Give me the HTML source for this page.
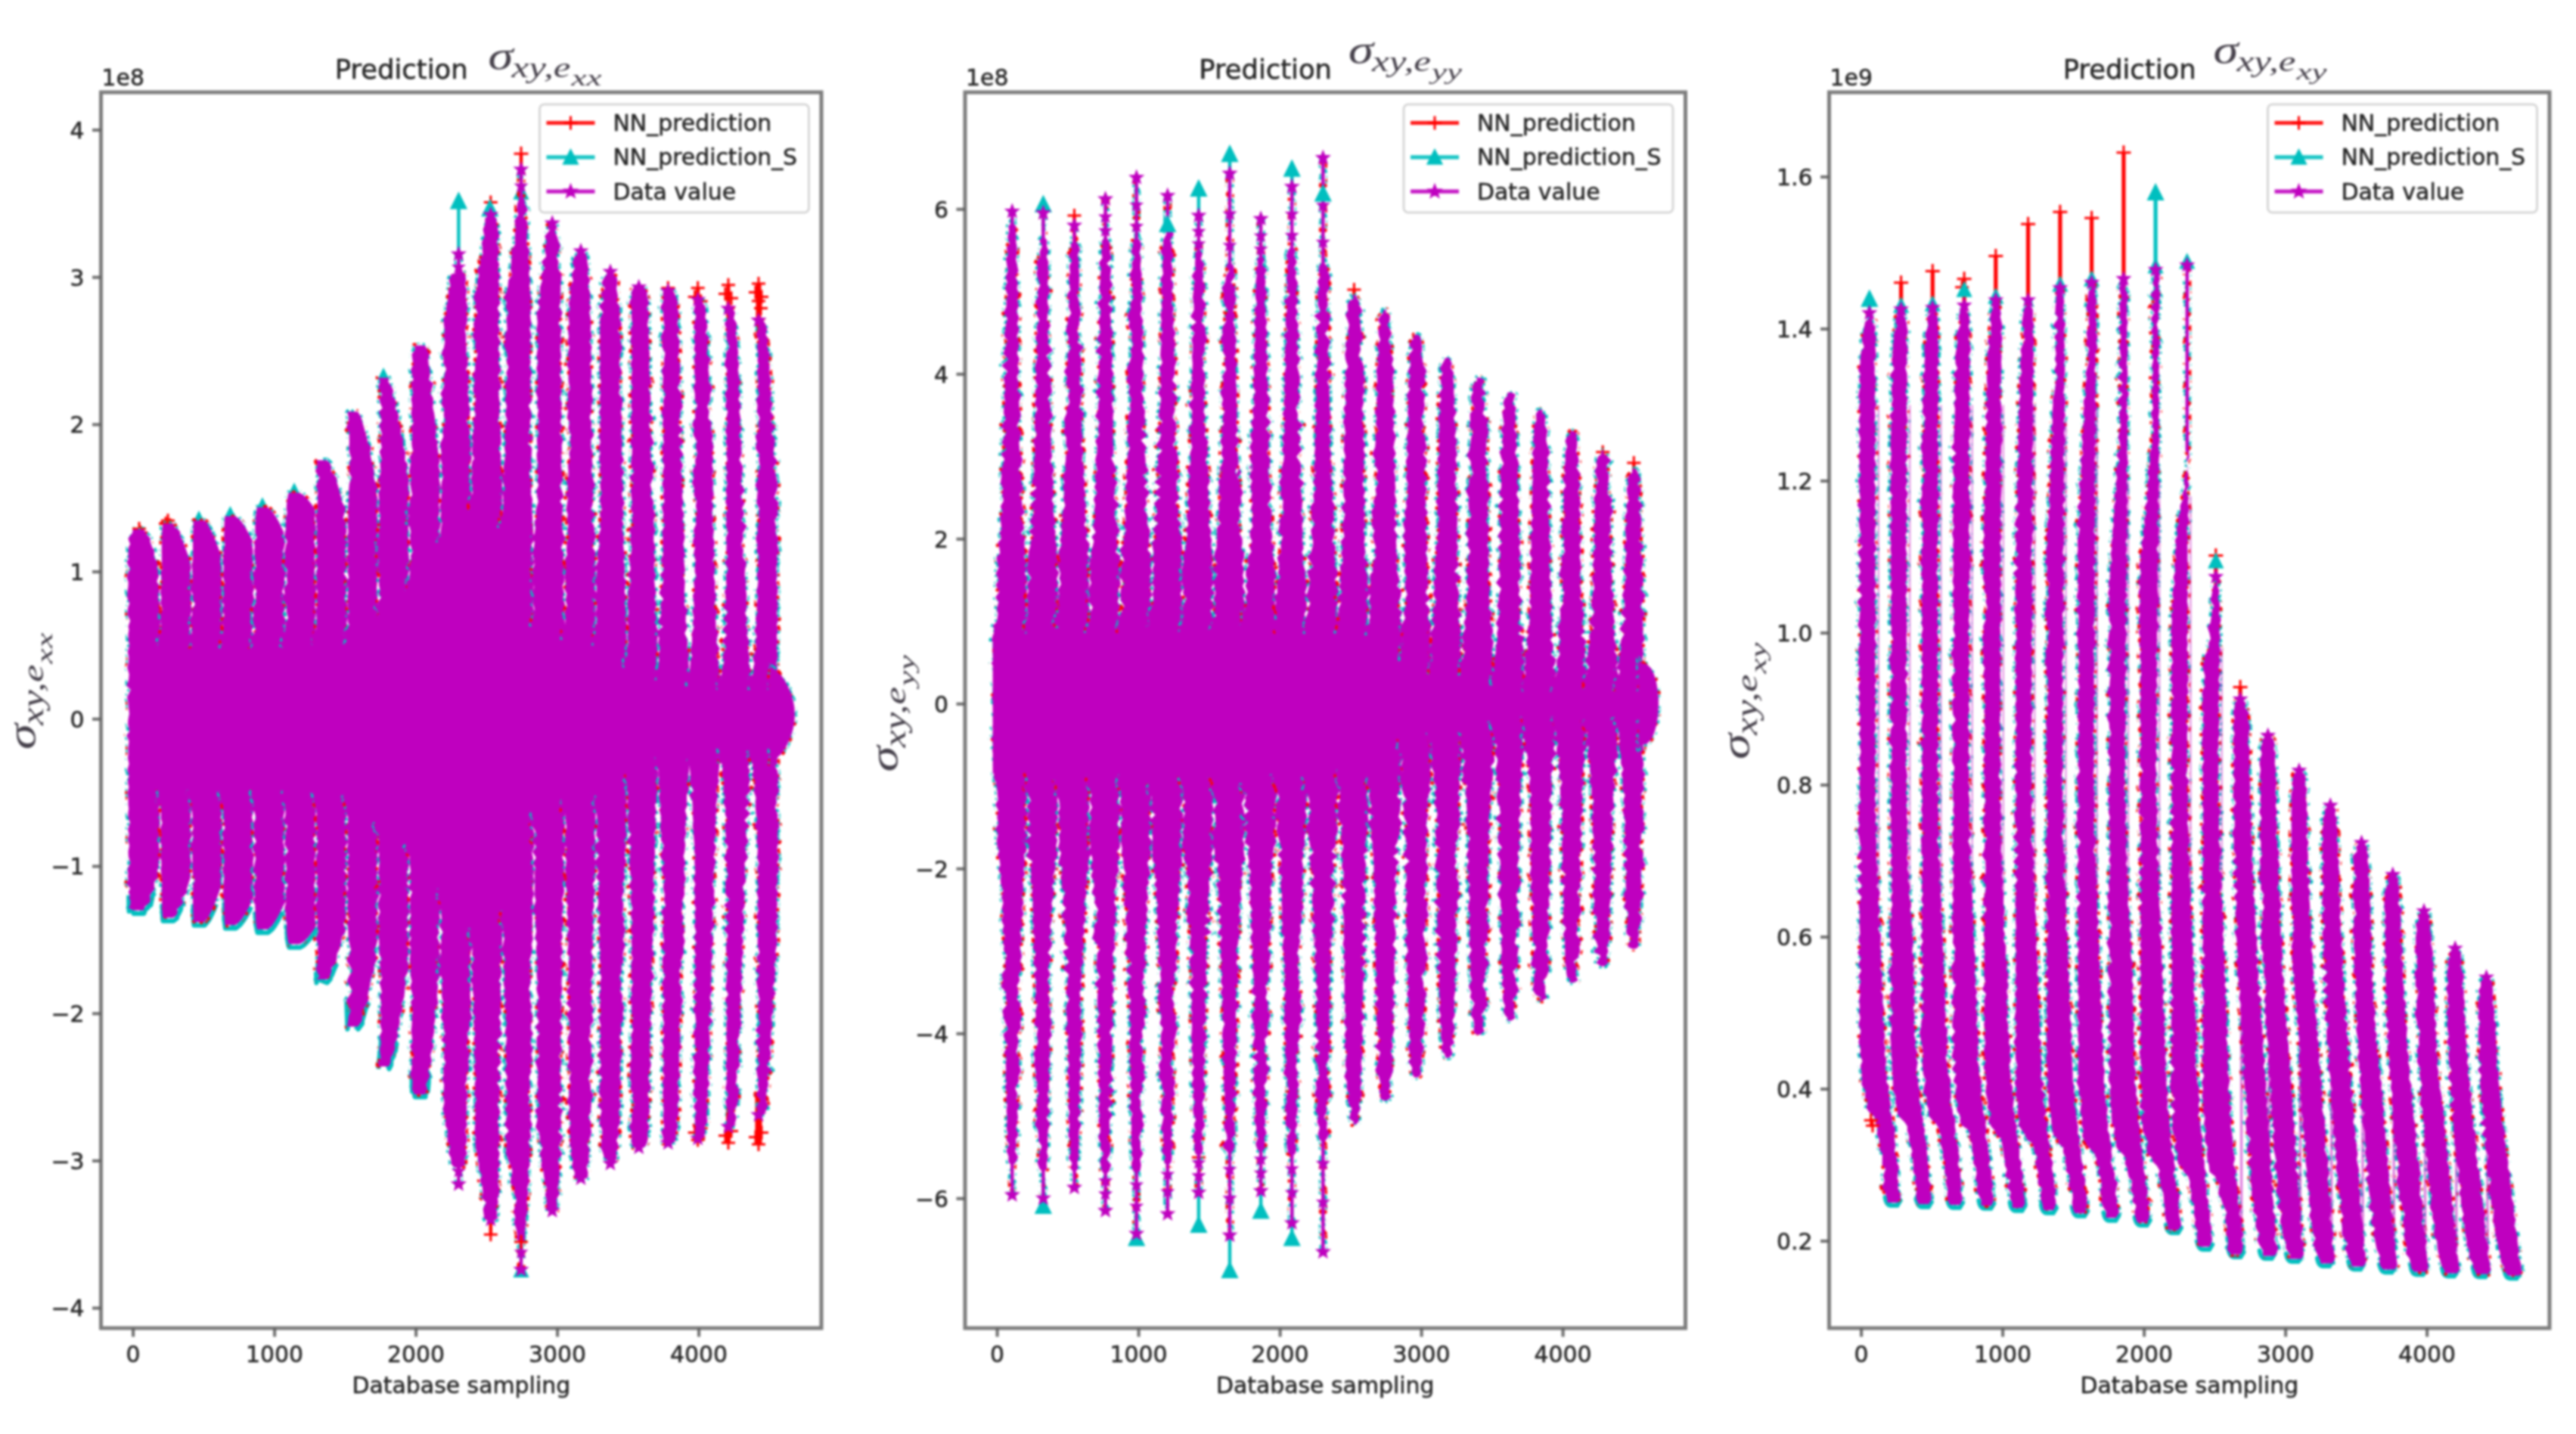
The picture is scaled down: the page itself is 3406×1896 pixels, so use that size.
<!DOCTYPE html><html><head><meta charset="utf-8"><title>Prediction plots</title><style>html,body{margin:0;padding:0;background:#fff}svg{display:block;filter:blur(1.6px)}</style></head><body><svg width="3406" height="1896" viewBox="0 0 3406 1896">
<rect width="3406" height="1896" fill="#fff"/>
<clipPath id="cp0"><rect x="133.5" y="122.0" width="952.5" height="1634.0"/></clipPath>
<g clip-path="url(#cp0)">
<pattern id="spk" patternUnits="userSpaceOnUse" width="67" height="59"><path d="M41.7 40.9l2.9 5.2h-5.7zM63.1 40.6l3 5.4h-6zM-3.9 40.6l3 5.4h-6zM1.9 24.4l3 5.5h-6.1zM68.9 24.4l3 5.5h-6.1zM43.5 51l2.1 3.8h-4.2zM31.4 11.9l2.6 4.7h-5.2zM38.5 -1.5l2.2 4h-4.5zM38.5 57.5l2.2 4h-4.5zM18.7 51.2l2.8 5.1h-5.7zM10.7 44.9l2.2 3.9h-4.3zM41.4 5.5l2 3.6h-4zM58.4 10.1l2.2 4h-4.5zM65.8 49.2l2.3 4.2h-4.6zM-1.2 49.2l2.3 4.2h-4.6zM64.4 29.1l2.7 4.9h-5.5zM-2.6 29.1l2.7 4.9h-5.5zM13.7 52.8l2.8 5h-5.5zM13.7 -6.2l2.8 5h-5.5zM64.8 50.4l2.3 4.2h-4.7zM-2.2 50.4l2.3 4.2h-4.7zM24.2 7.6l2.2 3.9h-4.3zM4.4 15.1l2.7 4.8h-5.3zM0.2 37.6l2.4 4.3h-4.7zM67.2 37.6l2.4 4.3h-4.7zM20.8 45.8l2.5 4.6h-5.1zM21.2 25.6l2.8 5h-5.6zM3.8 55.5l2 3.6h-4.1zM3.8 -3.5l2 3.6h-4.1zM70.8 55.5l2 3.6h-4.1zM70.8 -3.5l2 3.6h-4.1zM50.2 47.8l2 3.6h-4zM52.8 19l2.6 4.7h-5.3zM0.6 0.6l2.2 4h-4.4zM0.6 59.6l2.2 4h-4.4zM67.6 0.6l2.2 4h-4.4zM67.6 59.6l2.2 4h-4.4zM64 8.8l2.8 5.1h-5.7zM-3 8.8l2.8 5.1h-5.7zM62.3 53.2l2.4 4.3h-4.8zM62.3 -5.8l2.4 4.3h-4.8zM23.8 28.1l2.9 5.1h-5.7zM7.2 41.3l2.9 5.2h-5.8zM57.6 -0.9l3 5.5h-6.1zM57.6 58.1l3 5.5h-6.1zM6.1 17.4l2.7 4.8h-5.3zM61.5 17l3 5.4h-6zM36.5 16.1l2.3 4.2h-4.7zM11.9 2.4l2.2 3.9h-4.3zM46.2 56.6l2.2 3.9h-4.4zM46.2 -2.4l2.2 3.9h-4.4zM3.3 55.6l2.6 4.7h-5.2zM3.3 -3.4l2.6 4.7h-5.2zM70.3 55.6l2.6 4.7h-5.2zM70.3 -3.4l2.6 4.7h-5.2zM27.2 11.3l2.7 4.8h-5.3zM55.4 24.4l2.5 4.4h-4.9zM3.7 52l2 3.7h-4.1zM70.7 52l2 3.7h-4.1zM33.1 47.3l2.1 3.9h-4.3zM49 53.3l2.7 4.8h-5.4zM49 -5.7l2.7 4.8h-5.4zM52.8 3.8l2.5 4.5h-5zM10 47.5l2.3 4.2h-4.6zM30.4 56l2.9 5.3h-5.9zM30.4 -3l2.9 5.3h-5.9zM65.4 24.2l2.5 4.6h-5.1zM-1.6 24.2l2.5 4.6h-5.1zM48.9 25.9l2.3 4.2h-4.6zM27.1 6.2l2.4 4.3h-4.8zM66.2 53.9l2.7 4.8h-5.4zM66.2 -5.1l2.7 4.8h-5.4zM-0.8 53.9l2.7 4.8h-5.4zM-0.8 -5.1l2.7 4.8h-5.4zM33.5 17.9l2.1 3.8h-4.2zM18.2 43.2l3 5.3h-5.9zM24.2 43.5l2.9 5.1h-5.7zM46.5 36.3l2.8 5.1h-5.7zM24.3 39.3l2.3 4.2h-4.6zM32.5 42.7l2.8 5h-5.5zM19.7 53.1l2.7 4.9h-5.4zM19.7 -5.9l2.7 4.9h-5.4zM38.9 -1.9l2.6 4.7h-5.2zM38.9 57.1l2.6 4.7h-5.2zM16.8 37.1l2.5 4.5h-5zM54.7 35.3l2.9 5.2h-5.8zM23.3 35.2l2.8 5.1h-5.6zM55.5 17.7l2.9 5.3h-5.9zM58.3 37.5l3.1 5.5h-6.1zM64.1 28l2.6 4.6h-5.2zM-2.9 28l2.6 4.6h-5.2zM11.1 46.3l3 5.5h-6.1zM32 38l2.8 5h-5.6zM48.9 7.3l2.9 5.1h-5.7zM38.9 36.8l2.5 4.4h-4.9zM41.8 43l2.7 4.9h-5.4zM48.3 -0.5l2.2 3.9h-4.4zM48.3 58.5l2.2 3.9h-4.4zM29.6 36.1l2.2 4h-4.5zM46 35.2l2 3.7h-4.1zM31.6 11.3l2.1 3.7h-4.1zM8.9 16.5l2.2 4h-4.4zM13 -0.4l2.5 4.5h-5zM13 58.6l2.5 4.5h-5zM25.5 33.4l2.6 4.8h-5.3zM15.9 51.3l2 3.6h-4zM27.2 14l2.5 4.4h-4.9zM7.7 46.6l2.4 4.3h-4.8zM2.4 34.1l2.1 3.8h-4.2zM69.4 34.1l2.1 3.8h-4.2zM36.5 17.4l2.6 4.8h-5.3zM64.2 45.8l2.5 4.4h-4.9zM-2.8 45.8l2.5 4.4h-4.9zM54.5 35.5l2.4 4.3h-4.8zM9.5 32.5l2.6 4.7h-5.2zM64.1 54.4l2.7 4.8h-5.3zM64.1 -4.6l2.7 4.8h-5.3zM-2.9 54.4l2.7 4.8h-5.3zM-2.9 -4.6l2.7 4.8h-5.3zM23.5 50.7l2 3.6h-4zM7.2 30.7l2.7 4.8h-5.4zM9.4 34.2l3 5.4h-6zM25.2 23.2l2.2 4h-4.5zM19.5 55l2.4 4.4h-4.8zM19.5 -4l2.4 4.4h-4.8zM64.4 51.3l2.7 4.8h-5.3zM-2.6 51.3l2.7 4.8h-5.3zM17.4 55.3l2.5 4.6h-5.1zM17.4 -3.7l2.5 4.6h-5.1zM27.8 15.7l3.1 5.5h-6.2zM32.9 14.4l2.5 4.5h-5zM8.2 34.2l2.5 4.5h-5zM19.6 43.2l2.9 5.2h-5.8zM0.9 29.1l2.3 4.1h-4.6zM67.9 29.1l2.3 4.1h-4.6zM62.7 43.9l2.3 4.1h-4.5zM17.9 6l3.1 5.6h-6.2zM19.6 33.4l2.5 4.5h-5zM43.2 32.8l2.8 5.1h-5.6zM7.9 42.5l2.3 4.2h-4.7zM35.7 17.5l2.3 4.2h-4.7zM35.5 25l2.4 4.3h-4.8zM49.9 32.8l2 3.7h-4.1zM16.9 23.9l3 5.4h-6zM59.5 30.2l2 3.6h-4zM52.2 22.6l2.6 4.7h-5.3zM47.4 34.8l2.5 4.6h-5.1zM61.1 20.3l2.4 4.4h-4.9zM57.1 9.3l2.3 4.2h-4.7zM55.6 1l2.9 5.3h-5.8zM55.6 60l2.9 5.3h-5.8zM46.5 23.2l2.3 4.2h-4.6zM52.3 51.6l2.2 3.9h-4.3zM32.1 29.8l2.5 4.6h-5.1zM22.2 6.4l2.6 4.8h-5.3zM54.4 1.8l2.3 4.1h-4.5zM54.9 44l2.7 4.9h-5.5zM1.7 39.6l3.1 5.5h-6.2zM68.7 39.6l3.1 5.5h-6.2zM66.9 39.3l2.1 3.7h-4.1zM-0.1 39.3l2.1 3.7h-4.1zM56.4 10.2l2.7 4.9h-5.4zM63.8 39.9l2.1 3.9h-4.3zM-3.2 39.9l2.1 3.9h-4.3zM19.6 52l2.2 3.9h-4.3zM40.9 22.2l2.2 3.9h-4.4zM41.7 0.5l2.1 3.8h-4.2zM41.7 59.5l2.1 3.8h-4.2zM25.4 2.2l2.1 3.7h-4.1zM38.5 40.8l3 5.3h-5.9zM9 23.1l2.3 4.2h-4.7zM40.2 25.9l3 5.5h-6.1z" fill="#00bfbf"/><path d="M22.2 3.3h5.8M25.1 0.4v5.8M22.2 62.3h5.8M25.1 59.4v5.8M7.4 37.2h5.4M10.1 34.5v5.4M58.2 32.7h5.6M61 29.9v5.6M15.2 32.5h4.9M17.6 30.1v4.9M48 30.5h4.7M50.3 28.2v4.7M12.8 21.9h5.9M15.7 19v5.9M9.2 42.1h5.7M12 39.2v5.7M3.4 39.4h4.6M5.7 37.1v4.6M5.9 35h4.9M8.4 32.6v4.9M56.2 28.3h5M58.8 25.8v5M50.4 1.7h5.9M53.4 -1.2v5.9M50.4 60.7h5.9M53.4 57.8v5.9M0.4 8.9h6.3M3.6 5.7v6.3M67.4 8.9h6.3M70.6 5.7v6.3M43.3 13.2h4.6M45.6 10.8v4.6M62.2 39.2h6M65.2 36.2v6M-4.8 39.2h6M-1.8 36.2v6M6.8 36.9h5.1M9.4 34.3v5.1M12.9 19.7h5.6M15.7 16.8v5.6M21 22.8h4.7M23.4 20.4v4.7M52.7 38.2h6M55.7 35.2v6M26.3 50.2h5.4M29 47.5v5.4M36.8 33.8h5.9M39.7 30.9v5.9M24.3 5.7h4.5M26.5 3.5v4.5M10.5 2.3h6.2M13.6 -0.8v6.2M10.5 61.3h6.2M13.6 58.2v6.2M30 44.9h4.4M32.2 42.7v4.4M28.7 52.5h5.6M31.5 49.7v5.6M26.4 27.5h4.6M28.7 25.2v4.6M7.8 9.4h5.1M10.4 6.8v5.1M23.5 51.9h4.7M25.8 49.6v4.7" stroke="#ff0000" stroke-width="2.4" fill="none"/></pattern>
<line x1="606.4" y1="366.7" x2="606.4" y2="265.5" stroke="#00bfbf" stroke-width="4.4"/><path d="M606.4 255.5L616.4 275.5H596.4Z" fill="#00bfbf" stroke="#00bfbf" stroke-width="2" stroke-linejoin="miter"/><line x1="648.8" y1="308.3" x2="648.8" y2="269.4" stroke="#ff0000" stroke-width="4.4"/><path d="M648.8 258.4V276.4M639.8 267.4H657.8" stroke="#ff0000" stroke-width="3" fill="none"/><path d="M647.8 265.2L657.8 285.2H637.8Z" fill="#00bfbf" stroke="#00bfbf" stroke-width="2" stroke-linejoin="miter"/><line x1="689" y1="249.9" x2="689" y2="203.2" stroke="#ff0000" stroke-width="4.4"/><path d="M689 193.7V212.7M679.5 203.2H698.5" stroke="#ff0000" stroke-width="3" fill="none"/><path d="M689 244.8L698 262.8H680Z" fill="#00bfbf" stroke="#00bfbf" stroke-width="2" stroke-linejoin="miter"/><path d="M689 318.8L698 336.8H680Z" fill="#00bfbf" stroke="#00bfbf" stroke-width="2" stroke-linejoin="miter"/><path d="M606.4 367.4L615.4 385.4H597.4Z" fill="#00bfbf" stroke="#00bfbf" stroke-width="2" stroke-linejoin="miter"/><line x1="648.8" y1="1593.3" x2="648.8" y2="1632.2" stroke="#ff0000" stroke-width="4.4"/><path d="M648.8 1623.2V1641.2M639.8 1632.2H657.8" stroke="#ff0000" stroke-width="3" fill="none"/><path d="M689 1584.3V1602.3M680 1593.3H698" stroke="#ff0000" stroke-width="3" fill="none"/><path d="M689 1670L698 1688H680Z" fill="#00bfbf" stroke="#00bfbf" stroke-width="2" stroke-linejoin="miter"/><path d="M730.2 1564.8V1582.8M721.2 1573.8H739.2" stroke="#ff0000" stroke-width="3" fill="none"/><line x1="883.3" y1="405.6" x2="883.3" y2="380.7" stroke="#ff0000" stroke-width="5"/><path d="M883.3 371.7V389.7M874.3 380.7H892.3" stroke="#ff0000" stroke-width="3" fill="none"/><line x1="922.7" y1="417.3" x2="922.7" y2="380.7" stroke="#ff0000" stroke-width="5"/><path d="M922.7 371.7V389.7M913.7 380.7H931.7" stroke="#ff0000" stroke-width="3" fill="none"/><path d="M918.7 383.4V401.4M909.7 392.4H927.7" stroke="#ff0000" stroke-width="3" fill="none"/><path d="M926.7 389.2V407.2M917.7 398.2H935.7" stroke="#ff0000" stroke-width="3" fill="none"/><line x1="922.7" y1="1474.5" x2="922.7" y2="1507.3" stroke="#ff0000" stroke-width="6"/><path d="M922.7 1498.3V1516.3M913.7 1507.3H931.7" stroke="#ff0000" stroke-width="3" fill="none"/><path d="M918.7 1488.5V1506.5M909.7 1497.5H927.7" stroke="#ff0000" stroke-width="3" fill="none"/><path d="M926.7 1482.7V1500.7M917.7 1491.7H935.7" stroke="#ff0000" stroke-width="3" fill="none"/><line x1="963" y1="429" x2="963" y2="376.8" stroke="#ff0000" stroke-width="5"/><path d="M963 367.8V385.8M954 376.8H972" stroke="#ff0000" stroke-width="3" fill="none"/><path d="M959 379.5V397.5M950 388.5H968" stroke="#ff0000" stroke-width="3" fill="none"/><path d="M967 385.3V403.3M958 394.3H976" stroke="#ff0000" stroke-width="3" fill="none"/><line x1="963" y1="1459" x2="963" y2="1511.1" stroke="#ff0000" stroke-width="6"/><path d="M963 1502.1V1520.1M954 1511.1H972" stroke="#ff0000" stroke-width="3" fill="none"/><path d="M959 1492.4V1510.4M950 1501.4H968" stroke="#ff0000" stroke-width="3" fill="none"/><path d="M967 1486.6V1504.6M958 1495.6H976" stroke="#ff0000" stroke-width="3" fill="none"/><line x1="1003" y1="444.6" x2="1003" y2="374.9" stroke="#ff0000" stroke-width="7"/><path d="M1003 365.9V383.9M994 374.9H1012" stroke="#ff0000" stroke-width="3" fill="none"/><path d="M999 377.6V395.6M990 386.6H1008" stroke="#ff0000" stroke-width="3" fill="none"/><path d="M1007 383.4V401.4M998 392.4H1016" stroke="#ff0000" stroke-width="3" fill="none"/><path d="M1003 388.9V406.9M994 397.9H1012" stroke="#ff0000" stroke-width="3" fill="none"/><path d="M1006 398.6V416.6M997 407.6H1015" stroke="#ff0000" stroke-width="3" fill="none"/><line x1="1003" y1="1443.4" x2="1003" y2="1513.1" stroke="#ff0000" stroke-width="9"/><path d="M1003 1504.1V1522.1M994 1513.1H1012" stroke="#ff0000" stroke-width="3" fill="none"/><path d="M999 1494.4V1512.4M990 1503.4H1008" stroke="#ff0000" stroke-width="3" fill="none"/><path d="M1007 1488.5V1506.5M998 1497.5H1016" stroke="#ff0000" stroke-width="3" fill="none"/><path d="M184 690.1V708.1M175 699.1H193" stroke="#ff0000" stroke-width="3" fill="none"/><path d="M186 694.9V712.9M177 703.9H195" stroke="#ff0000" stroke-width="3" fill="none"/><path d="M222 679.3V697.3M213 688.3H231" stroke="#ff0000" stroke-width="3" fill="none"/><path d="M225 685.2V703.2M216 694.2H234" stroke="#ff0000" stroke-width="3" fill="none"/><path d="M219 683.2V701.2M210 692.2H228" stroke="#ff0000" stroke-width="3" fill="none"/><polyline points="170.2,1183.8 170.6,1204.9 171.1,1191.9 172.2,1188.4 172.8,1199.9 172.9,1195.2 176.5,1208 190.5,1208 192,1203 195.8,1199.9 198.8,1188.3 199.1,1191.9 199.3,1197 201.9,1183.8 204.8,1180.5" fill="none" stroke="#00bfbf" stroke-width="6" stroke-linejoin="round"/><polyline points="214.4,1195 214.6,1202.6 214.9,1210.2 215.5,1217.8 229.5,1217.8 234.1,1214 234.5,1206.5 235.3,1210.2 239,1202.6 240.7,1192.2 242.1,1195 242.8,1198.5" fill="none" stroke="#00bfbf" stroke-width="6" stroke-linejoin="round"/><polyline points="255.5,1195.4 255.6,1202.4 255.7,1209.5 256,1216.5 256.5,1223.6 270.5,1223.6 274.5,1218.9 276.4,1216.5 280,1209.5 283.2,1202.4 286,1195.4" fill="none" stroke="#00bfbf" stroke-width="6" stroke-linejoin="round"/><polyline points="296.6,1199 296.7,1203.8 296.8,1208.5 296.9,1213.3 297.1,1218 297.4,1222.7 297.9,1227.5 311.9,1227.5 317.7,1222.7 321.3,1218 324.4,1213.3 327.2,1208.5 329.8,1203.8 332.2,1199" fill="none" stroke="#00bfbf" stroke-width="6" stroke-linejoin="round"/><polyline points="337.8,1205.5 337.9,1210.1 338.1,1214.8 338.4,1219.4 338.8,1224.1 339.4,1228.7 340.5,1233.3 354.5,1233.3 359.9,1228.7 363.3,1224.1 366.2,1219.4 368.8,1214.8 371.3,1210.1 373.5,1205.5" fill="none" stroke="#00bfbf" stroke-width="6" stroke-linejoin="round"/><polyline points="379.2,1231.9 379.4,1234.9 379.6,1225.7 379.6,1237.9 379.9,1240.9 380.3,1243.9 380.8,1246.8 381.3,1249.8 382.5,1252.8 396.5,1252.8 401.7,1249.8 404.9,1246.8 407.6,1243.9 410.1,1240.9 412.4,1237.9 414.6,1234.9 416.6,1231.9 419,1226.3" fill="none" stroke="#00bfbf" stroke-width="6" stroke-linejoin="round"/><polyline points="417.9,1285.2 418.5,1299.5 419.6,1289.8 420.1,1280.1 420.2,1274.7 422.9,1295.8 432.5,1299.5 436.8,1294.8 438.7,1284.1 438.7,1289.8 442.6,1280.1 445.5,1274.2" fill="none" stroke="#00bfbf" stroke-width="6" stroke-linejoin="round"/><polyline points="458.2,1325.9 459.5,1360.8 460.6,1353.4 461.3,1347.3 462.1,1333.7 464,1340.2 473.5,1360.8 479,1353.7 479.2,1340.2 479.7,1347.3 483.6,1333.7 487.7,1325.9" fill="none" stroke="#00bfbf" stroke-width="6" stroke-linejoin="round"/><polyline points="500.5,1413.4 500.8,1407.2 502.3,1390.8 502.9,1395.9 503.6,1378.4 504.1,1402.5 504.4,1383.1 514.5,1413.4 517.2,1408.2 517.3,1401.9 520.7,1395.9 522.3,1384.1 522.9,1389.7 524.6,1378.4" fill="none" stroke="#00bfbf" stroke-width="6" stroke-linejoin="round"/><polyline points="542.1,1424 544.3,1418.4 545,1443.5 545.6,1438.5 545.8,1431.2 548.5,1450.4 562.5,1450.4 563.6,1437.5 565.7,1443.1 566.7,1431.2 566.7,1419.5 569.2,1426" fill="none" stroke="#00bfbf" stroke-width="6" stroke-linejoin="round"/><path d="M263 677.2L269.5 690.2H256.5Z" fill="#00bfbf" stroke="#00bfbf" stroke-width="2" stroke-linejoin="miter"/><path d="M304.4 671.3L310.9 684.3H297.9Z" fill="#00bfbf" stroke="#00bfbf" stroke-width="2" stroke-linejoin="miter"/><path d="M347 659.6L353.5 672.6H340.5Z" fill="#00bfbf" stroke="#00bfbf" stroke-width="2" stroke-linejoin="miter"/><path d="M389 640.2L395.5 653.2H382.5Z" fill="#00bfbf" stroke="#00bfbf" stroke-width="2" stroke-linejoin="miter"/><path d="M507 488.3L513.5 501.3H500.5Z" fill="#00bfbf" stroke="#00bfbf" stroke-width="2" stroke-linejoin="miter"/>
<g fill="#bf00bf" stroke="url(#spk)" stroke-width="6.8" stroke-linejoin="round" paint-order="stroke"><polygon points="176,700 174.8,705 172.3,708 169.4,712.1 170.7,716 172.1,719.3 169.8,724.1 169.7,728.4 169.5,732.1 169.8,735.1 169.5,740.1 167.6,743.1 169.5,748.1 172.7,752.6 169.5,756.1 167.5,763.7 169.7,769.4 169.5,775.6 168.3,782.3 168.2,790.7 171.2,797.4 168.9,804.5 168.5,813 172.1,820.7 169.5,828.1 170.5,833 169.5,837.9 169.5,845.7 171.1,853.1 168.7,861.9 170.2,869 169.9,875.3 168.2,882.7 170.7,891.4 170,899.1 167.4,906.8 172.7,912.1 168,921.7 169.5,929.4 169.8,934.8 170.9,944 169.5,950.8 169.1,957.3 171.1,966.9 167.3,972.4 170.5,979.9 169.3,989.1 169.7,996 168.9,1002.6 170.6,1010 168.4,1017.5 170.4,1025.2 168.9,1034.5 170.4,1040.4 168.6,1047.7 169.5,1055.9 169.5,1063.7 170.3,1069.4 169.5,1073.5 169.2,1080 171.9,1087.8 169,1096.6 170.5,1103 168.8,1110 171,1117.9 169.5,1126 169.9,1132.7 172.4,1141.1 169.5,1147 168.5,1151.2 169.5,1155.1 169,1158.3 169.5,1163.1 167,1168.2 169.5,1171.2 172.2,1174.7 169.7,1179.3 171.7,1183.9 170.6,1187.4 172.4,1190.7 172.3,1195.4 170.1,1200.4 176,1203.5 190,1203.5 191.5,1198.5 195.3,1195.4 198.8,1192.5 198.6,1187.4 198.3,1183.8 201.4,1179.3 204.3,1176 204,1171.2 203.9,1166.7 206.3,1163.1 209.1,1159.6 208.5,1155.1 207.9,1150.4 210.6,1147 209.6,1140.9 212.2,1132.5 211.4,1126 210.1,1117.8 211.4,1110.5 211.6,1102.4 211,1095.7 211.8,1087.6 211.3,1081.9 211.6,1073.5 209.3,1069 212.2,1063.7 215.9,1060 215.2,1055.9 215,1047.3 215.5,1041.9 214.1,1034.5 215.9,1026.2 213.8,1018.9 216.7,1012.1 214.1,1003.5 216.4,996.8 214.4,988.8 216.6,981.8 213.6,973.8 216.5,966.7 214.7,959 215.2,950.8 217.4,943.5 214.2,935.5 216.1,928.5 213.8,921.1 215.8,914.2 212.7,905.5 215.2,898.4 212.8,891.5 214.6,883.8 213.5,875.9 215.7,867.5 213.9,860.7 217.2,854.2 215.2,845.7 214.8,840.6 212.2,837.9 215.3,833.4 211.6,828.1 213,819.8 214.6,813.5 211,806.5 211.9,798.5 209.2,790.4 210.7,784.1 211.4,775.6 207.3,768.8 210,762.1 210.6,756.1 207.5,752.1 208.5,748.1 208.2,744.9 206.3,740.1 203.8,737.2 204,732.1 204.1,727.3 201.4,724.1 199.7,719.5 198.6,716 198.8,711.8 195.3,708 192.4,704 190,700"/><polygon points="215,692.2 214.4,699.7 214.1,707.1 213.9,714.6 213.8,722.1 213.8,729.5 213.8,737 213.8,744.4 214.6,752.1 212.1,756.4 213.3,763.9 214.5,770.6 213,775.6 211.8,783.6 213.5,790.1 212,796.9 214.7,805.5 211.8,813.9 212.6,819.8 212.9,828.1 213.4,833.3 212.2,837.9 210.6,842.1 209.2,845.7 209,853.9 211.9,861.1 206.3,868.1 211.3,874.5 208.8,883.7 208,890.2 210.7,898.7 208.4,906 209,913 210.3,921.7 208.4,929.3 210.9,934.9 208.1,943.6 209.2,950.8 212.1,958 205.9,966.7 213,974.4 206.9,981.2 209.3,988.9 209.8,996.2 209.9,1002.7 206.2,1012 211.6,1018.5 209.3,1025.5 210.6,1034.3 207,1039.9 209.5,1048.5 209.2,1055.9 209,1059.8 212.2,1063.7 213,1069.3 212.9,1073.5 212.7,1081.7 214.4,1088.1 211.9,1095.1 213.5,1103.5 211.1,1111.8 214.3,1119.6 213,1126 211.5,1132.9 213,1137.7 213.4,1142.9 212.4,1148.9 213,1155.2 213.8,1160.3 213.8,1167.8 213.8,1175.4 213.8,1183 213.9,1190.5 214.1,1198.1 214.4,1205.7 215,1213.3 229,1213.3 233.6,1209.5 234.8,1205.7 234,1202 238.5,1198.1 242.3,1194 241.6,1190.5 240.2,1187.7 244.4,1183 247.7,1180 247,1175.4 249.4,1167.8 251.8,1160.3 252,1155.2 251.1,1149.5 253.8,1142.8 252.6,1137.7 251.7,1131.9 252.6,1126 253.3,1117.4 251.3,1111 254.1,1104.2 251,1096 253.8,1087.4 252.1,1080.8 252.7,1073.5 254.3,1069.6 253.4,1063.7 253.3,1059.8 256.4,1055.9 257.7,1048.3 256,1041.9 258.2,1033 255.3,1026.2 256.8,1017.5 253.4,1009.7 255.8,1002.7 254.3,995.4 257.4,988.6 256.6,981.4 258.8,973.4 257.6,965.1 259.9,958.2 256.4,950.8 257.5,943.1 259.3,935 256.9,928.6 258.4,920.8 255.1,913.5 257.5,905.1 254.2,899 256.6,890.3 253.7,884.2 255.2,876.9 252.7,867.3 255.1,861.2 253.4,852.2 256.4,845.7 254.6,841.6 253.4,837.9 250.5,832.1 252.7,828.1 253.4,821.1 252.2,812.4 254.5,806.6 251.9,797.2 254.8,791.2 252.5,783.5 252.6,775.6 254,768.7 252.6,763.9 251.6,756.3 252.9,750.9 251.8,744.4 249.4,737 247,729.5 244.4,722.1 241.6,714.6 239.2,710 238.5,707.1 238.1,702.7 234.8,699.7 230.9,697.1 229,692.2"/><polygon points="256,688.3 255.5,695.2 255.2,702.1 255.1,709 255,715.9 255,722.8 255,729.7 255,736.6 254.4,742.1 253.6,749.5 254.4,756.1 254.2,763.9 254.1,770.6 251.1,778.2 254.7,785.5 255.1,792.9 257.9,798.8 254,807.3 253.9,813.1 250.7,821 254,828.1 253.6,834 253.4,837.9 252.2,842.3 250.4,845.7 254.1,853.5 250,860.9 250.2,869.4 246.6,875.1 249.9,883.8 248.4,891.5 252.5,899.2 250.9,906.2 253.5,913.9 249.9,921.3 250.3,927.9 247.8,934.6 250.1,943.6 250.4,950.8 249.7,957.7 253,966.2 250.2,973.7 251.7,980.9 248.9,989.5 250.9,996.3 248.6,1004.5 251.2,1011.2 249.5,1017.8 251.8,1024.8 249.5,1033.1 250.6,1040.3 248.4,1048.5 250.4,1055.9 253.4,1061 253.4,1063.7 253.1,1069.8 254,1073.5 254.6,1081.3 252.5,1088 255.6,1093.8 253.7,1101.2 255.7,1108.4 251.9,1116.6 253.8,1124.5 254.2,1130.6 254.2,1137.7 254.4,1145.5 254.2,1151.2 254.8,1158 257.9,1163.1 255,1169.7 255,1176.8 255,1183.8 255,1190.9 255.1,1197.9 255.2,1205 255.5,1212 256,1219.1 270,1219.1 274,1214.4 275.9,1212 279.5,1205 282.7,1197.9 285.5,1190.9 288.1,1183.8 290.6,1176.8 292.9,1169.7 291.3,1162.5 294.4,1158.2 292.9,1152.5 293.7,1145.5 293.7,1137.7 294.8,1129.5 292,1124.5 295,1117.3 292.4,1109.1 295.1,1101.4 293.2,1095.9 295.3,1087.7 291.7,1081.4 293.9,1073.5 295.7,1067.7 294.5,1063.7 295.5,1059.7 297.5,1055.9 297.9,1047.4 295.4,1040 297.9,1033.8 296.6,1025.3 299.7,1018.2 297.6,1011 300.6,1004.5 297.2,995.2 298.6,989.3 295.7,981.1 297.4,972.8 294.5,966 296.6,958.6 297.5,950.8 293.7,942.5 296,936.9 293.7,929.2 296.1,919.7 294.8,913.1 297.2,904.8 295.2,897.2 297.5,891.1 296,883.5 298.6,875.6 297.1,867.8 299.7,861.5 298,852.3 297.5,845.7 299,842.1 294.5,837.9 294.5,832.3 293.9,828.1 296.5,820.4 293.9,813.5 296.3,807.9 293.7,799.7 295.6,793.5 292.8,785 294.3,779.1 292.5,770 293.7,763.9 293.7,756.1 294,749.6 291.5,742.6 292.9,736.6 290.6,729.7 288.1,722.8 285.5,715.9 282.7,709 279.5,702.1 275.9,695.2 273.8,690.8 270,688.3"/><polygon points="297.4,682.5 296.9,687.2 296.6,691.8 296.4,696.5 296.3,701.2 296.2,705.9 296.1,710.5 296.1,715.2 297.5,720.1 295.3,726.9 295.3,734.7 294.3,742.4 295.8,748.4 295.3,756.1 294.5,763 297.2,770.2 295.1,778.2 296.4,785.9 293.2,793.1 295.9,800.1 294.4,806.1 296.7,814.8 293.9,820.3 295.2,828.1 295.2,832.7 294.5,837.9 292,841.5 291.5,845.7 293.2,852.4 289.9,861.4 291.7,869 290.8,874.9 294,884.1 290,889.6 291.5,898.3 291.6,906.9 293.5,914 288.9,920.9 293.6,927.3 292.2,936.3 290.8,942.3 291.5,950.8 290.7,957.5 291,966.2 293.1,972.7 290.5,980.9 292.2,988.1 290.8,997 291.7,1003.4 291.1,1011.4 292.1,1019.4 290.3,1026.7 292.7,1034.3 291.2,1041.7 290.1,1049.5 291.5,1055.9 294,1059.9 294.5,1063.7 295,1069.3 295.2,1073.5 295.6,1080.5 296,1088.4 297.4,1094.8 293.3,1101.6 295.1,1109 293.6,1115.6 296.9,1123 295,1131.8 296.8,1137.2 295.3,1145.5 294.2,1152.8 296.5,1158.7 295.3,1166.9 295.3,1174.7 294.6,1181.5 296.1,1189.8 296.1,1194.5 296.2,1199.3 296.3,1204 296.4,1208.8 296.6,1213.5 296.9,1218.2 297.4,1223 311.4,1223 317.2,1218.2 320.8,1213.5 323.9,1208.8 326.7,1204 329.3,1199.3 331.7,1194.5 334.1,1189.8 336.4,1182.8 334.6,1174.7 334.9,1166.9 332.8,1159.1 335.4,1152.1 334.9,1145.5 334.7,1138.9 336.1,1131.2 333.1,1123.8 335.3,1117.6 333.4,1109.1 336.6,1103.4 334.3,1094.4 335.5,1088.9 333,1080.4 335,1073.5 336.9,1068.6 335.7,1063.7 336.9,1061 338.7,1055.9 338.9,1047.8 337.9,1040.9 340.9,1034.1 337.4,1026.2 338,1017.6 338.2,1010.3 341.6,1003.4 335.9,997 339.2,988.4 339.9,981.5 337.6,974.1 337.2,966.6 341,957.8 338.7,950.8 339.6,942.3 338.2,935.7 337.8,928.5 340,920.3 337.2,913.1 340.2,904.8 337.7,897.5 338.6,890.8 339.9,884 337.2,875.2 339.4,867.7 340.3,861.2 335.7,853.6 338.7,845.7 336.3,841.5 335.7,837.9 332.5,834.1 335,828.1 336.5,821.3 333,813.4 335.4,805.9 334.1,799.2 336.6,793.3 334.4,784.2 336.6,777.2 334,770.6 335.5,762.9 334.9,756.1 333.3,749.4 335.2,741.1 334.9,734.7 334.5,726.9 333.3,720.6 334.1,715.2 331.7,710.5 329.3,705.9 326.7,701.2 323.9,696.5 320.8,691.8 317.2,687.2 311.4,682.5"/><polygon points="340,670.8 338.9,675.5 338.3,680.2 337.9,684.8 337.6,689.5 337.4,694.2 337.3,698.9 337.3,703.5 339.6,710.6 335.8,717.3 336.8,723 336,728 336.5,734.7 337.7,742.9 338.7,749.5 333.9,758.9 335.3,764.9 335,772.8 339,781.2 338.1,790.2 338.2,797 333.5,805.4 335.2,812.3 333.8,820.1 336.3,828.1 338.4,832.8 335.7,837.9 335.2,842.9 332.7,845.7 334.2,853.6 329.9,859.5 331.5,867.8 330,874.8 333.7,883.2 332.6,891.5 335.5,897.4 332.3,906.7 333.7,912.9 330.5,919.9 332.8,929.4 331,936.3 334.4,942.6 332.7,950.8 331.8,958.6 333.6,964.8 331.3,973.5 333.4,980.4 330.9,988 334,995 331.6,1002.5 334.4,1011 331.2,1018.5 332.9,1026.9 330.9,1034.2 334.5,1040 331.9,1047.9 332.7,1055.9 334.8,1059.2 335.7,1063.7 334.2,1069.4 336.3,1073.5 338.4,1081.4 335.2,1087.9 335.7,1098 335.5,1105 338.8,1112.8 333.5,1119.9 336.8,1128.7 338,1135 336.4,1142.7 334.3,1151.5 339.7,1159.2 336.5,1166.9 334.7,1172.9 336.8,1178.6 337.1,1184.9 334.6,1190.9 337.3,1196.4 337.3,1201 337.4,1205.6 337.6,1210.3 337.9,1214.9 338.3,1219.6 338.9,1224.2 340,1228.8 354,1228.8 359.4,1224.2 362.8,1219.6 365.7,1214.9 368.3,1210.3 370.8,1205.6 373,1201 375.2,1196.4 378.8,1190.7 376.6,1184.3 376,1178.6 376.8,1173.2 376,1166.9 373.3,1159.7 377.2,1152.5 375.8,1144.4 378.2,1135.6 374.9,1128.9 376.3,1120.2 374.3,1113.4 377.2,1103.5 375.5,1097.8 377.9,1089.3 374.6,1080.8 376.2,1073.5 377.3,1067.6 376.8,1063.7 377.8,1059.7 379.8,1055.9 381.3,1048.2 378.8,1041.4 380.3,1032.8 378.9,1025.6 381.4,1017.4 378.6,1012 380.3,1004.2 378.1,996.6 381.6,988.9 379.4,981.8 379.4,974 378.4,965.9 383,957.1 379.8,950.8 377.2,942.8 382.2,934.7 378.9,929 378.7,920.4 380.5,912.2 380.1,906.7 377.6,898.2 383.6,891.9 376.1,882.5 383.1,876.7 376.3,867.5 383.1,860.3 376.9,852.4 379.8,845.7 380.5,843 376.8,837.9 377.4,833.3 376.2,828.1 378.8,821.3 373.4,811.6 377.6,804.3 376.5,797.9 376.9,788.3 373.1,782.5 376.7,772.6 376.1,765.4 378.7,757.3 376.3,749.6 378,743.2 376,734.7 374.3,729.2 376,723 377.4,716.7 375.2,709.5 375.2,703.5 373,698.9 370.8,694.2 368.3,689.5 365.7,684.8 362.8,680.2 359.4,675.5 354,670.8"/><polygon points="382,651.4 380.8,654.4 380.3,657.4 379.8,660.4 379.4,663.4 379.1,666.4 378.9,669.4 378.7,672.4 379.7,678.3 378,684.4 377.7,691.8 377.6,693.8 377.7,701 375.9,708.5 379.7,715.9 377.6,723 376,730.2 376.9,737.6 375.7,747 379.9,753.6 378.7,761.2 379.9,770.9 375.3,777.4 376.3,785 374.5,793.1 379.1,801 378.6,808.3 381,817.1 377.4,824.2 377.4,828.1 377.1,834 376.8,837.9 375.3,841.8 373.8,845.7 372.1,853.2 376.3,861.1 374.6,869.3 376.3,876.4 373.6,883.5 373.9,890.6 370.9,898.9 373.9,905.1 372.3,912.6 375.6,920.8 374.2,928.5 375.9,936 372.5,942.5 373.8,950.8 373.9,957.2 372.3,965.7 375,972.8 372.9,979.8 375.7,988.5 372.6,996.6 374.2,1002.5 372.4,1009.8 374.8,1018.7 373.3,1025.3 375.5,1032.4 372.1,1040.1 373.8,1047.6 373.8,1055.9 375.3,1059.8 376.8,1063.7 377.1,1067.6 377.4,1073.5 377.4,1077.4 375,1085.9 379.9,1091.9 377.7,1100.4 376.9,1109.6 376,1116.3 381,1125.2 376.2,1131.8 377.2,1138.6 379,1148.4 377.4,1155 375.6,1162.8 380.6,1169.7 377.6,1178.6 377.8,1186.5 378.4,1192.6 376.1,1200.6 377.6,1207.8 377.7,1209.8 377.7,1215.5 379.1,1221.2 378.7,1227.4 378.9,1230.4 379.1,1233.4 379.4,1236.4 379.8,1239.4 380.3,1242.3 380.8,1245.3 382,1248.3 396,1248.3 401.2,1245.3 404.4,1242.3 407.1,1239.4 409.6,1236.4 411.9,1233.4 414.1,1230.4 416.1,1227.4 418.5,1221.8 416.6,1215.4 417.1,1209.8 417.1,1207.8 417.8,1199.4 415.9,1193.7 419.2,1186.1 417.2,1178.6 415.2,1170.7 417.3,1163.8 416.9,1155.9 419.1,1147.1 415.4,1139.8 417.2,1131.2 418,1124 418,1116.2 414,1108.9 420.6,1100 415.9,1091.9 417.2,1084.8 417.3,1077.4 417.6,1073.5 417.9,1067.6 419.4,1063.7 420.9,1059.8 420.9,1055.9 418.5,1047.3 423.8,1040.3 417.7,1034.4 424.5,1025.3 418,1017.6 423.9,1010.5 419.2,1003.9 421.5,994.7 422.1,988.1 419.7,981.8 420.2,974 423.8,964.8 418.7,957.7 420.9,950.8 422.8,942.5 420.9,934.7 421.3,928.1 418.6,919.9 421.9,912.7 420.3,906.1 422.6,897.5 420.2,891.2 421.5,882.9 418.9,875 421.8,867.8 420.6,859.6 421.8,853.5 420.9,845.7 420.9,841.8 419.4,837.9 417.9,834 417.6,828.1 417.3,824.2 416.6,817.2 418.4,808.2 416.5,801.9 417.3,793.5 416.8,786.4 419.2,776.9 415,768.7 417,761.7 415.7,753.9 417.7,746.4 415.6,737.8 416.8,730.7 417.2,723 415.3,716.1 419.4,707.4 418.2,700.9 417.1,693.8 417.1,691.8 416,685.6 417.2,679 416.1,672.4 414.1,669.4 411.9,666.4 409.6,663.4 407.1,660.4 404.4,657.4 401.2,654.4 396,651.4"/><polygon points="418,608.5 419.3,613.1 419.1,618.2 416.9,622 419.6,627.9 422.5,631.6 419.7,637.6 417.8,642.6 419.7,647.2 420.2,651.7 419.7,656.9 420.1,660.6 419.7,666.6 419.7,672.4 419.7,676.3 417.3,683.5 418.7,691.8 418.7,695.7 419.3,702.9 418.3,711.8 419.8,719.1 417.6,728.4 420.4,735.6 416.9,743 419.8,750.6 417.7,759.9 419.4,767.9 417.3,774 419.9,782.3 418.4,791.8 420,797.8 417.5,806.9 418.4,813.2 418.6,822.3 418.6,824.2 418.1,832 417.9,834 415.7,839.8 414.9,841.8 414.7,849.3 417.3,857.3 415.6,865.2 418.3,873.1 415.7,881.8 418,888.1 415.5,895.8 418.1,904.5 415.3,913 417.8,918.8 415,927.4 417.2,934.9 414.8,943.6 414.9,950.8 416.4,958 414.2,966 415.6,974.2 413.8,980.9 415,988.8 412.7,996.6 414.9,1006 412.6,1012.3 415,1021.8 412.8,1028.1 414.6,1037.2 412.6,1044.8 414.7,1052.6 414.9,1059.8 415.7,1061.8 417.9,1067.6 418.1,1069.6 418.6,1077.4 418.6,1079.3 418,1086.8 420.5,1095.9 417.8,1103.2 420.2,1111.4 417.7,1119.6 420.1,1125.9 417.4,1135.1 419,1141.8 417.5,1150.7 420,1159.5 418.2,1166.8 420.5,1174.5 418.5,1183.2 420.3,1189 416.4,1197 418.7,1205.9 418.7,1209.8 420.2,1214.9 419.5,1222.4 419.7,1226.9 421,1231.3 419.7,1236.6 417.2,1241.6 419.7,1246.3 420.7,1250.9 419.7,1256.1 420.9,1261.7 419.7,1265.8 419.7,1270.2 419.6,1275.6 417.4,1280.7 419.1,1285.3 422.4,1291.3 418,1295 432,1295 436.3,1290.3 438.2,1285.3 438.2,1279.6 442.1,1275.6 445,1269.7 445.4,1265.8 445.9,1260.4 448.4,1256.1 450,1250.3 451.2,1246.3 451.5,1240.3 453.8,1236.6 457.3,1230.9 456.3,1226.9 454.2,1220.6 457.3,1215.4 457.9,1209.8 458.3,1205.9 456.6,1197.4 457.7,1189 458.9,1181.7 458,1173.5 456.5,1167.5 461.2,1159.3 454.8,1150.3 462,1142.3 456,1134.8 460.9,1127.1 456.4,1119.9 461.1,1112.1 455.7,1103.8 462,1094.3 455.3,1086.4 458.4,1079.3 458.6,1077.4 459.1,1069.6 459.8,1067.6 462.1,1061.8 462.1,1059.8 460.9,1051 462.2,1044.9 464.3,1036.5 460.3,1028 462.5,1019.7 461.6,1013.8 464.7,1005.9 461.1,998.3 462.6,990.4 459.9,981 464.1,973.9 461.4,965.8 463.4,957.4 462.1,950.8 461.1,942.4 463.4,934.9 460.3,928.2 463.4,920 460.9,911.3 463.8,903.6 461,895.9 464.1,887.8 460.1,880.8 463,872.1 462.2,864.3 464,857.2 461.8,849.6 462.1,841.8 462.1,839.8 459.8,834 459.1,832 458.6,824.2 458.4,822.3 461,814 459.2,807.6 459.6,799.5 455.4,791.3 457.9,783.9 459.4,776 460.1,766.7 454.5,758.2 459.7,751.5 459,742.8 457,734.9 456.2,726.5 462.1,719.2 455.6,710.9 458.2,704.6 458.3,695.7 457.9,691.8 453.7,684.4 456.3,676.3 457.7,671.6 453.8,666.6 451.9,662.6 451.2,656.9 449.5,652 448.4,647.2 446.9,642.2 445.4,637.6 445.2,632.1 442.1,627.9 437.7,623.2 438.2,618.2 436.4,612.2 432,608.5"/><polygon points="459,544.3 460.8,551.3 460.8,557.8 457.5,565.7 461.6,571.4 461.7,578.1 461.9,585 461.3,592.3 461.9,598.6 464.6,605.9 461.9,612.1 462.1,618.7 461.9,625.7 465,631.6 461.9,639.3 461.3,645.7 460.9,653.1 460.9,658.8 460.5,666.5 459.9,674.9 460.9,681.9 459.4,689.6 459.9,695.7 460.5,704.1 458.9,710.1 460.7,718 459.1,726.5 460.8,732.5 458,739.5 461.1,748.7 459.3,754.8 461.2,763.8 457.8,770.5 460.7,778.6 459.8,785.3 459.4,789.9 459.8,795 459.7,802.8 461.6,808.2 459.8,816.7 459.7,822.3 461.6,826.2 459.1,832 457.3,835.7 456.1,839.8 458.1,848 455.3,854.6 458.7,862.9 456.2,872.4 459.2,878.7 456.9,887.2 459.2,894.9 457.7,903.5 459.4,911.4 456.8,918.3 458.3,927.5 455.7,934.1 456.8,943.9 456.1,950.8 453.5,958.4 455.2,967.8 452.8,975.1 455,982.1 453,989.6 455.4,998.2 452.9,1006.1 455.6,1014.2 453.1,1021.8 456.1,1029.4 453.7,1037.5 456.5,1045.4 453.7,1054.3 456.1,1061.8 457.8,1066.7 459.1,1069.6 457.6,1075 459.7,1079.3 460.3,1085.7 458.5,1092.1 459.7,1098.8 459.8,1106.6 460.5,1111.3 459.8,1116.3 458.4,1123.3 461.4,1131.6 459.5,1138.5 461.2,1147.1 459.5,1153.4 461,1161.8 458.1,1168.8 460.2,1175 457.3,1182.5 460.2,1190.6 458.9,1198.8 459.9,1205.9 462.4,1214.1 458.8,1219.3 460.1,1227.7 460.5,1235.1 460.9,1242.8 462.2,1249.3 464.1,1256.2 461.9,1262.3 458.3,1270.2 461.9,1275.9 465.9,1283.9 461.9,1289.5 458.5,1297 461.9,1303 465.7,1310.3 461.9,1316.6 457.7,1322.4 461.6,1330.2 463.5,1336.7 460.8,1343.8 460.1,1349.9 459,1357.3 473,1357.3 478.5,1350.2 479.2,1343.8 478.7,1336.7 483.1,1330.2 487.2,1322.4 486.4,1316.6 487.5,1310.2 489.4,1303 489.8,1296.8 492.1,1289.5 494.5,1283.4 494.7,1275.9 498.1,1269.8 497.2,1262.3 494.6,1255.8 497.4,1250.2 499.4,1242.8 499.4,1235.1 500.3,1228.7 501,1220.1 497.2,1213.2 499.5,1205.9 498.5,1199.1 498.5,1190.9 501.7,1183.6 500.5,1175 501.6,1168 497.7,1160.5 499.3,1152.5 497.5,1146 500.5,1138.6 498.8,1130.3 502,1122.9 499.6,1116.3 498.4,1111.5 500.2,1106.6 502.1,1102.9 503.2,1098.8 501.4,1093.4 504.4,1084.6 503.2,1079.3 503,1075.2 503.2,1069.6 503.2,1061.8 504,1054.4 502.2,1046 504.4,1037.1 502.9,1031.2 504.2,1023 501.7,1014 504,1005.7 503.6,999.4 504.3,990.4 500.6,983.4 504.7,974.7 503.7,967.6 503.7,958.2 503.2,950.8 503.5,942.3 504.6,934.8 500,926.7 506.2,919 502.3,912 502.4,903.3 504.5,895.1 501.6,886.4 504.2,879 502.9,870.9 503,863.6 502.8,855.5 503,846.6 503.2,839.8 503.2,832 503.6,828.3 503.2,822.3 502.9,816 504.1,808.8 503.2,802.8 499.5,799.1 500.2,795 499.1,790.2 499.6,785.3 498,778.5 498.9,769.4 498.5,762.4 501.9,755.3 499.1,747.8 501.1,741 499.1,734.2 501.1,725.2 498.8,718.9 501.2,711 499.3,703.8 499.5,695.7 500.5,688.7 498.2,682.2 500.2,672.7 499.4,666.5 499.4,658.8 497.8,652.9 499.8,644.6 497.2,639.3 494.1,632.3 494.7,625.7 494.1,620.1 492.1,612.1 490.2,604.3 489.4,598.6 490.8,591.6 486.4,585 485,577.9 483.1,571.4 481.1,564.5 479.2,557.8 477,550.6 473,544.3"/><polygon points="500,499.5 502.6,504.3 500.2,511.3 502.3,516.7 505.1,521.5 501.2,527.7 503.1,533.9 505.6,539.7 500.7,544.6 503.2,551.1 504.7,556.9 501,561.6 503.2,568.2 505.1,573.9 502,579.5 503.2,585.4 504.8,591.6 501.6,596.9 503.2,602.6 504.6,608.1 502.4,613.1 503.2,619.8 503.3,623.9 501.7,629.5 500.4,633.7 501.5,639.3 502.9,645 500.1,652.5 501,658.8 501.4,666 499.9,674.5 503,681.4 501.2,689.9 502.7,696.7 499.9,703.1 501.2,711.3 498.3,717.6 500.5,725.9 498,733.5 501.1,741.3 499.1,749.6 500.9,756.1 503,760.9 500.9,765.8 500.9,773.6 502.4,780.1 500.9,785.3 503.9,789.7 500.2,795 499.8,797.8 497.2,802.8 500.6,810.8 497.6,818 499,827.3 496.3,834.7 497.8,842.4 495.6,848.8 497.2,857.6 494.9,865.8 496.7,873.9 493.9,881.2 496.6,889.6 494.6,895.8 497.9,904.6 496,911.3 498,919.7 496.9,926.9 498.9,934.3 496.9,942.5 497.2,950.8 498.5,958.1 496.1,967.3 497.7,975 495.3,982.2 497.9,990.3 495.8,997.9 498.8,1006 496.8,1012 499.4,1020.6 496.2,1028 498,1036.2 495,1045.3 497.6,1052.2 496.5,1059.2 500,1066.7 496.5,1075.8 497.1,1084.2 494.9,1091.1 497.2,1098.8 500.8,1103.8 500.2,1106.6 500.8,1112.3 500.9,1116.3 499.4,1122.5 500.9,1128 500.9,1135.8 502,1139.5 500.9,1145.5 499.9,1154.1 501.4,1161.3 503.3,1168 497.6,1175.5 503.3,1183 500.6,1190.4 499.6,1198.4 502.4,1205.4 499.9,1212.9 500.7,1221.5 502.1,1227 499.7,1235 501,1242.8 501.3,1250.4 501.2,1256.9 501.5,1262.3 504.8,1268 501.7,1272.1 502.4,1278.6 503.2,1287.5 505.1,1293.5 501.4,1299.4 503.2,1305 504.8,1311.8 501.8,1316.7 503.2,1322.5 504.3,1327.2 502.2,1335 503.2,1339.9 504.5,1344.6 502.1,1352.4 503.2,1357.4 505,1363.3 501.9,1369.7 503.1,1374.9 503.9,1379.6 501.8,1387.3 502.4,1392.4 503.6,1399 500.3,1403.7 500,1409.9 514,1409.9 516.7,1404.7 516.8,1398.4 520.2,1392.4 522.4,1386.2 521.8,1380.6 524.1,1374.9 526.4,1370 525.2,1362.4 527.4,1357.4 528.7,1351.6 528.2,1345.4 530.3,1339.9 532.6,1334.5 530.8,1328.3 533.1,1322.5 534.6,1317.5 535.1,1310.1 535.7,1305 536.7,1298.7 534.5,1293.7 538.2,1287.5 541.9,1279.9 539.6,1272.1 537.8,1267.8 540.6,1262.3 543.1,1255.2 537.6,1250.5 540.6,1242.8 543.5,1235 536.6,1229.1 543.9,1219.5 537.7,1213.6 542.5,1206.1 539.2,1197.4 542.2,1191 539,1183.7 542.5,1175.5 537.9,1166.9 544.6,1159.6 537.8,1153.9 540.7,1145.5 541.1,1141.7 541.4,1135.8 540,1132.9 544.4,1128 543.9,1122.7 544.4,1116.3 541.4,1110.7 544.4,1106.6 544.4,1098.8 543.8,1091.4 542.2,1083.7 546.4,1075.3 544.3,1066.7 545.9,1060.9 543.6,1051.3 544.7,1043.2 542.9,1035.7 545.2,1028.7 543.7,1021.1 545.9,1013.2 542.3,1004.3 545.4,996.5 543.8,990.4 545.3,982 544.2,973.8 544.8,965.9 543.6,959.7 544.4,950.8 544.4,943.3 542.9,935.1 546.3,928.5 544.2,918.5 547.2,911.6 545.3,903.3 547,896.9 544.9,887.3 544.8,881.4 541.1,873.3 544.8,864.4 546,856.9 545.1,849 540.8,841.5 547.3,834.3 543.9,825.8 543.5,818.6 545.6,810.7 544.4,802.8 544.4,795 547.3,789.8 544.4,785.3 541.1,778.8 544.4,773.6 545.6,770.6 541.4,765.8 539.6,760.2 540.7,756.1 542.3,749.8 541.3,740.3 540.5,733 539,725.3 543.7,718.1 539.8,711.6 540.4,703.8 539.8,697.2 542.8,688.4 539.9,681.2 540.7,673.9 539.1,666.1 540.6,658.8 541.9,652.3 539.7,646.1 540.6,639.3 541,633.9 539.4,629.5 537.3,623.7 538.2,619.8 539,613.4 535.5,609.1 535.7,602.6 536.3,597.9 533.3,591 533.1,585.4 533.3,580.8 529.9,573.9 530.3,568.2 529.5,563.3 526.3,556.4 527.4,551.1 525.8,544.6 522.4,540.3 524.1,533.9 522.8,529.1 518.6,523.1 520.2,516.7 518,511.7 513.4,504.4 514,499.5"/><polygon points="548,456.7 548.8,462.4 544.4,468.3 545.4,475.8 546.8,481.8 543.1,488.8 544.6,494.9 546.6,502.3 543.2,506.6 544.6,514.1 546.1,519.5 543.5,527.7 544.6,533.2 544.9,538.8 543.4,546.6 544.6,552.3 546.5,559 543.1,565.6 544.6,571.5 545,578.7 544.1,584.9 544.6,590.6 546.3,597.3 541.5,603.9 543,610.1 542.1,617.1 540.9,623.5 544,632.7 542.2,639.3 543.5,646.9 545,654.3 541.1,660.7 541.7,667.7 538.5,676.2 541.1,682.7 538.6,691.4 542.1,697.7 543,703.6 542.1,707.4 542.1,715.2 543.3,723.1 545.8,728.4 542.9,735.7 544,741.4 540.3,749.4 542,756.1 541.2,761.6 541.4,765.8 537.1,769 538.4,773.6 538.4,780.7 537.1,788 539.6,796.4 538.3,805.5 540.8,811.9 538.2,819.2 539.7,828.6 537.3,835.1 539,843.6 536.5,851 539.5,859.3 537.5,866.2 540.4,873.8 538.1,882.1 539.4,888.3 537,896.3 539.2,905.1 536.9,912.9 539.6,920.5 537.9,927.5 539.8,935.3 536.7,944 538.4,950.8 538.3,957.5 538.2,966.7 540.8,973 537.1,981.8 538,989.1 537,997.5 541.5,1003.6 537.1,1011.5 536.9,1020.1 538.5,1026.8 541.3,1035.5 535.6,1044.3 539.6,1050.9 539.4,1058.2 537.6,1065.4 538.2,1073.4 540.9,1081.8 535.1,1089.2 542.4,1096.6 534.6,1105.4 541.5,1112.2 535.4,1120.2 538.4,1128 541.5,1132.2 541.4,1135.8 541.7,1140.2 542,1145.5 543,1152.2 540.8,1160 543.9,1165.6 539.2,1173.9 544.9,1179.3 542.1,1186.4 542.1,1194.2 541.8,1199.6 542.1,1203.9 543.2,1211.7 541.4,1218.9 544,1225.7 541,1232.5 543.4,1240.5 540.3,1247.3 543.3,1253.9 542.2,1262.3 541.5,1270.3 543.9,1277.2 542.4,1284 543,1291.5 544.5,1297.8 542.2,1304.4 544.6,1312.4 546.5,1319.6 542.9,1325 544.6,1331.6 545.6,1338.5 544.4,1345 544.6,1350.8 544.3,1356.6 543.4,1363.8 544.6,1370 545.2,1377.6 542,1383.5 544.6,1389.3 547.6,1396.2 543.9,1401.5 544.6,1408.5 543.8,1414.9 541.6,1420.5 545.3,1427.7 545.1,1435 544.5,1440 548,1446.9 562,1446.9 565.2,1439.6 563.1,1434 566.2,1427.7 568.7,1422.5 566.2,1416 568.8,1408.5 571,1402.7 569.1,1395.2 571,1389.3 573.5,1383.3 571,1376.2 573,1370 574.4,1363.3 573.8,1356.1 574.9,1350.8 575.9,1344.8 574.4,1337.6 576.6,1331.6 579.6,1326.3 578,1318 578.3,1312.4 579.2,1304.5 577.6,1299.1 581.7,1291.5 583.1,1284.2 582.1,1275.8 585.1,1270.5 581.8,1262.3 580.8,1255.5 581.6,1247.3 578,1239.7 580.6,1232.7 579.2,1226.6 582.7,1218.8 581.3,1210.5 581.9,1203.9 585.5,1199.3 582.5,1194.2 585.7,1191.4 585.5,1186.4 587.8,1179.4 584.7,1173.5 586.2,1166.4 583.1,1158.8 584.7,1151.6 585.5,1145.5 582.1,1141.5 585.5,1135.8 585.5,1128 586.7,1119.9 585.7,1113.1 587.6,1105.3 586.1,1098 587.5,1089.7 584.9,1080.7 586,1075.2 583.5,1067.2 585.4,1057.7 584.4,1051.4 586.3,1042.7 584.6,1036 587,1027.8 585,1020.3 586.5,1012.1 584.2,1004.2 585.8,995.9 584.3,989.5 586.7,980.7 584.8,973.8 587.1,965.8 583.7,959.1 585.5,950.8 586.2,943.5 585.1,935.4 587.8,927.4 584,919.9 585,912.4 584,905.5 588.2,895.7 584.7,888 584.8,881.8 584.9,873 589.1,866.9 582.6,858.8 585.8,850.5 587,843.1 585.5,836.4 583.3,828.4 588.4,819.2 581.4,812.2 588.6,804 583,796.8 587.4,788 584.1,780.2 585.5,773.6 585.5,765.8 584.5,760.7 585.5,756.1 582.4,748.4 588.5,743.5 582.7,736.3 588.1,729 584.1,721.9 585.5,715.2 585,711.7 582.5,707.4 580.3,702.4 581.9,697.7 583.5,690 580,683.4 581.7,675.1 580.2,667.8 582.5,661.8 581.1,655 583.2,645.6 581.8,639.3 580.5,631.4 582.9,625.2 579.8,616.3 581.7,610.1 581.2,604.3 579.1,596.4 578.3,590.6 578.9,583.4 575.7,578.9 576.6,571.5 576.9,564.5 575.2,558 574.9,552.3 574.1,546.2 572.2,538.5 573,533.2 572.8,526.5 568.8,519.8 571,514.1 573.1,506.9 567.2,502.4 568.8,494.9 568.4,488 566.9,482.6 566.2,475.8 567.9,468.7 564.8,462.5 562,456.7"/><polygon points="604.2,335.9 604.2,357 602.1,361 596.4,362.8 593.6,370.5 595.7,378.1 592.7,383.9 592.9,392.1 591.4,399.8 589.9,406 590.1,415.6 586,421.3 586.7,429 588.1,437 586.6,443.8 588.2,452.4 586.7,460.2 583.5,467.5 586.7,473.7 586.1,480.6 590,487.6 587.6,495.8 586.4,503 587.3,508.1 586.3,512.7 582.3,520.7 585,526.3 583.3,533.8 587,540.8 586.7,550.1 588.8,555.5 586.5,564.7 584.8,571.1 586.1,577 584.6,580.9 581.8,586.4 582.7,593.1 583.7,600.3 581.1,604.5 583.3,610.1 584.7,616.3 583.6,624.2 585.9,630.3 583.7,638.1 583.2,645.1 584.8,649.9 583.2,654.9 583.2,662.6 581.4,669.9 583.1,676.3 582.1,684.6 584.5,690.4 583.1,697.7 582.3,703.6 582.5,707.4 582.2,711 579.5,715.2 578,722.8 580.3,731.9 578.4,738.3 580.4,747.2 578.6,755 581.6,761.6 578.6,771 580.3,777.1 577.2,786.5 581.1,793.4 579.3,802.7 581.5,809.6 577,818.5 579.9,825.5 578.8,832.2 582,841 577.8,849.4 578.6,856.9 580,864 581.9,871.5 576.2,881 581.4,887.4 580.5,896.3 578,904.5 579.4,911.7 581.8,918.2 576.4,926 583,934.6 575.9,943.3 579.5,950.8 579.3,959.2 579.4,966.5 579.9,975.2 579.3,982 578.6,989.8 580.6,998.5 579.3,1006.2 578.4,1014.3 582.6,1020.8 577.5,1028.5 579,1037 579.1,1045.6 581.8,1053.3 578.6,1059.7 580.2,1067.5 578.1,1077.2 580.4,1084.4 577.7,1091.8 580.2,1100.3 579.1,1107.2 580.7,1114.9 579.1,1123.6 579.8,1131.7 577.8,1138.9 580.9,1147.5 577.8,1155.9 580.6,1163 578.5,1171.1 580.3,1178 579.5,1186.4 580.5,1190.6 582.5,1194.2 583,1197.9 583.1,1203.9 583.4,1210.4 584.2,1218 580.7,1223.9 585.6,1232.2 583.2,1239 583.2,1246.7 579.8,1252.8 583.2,1256.5 582.5,1263 579.8,1270.5 582.3,1277.3 579.4,1284.5 583.3,1291.5 585.5,1296.3 583.7,1301.3 584.7,1308.9 583.6,1314 584.6,1320.7 586.5,1326 584.8,1330.5 585,1336.9 582.6,1345.3 586.1,1352.2 586.2,1359.4 588.6,1366.3 583.2,1375.2 589.2,1380.7 586.3,1388.9 587.2,1394.7 586.4,1398.6 589.2,1404.7 585.9,1412.2 586.6,1420.3 584.7,1428.2 587.1,1433.5 586.7,1441.4 585.5,1448.3 587.5,1457.4 585.6,1465.8 586.7,1472.6 589.3,1479.2 588.6,1487.4 591.7,1494 591.4,1501.8 591.4,1508.5 595.1,1515.6 593,1525.1 596.2,1531 596.4,1538.8 599.7,1542.7 604.2,1544.6 604.2,1565.7 608.6,1565.7 608.6,1544.6 613.1,1541.7 615,1538.8 614.5,1531.5 617.7,1524.9 614.7,1516.7 617.7,1508.4 616.9,1501.8 615,1495.1 617.9,1487 616.2,1480.4 616.9,1472.6 617.3,1463.9 616.4,1456.2 619.3,1449.2 616.9,1441.4 615.1,1434 617.7,1426.4 616.5,1420.3 620.6,1413.4 619.7,1406 619.7,1398.6 621.5,1394 619.9,1388.9 616.9,1382.7 619.2,1374.6 617.9,1366.8 621.2,1360 620.7,1352 624.5,1345.8 622.5,1338.6 621.4,1330.5 624.7,1325.9 621.9,1320.7 621.7,1313.8 622.6,1308.5 622.8,1301.3 619.2,1295.9 622.9,1291.5 621.5,1283.6 620.1,1277.8 623.1,1269.5 621.7,1264.1 623,1256.5 625.3,1252.5 623.6,1246.7 625.9,1242.8 626.6,1239 629.2,1231.4 626.8,1224.4 628.6,1216.8 625.3,1211.6 626.6,1203.9 626.6,1198.3 626.6,1194.2 626.6,1186.4 625.3,1177.5 628,1170.9 626.4,1162.7 628.5,1154.5 626.5,1146.9 627.8,1140.4 625.4,1132.4 627.6,1123.7 625.4,1116.4 627.3,1108 626.3,1099 628.3,1091.3 625.3,1084.5 627.6,1077.5 624.4,1068.9 627.5,1061.4 626.3,1052.1 628.8,1044.8 625.1,1037.7 626.4,1029.5 625.2,1022.3 629.2,1012.8 626.2,1005 626.1,997.5 625.7,990 630,981.7 624.1,974 626.6,967.2 628.5,958.8 626.6,950.8 626,943.9 628.5,934.5 625.7,927.5 626.5,919.2 627.7,910.8 624.8,903.1 629.1,894.9 624.6,887.3 628.9,880.3 625.4,873.4 627.8,864.1 627,857.3 626.5,847.9 626.4,841.6 628.7,832.3 624.5,824.3 627.4,818.3 626.2,809.4 628,801.2 625.5,794.1 627.3,786.6 624.9,777.9 627.1,769.9 625,762.8 627.5,754.1 625.3,745.8 627.6,738.5 626.2,729.8 627.2,722.9 626.6,715.2 626.6,707.4 625.1,703.4 626.6,697.7 627.9,690.2 626,683.2 626.4,676.9 626,669.4 626.6,662.6 627.2,657.8 623.6,654.9 623.8,650.6 623,645.1 623.5,638.6 620.9,630.1 625.4,623.7 619.5,617.7 622.9,610.1 624,605.1 622.8,600.3 622.9,593.8 626,586.8 621.9,580.9 621.4,577 621.4,571.1 620.2,564.9 616.9,555.7 621.2,548.5 621.8,541 619.8,534.5 620.8,527.8 618.5,521 619.9,512.7 618.8,507.9 619.7,503 620,495.3 616.1,488.5 619,481.8 618.2,473.4 616.5,467.9 616.9,460.2 616.1,451.7 616.3,443.5 614.9,436.9 616.9,429 618.2,421.9 616.6,413.2 618.8,406.7 616.9,399.8 615.9,392.1 617.4,383.9 615,377.1 616.2,369.1 615,362.8 611,358.7 608.6,357 608.6,335.9"/><polygon points="646.6,284 641.3,288.8 641.3,296.5 638.5,303.3 640.6,312.9 637,320 637.8,327.8 638.3,335.7 634.9,343.1 634.8,350.6 630.6,357.4 633.4,364.3 630.9,371.6 631.3,379.7 628.2,386.2 625.7,393.8 628.8,400.4 627.9,406.1 631.4,413.9 628,421.2 625.9,428.2 627,435.9 624.4,444.6 628.6,451.9 627.8,459 631.4,468.5 628.9,476.4 628,483.5 628.1,489 624.5,497.1 627.6,503 626.1,511.8 625.5,517.4 629,526 627.9,535.1 626.6,541.9 629,548.3 625.1,556 626.3,562.9 625.8,571.1 623.4,578.2 625.8,585.6 624,594.1 624.4,600.3 626.9,606.2 624.4,610.1 623.2,616.7 624.9,624.6 622.5,632.2 624.3,639.3 624.3,645.1 625,651.2 623.6,654.9 621.7,657.6 620.6,662.6 620.6,668.5 621.3,672.7 620.6,678.2 620.6,686 619.1,694.6 621.9,701 620.5,710.1 622,716.6 618.9,726.1 621.8,733.3 620.6,741.1 622.9,748.3 618.6,756.2 620.7,763.5 620.7,770.8 623.3,778.8 617.9,788.4 621.9,796.1 621.4,803.7 620.7,810.8 619,819 624.5,827 617.9,832.9 622.4,841.7 620.3,850.7 619.5,857.8 621.9,865.6 619.1,873.3 622.3,881.7 619.6,889.2 621.9,895.6 619.5,904.5 621.2,910.9 620.7,919.4 618.9,926.8 623.3,935 618.5,944 620.6,950.8 622.8,957.4 620.3,966.6 622,974.4 618.9,981.6 620.4,990.1 619.2,998 621.5,1005.7 618.8,1013.8 621.6,1021.6 618.6,1028.6 621.3,1036.7 619.9,1045.1 622.2,1051.7 619.5,1060.6 621.8,1068.8 620,1076.3 621.4,1084.4 619.9,1091.9 621.7,1097.6 619.3,1106.2 622.9,1114.1 618.7,1122.6 622.7,1129.5 618.1,1136.8 623.3,1145.3 618.5,1152.9 621.3,1160.3 621.5,1168.2 621.9,1176.2 617.7,1183.9 619.6,1192.3 617.7,1200.1 620.9,1207.4 620.6,1215.6 620.6,1223.4 622.3,1229 620.6,1233.1 620.6,1239 623.1,1243.3 623.6,1246.7 625.1,1252.5 624.3,1256.5 624.3,1262.3 627,1268.6 621.9,1277.5 625.1,1285.4 624.4,1291.5 621.2,1295.6 624.4,1301.3 624.7,1308.9 625.7,1315 626.9,1323.2 625.8,1330.5 624.7,1338.9 628.1,1344 626.3,1351.8 626.6,1359.7 628.2,1367 626.2,1374.8 628.7,1384 625.9,1391.8 627.6,1398.6 628.7,1404.5 626.2,1410.6 628,1418.1 629.7,1424.3 627.4,1433.7 628.4,1440.4 626.5,1446 629.8,1453.4 627.1,1462.5 628.6,1468.9 628,1476.3 628.3,1483.7 627.8,1490.2 627.2,1497.6 628.8,1504.6 628.2,1511 628.8,1517.9 631,1525.7 631.9,1532.8 632.9,1539.5 633.2,1546.9 637.2,1554.2 634.2,1560.5 637.8,1569 638.4,1576.8 636.6,1583.7 642.7,1589.9 638.6,1598.2 639.7,1606.3 641.3,1612.4 646.6,1612.4 651,1612.4 656.3,1612.4 657.4,1604.5 655.9,1596.8 658.8,1590.5 657.9,1584.5 660.7,1577 659.8,1569 658.3,1560.8 660,1554.8 658.2,1546.2 661.6,1539.4 659,1533.6 660.9,1524.9 658.3,1519.4 659.8,1511 662.1,1505.1 659.2,1496 660,1491.2 658.2,1482.7 659.8,1476.3 661.7,1469.9 657.8,1460.7 660.1,1453.7 660.7,1447.4 661.5,1438.9 657.2,1431.6 663,1426.1 660.4,1418.1 657.3,1412.4 662.9,1404.8 660.5,1398.6 657.4,1389.6 664.1,1383.1 656.8,1376.3 664.7,1366.8 660.8,1359.7 662.7,1352.3 659.6,1345.2 662.8,1338.2 661.6,1330.5 663.1,1322.1 662.4,1316.9 661.5,1309.5 662.3,1301.3 659.7,1297.6 662.6,1291.5 663.7,1284.8 660.1,1276.2 664.4,1268.7 664,1262.3 664,1256.5 663.8,1252.3 664.1,1246.7 664.1,1239 664.1,1233.1 666.3,1228.2 664.8,1223.4 666.2,1219.8 667.8,1215.6 668.2,1206.9 666.6,1200.4 669.6,1193 667.5,1184 668.9,1176.6 667,1169.7 668.5,1161.8 666.7,1154.3 669.8,1146.3 665.8,1137 669.1,1128.9 666.1,1122.1 669.9,1113.8 665.7,1107.4 670.1,1099.4 667.4,1092 668.5,1083.5 665.9,1075.8 667.8,1067.6 665.5,1060 667.6,1052 667.9,1044.1 671.4,1037 666.6,1028.6 666.4,1019.8 667.2,1013.3 670.4,1004.5 664.1,996.5 670.5,988.7 666.2,981.1 668.3,974.4 668.2,966.5 666.1,958.1 667.8,950.8 664.4,943.2 670,935.5 667.2,926.7 667.7,920.5 668,912.1 666.9,903 667.6,896.1 669.5,887.8 665.7,879.5 669.7,873.7 666.1,864.3 667.6,857.5 667.7,849.8 669.5,842.4 666.1,834.2 668.8,826.8 667.5,819.3 669,811.6 666.3,803.9 668.8,794.5 666.9,786.8 669,778.4 666.6,771.1 668,764.6 666.3,756.7 668.3,748 666.5,741.3 670,733.9 667.6,726 670.1,717.4 667.8,709.1 669.7,701 667,694.7 667.8,686 667.9,681.5 664.8,678.2 664.1,673 664.1,668.5 664.1,662.6 664.1,654.9 666.5,650.8 664,645.1 664,639.3 664.9,632 666.7,624.8 662.9,617.5 662.6,610.1 662.1,604.6 662.3,600.3 659,592.9 662.8,586.8 662.6,578.6 661.6,571.1 662.8,563.7 658.3,557.2 660.4,548.6 660.8,541.9 661.1,533.4 659.8,525.3 659.2,517.8 663.4,511 660.5,503 658.7,496.5 663,489.5 660.4,483.5 659.2,476.2 661.5,468.5 658.4,461.3 661.8,452.5 658.3,444.1 661.1,436.6 658.6,429.5 659.8,421.2 661.1,415.3 657.7,407.2 661.7,400.5 659,392.2 659.8,386.2 660.5,379.1 659.2,371.8 661.6,364.1 658.1,357.2 660.2,349.8 657.4,342.5 659.4,335.5 659.8,327.8 656.7,319.8 660.5,312.1 658.5,304.4 656.9,295.8 656.3,288.8 651,284"/><polygon points="686.8,224 686.8,259.6 685.6,265 684,269.4 683,277.2 685.4,283.9 680.2,291.5 681.8,301.5 681,308.3 680.6,316.4 681.1,323.1 675.9,331.5 676.4,338.5 676,347.2 674.9,354.9 676.9,363.5 672.2,370.2 671.5,378.6 669.5,386.2 666.1,393.3 669.7,399.1 668.7,407.2 672.3,413.4 669.2,421.2 670.1,428.2 670.5,435.7 667,442.9 668.1,450.5 665.7,456.3 669.2,464 671,471.5 669.6,478.1 672.3,485.8 669.3,492.7 671.1,500 667.1,507.7 669,515.3 669.2,522.5 667.2,529.1 670.1,536.5 668.7,541.9 668,548.3 670.5,555.5 667.5,564.8 668.5,570.2 666.4,578.7 668.7,584.9 666.8,592.2 668.4,600.3 667,608.1 667,610.1 665.4,618.5 666.9,625.5 664.2,633 665.6,639.3 667.7,646 664.9,653.8 665.5,662.2 665.4,668.5 664.9,676.3 664.8,678.2 663.6,681.4 661.8,686 662.4,693.2 659.2,699.2 661.8,705.5 664.4,712.5 660.7,720.8 661.1,727.7 661.9,736.2 664.2,744.9 658.4,752.5 664.2,759 661.7,765.6 660.7,773.3 663.6,780.9 661.2,788.8 661.6,797.8 661.8,804.8 660.4,808.8 661.8,814.5 661.8,822.3 661.7,831 661.5,837.3 662.6,845.5 661.2,853.2 662.4,860.8 662.5,866.8 659.2,874.5 664.2,882.3 660.9,890.2 662.1,899 659.9,906.1 663.2,912.8 661.9,920.9 664.1,928.6 661.4,935.7 663.2,943 661.8,950.8 660.9,957.2 663.4,965.9 661.3,974 662.5,980.8 660.4,988.8 662.8,996.6 661.3,1004.4 662.7,1010.3 660.2,1018.2 663.5,1027.5 660,1034.5 662.8,1041.8 661.5,1048.4 661.5,1055.5 661.6,1065.3 661.7,1070.6 661.8,1079.3 661.8,1087.1 662.1,1092.3 661.8,1096.8 664.5,1105.1 662.4,1111.5 663.4,1120.4 661.1,1127.4 664.7,1135.3 663,1141.9 660.8,1149.5 661.3,1158.2 661.6,1165.9 663.2,1173.6 663.4,1181.7 659.7,1189.4 661.8,1196.1 664.6,1203.4 662.7,1209.6 661.8,1215.6 662.2,1218.9 664.8,1223.4 664.9,1225.3 665.4,1233.1 666.7,1240.8 665.2,1248 663.4,1255.3 665.6,1262.3 668.2,1269 665.1,1277.4 667,1283.8 667,1291.5 667,1293.5 665.5,1300.7 667.6,1308.5 665.6,1316.2 668.9,1323.4 666.5,1330.1 669.7,1338 668,1345.7 669.9,1352.5 668.7,1359.7 667.3,1365.8 670,1372.1 669.2,1379.1 667.6,1387.6 669.6,1394.9 668.3,1402 670.1,1407.5 666.9,1415 671.1,1424.5 667.4,1431.6 669.2,1438.2 671.1,1444.6 667.3,1451.5 671,1459.6 667.2,1466.3 670.6,1473.1 669.2,1481.1 666.6,1487 672.6,1495.3 667,1501.9 669.8,1509.7 669.5,1516.2 668.6,1524.9 671.2,1531.3 674.4,1539.8 677.4,1547.8 676,1555.2 674.5,1564 680.2,1570.1 680.1,1578.9 683,1586.5 681,1594.2 679.1,1601.9 681.2,1609.4 679.6,1616.7 682.5,1624.4 684,1633.2 683.3,1638.1 686.8,1642.9 686.8,1678.6 691.2,1678.6 691.2,1642.9 694.3,1639 694,1633.2 694.2,1625.7 695.5,1618.5 695.1,1610.6 697.3,1603 697,1594.2 696.6,1585.6 698.8,1577.7 697.1,1570.5 700.1,1562.6 699,1555.2 698.1,1547.1 700.8,1540.3 699.9,1532.3 701.6,1525.1 701,1516.2 698.7,1509.7 702.5,1503.1 700.6,1494.9 704,1487.1 701.5,1481.1 701.1,1473.5 702.4,1465.6 698.9,1458.6 700.7,1452.5 698,1445.7 701.5,1438.2 700.8,1431.2 699.8,1423.7 702.5,1417.1 701.1,1408.1 703.8,1402.4 702.5,1393.3 705,1386.9 701.5,1379.1 702.6,1371.6 705.1,1366.7 701.6,1359.7 702.5,1352.8 704.5,1344 702,1336.8 703.1,1329.5 700.7,1322 701.8,1315.6 699.3,1307.4 701.2,1301.4 702,1293.5 702,1291.5 700,1283.4 702.2,1276.4 700.3,1269.6 702.8,1262.3 704.1,1254.7 702.9,1248.5 705,1241.2 703.5,1233.1 703.7,1225.3 703.8,1223.4 704.2,1215.6 703.8,1208.9 705.7,1201.8 705.1,1196.1 703.9,1189.5 706.3,1182 704,1173.8 706.8,1165.5 705,1158.3 706.7,1150.7 704.4,1142.2 705.1,1135.6 703.3,1126.9 706.7,1119.8 705.5,1111.8 707,1103.4 705.3,1096.8 703.5,1093.1 705.9,1087.1 708.1,1083.3 708.9,1079.3 709.3,1071.8 710.3,1063.2 705.7,1056.9 709.8,1049.4 710.3,1041.9 709.3,1033.9 705.6,1026.5 711.4,1018.2 708.5,1010.5 707.4,1004.9 709.5,996.7 710.6,989.7 706,980.8 712.8,972.3 705.6,965.4 711.6,958.9 708.9,950.8 708,943.3 709.7,934.7 708.4,929.2 709,920.5 709.3,912.8 708.2,904.7 708.4,897.9 710.1,890.6 706.3,883.1 710,876.3 709,867.7 709.9,859.3 707.3,851.8 709.1,843.9 707.5,837.8 709.9,830.9 708.9,822.3 706.4,818.3 705.9,814.5 707.7,810 705.3,804.8 704.4,797.7 707.2,789 704.7,782.4 705.9,774.5 704.6,767.2 706.6,759.7 703,751.6 706.9,743.3 702.8,735.1 707,728.2 702.3,721.1 707.4,712.1 705.1,705.5 705.1,699.8 704.4,691.8 704.2,686 703.8,678.2 703.7,676.3 703.5,668.5 704.1,660 702.1,653.5 702.3,645.5 702.8,639.3 700.9,632.5 699.8,624.1 703.7,618.2 702,610.1 702,608.1 702.9,601.8 703.4,592.4 698.2,586.4 705.6,579.3 699,572.5 701.4,563.9 700.8,557.3 703.3,550.3 701.6,541.9 698.9,536.4 704,528.6 701.5,522.5 701,515.4 701.7,509 701.3,501.1 703.7,492.5 700.2,485.8 701.9,478.1 700,471.9 701.5,464 702.3,456.5 700.6,450.5 702.8,443.4 700.3,434.4 702.8,428.3 701.5,421.2 701,415 702.7,406 700.7,399.1 702.4,393.4 701,386.2 700.1,378.5 701.5,370.7 699.3,362.3 701,354.2 699,347.2 698.9,339.1 700.5,332.1 696.7,324.1 696.6,316.7 697,308.3 697.4,300.7 697.6,293.4 691.9,285.9 698,277.8 694,269.4 693.6,263.9 691.2,259.6 691.2,224"/><polygon points="728,295.1 724.2,298.6 726.7,304.4 720.1,312.2 723,319.4 720.8,325.1 720.2,331.7 722.3,339 715.9,346.3 720.3,354.5 715,364 716.8,371.3 714,379.5 713.7,386.2 714.7,393.1 710.2,399 714,406.8 709,413.2 710.3,421.2 710.7,427.4 709,436.6 712,442.7 709.1,450.4 712.1,457.6 710.3,464 709.2,472 711.4,478.8 709.1,487.3 711.3,496.3 710.2,503.6 711,509.8 708.1,517.9 711,526.6 709.5,533.8 711.9,542.4 710.4,550 712.7,556.5 710,564.9 712.3,573.4 709.7,580.8 710.3,588.7 710.9,595.2 709.5,600.8 709.9,608.1 711.4,615 709.6,622 711.6,629.1 710.2,636.2 712.2,641.4 708.8,649 710.3,656.1 711.7,663.6 709.7,669.2 708.1,676.3 709.8,683.5 706.5,690.1 707.8,698.3 706.7,705.5 704.4,710.5 706.7,717.2 705.8,724.7 703.9,730.6 706,739.9 706.7,746.4 703.4,754.5 705.8,760.5 703.8,768.5 706.4,775.7 704.4,782.2 706.1,789.1 704.3,796.5 706.6,804.8 706.8,810.7 705.9,814.5 705.2,816.5 702.9,822.3 702.9,826.2 702.9,834 701.6,842.9 703.8,848.4 701.7,857 703.8,864.1 702.2,871.8 704.4,880.7 702.6,889.5 705,896.3 702,903.7 704.4,912.5 701.5,920.2 702.9,926.7 700.9,934.3 704,942.4 702.9,950.8 703.3,959.3 705,967.4 700.7,974.6 702.4,982.4 700.9,990 706,997.6 703.3,1006.4 702.4,1012.4 699.8,1020.4 705.6,1029 704.3,1035.8 702.2,1044 700.5,1052 706.3,1060.3 702.9,1067.6 702.9,1075.4 702.9,1079.3 705.2,1085.1 705.9,1087.1 702.3,1091 706.6,1096.8 709.7,1104.4 703.1,1111.4 709.5,1119.9 703.9,1125.9 708.7,1133.7 704.8,1141.8 707.8,1147.2 706.7,1155.2 706.8,1163.3 707,1169.2 706.7,1178.1 706.7,1184.4 708.4,1190.5 706.7,1196.1 704.8,1204.4 708.5,1211.8 707.5,1218.3 708.1,1225.3 709.1,1231.6 707.2,1239.9 710.2,1246.9 708.8,1252.6 708.8,1259.7 711,1267.3 708.5,1272.5 710.9,1279.1 709.5,1286.8 709.9,1293.5 711.3,1299.1 709.1,1306.9 710.3,1312.9 712.4,1319.6 709,1329.1 711.3,1335.6 708.8,1341.9 712.6,1351.2 707.4,1357.7 713.2,1366.6 709.4,1372.1 709.6,1381.7 710.9,1387.4 713,1396.4 707.3,1403.6 709.7,1410 711.5,1418.8 711.1,1424.8 710.3,1433.3 711.8,1440.1 709.2,1446.6 710.5,1454.8 713.5,1461.9 706.9,1467.8 710.3,1475.7 710.2,1482.3 707.9,1489.9 712.6,1497.6 713.5,1502.6 713.7,1510.5 717.4,1517.2 713.1,1525.2 716.2,1533.3 715.3,1542.3 718.3,1548.5 719.3,1555.7 720.2,1564.5 723.4,1572.3 720.6,1579.3 722.6,1586.3 722.5,1592.9 724.2,1600.7 728,1600.7 732.4,1600.7 736.2,1600.7 736.8,1593.8 735.7,1585.8 740.1,1578.3 737.2,1571.4 738.8,1564.5 739.9,1556 740.2,1549.9 739.9,1542.1 737.9,1533.8 743.6,1525.7 738.4,1517.2 741.2,1510.5 744.6,1502.9 738.3,1496.2 742.3,1489.8 741.9,1482 741.2,1475.7 744.7,1467.9 737.4,1462 744.8,1453.6 738.5,1447 744.2,1441.1 741.2,1433.3 742.2,1426.6 740,1417.1 741.3,1410.5 743.1,1402.8 739,1396.6 743.8,1387.7 741.6,1381.5 741.1,1373 741.6,1365 744.7,1358.6 739.9,1350.2 743.5,1344.1 742.1,1334.8 742.9,1328.1 741,1321.3 742.7,1312.9 743.7,1307.2 742.4,1301.1 742.8,1293.5 744.5,1285.5 741.6,1280.9 744.9,1273.6 741.3,1265.1 744.7,1258.9 743.1,1252.6 741.4,1245.9 744.1,1239 742.6,1232.9 743.8,1225.3 745.4,1218.9 743.1,1210.4 744.6,1202.3 744.6,1196.1 742.7,1189.1 744.9,1184.4 746.3,1177.9 744.9,1168.8 748.3,1163.2 746.3,1155.2 746.3,1147 746.1,1140.8 743.3,1133 747.1,1126.6 747.5,1119.9 748.9,1112 744.1,1105.1 746.4,1096.8 747.1,1091.2 746.4,1087.1 746.4,1085.1 746.8,1079.3 747.1,1075.4 745.5,1072.4 750.1,1067.6 750.3,1060.7 750.8,1051.7 752.6,1044.8 747.2,1036.2 749.3,1029.4 749.3,1022 752.7,1013.3 749.4,1004.6 749.6,998.5 747.2,990.3 750.6,981.8 749.4,973.2 752.5,966.9 749.7,959.7 750.1,950.8 750.7,943.9 748.5,935 750.4,927.4 748.4,920.8 751.5,912.7 748.6,904.6 751.7,895.3 749.5,888.5 751.3,881.7 749.6,872.3 751.4,865.2 749.8,858.4 752.1,849.4 750.2,840.7 750.1,834 750.9,830.4 747.1,826.2 746.8,822.3 746.4,816.5 746.4,814.5 745.8,809.7 746.4,804.8 746.9,798.4 744.4,789.5 745.9,782.4 743.5,775.4 746.3,768.9 746.1,761.1 749.6,753.3 746.3,746.4 745.2,738.7 745.1,730.8 741.8,724.6 744.9,717.2 747.9,711.2 744.6,705.5 743.4,698.3 743.1,690.3 743,683.9 743.8,676.3 744.4,668.5 740.4,662.9 745.5,656.5 743.1,649 740.1,643.1 744.2,634.8 743.7,629.7 742.9,622.1 742,614.6 742.8,608.1 742.2,601.2 743.1,595.5 742.7,588.7 744.8,581.2 740,571.9 744,564.3 740.9,558.5 743,550.4 741.9,541.6 743.2,533.6 740.1,526.6 743.2,517.4 741.3,511.9 743.1,502.5 740.1,495.4 742.7,487.4 740,479.4 742.2,471.3 741.2,464 740.9,457.4 742.9,448.9 741.1,443.8 742.8,435.9 738.6,427.7 741.2,421.2 743.9,413 739.4,406.1 741.3,399.3 741.7,393.1 741.2,386.2 741.4,377.4 742,371.7 742.7,363.8 737.8,354.3 738.6,346.1 735.8,339.8 738.8,331.7 741.1,326.1 738.3,318 736.7,312.8 733.7,306.3 736.2,298.6 732.4,295.1"/><polygon points="765.8,332 764.6,336.2 759.4,339.4 756.8,347.4 759.7,355.2 755.4,362.7 757.9,371.1 753.1,379.4 754,386.2 754.5,392.5 751.5,401.1 753.6,408.2 750.6,415 751.5,421.2 752.6,428.4 750.6,435.7 752.1,444.7 750.2,452.6 753,458.7 750.7,467.5 752.1,475.5 749,482 752.7,490.3 751.5,497.1 751.7,505.4 753.7,513.5 750.3,519.4 751.3,529.1 748.7,536.9 751.1,543.1 749.8,552 752.9,558.6 751.3,566.6 755,576.1 753.2,583.3 755.1,591.6 752.4,598.2 753.5,607 750.8,615 751.5,622.7 751.5,629.5 748.7,636.6 750.5,642.1 751,649 747.4,653.7 750.8,658.8 749.6,666.9 748.3,674.1 750.6,679.8 749.5,688.7 751.4,694.1 750,702.3 752.3,710.7 749.3,717.2 749.2,722.6 748.8,726.9 749.8,734 746.8,738.8 747.9,746.4 748.3,751 747.8,756.1 746.1,763.8 748.7,771 746.6,779.5 749.4,785.5 747.5,793.3 749.8,801.1 746.4,810 747.7,816.5 747.2,824.2 747.1,826.2 746.3,829.8 744.1,834 744.1,841.8 743.5,849.6 746.4,857.3 742.6,865.6 744.1,872.1 742.1,880.5 746.2,889.2 744.7,896 744.7,905.2 741.1,911.7 745.5,920.3 744.7,927.4 744.9,934.9 741.1,942.8 744.1,950.8 747.1,958.5 740.3,966.5 744.8,973.4 745,982 742.6,989.7 744.2,998 745.8,1004.2 741.2,1012.5 747.5,1020.8 740.3,1029.8 747.7,1036.8 740.7,1043.3 747.5,1051.3 744.1,1059.8 744.1,1067.6 742.9,1071.7 747.1,1075.4 747.2,1077.4 747.7,1085.1 749,1093.6 747.5,1101.4 747.4,1107.7 746.4,1115.5 749.9,1123.1 747,1130.3 748.8,1138.6 747.8,1145.5 746.9,1149.8 747.9,1155.2 749.3,1161.1 747.2,1168.3 748.8,1174.7 751,1180.4 749.3,1184.4 748.4,1192 751.3,1198.5 749.2,1206.2 750.9,1213.8 748.2,1221.7 752.3,1228.5 749.3,1236.5 750.8,1242.8 751.4,1246.9 751,1252.6 750.1,1259.5 753.4,1266.2 751.5,1272.1 752,1280.3 751.3,1287.9 750.3,1296.2 753.4,1302.8 748.4,1311.2 754.4,1318.6 748.2,1326.6 754.6,1333.5 748.5,1341.2 752.8,1350.4 752.7,1357.6 753.6,1364.8 750.1,1373.1 752.8,1381.1 752.4,1389.2 751.5,1396 752,1404.4 749.4,1410 754.8,1418 752.7,1426.1 754.5,1433.3 752.3,1441 752.3,1448.7 749.1,1456.4 753.7,1463.4 751.5,1470.5 750.7,1476.4 754.8,1484.7 752,1492.3 753.4,1498 754,1504.9 753.1,1513.6 755.7,1519.4 754.4,1527.3 757.4,1534.3 755.9,1542.6 759.8,1549.7 759.4,1557.9 765.8,1557.9 770.2,1557.9 776.2,1557.9 777.7,1550.8 775.5,1542.8 778.8,1536.3 778.6,1528.4 779.6,1519.4 776.3,1512.2 780,1504.9 782.2,1497.5 781.2,1491.2 781.7,1483.8 777.9,1477.3 781,1470.5 781.7,1463.1 782,1455.8 785,1448 781.2,1441.8 780.6,1432.8 778,1425.6 780.9,1419.2 781.4,1411 785.3,1402.6 782,1396 782.1,1387.4 782.4,1381.1 778.6,1373.8 781.1,1364.9 780.5,1357 785,1349.5 782.9,1340.7 785.1,1334.5 781.5,1326.3 783.3,1319.2 780.4,1311.3 783.2,1302.1 781.5,1296.1 785.3,1286.9 782.6,1278.7 783.2,1272.1 784.2,1265.1 781.7,1258.8 783.5,1252.6 784.4,1247.6 783.7,1242.8 783,1235.9 785.5,1227.5 783.6,1220.5 785.2,1213.7 782.8,1207.5 785.7,1198.6 784.6,1190.6 785.4,1184.4 787.1,1178.5 785.7,1174.7 783.9,1168.4 787.1,1162.9 786.8,1155.2 787.4,1149.2 787.4,1145.5 787,1137.3 785.2,1131 789.8,1123.8 787.5,1114.7 786.8,1107.9 785.9,1099.8 791.2,1093 787.5,1085.1 787.6,1077.4 787.7,1075.4 788.2,1067.6 787.4,1063.9 791.2,1059.8 794.1,1052.2 788.8,1043.1 791.8,1036 791.6,1029.3 790.7,1020 791.8,1014 790.1,1004.2 791.4,998.4 791.7,989.8 789.7,982.1 794.3,974.4 787.9,966.3 793.4,959.2 791.2,950.8 788.8,942.5 791.1,936.4 790.6,926.4 793.6,919.5 790.7,911.3 792.8,904 789.5,895.7 792.4,888.6 789.9,880.6 792.8,873.1 790.5,864.8 792.8,856.8 790.3,849 791.2,841.8 790.9,837.6 788.2,834 787.7,826.2 787.6,824.2 787.5,816.5 787.5,809.3 788,802.3 786,793.3 789.6,785.8 785.7,778.3 788.2,770.1 788,764.6 787.4,756.1 789.8,750.7 786.8,746.4 786.7,739.5 788.8,732.8 785.7,726.9 782.5,722.4 785.4,717.2 788.2,709.3 786,702.7 785.5,695.2 781.8,689 787.3,680.4 781.4,673.5 783.7,666.7 783.7,658.8 785,653.9 783.5,649 787.2,642 784.7,634.9 783.2,629.5 782,622.5 783.6,615.1 782.7,605.2 784,599.4 781.6,591.5 781.4,582 785.4,575.6 781.7,566.1 782.5,558.7 779.6,551.8 782.4,543.6 781.9,537.1 784.5,528.8 782.5,521.6 783.8,513.1 781,505.1 782,497.1 782,488.9 780.1,481.1 783,475.4 781.1,465.9 782.7,458.8 779.5,451.3 783,444.8 780.8,436.5 781.5,427.9 781,421.2 779.3,413.8 781.5,406.1 779.4,401.3 780.9,392.3 780,386.2 777.4,378.3 780.5,369.9 776.9,363.6 778.4,355.6 776.7,347 776.2,339.4 774.3,335.3 770.2,332"/><polygon points="804.8,359.3 801.8,363.7 799,366.7 795.2,374.2 799.9,381.2 793.9,388.9 798.6,397.6 791.5,404.5 797.4,412.5 793.2,421.2 793.3,428.5 792.8,436.7 793.3,442.8 793.1,452 792.6,460.4 793.4,467.4 792.9,474.4 793.4,481.8 792.4,489 793.2,497.1 794.5,506 792.2,513.7 793.9,520.5 792.3,529.1 794.4,537.8 791.9,545.4 794.4,552.9 792.7,560.9 794.5,568.6 791.6,575.9 793.7,584.5 791,592.6 793.5,598.9 791.7,608.3 794.2,615.5 792.5,622.3 795.8,631 793.2,639.3 793.7,646.2 795.8,651.8 792.7,658.8 793.6,665.5 795.7,673.8 792.6,680.1 795,687.6 792.5,692.7 794.3,699.3 791.3,707.4 790.8,713.7 793,720.7 790.7,726.9 789.4,733.2 790.6,741.6 787.7,749 789,756.1 788.7,762.3 786.4,768.6 789,775.6 788.6,782.1 786.2,791.1 788.8,797.1 788.9,804.8 786.9,812.2 789.6,818.8 788.8,824.2 786.5,829.5 788.2,834 787.1,838.9 785.2,841.8 784.3,848.2 785.2,853.4 786.4,857.2 785.2,863.2 785.2,871 784.4,878.4 787.3,886.2 784.5,894.8 786.3,902.4 784.5,911.5 786.6,919.9 784.1,926.2 785.6,934.4 783.7,943.4 785.2,950.8 785.9,958.9 785.2,966.3 787.2,974.7 784.2,983.3 785.6,991.9 782.9,997.9 785.7,1007.3 784.9,1014.7 788.3,1022.2 785.2,1030.6 785.2,1038.4 781.9,1043.9 785.2,1048.1 788.7,1054.1 785.2,1059.8 785.3,1063.7 788.2,1067.6 787.7,1072.4 788.8,1077.4 789.8,1083.4 790.6,1090.5 788.9,1096.8 788.2,1105 792.5,1110.7 785.3,1118.8 789,1126 791.9,1131.6 785.2,1140.2 789,1145.5 791.3,1153 787.8,1159.7 792.9,1166.4 790.7,1174.7 791.7,1180.9 790.5,1186.7 791.3,1194.2 789.3,1202.2 794.2,1207.4 789.8,1214.7 793.6,1221.2 791.4,1230 792.8,1237 792.7,1242.8 791.7,1249.4 793.5,1256.3 793.2,1262.3 792.7,1269 794.8,1278.5 792.4,1284.4 795.2,1292.2 792.6,1300.2 794.4,1308.1 791.7,1317 794,1324.2 792.6,1330.8 794.7,1338.8 791.6,1346.9 794.3,1356 792.3,1362.8 794.5,1369.8 791.9,1377.2 795.2,1387.1 790.4,1393.3 793.2,1401.5 794.7,1409.1 790.2,1416.9 796,1425.1 792.8,1432.8 792.3,1439.7 792,1446 796.2,1455.1 789.9,1460.7 795.5,1468.5 793.2,1476.9 792.3,1485.7 796.1,1493.2 796.3,1500.9 795.3,1508 793.8,1516.2 797,1523.8 799,1531.1 803.1,1534.1 804.8,1538.4 809.2,1538.4 813.8,1534.5 815.6,1531.1 814.8,1523.6 818.2,1515.3 815,1507.8 819.6,1499 816.9,1491.5 820.3,1483.9 819.4,1476.9 818.3,1468.5 821.5,1462.2 819.1,1453.9 820.4,1446.9 819.1,1438.3 821.8,1432 819.5,1424.5 820.6,1415.6 819.8,1409.9 821,1401.5 823.4,1392.6 820.5,1386.4 821.2,1379.1 819.4,1370.6 822.1,1362.1 820.8,1355.2 824.4,1348 823.6,1340.1 825.5,1332.2 822.5,1323.1 823.5,1317.3 820.2,1309.7 822,1300 819.1,1292.1 822.2,1284.8 821.4,1277.8 824.2,1271.2 823.7,1262.3 824.7,1256.3 827,1250.3 823.9,1242.8 825.1,1235.9 827.3,1229.1 824.3,1221.2 826,1215.3 822.8,1209.3 824.3,1201.7 824.3,1194.2 822.1,1187.3 824.4,1180.6 824.9,1174.7 822.9,1168.6 826.6,1160.6 825.2,1153.5 825.9,1145.5 828.5,1138.9 825.9,1132.9 826.5,1126 828,1117.6 826.4,1111.5 828.7,1105 828.4,1096.8 827.2,1089.5 829.5,1083 828.5,1077.4 828.1,1072.5 828.6,1067.6 828.6,1059.8 829.9,1053 828.6,1048.1 827.5,1043.2 829.3,1038.4 831.5,1033.7 832.3,1030.6 831.9,1022.8 834.8,1015.8 830.8,1005.7 832.1,998.1 831,989.7 835.1,983.1 832.4,974.1 832.3,966.9 829.9,958.2 832.3,950.8 834.5,943.3 828.9,933.9 834.3,925.7 833.2,919.5 830.6,910.2 832.5,904 834.1,894.7 828.9,885.8 836.1,877.9 832.3,871 828.3,866.7 829.3,863.2 831.9,858.2 828.6,853.4 828.6,847.2 828.6,841.8 828.6,834 831.5,828.3 828.5,824.2 828.9,818.2 828.2,810.6 828.4,804.8 825.7,798.2 829.4,789.6 825.9,784 826.5,775.6 828.3,768 824.9,763.2 825.9,756.1 826.1,748.3 824.5,741.4 826.7,735.4 824.9,726.9 823.9,719.6 825.5,715.1 824.3,707.4 822.4,699.3 824.4,692.8 822.6,687.7 824.9,680 823.3,671.5 826,665.3 823.9,658.8 822,653 824.6,646.1 823.7,639.3 821.9,631.7 825.5,624.3 820.6,615.9 825.2,608.8 821.8,600.3 822.4,590.7 823,583 821.5,576.3 821.8,568.1 822.4,559.2 822.2,552.1 821,544 822.7,537.8 823.7,528 818.3,520 820.1,512.9 818.7,505.7 821,497.1 822.1,490.3 818.9,482.3 819.7,473.5 820.6,467.9 823.3,459.6 820.6,452.5 820.8,443.3 817.1,436.9 822.2,429.3 819.4,421.2 819.4,413.8 819.7,405.5 815.6,398.9 816.9,390.7 815,381.5 816.6,373.5 815.6,366.7 811.5,363.9 809.2,359.3"/><polygon points="842.5,379.7 837.7,379.7 834.9,386.2 835,393.5 831.9,400.2 835.4,408.1 834.8,415.2 834.9,421.2 836.5,428.6 833,437 834.9,444.4 833,451.3 836.5,459.6 834.2,466.5 836.1,473.6 833.3,481.6 835.9,488.5 834.9,497.1 834.1,504.3 836.6,513.8 833.4,520 835.4,528.2 833.9,537.6 836.2,543.7 833.1,552.7 835.3,561.6 834.4,567.8 837.2,576.6 832.4,583.8 835.8,591.8 835.6,600.6 834.4,607.9 833.9,615.4 838.3,624.2 831.8,631.4 837.7,639.1 833.8,647.1 834.4,656.1 836,664.6 833.7,672.5 836.8,679.5 834.9,688 838.2,694.4 831.3,700 834.4,707.4 832.5,714.2 835.4,723.4 834.5,731 831.1,738.8 833.1,746.4 833.6,753.1 829.5,760.4 834.4,767.2 832.1,775.6 830.1,783.9 830.9,790.7 829.2,796.9 830.2,804.8 831.1,809.7 830.2,814.5 829.4,821.8 831.4,828.8 830.1,836.4 830.1,843.7 830.8,849.6 830.1,853.4 828.7,859.3 829.3,863.2 829.4,866.6 826.3,871 826.3,871 825,874.9 826.3,880.7 826.3,888.5 827.3,895.2 824.6,904.7 827.2,911.1 824.6,920.1 828.3,927.3 825,935.2 827.1,944 826.3,950.8 824.2,958.7 827.8,967.3 826.1,973.9 826.4,981.5 823.2,990.1 825.7,997.6 823.1,1004.1 826.3,1013.1 826.3,1020.9 827.9,1026.2 826.3,1030.6 826.3,1030.6 828.7,1035.3 829.3,1038.4 828.3,1044.3 830.1,1048.1 830.3,1053.3 830.1,1057.9 829,1064.5 831.7,1071.8 829.4,1080.7 830.2,1087.1 830.6,1093 830.2,1096.8 834.5,1103 828.3,1112.6 834.9,1119.4 832.1,1126 832.8,1132.9 831.6,1141.5 832.8,1147.7 833.1,1155.2 835.7,1161.9 831.3,1171.1 835.9,1179.1 833,1185.6 834.4,1194.2 836.6,1201.5 832.9,1207.2 834.9,1213.6 836.3,1220.6 833.4,1228.8 836.3,1238.1 834.4,1244.2 835.8,1253.7 834.1,1259.9 836.5,1267.1 834,1276.1 835.2,1283.1 833.7,1291.5 836.9,1299.7 833.9,1308.2 835.8,1314 832.6,1321.6 835.3,1329.9 834.8,1337.5 837.2,1346.8 835,1353.9 837.1,1362.3 834,1368.5 835.5,1376.6 832.8,1386.2 834.3,1392.4 834.9,1400.6 831.9,1408.6 834.1,1415.4 832.2,1424.3 834.5,1431.7 833.4,1439.3 836.7,1446.2 836.1,1452.7 838.7,1460.5 836.1,1469.6 834.9,1475.9 835,1483.3 831.4,1489.2 834.8,1496.5 834.7,1503.6 834.9,1510.7 837.7,1517 842.5,1517 846.9,1517 851.7,1517 855.7,1510.7 856.6,1503.6 856.5,1497.8 858.9,1489.3 855.7,1483.1 857.7,1475.9 859.1,1469.1 858.4,1461.9 858.9,1453.8 856,1446.3 861.4,1439 858.6,1430.2 857.2,1423.6 858.6,1416.1 861,1408.3 859.1,1400.6 860.4,1393 859.2,1384.2 859.5,1377.6 860.5,1369.6 858.4,1360.7 862,1354.4 859.2,1347.2 861.4,1338.5 861.6,1330.4 860.2,1322.3 862.2,1315 862.1,1307.2 859.2,1300.2 865.5,1292.1 861.4,1282.6 861.6,1275 862.2,1267.2 865.5,1261 861.8,1253.5 863.2,1244.8 862.8,1236.1 866,1228.3 863.5,1220.9 864.3,1213.6 866.1,1208.3 863.6,1200 864.5,1194.2 866.7,1186.6 863,1179.8 865.9,1170.2 863.5,1164 864.9,1155.2 866,1149.1 864.4,1140 866.1,1132.9 866,1126 865.6,1118.5 866.9,1112.4 864.8,1103.3 867,1096.8 867.5,1091.1 867.4,1087.1 865.8,1079.7 868,1073.6 866,1064.1 869.5,1057.9 869.6,1053.4 869.6,1048.1 869,1043.9 869.6,1038.4 869.7,1030.6 869.7,1030.6 870.7,1025.3 870.5,1020.9 868.8,1017.7 873.5,1013.1 877.3,1005.5 873.1,998.7 872.1,989.6 872.5,983.1 876.8,973.4 871.2,965.2 872.1,958.7 873.5,950.8 874.2,942.7 872.2,935.6 871.7,926.9 876.1,920.1 873.6,912 872.5,904.2 871.4,897.3 873.5,888.5 874.4,884.1 870.5,880.7 868.9,874.8 869.7,871 869.7,871 869.6,863.2 870,858.3 869.6,853.4 869.2,847.8 869.5,843.7 870.8,835.3 867.9,828.6 868.5,821.2 867.4,814.5 865.3,809.4 867,804.8 867.8,797.7 865.3,791.2 867.7,783.3 866,775.6 865.1,767.3 867.5,761 865.1,754.2 864.9,746.4 866.6,739.7 864.4,730.7 867,724 864.2,715.1 864.5,707.4 866.8,701.5 864.4,694.3 864.3,688 866.8,680.2 863.4,671.4 864.2,663.5 860.3,655 861.8,647.5 859.8,640.7 863.8,631.4 863.4,624.9 865.8,616.9 860.7,607.3 860.8,601.4 859.6,592.3 865.1,585.7 861.5,577.5 859.9,569.6 858.2,560 864.4,553.6 858.6,545.8 859.2,536.1 860.5,528.2 860,521.7 857.6,512.8 861.6,505.6 859.1,497.1 858.7,489.9 858.6,481.3 858.9,474.6 858.9,466.1 857.9,459.4 858.7,451.7 857.6,442.8 859,436.8 855.9,429.9 857.7,421.2 858.4,413.4 855,407 858.5,401.3 855.7,392.1 855.7,386.2 851.7,379.7 846.9,379.7"/><polygon points="881.1,384.6 876.8,384.6 876.7,392 877,399.3 873,406.2 877,412.9 876.7,421.2 878.3,429.4 878,435.5 873.4,445.2 875.8,452.5 875,458 879.4,467 877.8,475.2 878,482.3 874.5,490.2 876.7,497.1 876.4,505 876.2,514.2 879.9,521.6 876.8,529.2 877.3,536.7 874.1,544.6 876.8,553.2 875.7,561.7 879.2,569.2 876.6,576.4 877.7,585 874.5,591.5 876.9,601 875.3,607.7 878.4,615.7 876,624.2 877.7,632.8 875.2,639.7 877.7,648.8 876.1,656.6 878.6,662.4 874.8,670.5 877.1,679.7 876.4,687.5 878.9,694.8 875,702.9 876.3,710.5 876,719.3 876.7,726.9 876.5,734.1 873.4,740.5 876.1,746.4 877.9,753.8 872.5,759.9 877.3,767.3 875,775.6 871.3,784.2 877.1,792.1 873.1,798.1 874,807 873.6,814.5 869.2,822.8 876.5,828.4 867.9,835.3 871.5,843.7 870.2,850.2 872.9,856.6 870.7,865.3 871.3,871 871.1,872.9 870.6,878.8 870.5,880.7 869.3,885.8 867.5,888.5 867.5,896.3 870.5,903 865.9,911.2 866.9,920.2 865.8,927.1 868.3,934.8 867.3,942.1 867.5,950.8 869,958.4 867.5,967.4 868.9,973.8 867,982.7 868.1,988.7 866,998.5 867.5,1005.3 867.5,1013.1 870,1016.9 870.5,1020.9 870.6,1022.8 871.1,1028.7 871.3,1030.6 870,1036.4 873.1,1044.9 871.1,1051.9 871.5,1057.9 873.6,1065.1 872.1,1072.6 874,1079.9 873.6,1087.1 872.4,1093.7 874.5,1103.4 873.8,1110.5 877.7,1117.7 875,1126 872.9,1133.1 878.7,1141.2 873.4,1148.2 876.1,1155.2 879.2,1162.8 877.4,1168.9 876.7,1174.7 878.9,1182.7 877.6,1190.3 880.1,1197.4 873.6,1205.3 877.2,1212.7 877.4,1222.2 875.4,1228.3 876.9,1237.2 877.9,1245 873.8,1252.6 879.6,1260.2 875.6,1266.7 876,1276.8 876.4,1284 879.4,1290 874.7,1300.1 876.7,1306.2 875.9,1314.8 879.1,1323 874.7,1329.9 877.4,1337.3 876.1,1344.6 878.1,1352.9 875.2,1361.3 878.2,1369 875.6,1377.4 877.5,1385.2 875.4,1392.8 876.7,1399.8 878.4,1406.6 875.1,1413.8 878.4,1423.1 875.6,1429.8 877.3,1437.8 875.9,1443.9 877,1453.4 876.7,1460.9 877.6,1466.3 876.7,1475 876.9,1482.8 878.4,1490.3 874.2,1495.7 876.7,1503.9 876.8,1511.1 881.1,1511.1 885.5,1511.1 889.8,1511.1 893.4,1506.6 893.8,1503.9 893.8,1496.2 896.8,1489.4 894.3,1481.2 896.8,1475 897.8,1468.4 895.5,1460.5 899,1452.7 896.5,1444.3 897.8,1437.4 895.7,1431 899.4,1422.7 897.7,1414.5 898.4,1408.5 898.3,1399.8 897.6,1392 900.8,1385.1 899.4,1377.3 899.8,1368.2 897.1,1360.7 899.4,1352.9 898.3,1346.1 902,1338.3 900.9,1330.8 903.3,1322.9 900.4,1315.1 901.7,1305.7 898,1299.1 899.9,1291.8 898.4,1283.1 901.6,1276.6 900.4,1268.8 904.4,1259.9 903.5,1252.2 905.8,1244.3 903.3,1236.5 905.5,1230 902,1222.3 903.9,1212.3 900.8,1206.8 903.1,1197.7 902.2,1191.1 905.2,1182.7 904.6,1174.7 904.5,1169.2 907.1,1161.8 904.9,1155.2 904.5,1147.5 906.7,1141 903.6,1132.3 905.3,1126 906.3,1117.1 904.7,1109.8 907.5,1102 906.2,1094.7 906.9,1087.1 908.1,1079.2 905.9,1071.5 908.7,1065 908.1,1057.9 908,1051.7 910.9,1043.9 909.9,1036.7 910.3,1030.6 910.5,1028.7 910.7,1022.8 910.9,1020.9 911.6,1013.1 915,1009.2 914.6,1005.3 914.7,997.7 914.4,988.9 911.6,982.3 916.4,975 915.4,966.2 914.7,959.4 914.6,950.8 915.8,944.2 915.7,934.7 911.2,927.6 917.7,919.6 913.4,911.3 913.7,904.5 914.6,896.3 912.3,891.8 911.6,888.5 910.9,880.7 910.7,878.8 910.5,872.9 910.3,871 911.7,864.1 908.5,857.4 909.3,849.9 908.1,843.7 905.3,837.3 909.2,828.8 906.6,821.9 906.9,814.5 909.7,806.4 904.8,799.7 905.6,791.3 904.9,783.4 905.3,775.6 905.9,768.5 903.2,761.4 905.9,754.4 904.9,746.4 904.1,739 906,733.8 904.6,726.9 903.4,719.9 905.8,710 903.6,702 904.5,694.8 902.5,688.3 904.6,679 901.4,671.9 903.7,664.6 902,656.4 902.9,648 901.2,638.7 902.8,632 900.2,624.1 903.1,615.1 899,607.3 903.8,601.2 898.2,591.5 904,584.3 896.9,576 903.7,568.2 897.4,561.5 898.9,552.3 899.8,544.6 903,537.2 900.9,529.2 901.8,520.7 895.7,512.4 900.2,504.2 898.3,497.1 899.7,489.1 899.5,482.5 895.8,473.5 898.6,465.7 897.9,459.1 899.2,451 895,443.1 899.3,436.8 895.6,428.4 896.8,421.2 897.7,413.4 895.2,405.8 896.4,400.1 893.8,392 891.3,387.1 889.8,384.6 885.5,384.6"/><polygon points="920.5,396.3 918.6,396.3 919.9,401.4 918.6,405.6 917,411.9 920.3,417.5 918.6,425.1 916.9,433.1 919.8,439 917.1,446 918.9,454.7 917.4,462.3 920,467.5 917.4,474.6 918.9,483.8 917.7,489.2 918.6,497.1 919.5,505.1 916.6,511.8 918.7,520.2 918.8,529.7 921.9,536.3 918.5,544.4 919.3,551.9 915.1,561 917.7,568 916.5,575.1 921.4,583.5 919.6,590.3 922,599.5 919.1,608.1 919.4,615 915.5,622.3 917.4,631.1 914.8,638 918,646.4 917.3,654 920.9,662.6 919.9,669.1 921.6,677.7 919.5,686.5 920.2,693.2 916.9,700.7 918.1,708.4 915.7,716.5 918.8,723.9 917,732.5 919.7,739.9 918.6,748.3 918.6,756.1 920.6,762.3 917,769.4 917.9,775.6 918.2,781.7 915.9,787.6 917.1,795 917.7,802.1 915.3,807.9 917.4,816.9 915.5,823.4 917.5,829.3 914.4,837.4 915.1,843.7 914.9,850.2 913.3,856.9 913.5,863.2 915.1,867.4 912.7,872.9 912.5,878.8 912.2,882.7 911.6,888.5 910.1,892.4 910.1,892.4 908.6,896.3 908.6,900.2 909.3,908.4 910.5,914.2 906.1,921.5 908.6,928.8 908.7,935.2 910.8,943.7 908.6,950.8 906.4,957.6 912.2,965.1 907.8,973.5 907.1,980.2 908.9,986.2 910.7,994.9 908.6,1001.4 908.6,1005.3 910.1,1009.2 910.1,1009.2 911.6,1013.1 912.2,1018.9 912.5,1022.8 912.7,1028.7 911.3,1034.5 913.5,1038.4 917.2,1045 911,1051.5 915.1,1057.9 915.7,1064.6 915.6,1071.8 916,1079.3 916.5,1086.3 915.7,1093 916.8,1100.2 917.1,1106.6 917.8,1113.2 918.1,1120.7 917.9,1126 919.4,1131.9 918.1,1138.6 918.6,1145.5 919.1,1154 916.5,1162.4 919.3,1169.1 917,1176.1 919,1185.7 917.1,1193.4 919.9,1200.7 918.1,1207.9 919.5,1217.2 917.9,1224.6 920.6,1232.3 917.1,1239.3 920.6,1246.8 917.4,1255.3 919.8,1262.6 917.3,1270.4 920.1,1278.7 916.6,1285.9 920.8,1294.4 916.2,1302 921.1,1310.9 915.9,1318.1 921.4,1326.4 915.5,1334.3 919,1340.9 920.2,1350.4 919.9,1358 916.2,1366 918.6,1372.9 918.4,1381.3 922.3,1389.3 915.4,1397.4 918.6,1404.5 917.5,1411.1 916.1,1418.2 920.1,1425 917.4,1433.1 918.1,1439.5 915.7,1446.8 921.5,1454.4 916.6,1463.3 920.7,1470.3 918.6,1476.5 918.8,1484 919.5,1489.6 918.6,1496 918.8,1500.8 918.6,1505.3 920.5,1505.3 924.9,1505.3 928.7,1505.3 931.4,1500.8 932.7,1496 931.5,1490.6 935.4,1483.2 934.7,1476.5 934.7,1469.4 936.1,1462.9 933.7,1454.6 936.4,1448.6 935.5,1439.5 938.5,1433.1 936.1,1426.9 937,1418.1 935.9,1411.1 937.7,1404.5 939.4,1396.5 935.2,1389 939.4,1381.7 938.7,1374.1 938.3,1365.9 936.8,1357.9 942.6,1349.9 937.1,1342.7 940.9,1333.2 940.4,1325.2 938.6,1318.4 942,1309.1 939.8,1302.7 940.9,1293.5 940.5,1285.8 941.2,1279.6 940.4,1271 942.7,1263.5 940.5,1255.5 943,1246.5 943.1,1239.7 939.9,1232.7 945.5,1222.8 942.4,1216.5 942.7,1208.1 941.4,1200.9 946.6,1193.3 944.1,1184.6 944.6,1177.2 942.1,1168.9 944.5,1160.4 943.3,1153.9 945,1145.5 946.7,1138.1 943.5,1132.8 945.4,1126 947.2,1120.3 944.1,1113.7 945.7,1106.6 947.5,1100.7 945.6,1092.7 947,1085.3 946.3,1078.2 948.3,1071 946.6,1065 948,1057.9 949.3,1052.1 946.8,1045.9 948.9,1038.4 950.9,1032.6 949.7,1028.7 950.3,1022.8 950.6,1018.9 951.2,1013.1 951.5,1009.2 952.8,1009.2 954.3,1005.3 955.8,1001.4 955.4,995.2 957.6,986.1 956.7,979 959.3,973.4 956,964.1 955.2,958.9 955.8,950.8 955.7,943.7 958.9,936.1 952.8,930.2 955.4,921.7 957,915.3 955.6,906.9 955.8,900.2 954.3,896.3 952.8,892.4 951.5,892.4 951.2,888.5 950.6,882.7 950.3,878.8 949.7,872.9 947.1,867.4 948.9,863.2 951.7,857.6 947.4,850.4 948,843.7 949.9,837.4 946.7,829.7 946.5,822.9 946.1,816.9 948.5,808.8 943.7,802.2 945.7,795 947.4,787.9 945.4,782.7 945.4,775.6 945.6,769.4 943.5,762.3 945,756.1 945.9,748.5 942.5,740.9 945.3,733.3 943.5,725 945.2,717.3 942.6,709.8 944.2,700.9 941.9,694.1 943.7,685.6 941.1,678.2 943.5,669 941.1,662.6 944,654.2 942.1,645.6 943.6,638.8 941.3,630 943.5,622.5 941.6,615.5 943.3,606.4 941.4,600 943.7,590.4 941.4,582.4 943,576 940,567.2 940.9,558.8 936.5,552.9 937.8,543.8 935.2,537.4 939.3,528.8 939,521.7 942.2,513.2 937.2,504.1 937.7,497.1 936.7,489.8 936.9,482.7 939.9,474.8 934.6,468.5 935.5,460.4 935.6,453 938,446.4 933,440.6 935.4,432.3 934.7,425.1 932.3,419.5 933.7,413 932.7,405.6 929.2,400.6 928.7,396.3 924.9,396.3"/><polygon points="960.8,408 960.6,408 960.6,413.4 963.1,419.5 957.9,427.8 960.6,434.8 960.5,443 960.9,449.4 964.5,459.1 959.8,467 959.9,472.9 957.4,482.6 961.3,488.4 960.6,497.1 961,505.8 962.1,513.4 958,520.8 960.5,529.1 958.8,537.8 962.2,544.1 960.4,552.5 961.7,559.6 958.9,569.9 960.9,576 959.5,584.9 961.8,591.8 959.9,600.2 961.8,607.6 959.3,617.5 961.7,624.8 959.7,631.6 961.8,640.2 959.1,648.2 961,655.2 959,663.6 962.4,672.9 959.2,679.8 960.6,688.9 959.3,695.1 962.8,703.6 959.7,710.9 960.6,720.7 960.3,727.4 962.3,736.8 957.9,743.6 962.9,752.3 959.7,760.8 960.1,767.9 960.6,775.6 957.9,782.3 959.4,788.6 959.8,795 956.1,803.6 962.6,809.2 955.7,818.1 961.5,824.5 955,832 960.9,840.1 954,847.8 960.3,854.7 956.7,863.2 955.1,868.7 957.5,875.1 954.9,882.7 954.5,886.3 954,892.4 952.8,892.4 953.8,897.3 949.8,900.2 949.9,907.3 951.5,915.3 948.3,921.5 949.7,928.3 948,936 950.4,943.8 949.8,950.8 949.1,957.1 951.4,964.6 949,972.1 951.4,980 949.2,986.6 951,993.8 949.8,1001.4 950.4,1006.2 952.8,1009.2 954,1009.2 955.4,1014.7 954.9,1018.9 954.5,1025.4 957,1031.4 956.7,1038.4 956.2,1046.7 958.6,1053.9 956.1,1061 959.3,1068.4 958.5,1076.3 961.6,1083.8 957.7,1091.1 958.8,1098.2 959.8,1106.6 957.1,1112.6 962.6,1119.1 960.6,1126 956.8,1134.6 961.1,1141.1 960.3,1149.2 962.7,1157 958.9,1166 959,1172.5 958.7,1181.2 964.6,1189.7 957.1,1196.8 964,1204.8 957.7,1212.2 963.7,1220.8 956.9,1228.6 962.3,1235.9 960.9,1244.4 959.8,1251.1 960.2,1258.6 962.5,1268.6 958,1275.8 962.2,1283.9 960.8,1291 960.5,1298.2 959,1306.9 962.9,1314.7 958.8,1322 961.7,1331 959.6,1338.1 961.7,1345.9 960.2,1353.4 960.9,1361.3 960,1369.6 961.1,1378.5 960.1,1385.8 961.2,1394.5 960.6,1401.2 959.2,1410 961.3,1416 960.4,1425.2 960.6,1431.7 959,1438.9 962.9,1447.4 959.1,1456.4 960.6,1463.1 962.7,1469.5 961.3,1477.4 960.6,1484.4 960.6,1489.7 960.8,1489.7 965.2,1489.7 969,1489.7 972,1484.4 973.9,1476.9 970,1469.1 974,1463.1 976.3,1455.5 976.6,1448.1 977.7,1440.7 972.9,1433.1 974.5,1424.1 973.7,1416.5 978.7,1408.4 977,1401.2 977.8,1392.4 978.1,1386.5 974.4,1377.1 977.7,1368.8 977.9,1362.7 980.9,1353.7 979,1346.7 979.7,1339.4 977.7,1331.5 979.9,1322.5 978.8,1314.1 982.4,1306.9 979.7,1299.9 981.8,1292 979.6,1282.8 981.7,1275.5 980.8,1268.5 983,1259.4 981,1251.4 983,1244 980.6,1235.8 984.5,1229.1 982.7,1221.4 984.5,1211.9 981.4,1205.6 984.8,1197.7 984.3,1189.7 985,1182.1 981.7,1172.9 986.3,1165.6 985,1157 985.1,1149.4 984.5,1141.1 989,1134 986.1,1126 985.3,1120.6 989.8,1112.2 986.9,1106.6 985.8,1098.8 990.6,1091.2 984.4,1084.4 992.3,1075.5 985.3,1068.7 992.2,1061.8 986,1053.2 992.8,1045.4 990,1038.4 992,1031.4 989.7,1024.9 991.8,1018.9 988.8,1013.2 992.7,1009.2 993.9,1009.2 995.4,1005.7 996.9,1001.4 994.7,995 999.6,986.3 997.1,978.7 997.3,971.4 994.5,965.5 998.3,957.9 996.9,950.8 996.8,943.5 998.9,935.4 996.4,929.1 998.1,922.1 996.1,915.8 998,908.4 996.9,900.2 994.2,897 993.9,892.4 992.7,892.4 993.5,887 991.8,882.7 990.1,877.1 991.4,869.7 990,863.2 988.8,855.6 991.2,849.2 987.6,839.9 989,833 986,826.5 988.3,818.4 985.2,810.7 987.5,803.3 986.9,795 987.3,787.9 986.7,783.2 986.1,775.6 986.4,768.4 984.7,760.2 985.2,752.9 987.2,744 982.1,736.6 983,726.9 980.3,719.9 982.8,711.2 982.3,704.4 987.6,695.8 980.4,688.1 984.3,679 981.2,671.8 984.8,664.8 979,656.4 985.1,648.5 979.6,639.8 981,631.3 981.6,624.3 982.4,617 977.5,607.8 980.8,600.8 980.1,591.6 981.1,584.9 977.1,575.5 981,567.6 978.1,562 979.3,553.1 977.5,544 980.1,536.7 976.4,527.8 979.1,522 976.2,513.1 978.9,505.7 977,497.1 975.8,489.8 977.3,480.9 975.4,474 976.1,466.2 975.2,457.6 975.4,451.3 972.8,442.1 974,434.8 974,427.2 970.1,421 972,413.4 969,408 965.2,408"/><polygon points="1001.7,423.6 1001.7,423.6 1001.7,429 1002.8,435.1 999.7,442.3 1003.5,450.7 1000.7,457.2 1001.7,464 1002.5,469.5 1001.5,476.4 1003.2,484 1000.5,490.5 1001.7,497.1 1002.6,504.4 1001.8,514.3 1003.6,521.4 999.6,528.9 1001.5,536.1 1000.6,544.5 1004.4,552.3 1002.4,560.7 1003.6,568.7 998.6,576.8 1000.6,584 998.7,592.5 1003.7,600.6 1003.3,609.1 1005,617.7 1002.1,624 1002.3,633.2 998.4,641.5 1001.7,649 1000.9,657.9 1000.3,665.4 1003.8,672.2 1002.9,681.6 1004.2,688.3 1001.3,697 1001.7,704.3 999,712 1001.3,720.2 1000.4,728.7 1003.5,735.4 1001.9,743.6 1003.2,752.7 1000.4,760 1002.5,767.9 1001.7,775.6 999.9,782.2 1002.2,789.4 1000.9,795 1000.2,801.8 1001.7,809.1 998.8,817.8 1000.4,825.5 997.1,833.6 1000.6,841.4 998.3,847.3 1000,856.2 997.8,863.2 995.1,870.4 997.5,876.9 996,882.7 996.3,888.3 995.1,892.4 993.9,892.4 993.1,895.6 990.9,900.2 988.9,906.8 994.1,915.4 990.2,920.9 989.7,929.2 989.7,936 994.7,944.6 990.9,950.8 988.3,957.2 994.6,965.4 989.9,973.6 989.8,978.7 992,987.7 990,994.4 990.9,1001.4 993.4,1006.5 993.9,1009.2 995.1,1009.2 995,1014.9 996,1018.9 994.2,1025.2 998.3,1032.8 997.8,1038.4 996.4,1046.2 999.4,1054.2 998.8,1062.1 998.8,1067.9 999.6,1076.3 1001.2,1083.3 997.3,1092.6 1001.5,1099 1000.9,1106.6 1000.3,1113.1 1002,1119.1 1001.7,1126 1001.1,1134.6 1003.5,1141.4 1001,1148.6 1003.1,1156.5 1001.2,1164.3 1002.9,1173.3 1000.2,1179.5 1002.6,1187.7 1001,1196.8 1002.8,1203.3 999.7,1212.4 1003.6,1218.9 1000,1226 1003,1235.4 1001.7,1241.8 1001.7,1250.4 1004.2,1259.4 999.7,1266.5 1004.6,1274.6 998.6,1283 1004,1289.1 999.7,1297.4 1001.8,1307 1002.4,1314.5 1004.4,1321.8 1001.6,1330 1003,1337.5 1002.8,1346.8 1005.1,1353.2 998.5,1362.2 1004.8,1369.6 998.4,1377 1003.3,1386.1 1003.1,1392.1 1001.7,1401.2 1004.1,1407 999.8,1413.4 1000.9,1420.7 1002.8,1427.9 1001.7,1434 1003.3,1440.5 999.2,1447.3 1005.1,1454.5 999.9,1462.9 1001.7,1468.8 1001.7,1474.2 1001.7,1474.2 1005.2,1474.2 1009,1474.2 1012.5,1468.8 1015.8,1461.8 1013.2,1455.7 1013.3,1446.9 1014.2,1440.5 1016,1434 1015,1427.2 1015.2,1420.6 1020.9,1415.3 1014,1408.6 1018,1401.2 1019.6,1392.2 1017.5,1384.7 1020.9,1378.3 1019.2,1369.9 1020,1361.7 1021.4,1354.5 1019.8,1344.9 1022.2,1337.9 1022.9,1330.9 1020.9,1322.7 1025.7,1313.2 1021.6,1304.9 1024.8,1297.5 1024.6,1290.3 1025.4,1282.8 1023.5,1274.9 1027.7,1266.1 1025.2,1258.2 1027,1250.4 1028.2,1242.7 1025.3,1235.4 1029,1226 1025.8,1219.1 1028.8,1212.5 1026.8,1204.6 1027.9,1194.9 1026.8,1188.3 1029.3,1181.2 1025.9,1173.3 1028.7,1164.9 1027.2,1157.5 1030.2,1149.9 1027.7,1140.8 1030.3,1134 1028,1126 1027.7,1119.4 1030,1112.5 1028,1106.6 1028.6,1098.2 1030.6,1091.2 1028,1083.3 1028.5,1077.3 1024.8,1067.7 1026.8,1061.9 1026.4,1054.1 1030.5,1045.4 1028,1038.4 1029.3,1031.5 1029.1,1025.8 1028,1018.9 1024.7,1013.3 1028,1009.2 1028,1009.2 1028,1001.4 1031.1,993.1 1029.3,986.7 1030.4,979.5 1026.5,973.2 1027.6,965.4 1024.6,958.9 1028,950.8 1029,943.5 1028.7,937 1031.2,928.2 1028.4,922.2 1029.9,913.6 1027,907 1028,900.2 1028,892.4 1028,892.4 1028.2,888.5 1028,882.7 1026.4,876.3 1028.4,869.4 1028,863.2 1026.8,855.5 1028.5,848.5 1026.9,841.4 1028.8,832.2 1027.1,825.9 1029.4,818.6 1026.8,810.5 1028.8,802.7 1028,795 1026.9,789.4 1028.5,782 1028,775.6 1026.3,767.7 1027.7,760.9 1026.3,751.5 1028.1,743.2 1027.1,735 1030.2,728.4 1027.8,719.8 1029.7,711.9 1025.5,705.6 1026.2,696.9 1024.3,688 1028.5,680.7 1028.4,673 1029.6,664.4 1023.7,657.4 1027,649 1028.9,640.8 1027.2,634.7 1025.6,626.3 1022.2,618.6 1028.3,609.9 1023.5,603.5 1022.7,596.7 1024.3,588.3 1024.8,580.1 1019.5,572.5 1025.5,565.8 1019.2,557 1023.1,550.2 1018.9,543.8 1021.6,534.1 1018.6,528.6 1020.4,519.8 1017.4,512.7 1020.2,503.7 1018,497.1 1017.5,490.6 1017.8,484.7 1016,477.7 1018.4,469.5 1016,464 1014.3,456.3 1016.1,449.5 1012.6,442.4 1014.3,435.3 1012.5,429 1009,423.6 1005.2,423.6"/><polygon points="1018,880.7 1024,884.6 1034.5,894.7 1040.6,904.7 1045.2,914.8 1048.4,924.8 1050.4,934.9 1051,945 1050.4,955 1048.4,965.1 1045.2,975.1 1040.6,985.2 1034.5,995.3 1024,1005.3 1018,1009.2"/></g>
<polygon points="175.5,857.3 205.2,857.3 219.2,857.3 246.4,857.3 260.4,857.3 287.5,857.3 301.5,857.3 328.7,857.3 342.7,857.3 369.8,857.3 383.8,857.3 410.9,853.4 424.9,853.4 452.1,851.5 466.1,851.5 493.2,814.5 507.2,814.5 534.4,785.3 548.4,785.3 575.5,726.9 589.5,726.9 616.6,674.3 630.6,674.3 657.8,697.7 671.8,697.7 698.9,834 712.9,834 740.1,845.7 754.1,845.7 781.2,853.4 795.2,853.4 822.3,882.7 836.3,882.7 863.5,900.2 877.5,900.2 904.6,908 918.6,908 945.8,911.9 959.8,911.9 986.9,911.9 1000.9,911.9 1020,911.9 1020,989.7 1000.9,989.7 986.9,989.7 959.8,989.7 945.8,989.7 918.6,993.6 904.6,993.6 877.5,1001.4 863.5,1001.4 836.3,1018.9 822.3,1018.9 795.2,1048.2 781.2,1048.2 754.1,1055.9 740.1,1055.9 712.9,1067.6 698.9,1067.6 671.8,1203.9 657.8,1203.9 630.6,1227.3 616.6,1227.3 589.5,1174.7 575.5,1174.7 548.4,1116.3 534.4,1116.3 507.2,1087.1 493.2,1087.1 466.1,1050.1 452.1,1050.1 424.9,1048.2 410.9,1048.2 383.8,1044.3 369.8,1044.3 342.7,1044.3 328.7,1044.3 301.5,1044.3 287.5,1044.3 260.4,1044.3 246.4,1044.3 219.2,1044.3 205.2,1044.3 175.5,1044.3" fill="#bf00bf"/>
<polygon points="606.4,326.9 608.6,332.9 615,333.2 610,337.1 611.7,343.2 606.4,339.7 601.1,343.2 602.8,337.1 597.8,333.2 604.2,332.9" fill="#bf00bf" stroke="#bf00bf" stroke-width="1.5"/><polygon points="606.4,1556.7 608.6,1562.6 615,1562.9 610,1566.8 611.7,1572.9 606.4,1569.4 601.1,1572.9 602.8,1566.8 597.8,1562.9 604.2,1562.6" fill="#bf00bf" stroke="#bf00bf" stroke-width="1.5"/><polygon points="648.8,275 651,280.9 657.4,281.2 652.4,285.1 654.1,291.2 648.8,287.7 643.5,291.2 645.2,285.1 640.2,281.2 646.6,280.9" fill="#bf00bf" stroke="#bf00bf" stroke-width="1.5"/><polygon points="648.8,1603.4 651,1609.3 657.4,1609.6 652.4,1613.6 654.1,1619.7 648.8,1616.2 643.5,1619.7 645.2,1613.6 640.2,1609.6 646.6,1609.3" fill="#bf00bf" stroke="#bf00bf" stroke-width="1.5"/><polygon points="689,215 691.2,220.9 697.6,221.2 692.6,225.2 694.3,231.3 689,227.8 683.7,231.3 685.4,225.2 680.4,221.2 686.8,220.9" fill="#bf00bf" stroke="#bf00bf" stroke-width="1.5"/><polygon points="689,1669.6 691.2,1675.5 697.6,1675.8 692.6,1679.8 694.3,1685.9 689,1682.4 683.7,1685.9 685.4,1679.8 680.4,1675.8 686.8,1675.5" fill="#bf00bf" stroke="#bf00bf" stroke-width="1.5"/><polygon points="730.2,286.1 732.4,292 738.8,292.3 733.8,296.2 735.5,302.3 730.2,298.8 724.9,302.3 726.6,296.2 721.6,292.3 728,292" fill="#bf00bf" stroke="#bf00bf" stroke-width="1.5"/><polygon points="730.2,1591.7 732.4,1597.7 738.8,1597.9 733.8,1601.9 735.5,1608 730.2,1604.5 724.9,1608 726.6,1601.9 721.6,1597.9 728,1597.7" fill="#bf00bf" stroke="#bf00bf" stroke-width="1.5"/><polygon points="768,323 770.2,329 776.6,329.3 771.6,333.2 773.3,339.3 768,335.8 762.7,339.3 764.4,333.2 759.4,329.3 765.8,329" fill="#bf00bf" stroke="#bf00bf" stroke-width="1.5"/><polygon points="768,1548.9 770.2,1554.8 776.6,1555.1 771.6,1559 773.3,1565.2 768,1561.7 762.7,1565.2 764.4,1559 759.4,1555.1 765.8,1554.8" fill="#bf00bf" stroke="#bf00bf" stroke-width="1.5"/><polygon points="807,350.3 809.2,356.2 815.6,356.5 810.6,360.5 812.3,366.6 807,363.1 801.7,366.6 803.4,360.5 798.4,356.5 804.8,356.2" fill="#bf00bf" stroke="#bf00bf" stroke-width="1.5"/><polygon points="807,1529.4 809.2,1535.3 815.6,1535.6 810.6,1539.6 812.3,1545.7 807,1542.2 801.7,1545.7 803.4,1539.6 798.4,1535.6 804.8,1535.3" fill="#bf00bf" stroke="#bf00bf" stroke-width="1.5"/><polygon points="844.7,370.7 846.9,376.7 853.3,377 848.3,380.9 850,387 844.7,383.5 839.4,387 841.1,380.9 836.1,377 842.5,376.7" fill="#bf00bf" stroke="#bf00bf" stroke-width="1.5"/><polygon points="844.7,1508 846.9,1513.9 853.3,1514.2 848.3,1518.2 850,1524.3 844.7,1520.8 839.4,1524.3 841.1,1518.2 836.1,1514.2 842.5,1513.9" fill="#bf00bf" stroke="#bf00bf" stroke-width="1.5"/><polygon points="883.3,375.6 885.5,381.6 891.9,381.8 886.9,385.8 888.6,391.9 883.3,388.4 878,391.9 879.7,385.8 874.7,381.8 881.1,381.6" fill="#bf00bf" stroke="#bf00bf" stroke-width="1.5"/><polygon points="883.3,1502.1 885.5,1508.1 891.9,1508.4 886.9,1512.3 888.6,1518.4 883.3,1514.9 878,1518.4 879.7,1512.3 874.7,1508.4 881.1,1508.1" fill="#bf00bf" stroke="#bf00bf" stroke-width="1.5"/><polygon points="922.7,387.3 924.9,393.2 931.3,393.5 926.3,397.5 928,403.6 922.7,400.1 917.4,403.6 919.1,397.5 914.1,393.5 920.5,393.2" fill="#bf00bf" stroke="#bf00bf" stroke-width="1.5"/><polygon points="922.7,1496.3 924.9,1502.2 931.3,1502.5 926.3,1506.5 928,1512.6 922.7,1509.1 917.4,1512.6 919.1,1506.5 914.1,1502.5 920.5,1502.2" fill="#bf00bf" stroke="#bf00bf" stroke-width="1.5"/><polygon points="963,399 965.2,404.9 971.6,405.2 966.6,409.1 968.3,415.3 963,411.8 957.7,415.3 959.4,409.1 954.4,405.2 960.8,404.9" fill="#bf00bf" stroke="#bf00bf" stroke-width="1.5"/><polygon points="963,1480.7 965.2,1486.7 971.6,1486.9 966.6,1490.9 968.3,1497 963,1493.5 957.7,1497 959.4,1490.9 954.4,1486.9 960.8,1486.7" fill="#bf00bf" stroke="#bf00bf" stroke-width="1.5"/><polygon points="1003,414.6 1005.2,420.5 1011.6,420.8 1006.6,424.7 1008.3,430.8 1003,427.3 997.7,430.8 999.4,424.7 994.4,420.8 1000.8,420.5" fill="#bf00bf" stroke="#bf00bf" stroke-width="1.5"/><polygon points="1003,1465.2 1005.2,1471.1 1011.6,1471.4 1006.6,1475.3 1008.3,1481.4 1003,1477.9 997.7,1481.4 999.4,1475.3 994.4,1471.4 1000.8,1471.1" fill="#bf00bf" stroke="#bf00bf" stroke-width="1.5"/><polygon points="689,238 691,243.3 696.6,243.5 692.2,247 693.7,252.5 689,249.3 684.3,252.5 685.8,247 681.4,243.5 687,243.3" fill="#bf00bf" stroke="#bf00bf" stroke-width="1.5"/><polygon points="689,1647.6 691,1652.9 696.6,1653.1 692.2,1656.7 693.7,1662.1 689,1659 684.3,1662.1 685.8,1656.7 681.4,1653.1 687,1652.9" fill="#bf00bf" stroke="#bf00bf" stroke-width="1.5"/><polygon points="606.4,345.1 608.4,350.4 614,350.6 609.6,354.1 611.1,359.5 606.4,356.4 601.7,359.5 603.2,354.1 598.8,350.6 604.4,350.4" fill="#bf00bf" stroke="#bf00bf" stroke-width="1.5"/><polygon points="606.4,1540.5 608.4,1545.8 614,1546.1 609.6,1549.6 611.1,1555 606.4,1551.9 601.7,1555 603.2,1549.6 598.8,1546.1 604.4,1545.8" fill="#bf00bf" stroke="#bf00bf" stroke-width="1.5"/><path d="M689 1633V1651M680 1642H698" stroke="#ff0000" stroke-width="3" fill="none"/>
</g>
<rect x="133.5" y="122.0" width="952.5" height="1634.0" fill="none" stroke="#5c5c5c" stroke-width="5.0" opacity="0.8"/>
<g stroke="#5c5c5c" stroke-width="4.2" opacity="0.85"><line x1="176.1" y1="1756.0" x2="176.1" y2="1767.5"/><line x1="363.1" y1="1756.0" x2="363.1" y2="1767.5"/><line x1="550.1" y1="1756.0" x2="550.1" y2="1767.5"/><line x1="737.1" y1="1756.0" x2="737.1" y2="1767.5"/><line x1="924.1" y1="1756.0" x2="924.1" y2="1767.5"/><line x1="122.0" y1="1729.6" x2="133.5" y2="1729.6"/><line x1="122.0" y1="1534.9" x2="133.5" y2="1534.9"/><line x1="122.0" y1="1340.2" x2="133.5" y2="1340.2"/><line x1="122.0" y1="1145.5" x2="133.5" y2="1145.5"/><line x1="122.0" y1="950.8" x2="133.5" y2="950.8"/><line x1="122.0" y1="756.1" x2="133.5" y2="756.1"/><line x1="122.0" y1="561.4" x2="133.5" y2="561.4"/><line x1="122.0" y1="366.7" x2="133.5" y2="366.7"/><line x1="122.0" y1="172" x2="133.5" y2="172"/></g>
<g font-family='"DejaVu Sans","Liberation Sans",sans-serif' font-size="29.9" fill="#262626" stroke="#262626" stroke-width="0.55"><text x="176.1" y="1800.5" text-anchor="middle">0</text><text x="363.1" y="1800.5" text-anchor="middle">1000</text><text x="550.1" y="1800.5" text-anchor="middle">2000</text><text x="737.1" y="1800.5" text-anchor="middle">3000</text><text x="924.1" y="1800.5" text-anchor="middle">4000</text><text x="111.5" y="1740.4" text-anchor="end">−4</text><text x="111.5" y="1545.7" text-anchor="end">−3</text><text x="111.5" y="1351" text-anchor="end">−2</text><text x="111.5" y="1156.3" text-anchor="end">−1</text><text x="111.5" y="961.6" text-anchor="end">0</text><text x="111.5" y="766.9" text-anchor="end">1</text><text x="111.5" y="572.2" text-anchor="end">2</text><text x="111.5" y="377.5" text-anchor="end">3</text><text x="111.5" y="182.8" text-anchor="end">4</text><text x="134.5" y="112.5">1e8</text><text x="609.8" y="1842.0" text-anchor="middle">Database sampling</text></g>
<text x="442.8" y="104" font-family='"DejaVu Sans","Liberation Sans",sans-serif' font-size="35.4" fill="#262626" stroke="#262626" stroke-width="0.55">Prediction</text>
<g transform="translate(645.5,90.5)" font-family='"Liberation Serif","DejaVu Serif",serif' font-style="italic" fill="#45404a"><text x="0" y="0" font-size="52" textLength="33" lengthAdjust="spacingAndGlyphs">σ</text><text x="31" y="11" font-size="38" textLength="78" lengthAdjust="spacingAndGlyphs">xy,e</text><text x="110" y="22.5" font-size="29" textLength="40" lengthAdjust="spacingAndGlyphs">xx</text></g>
<g transform="translate(46,991) rotate(-90) scale(1.03)" font-family='"Liberation Serif","DejaVu Serif",serif' font-style="italic" fill="#45404a"><text x="0" y="0" font-size="52" textLength="33" lengthAdjust="spacingAndGlyphs">σ</text><text x="31" y="11" font-size="38" textLength="78" lengthAdjust="spacingAndGlyphs">xy,e</text><text x="110" y="22.5" font-size="29" textLength="40" lengthAdjust="spacingAndGlyphs">xx</text></g>
<rect x="713.5" y="138" width="356" height="143" rx="6" ry="6" fill="#fff" fill-opacity="0.8" stroke="#cccccc" stroke-opacity="0.8" stroke-width="3"/>
<line x1="722.5" y1="162.5" x2="786.5" y2="162.5" stroke="#ff0000" stroke-width="5.2" opacity="0.9"/>
<path d="M754.5 153.5V171.5M745.5 162.5H763.5" stroke="#ff0000" stroke-width="3" fill="none"/>
<text x="810.5" y="173" font-family='"DejaVu Sans","Liberation Sans",sans-serif' font-size="29.9" fill="#262626" stroke="#262626" stroke-width="0.55">NN_prediction</text>
<line x1="722.5" y1="207.8" x2="786.5" y2="207.8" stroke="#00bfbf" stroke-width="5.2" opacity="0.9"/>
<path d="M754.5 198.3L764 216.8H745Z" fill="#00bfbf" stroke="#00bfbf" stroke-width="2"/>
<text x="810.5" y="218.3" font-family='"DejaVu Sans","Liberation Sans",sans-serif' font-size="29.9" fill="#262626" stroke="#262626" stroke-width="0.55">NN_prediction_S</text>
<line x1="722.5" y1="253.2" x2="786.5" y2="253.2" stroke="#bf00bf" stroke-width="5.2" opacity="0.9"/>
<polygon points="754.5,243.7 756.8,250 763.5,250.3 758.3,254.4 760.1,260.9 754.5,257.2 748.9,260.9 750.7,254.4 745.5,250.3 752.2,250" fill="#bf00bf" stroke="#bf00bf" stroke-width="1.5"/>
<text x="810.5" y="263.7" font-family='"DejaVu Sans","Liberation Sans",sans-serif' font-size="29.9" fill="#262626" stroke="#262626" stroke-width="0.55">Data value</text>
<clipPath id="cp1"><rect x="1276.0" y="122.0" width="952.5" height="1634.0"/></clipPath>
<g clip-path="url(#cp1)">
<line x1="1379.4" y1="306.2" x2="1379.4" y2="269.7" stroke="#00bfbf" stroke-width="4.4"/><path d="M1379.4 259.7L1389.4 279.7H1369.4Z" fill="#00bfbf" stroke="#00bfbf" stroke-width="2" stroke-linejoin="miter"/><line x1="1584.9" y1="309.5" x2="1584.9" y2="249" stroke="#00bfbf" stroke-width="4.4"/><path d="M1584.9 239L1594.9 259H1574.9Z" fill="#00bfbf" stroke="#00bfbf" stroke-width="2" stroke-linejoin="miter"/><line x1="1626" y1="253.9" x2="1626" y2="203.2" stroke="#00bfbf" stroke-width="4.4"/><path d="M1626 193.2L1636 213.2H1616Z" fill="#00bfbf" stroke="#00bfbf" stroke-width="2" stroke-linejoin="miter"/><line x1="1708.2" y1="271.4" x2="1708.2" y2="222.8" stroke="#00bfbf" stroke-width="4.4"/><path d="M1708.2 212.8L1718.2 232.8H1698.2Z" fill="#00bfbf" stroke="#00bfbf" stroke-width="2" stroke-linejoin="miter"/><line x1="1420.5" y1="322.6" x2="1420.5" y2="285" stroke="#ff0000" stroke-width="4.4"/><path d="M1420.5 276V294M1411.5 285H1429.5" stroke="#ff0000" stroke-width="3" fill="none"/><line x1="1790.4" y1="422.9" x2="1790.4" y2="383.1" stroke="#ff0000" stroke-width="4.4"/><path d="M1790.4 374.1V392.1M1781.4 383.1H1799.4" stroke="#ff0000" stroke-width="3" fill="none"/><line x1="2119.2" y1="628.9" x2="2119.2" y2="597.8" stroke="#ff0000" stroke-width="4.4"/><path d="M2119.2 588.8V606.8M2110.2 597.8H2128.2" stroke="#ff0000" stroke-width="3" fill="none"/><line x1="2160.3" y1="652.8" x2="2160.3" y2="612" stroke="#ff0000" stroke-width="4.4"/><path d="M2160.3 603V621M2151.3 612H2169.3" stroke="#ff0000" stroke-width="3" fill="none"/><line x1="1379.4" y1="1559.7" x2="1379.4" y2="1594.1" stroke="#00bfbf" stroke-width="4.4"/><path d="M1379.4 1584.1L1389.4 1604.1H1369.4Z" fill="#00bfbf" stroke="#00bfbf" stroke-width="2" stroke-linejoin="miter"/><line x1="1584.9" y1="1552.1" x2="1584.9" y2="1619.1" stroke="#00bfbf" stroke-width="4.4"/><path d="M1584.9 1609.1L1594.9 1629.1H1574.9Z" fill="#00bfbf" stroke="#00bfbf" stroke-width="2" stroke-linejoin="miter"/><line x1="1626" y1="1608.8" x2="1626" y2="1679.1" stroke="#00bfbf" stroke-width="4.4"/><path d="M1626 1669.1L1636 1689.1H1616Z" fill="#00bfbf" stroke="#00bfbf" stroke-width="2" stroke-linejoin="miter"/><line x1="1667.1" y1="1549.9" x2="1667.1" y2="1600.6" stroke="#00bfbf" stroke-width="4.4"/><path d="M1667.1 1590.6L1677.1 1610.6H1657.1Z" fill="#00bfbf" stroke="#00bfbf" stroke-width="2" stroke-linejoin="miter"/><line x1="1708.2" y1="1592.4" x2="1708.2" y2="1636.6" stroke="#00bfbf" stroke-width="4.4"/><path d="M1708.2 1626.6L1718.2 1646.6H1698.2Z" fill="#00bfbf" stroke="#00bfbf" stroke-width="2" stroke-linejoin="miter"/><line x1="1502.7" y1="1606.6" x2="1502.7" y2="1636.6" stroke="#00bfbf" stroke-width="4.4"/><path d="M1502.7 1626.6L1512.7 1646.6H1492.7Z" fill="#00bfbf" stroke="#00bfbf" stroke-width="2" stroke-linejoin="miter"/><path d="M1502.7 360.4V378.4M1493.7 369.4H1511.7" stroke="#ff0000" stroke-width="3" fill="none"/><path d="M1584.9 365.9V383.9M1575.9 374.9H1593.9" stroke="#ff0000" stroke-width="3" fill="none"/><path d="M1626 404V422M1617 413H1635" stroke="#ff0000" stroke-width="3" fill="none"/><path d="M1708.2 376.8V394.8M1699.2 385.8H1717.2" stroke="#ff0000" stroke-width="3" fill="none"/><path d="M1749.3 464V482M1740.3 473H1758.3" stroke="#ff0000" stroke-width="3" fill="none"/><path d="M1543.8 464V482M1534.8 473H1552.8" stroke="#ff0000" stroke-width="3" fill="none"/><path d="M1626 1401.4V1419.4M1617 1410.4H1635" stroke="#ff0000" stroke-width="3" fill="none"/><path d="M1502.7 1401.4V1419.4M1493.7 1410.4H1511.7" stroke="#ff0000" stroke-width="3" fill="none"/><path d="M1461.6 1401.4V1419.4M1452.6 1410.4H1470.6" stroke="#ff0000" stroke-width="3" fill="none"/><path d="M1708.2 1434.1V1452.1M1699.2 1443.1H1717.2" stroke="#ff0000" stroke-width="3" fill="none"/><path d="M1584.9 1521.3V1539.3M1575.9 1530.3H1593.9" stroke="#ff0000" stroke-width="3" fill="none"/>
<g fill="#bf00bf" stroke="url(#spk)" stroke-width="6.8" stroke-linejoin="round" paint-order="stroke"><polygon points="1336.1,279.5 1336.1,295.9 1333.3,299.1 1334.2,305.6 1332.2,313.4 1334.7,321.9 1330.9,327.9 1332.9,336.9 1329.8,342.1 1331.3,350.4 1332.7,358 1329.4,367 1331.8,373.1 1328.7,380.8 1332.4,390 1330.5,397.1 1330.6,405.2 1327,413.3 1332,421.4 1330.1,427.7 1328.8,436.5 1327.5,444 1332.2,450.6 1329,459.4 1326.4,467.7 1333.1,475.2 1324.4,483.2 1331.9,490.9 1326.8,500 1328.4,507.2 1328.9,516.4 1327.2,523.3 1328.9,531.1 1327.2,538.6 1327.1,547 1329.7,554.3 1323,564.1 1330.9,571.2 1327,579.3 1324.5,585.3 1330.6,594.6 1323.1,600.1 1328.1,607.1 1325.7,614.7 1323.4,623.2 1324.2,630.1 1322.8,638.7 1326.1,646.1 1324.9,653.7 1326.9,662.2 1322.8,669.6 1325.6,676.3 1321.8,684.2 1323.4,692.1 1324.2,699.8 1321.5,704.3 1324,711.8 1319.3,717.8 1321.3,724.8 1322.2,731.4 1317.3,737.1 1318.4,743.3 1320.5,750.3 1316.7,758.4 1320.4,766.8 1316.5,773.4 1321.1,782.4 1316,790 1320.4,795.7 1317.8,804.4 1319.5,811.8 1318.3,819.6 1317.1,822.9 1312.7,827 1314.3,831.6 1313.6,838.6 1310.8,846.2 1316,853.3 1315.3,861.4 1316.8,870.9 1310.5,876.4 1316.4,885.8 1315.5,892.7 1312.7,900.6 1313.9,907 1316.3,915.5 1311,922.2 1314.3,930.8 1312.9,939.6 1314.6,945.6 1314.7,954.9 1311.8,961.6 1317.1,968.1 1310.1,976.3 1318.2,983.4 1311.6,991.9 1314.8,998.6 1314.9,1006.8 1314,1015.8 1313.8,1021.6 1314.3,1030 1316.5,1033.7 1317.1,1038.7 1318.3,1042 1318.6,1049.6 1319.6,1057.6 1316,1063.8 1319.9,1071.5 1318.2,1081 1320.2,1088.9 1316,1095.7 1319.6,1103.1 1317.7,1111.5 1318.4,1118.3 1321,1125.4 1318.8,1130 1321.3,1136.8 1322.5,1143.8 1320.2,1149.2 1323.5,1156.7 1322.7,1163.8 1323.4,1169.5 1326.4,1177.8 1324.2,1186 1326.5,1193.9 1324.5,1201 1326.6,1209.3 1324,1216.5 1327.3,1224.3 1325.2,1231.1 1328.6,1238.1 1325.7,1246.9 1327.7,1250.8 1327,1256.2 1331.1,1263.6 1328.9,1272.3 1329.6,1280.7 1324.2,1288.4 1326.2,1297.1 1323.2,1304 1330,1311.9 1329.6,1319.5 1331.9,1327.5 1325.5,1336 1326.7,1344.9 1328.9,1351.2 1332.8,1360.7 1326.4,1367.4 1329,1376.1 1332.5,1382.7 1327.5,1391.3 1330.6,1398.3 1329.6,1406.5 1330,1413.8 1329.2,1423.8 1330.6,1431.7 1328.7,1437.9 1331.7,1444.9 1329.9,1452.9 1331.6,1461.1 1330.7,1468.4 1331.5,1476.2 1331.3,1485.1 1330.9,1493.2 1332.5,1498.7 1330.7,1506.2 1334.1,1513.2 1330.5,1521.5 1333.6,1529 1333.3,1536.3 1336.1,1539.6 1336.1,1579.9 1340.5,1579.9 1340.5,1539.6 1343.3,1536.3 1346.2,1529.7 1342,1522.1 1344,1515.2 1343.1,1505.9 1346.8,1500.8 1343.4,1491.5 1344.8,1485.1 1346.1,1477.1 1344.9,1469.2 1348.4,1461.3 1343.9,1453.9 1345.4,1446.4 1342.3,1439.3 1347,1429.7 1346.8,1423.3 1350.1,1415.9 1347.4,1407.2 1348.1,1399.6 1343.7,1390.5 1345.3,1384.7 1347.1,1376.1 1344.6,1368 1350.3,1359 1349.2,1351.8 1351.5,1343.1 1348.1,1336 1349.8,1327.3 1344.7,1321.1 1346.9,1311.4 1344.7,1303.6 1348.3,1296.6 1347,1289.1 1351.6,1280.9 1349.1,1271.1 1351.4,1263.5 1349.1,1256.2 1348.7,1251 1350.4,1246.9 1351.1,1239.7 1348.6,1231.5 1352.3,1224.1 1350.3,1215.6 1353.7,1208.4 1351.4,1200.4 1353.6,1193.4 1350.7,1186.1 1353.5,1177.5 1352.7,1169.5 1351.9,1162.2 1355.4,1156 1353.3,1148.9 1355.4,1144.5 1354.8,1136.8 1353.9,1130.2 1357.3,1125.6 1357.6,1118.3 1357.8,1110.1 1359.3,1103.3 1354.2,1095.8 1357.5,1088.7 1357.3,1079.2 1360.9,1073.5 1354.1,1065.9 1357.4,1057.6 1358.3,1050.4 1357.7,1042 1358.7,1038.7 1358.8,1035.3 1361.5,1030 1362.9,1022.1 1361.3,1014.5 1360,1008.1 1365.5,1000.2 1356.5,992.5 1365.3,983.8 1359.4,976.3 1362.7,968.5 1361.5,962 1360.8,954.4 1361.7,946.5 1361.9,937.8 1361.5,930.8 1360.3,923.5 1360.9,914.6 1362.7,906.8 1361.7,899.4 1359.5,891.6 1364,884.3 1361.2,876.9 1361.3,868.9 1358.9,861.8 1363,853.9 1360.5,846.3 1363.6,838.6 1361.5,831.6 1358.7,828.4 1358.7,822.9 1357.7,819.6 1359,810.8 1356.7,803.3 1359.2,796.1 1356.5,788.8 1358.2,781 1356.1,773.6 1360.2,766.7 1354.9,758.4 1359.2,751.1 1357.6,743.3 1353.7,736.1 1356.1,731.7 1354.8,724.8 1354.5,717.3 1355.7,711.3 1349.8,705.1 1354.3,698.7 1352.7,692.1 1349.2,683.9 1355.2,677.6 1351.9,669.2 1350.8,661 1348.1,653.7 1353.7,646.4 1350.2,636.8 1351.8,629.3 1346.4,621.4 1350.4,614.7 1352.2,607.5 1349.7,601.3 1348.2,594.3 1347.4,585.4 1349.1,579.3 1350.5,571.5 1344.6,562.9 1348.5,554.7 1349.9,547.9 1347.8,538.7 1347.4,531 1350.8,522.3 1345.2,516.1 1347.7,508.4 1344.5,498.2 1347.8,491.4 1345.6,483 1348,474.8 1344.7,467.4 1347.1,459.4 1347.6,452.2 1344.5,444.5 1347.8,435.6 1344.9,428.2 1347.6,419.9 1344,411.8 1347.1,404.6 1345.2,396.2 1347.5,388.1 1344.6,381.6 1346.1,374.3 1342.8,366.1 1346.6,358.2 1344.8,350.4 1343.2,342.7 1344.5,336.7 1344.7,327.4 1343.5,320.7 1343.6,312.6 1343.2,306 1343.3,299.1 1340.5,295.9 1340.5,279.5"/><polygon points="1377.2,281.7 1377.2,314.4 1374.4,317.7 1378,325.9 1374.7,332.5 1374.9,340 1370.3,347 1372,355.3 1370.2,361 1372.4,368.9 1375.3,377.3 1371.8,384 1372.4,392.7 1368.5,398.9 1372.5,408.2 1370.2,416 1374.1,422.9 1370.5,432.2 1371.6,440 1368.8,446.7 1372.2,454.9 1369.5,461.2 1372.2,469.2 1370.1,477.9 1367.9,487 1370.5,494.9 1368.1,501.1 1372.1,510.4 1368.4,517 1369.9,526.8 1367.8,534.5 1371.7,541 1367.6,549.3 1368.4,557.7 1367.7,566.7 1371.1,575 1365.7,582.8 1368.1,591 1368.1,597.8 1368.2,603.1 1366.7,608.3 1366.8,614.7 1367.6,623.1 1366.4,628.9 1363.8,638.4 1370.4,644.9 1361.6,653.7 1369.5,659.4 1361.9,667.8 1367.7,675.9 1364.5,683.4 1361.3,689.7 1366.7,696.5 1360,702.8 1366.5,708.8 1362.4,716.1 1362.1,722.4 1359.9,728.7 1359.5,734.6 1359.2,741.7 1358.1,750.2 1358.5,756.6 1363.3,764.2 1358,772.3 1359.8,781.5 1356.8,788.9 1359.6,795.7 1357.7,803.4 1359.4,810.9 1358.2,814.2 1358.2,819.2 1355.4,822.9 1354.9,831.1 1358,838.3 1354.6,845.9 1356.6,854 1354,861.1 1356.7,868.6 1353.7,877.2 1356.9,885.4 1355,891.7 1357.2,899.1 1354.8,908.3 1357.6,914.7 1354,922.3 1355.4,930.8 1357.6,937.6 1355.9,947 1357.8,953.9 1351.7,960.7 1357.3,969.8 1354.4,976.9 1357.3,984 1352.1,991.9 1358.5,999.8 1356.6,1007.5 1359,1016.5 1355.8,1024.1 1359.7,1030 1355.4,1038.7 1354.8,1042.3 1358.2,1047.4 1359.4,1050.7 1363,1058.9 1357.2,1066 1361.3,1072.5 1357.4,1080.3 1362.6,1089.7 1355.6,1096.6 1363.6,1104.3 1355.8,1111.1 1360.5,1118.2 1359.5,1127 1356.3,1132.1 1365,1139 1362.4,1145.5 1362.9,1151.5 1363.3,1158.7 1362.2,1166.3 1365.5,1171.1 1364.5,1178.2 1364.6,1184.9 1365.7,1194.2 1365.2,1202.1 1366.4,1209 1364.5,1217 1366.9,1223.7 1365,1232 1368,1238.6 1366.8,1246.9 1365.6,1253.3 1369.4,1260 1368.1,1264.9 1365.7,1274 1371.1,1281.8 1366.1,1287.8 1370.3,1297.7 1368.8,1303.9 1369.9,1312.1 1367.5,1320.5 1371.8,1328.4 1369,1336.7 1369.6,1343.7 1366.8,1353.9 1372.4,1359.7 1370.7,1368.1 1372.4,1377.7 1370.1,1384.8 1366,1393.8 1368.3,1399.2 1366.8,1407.8 1369.9,1416.9 1368.6,1424.9 1371.6,1431.4 1370.3,1440.4 1373.3,1446.1 1370,1456 1372.2,1462.4 1368.5,1470.4 1371.3,1477.2 1367.9,1487 1372.4,1493.8 1373.1,1500.6 1373.1,1508.7 1377.4,1515.8 1373.9,1524.1 1373.9,1531.1 1371.3,1536.7 1374.4,1545 1377.2,1548.3 1377.2,1584.3 1381.6,1584.3 1381.6,1548.3 1384.4,1545 1383.8,1538.5 1386,1529.4 1384.1,1522.9 1386,1514.9 1385.2,1509.1 1385.4,1500.9 1385.9,1493.8 1388.5,1485.4 1383.6,1477.9 1388.9,1469.5 1384.9,1462.8 1387.8,1455.8 1385.3,1446.9 1387.4,1439 1386.6,1431.1 1388.6,1422.9 1386.1,1414.9 1389.1,1407.4 1387.2,1399.5 1388.6,1392.8 1388.2,1384.8 1386.6,1376.3 1390.8,1368.9 1388.8,1361.7 1391.3,1351.9 1388,1343.7 1389.9,1337.8 1386.8,1328.8 1388.5,1320.7 1385.5,1313.8 1388.6,1306 1385.2,1295.9 1388.9,1288.3 1385.6,1280.8 1388.2,1272.1 1390.2,1264.9 1385.6,1259.8 1389.3,1253.7 1391.5,1246.9 1387.1,1239 1390.9,1232.5 1388.3,1225 1391.2,1215.7 1388.5,1209.5 1391.9,1201.2 1390.3,1194.1 1392.7,1187 1393.8,1178.2 1390.8,1171.4 1395,1165 1392.1,1159.6 1394.9,1150.9 1395.9,1145.5 1394.3,1139.4 1398.1,1132.5 1398.7,1127 1396.4,1118.2 1398.2,1111 1395.5,1103.9 1398.7,1095.7 1396.5,1088.2 1399.1,1081.1 1397,1074.7 1399.9,1064.9 1398,1058.8 1398.8,1050.7 1399.8,1047.4 1403.2,1043.3 1402.6,1038.7 1401.3,1030.5 1404.1,1023.1 1400.7,1016.5 1403.6,1008.5 1400.6,1000.1 1402.7,992.7 1400.5,984.9 1405.1,976.4 1402.3,969.8 1405.6,961.8 1401.1,953.6 1402.4,945.7 1399.2,939 1402.6,930.8 1407,922.9 1401.6,916 1402.1,906.7 1399.5,901 1406.4,891.9 1403.1,885 1401,876.5 1401,870 1406.6,862.5 1400.1,853.6 1401.9,845 1404.9,837.4 1401.5,830 1402.6,822.9 1403,818.7 1399.8,814.2 1398.8,810.9 1401.6,803.3 1397.1,795.4 1399.8,787.4 1398.4,779.7 1399.2,772.7 1397.1,765.7 1400.4,757 1395.9,750.2 1402.3,743.2 1398.7,734.6 1397.6,729.4 1397.5,721.8 1395.9,716.1 1395.3,708.9 1395.6,702.3 1392.9,695.9 1396.4,691.1 1393.8,683.4 1392.4,674.8 1393.8,667.4 1390.6,661.2 1393.8,654 1391.6,644.1 1393.7,638.3 1391,629.6 1393.6,622.1 1391.5,614.7 1388.5,609.7 1391.2,603.6 1390.2,597.8 1390.2,589 1389.7,582.9 1389.2,574.7 1391.1,564.7 1386.5,559 1392.5,550.2 1389.1,542 1388.8,533.8 1385.6,526.9 1391.2,518.2 1389.7,509.4 1389.6,500.7 1384.5,493.2 1390.4,484.8 1388.2,477.9 1383.3,470.3 1392,463.4 1385.9,454.4 1386.6,447.7 1385.2,438.5 1389.3,430 1384.5,423.5 1385.4,414.7 1387.4,407.5 1385.2,400.9 1385.1,393.1 1388.8,383.9 1385.2,376 1385.9,368.9 1386.8,360.6 1385.9,353.4 1386.3,346.4 1383.6,339.3 1386.8,332.5 1384,325.8 1384.4,317.7 1381.6,314.4 1381.6,281.7"/><polygon points="1418.3,298.1 1418.3,319.9 1415.5,323.1 1416.5,330.7 1412.5,337.4 1417.2,345.2 1413.7,351.6 1414.9,360.9 1412.9,366.2 1413.5,374.4 1415.2,383 1410.8,389.6 1413.8,397.9 1412.8,405.7 1416.3,414.2 1411.3,422.2 1411.5,428.4 1408.9,437.5 1412.8,445.4 1412.2,452.2 1415.7,460.6 1411.3,468 1411.5,475.5 1411.2,483.4 1406.8,491.3 1410.9,498.6 1409.1,507.1 1414.5,515.8 1412,523.9 1414.2,531.7 1410.2,540.4 1410.3,546.3 1406.8,554.2 1408,563.1 1406,571.2 1409.7,578.4 1409.3,587.5 1412.2,595.4 1409.2,603.3 1409,609.9 1407.9,614.7 1408.8,621.5 1404.6,629.7 1407.3,638.2 1404.9,644.3 1407.4,651.7 1405.7,659.3 1408.4,668.3 1405.6,674.6 1403.7,682.1 1405.7,686.7 1402.3,695.4 1404.1,700.7 1403.5,707.3 1401.3,714.2 1403.8,720.3 1400.6,725.9 1399.2,732.4 1401.7,742 1398.4,747.7 1402,757.4 1400.7,764.2 1402.9,772.2 1398.7,780.1 1400.6,786.2 1398.7,793.7 1400.5,802.2 1399.3,805.4 1399.3,810.3 1396.5,814.2 1393.5,822.9 1400.5,830.5 1396.2,836.6 1394.9,844.1 1395.9,853.8 1399.5,861.9 1392.7,869.7 1399,875.8 1395.8,884.1 1395.1,892.9 1397.7,898.6 1395.4,906.5 1397,915 1396.8,923.6 1396.5,930.8 1393.6,939.4 1399.6,945.9 1393.3,953.9 1400.7,960.8 1393.7,970.9 1397.6,978.6 1396.7,984.5 1396.4,993.7 1393.7,1000.3 1398.8,1009 1396.2,1017.1 1398.1,1025.1 1394.5,1032.1 1397.7,1039.9 1396.5,1047.4 1397,1050.7 1399.3,1056.1 1400.5,1059.4 1401.3,1068 1398.7,1074.4 1400.9,1081.5 1398.9,1089.9 1402.6,1096.7 1400,1104.9 1400.8,1113 1398.7,1121.4 1402.9,1127.4 1400.6,1135.7 1399,1142.1 1404.9,1147.3 1403.5,1154.2 1402.8,1159.9 1403.6,1167.4 1403.9,1174.8 1408.5,1180.4 1405.6,1187 1404.8,1195.4 1409.3,1200.8 1402.5,1210.4 1407.7,1217.3 1408.3,1223.2 1409.9,1231 1406.2,1239.3 1407.9,1246.9 1412.6,1253.4 1405,1257.7 1409.2,1264.9 1413.3,1272.2 1405,1280.6 1413.2,1288.6 1411.1,1297.5 1411.3,1304.6 1408.9,1312.5 1413.7,1320.6 1410,1328.9 1409.2,1336 1410.6,1345 1411.5,1353.8 1408,1360.2 1412.8,1369.4 1411.6,1375.7 1411.2,1384.8 1413.4,1391.5 1411,1400.1 1413.9,1407.8 1410.6,1415.9 1413.7,1424.5 1411.5,1430.6 1413.8,1438.9 1411.8,1446.4 1414.1,1455.1 1411.9,1463 1414.2,1470 1412.1,1479 1414.1,1485.5 1413.5,1493.8 1412.2,1501.3 1415.6,1508.9 1414.1,1516 1415.7,1524.1 1412.8,1531.2 1417.4,1537.8 1415.5,1545 1418.3,1548.3 1418.3,1570.1 1422.7,1570.1 1422.7,1548.3 1425.5,1545 1424.5,1537.2 1426.6,1529.6 1426,1522.1 1426.8,1515 1426.6,1508.9 1426.5,1501.2 1427,1493.8 1429.9,1487 1424.9,1479.3 1429.6,1470.2 1425,1461.7 1429.6,1455.4 1426.4,1445.9 1429,1440.1 1427.6,1431.1 1429.3,1424.3 1427.3,1416.5 1430.5,1408.1 1427.6,1401.1 1430.3,1391.8 1429.3,1384.8 1428.6,1377.7 1432.1,1368.3 1429.5,1360.5 1432,1353.4 1428,1345.4 1430.4,1336.3 1427.3,1328.9 1429.3,1321.4 1427.5,1312.6 1431.1,1304.2 1428.8,1297.8 1431,1289.9 1429.2,1279.8 1432.8,1272.3 1431.3,1264.9 1430.7,1259.9 1433.4,1252.5 1432.6,1246.9 1431.4,1239.4 1435.1,1230.8 1431.9,1224.7 1436.1,1216 1433.6,1208.9 1436.6,1200.9 1433.3,1195.4 1434.9,1187 1437.3,1180.2 1435,1174 1438.1,1167.2 1436.7,1162 1437,1154.2 1440.3,1148.9 1438.8,1141.9 1439.8,1135.7 1442.6,1129 1440,1119.6 1442.5,1111.8 1439.9,1104.6 1442.8,1097.5 1438.9,1088.8 1441.5,1083 1438.4,1075.8 1440.9,1067.9 1439.9,1059.4 1440.9,1056.1 1440.7,1051.9 1443.7,1047.4 1444.6,1039.5 1441.5,1032.9 1445.3,1025.2 1443.1,1016 1446.5,1008.1 1442.4,999.7 1445,993.3 1441.1,984.1 1443.5,976.3 1441.9,969.7 1445.4,961 1443.8,953.3 1446.7,947.2 1440.6,939.6 1443.7,930.8 1445.6,923.9 1445.1,914.1 1445.5,906.3 1439.9,899.5 1444.3,891.7 1445.7,883.9 1445.6,876.6 1439.8,868.4 1446.9,860 1444.3,853.7 1442.3,844.8 1444.6,836.9 1446.1,830.3 1440.3,821.5 1443.7,814.2 1443.4,809.8 1440.9,805.4 1439.9,802.2 1440,793.5 1439.5,787 1439.5,778.1 1440.4,771.4 1439.4,764.8 1440.9,755.7 1437.2,748.3 1443.2,740 1437.5,732.5 1439.8,725.9 1440.8,719 1435.9,712.6 1437,707.3 1438.4,702 1433.4,693.7 1436.6,687.5 1434.9,681.8 1434.9,674.6 1436.3,667.4 1433.3,659 1435.4,651.4 1433.1,644.6 1435,637 1432.2,630.1 1434,622 1432.6,614.7 1430.7,609.2 1431.3,603.3 1433.2,595.1 1429.1,588.1 1431.9,578.9 1430.3,570.2 1430.3,562.5 1430,556 1434,547.1 1427.2,538.5 1429.4,531.5 1429.2,524.2 1433.9,514.7 1427.7,508.4 1427.8,498.8 1430.4,490.3 1429.3,483.4 1430.6,476 1426.7,467.7 1433.1,458.8 1425,453.1 1426.8,444.8 1424.2,436.1 1427,429.5 1427.7,420.3 1429.5,413.7 1427.9,406.2 1426.3,396.6 1424,389 1427,381.4 1427,374.4 1427.3,366 1427,359.7 1426.4,352.9 1426.7,344.3 1424.8,337 1428,330.3 1425.5,323.1 1422.7,319.9 1422.7,298.1"/><polygon points="1459.4,263.2 1459.4,315.5 1456.6,318.8 1457.8,327.1 1455.6,332.5 1457.5,340.8 1452.8,347.5 1455.7,354.9 1454.8,363.9 1454.6,370 1453.9,377.4 1453.6,384.7 1457.2,393.5 1450.4,400.9 1455.3,410.1 1454.7,417.5 1452.1,423.9 1454,432.2 1454.8,439.8 1449.9,448.4 1456,455.3 1448.2,464.2 1456.4,471.6 1452.3,479 1453.3,488.1 1452.2,496.1 1449.6,503.1 1455.4,510.4 1447.8,518 1453.9,527.7 1452.1,534.1 1451.8,543 1447.7,550.3 1453.7,557.8 1451.5,566.7 1453.2,575.1 1448.1,582.7 1450.6,589.8 1450.3,598.9 1448.1,607.8 1449,614.7 1450.8,622.1 1446.8,629.9 1449.3,637.9 1446.8,644.1 1450.4,651.5 1445.9,659.9 1447.9,666.7 1446.8,675.1 1448.1,681.4 1446.7,689.9 1444.5,695.5 1448.6,703.8 1443.4,709.9 1446.4,715.2 1444.6,722.6 1442.1,729.9 1443,736 1441.7,741.1 1439.4,749.4 1442.4,755.4 1440.5,764.7 1442.8,770.9 1438.4,780.2 1440.8,786.7 1439.1,795.2 1444.9,802.4 1441.7,810 1441.6,817.4 1440.4,820.7 1440.1,825.8 1437.6,829.4 1436.2,836.3 1436.6,845 1438.6,852.1 1438.4,860.5 1433.4,869.5 1442.4,875.8 1434.6,883.3 1438.5,892.1 1438.6,899.4 1436.2,907.1 1436.3,914.9 1441,922.6 1437.6,930.8 1435.1,937.5 1440.8,946.5 1436,954.6 1437.8,961.6 1436.7,969.3 1440.1,978.3 1436.1,985.5 1438,993.8 1436.7,1001.4 1439.9,1009.7 1436.1,1017.3 1438.6,1023.8 1437.6,1032.2 1436.7,1036.3 1440.4,1040.9 1441.6,1044.2 1443.3,1051.4 1440.4,1058.6 1444,1067.5 1440.1,1075 1443.2,1081.2 1439.5,1090.4 1441.8,1098.6 1439.5,1105 1441.3,1113.2 1441.7,1120.5 1439.4,1125.8 1443.9,1132.7 1444.6,1139 1441.3,1145.7 1445,1151.6 1442.3,1158.3 1445.8,1164.6 1446.7,1171.7 1443.4,1179.7 1448.4,1187.6 1446.7,1193.1 1451.9,1202.7 1449.3,1208.9 1451.1,1217.1 1446.1,1223.6 1446.8,1231.4 1444.1,1240.2 1449,1246.9 1454.2,1254.4 1450.5,1261.2 1450.3,1268.2 1449.3,1276.1 1450.3,1283.3 1454.4,1292.1 1446.8,1301 1452,1307.1 1451.2,1315 1450.7,1323.3 1451,1332.5 1453.5,1340.7 1449.6,1349 1454.4,1356.8 1449.3,1362.9 1454.8,1372.1 1450.1,1380.7 1452.3,1388.1 1454.5,1395.7 1450.7,1403.8 1454.7,1410.5 1450.9,1418.5 1453.6,1425.9 1452,1434.7 1455.6,1442.8 1451.8,1451.1 1453.9,1457.6 1452,1465.6 1454.2,1474.7 1452.3,1481.8 1454.3,1489.5 1454.6,1497.1 1451.9,1503.3 1455.2,1511.5 1454.5,1518.2 1459.1,1525.2 1454.2,1534.7 1455.4,1541 1456.6,1548.3 1459.4,1551.6 1459.4,1600.6 1463.8,1600.6 1463.8,1551.6 1466.6,1548.3 1469.3,1540.1 1463.6,1533.3 1467.8,1525.7 1468.8,1518.2 1468.4,1512.7 1464.2,1503.9 1468.1,1497.1 1467.2,1490.4 1466.9,1481.2 1471.3,1474.1 1464.8,1466.4 1472.4,1458 1465.5,1451.1 1473.6,1441.6 1465.8,1435.5 1472.2,1427.1 1468.8,1419.3 1469.2,1412.5 1470.9,1403.5 1470.1,1395.1 1470.4,1388.1 1470.8,1380.4 1471.1,1373.1 1467.2,1364.7 1473,1355.1 1470.7,1348.2 1472.2,1339.8 1468.4,1331.5 1473.4,1324.4 1470.9,1315.9 1473.2,1307.7 1470.2,1299.6 1473.7,1291.4 1471.2,1284 1472.5,1275 1472.4,1268.2 1470.9,1261.3 1474.8,1253.3 1473.7,1246.9 1473.3,1239.3 1475.1,1232.8 1472.5,1225 1476.6,1217.6 1474.4,1209.2 1477.1,1201 1473.1,1193.3 1476,1186.6 1472.7,1179.1 1476,1171.7 1476.8,1165.6 1475.3,1159.8 1479.8,1151.3 1478.1,1144.9 1478.1,1139 1481.2,1133.8 1476.8,1126 1480.9,1120.5 1481.2,1114 1482.1,1105.1 1484.1,1096.8 1476.8,1091.1 1480.3,1081.8 1482,1075.1 1484.4,1067.3 1476.9,1060.3 1481.1,1050.9 1481,1044.2 1482,1040.9 1484,1035.8 1484.8,1032.2 1484,1023.8 1483.5,1016 1488.4,1008.3 1484.3,1001.7 1484.3,992.5 1482.1,985.7 1487.6,977.9 1485.1,968.9 1487,962.8 1482.1,953.7 1484.4,945.7 1482.2,939.1 1484.8,930.8 1487.5,923.4 1484.5,915.3 1487,907.5 1483,899 1485.9,892.7 1483.1,883.8 1485.9,875.7 1482.4,868.7 1486,861 1483,853.9 1485.5,843.9 1482.8,838.1 1484.8,829.4 1483.4,824 1482,820.7 1481,817.4 1478.2,810.3 1481,801.2 1477.6,795.6 1480.5,788 1478.8,778.9 1482,772.4 1480.4,763.3 1485,755.3 1481.7,748.9 1480.9,741.1 1481.5,735 1475,729.9 1478.1,722.6 1476.7,716.8 1476.6,708.4 1481,702.1 1477.8,695.8 1476,689.9 1473.5,681.9 1474.2,674.7 1480,667.4 1473.1,658.8 1473.3,653.4 1474.8,643.8 1477.7,637.5 1470.2,629 1476.6,622.6 1473.7,614.7 1469.5,605.9 1472.4,598.9 1472.3,591.4 1471.7,582.5 1471.6,575.7 1471.5,566.3 1472.1,558.5 1471.5,551.9 1472.6,543.4 1469.9,533.8 1473.7,527.2 1469.1,518.5 1472.2,510.2 1469.4,503.6 1472.8,494.2 1469.7,487.4 1470.4,479 1471.5,471.8 1468.5,463 1471.3,454.5 1469.1,447.2 1472.5,439.8 1468.3,432.2 1469.5,424 1467.5,416 1472.1,408.3 1465.3,402.3 1471.6,393.8 1466,385.7 1471.4,376.9 1468.1,370 1468.4,363.6 1469.4,354.3 1463.3,348.5 1470.3,341.7 1467.9,334.5 1467.6,327.2 1466.6,318.8 1463.8,315.5 1463.8,263.2"/><polygon points="1500.5,234.8 1500.5,315.5 1497.7,318.8 1498,324.9 1495.2,332.9 1500.1,339.8 1496.5,348.1 1497.2,356.5 1493,362.6 1495.7,370 1497.6,378.3 1496.7,386.4 1498.7,394.2 1494.1,400.9 1494.8,408.1 1490.1,417.6 1493.4,425.5 1491.9,431.3 1496.8,440.2 1495.4,448.5 1498.5,455.7 1494.6,462.6 1496.1,470.2 1493.4,479 1489.8,486.5 1491.8,494.8 1489.2,502.1 1493.8,511.3 1492.1,518.5 1495.7,528.1 1493.7,536.1 1495.1,542.4 1490.9,550.7 1492.3,558.7 1489.4,566.6 1491.7,575 1490.1,581.8 1493.6,592 1491.4,598.9 1490.3,606.3 1490.1,614.7 1491,621.1 1487.8,630.3 1490.6,636.2 1487.3,643.5 1490.5,651.4 1487.9,659.4 1490.7,665.4 1486.3,674.8 1487.8,681.2 1488.2,688.3 1485.6,695.3 1488.8,701 1486.3,707.7 1485.7,713.9 1484.9,721.1 1480.3,726.6 1482.8,732.4 1486.3,741 1482.2,746.9 1482.5,754.6 1479.8,762.4 1487.1,771.4 1481.6,779.2 1481,786.8 1482,794.3 1486.6,801.8 1482.7,808.7 1481.5,812 1479.7,816.3 1478.7,820.7 1477.9,828.3 1478.2,837.1 1480.1,843.5 1475.3,852.5 1482,860.6 1475,868.4 1482.3,876.7 1475.1,882.7 1481.4,891.6 1478.1,899 1478.8,907.1 1479.9,915.1 1478.6,922 1478.7,930.8 1479,937.5 1481,947.3 1476.2,954.9 1479.2,963.5 1476.8,970.3 1480.1,977.3 1477.2,985.6 1479.9,993.3 1476.7,1001.4 1479.9,1010 1476.9,1016.5 1480.2,1024 1477.8,1034 1478.7,1040.9 1482,1045.7 1481.5,1049.6 1482.7,1052.9 1480.5,1060.7 1484.4,1068.8 1481.4,1076.3 1484.4,1082.4 1481.8,1089.9 1482.6,1099 1482.4,1106.6 1482.1,1114.7 1483.6,1121.4 1482.8,1129.2 1484.9,1135.1 1485.1,1141 1485.7,1147.7 1488.4,1155.2 1484.6,1159.7 1485.8,1167.9 1483.4,1173.9 1487.8,1180.4 1486.8,1188.3 1485.4,1196.4 1492,1203.1 1489.1,1210 1487.4,1216.4 1490.1,1224.1 1490.3,1231.4 1485.6,1238.6 1490.1,1246.9 1489.8,1253 1486.8,1260.5 1491.4,1267.1 1496.1,1274.3 1488.1,1282.7 1495.6,1291.3 1489.9,1299.6 1491.4,1308.1 1491.4,1314.7 1495.1,1323 1492.6,1331.1 1495.1,1339.1 1492.3,1347 1495.7,1355.6 1492.6,1363.2 1495.5,1370.6 1492,1379.9 1493.4,1387 1495,1393.7 1492.7,1402.9 1495.9,1410.7 1492.8,1418.4 1496.1,1426.6 1493.3,1434.8 1497,1441.7 1493.2,1448.9 1495.6,1457.5 1492.2,1464.6 1497.2,1472.6 1495.1,1479.4 1495.9,1488 1495.7,1496 1495.8,1503.9 1495.1,1511.7 1496.9,1518.9 1495.7,1525.7 1497.8,1531.5 1495.8,1540.9 1497.7,1547.2 1500.5,1550.5 1500.5,1631.1 1504.9,1631.1 1504.9,1550.5 1507.7,1547.2 1508.9,1540.2 1507.4,1532.8 1511.7,1524.9 1507.9,1518.8 1508.2,1511.1 1506,1504.1 1509.2,1496 1512.9,1487.3 1510.5,1480.5 1511.6,1473.4 1507.3,1464.5 1508.6,1456.2 1505.7,1450.3 1511.1,1440.5 1509.7,1432.7 1514.6,1426.5 1512.4,1417.3 1514.2,1410.5 1509.8,1402.6 1511.2,1394.2 1511.5,1387 1507,1379.1 1511,1371 1509.7,1363.5 1514.1,1354.7 1512.8,1346.9 1516.4,1338.8 1512.9,1331 1515.3,1322.2 1510.9,1315.7 1513.2,1305.9 1509.9,1299.5 1512.8,1291.8 1511.8,1283.9 1515.9,1275.1 1513.5,1267.1 1513.3,1260.6 1516.5,1253 1514.8,1246.9 1512.7,1239.3 1516.5,1232.7 1513.8,1225.6 1517.2,1217.1 1515.7,1209.1 1517.9,1202.8 1515.2,1194 1518.4,1188 1517.1,1180.4 1516,1173.8 1519.5,1166.8 1517.5,1162 1521.6,1155.3 1519.2,1147.7 1517.2,1140.7 1520.6,1134.5 1522,1129.2 1522.4,1122.3 1523.9,1113.3 1518.5,1105.2 1522.8,1099 1523.6,1090.1 1523.1,1083.9 1518.6,1075.7 1524.9,1067.2 1522.8,1060.9 1522.1,1052.9 1523.1,1049.6 1527.4,1045.1 1525.9,1040.9 1521.4,1032.4 1528.4,1024.6 1524.3,1018.1 1525.6,1008.5 1526.6,1001.9 1525.2,994.2 1527,984.8 1524.8,977.4 1525.9,970.8 1527.3,961.2 1523.7,954.6 1529.7,947.1 1523.1,937.8 1525.9,930.8 1529.5,922.7 1524.4,913.9 1526.3,906.8 1523.4,898.3 1527.7,891 1525.6,883.3 1528.7,876 1525.9,866.8 1528.3,860 1525,853.2 1527.8,845.4 1524.5,836.1 1527.3,829.2 1525.9,820.7 1522.9,817.2 1523.1,812 1522.1,808.7 1524,802.2 1519.6,792.4 1524,786.8 1519.8,777.8 1524.5,770.8 1520.3,762.7 1523.7,756.4 1520.8,747.6 1523.5,740.9 1522,732.4 1517.4,726.9 1519.9,719.6 1519.2,713.9 1520.2,708.5 1520.9,701.6 1516.8,693.6 1517.2,688.8 1517.1,681.2 1512.8,673.8 1516.5,665.5 1515,659.2 1520.7,651.1 1512.7,643.3 1517.7,637.3 1510.9,628.6 1518.9,622.4 1514.8,614.7 1514.6,606.1 1513.5,598.9 1515.8,590.8 1508.7,582.1 1517.3,575.6 1509.6,567.2 1514.8,557.9 1513.3,549.9 1514.3,543.6 1510.6,534.7 1512.9,527.2 1509.1,517.9 1512.5,512.1 1510.1,503.6 1512.5,495.6 1510.3,487 1511.5,479 1513.3,471.3 1509.7,463.3 1512.4,455.4 1509.7,447.6 1512.5,438.9 1509.7,433.1 1511.4,423.8 1507.9,415.6 1510,408.8 1508.5,400.6 1511.6,393.3 1509.2,386.1 1510.1,378.4 1509.2,370 1509.8,362.6 1508.1,354.9 1507.9,347 1509.1,341.9 1506.5,334.5 1509.3,325.5 1507.7,318.8 1504.9,315.5 1504.9,234.8"/><polygon points="1541.6,258.8 1541.6,299.1 1538.8,302.4 1542.4,309 1537.7,318 1538.2,324.2 1534.2,332.8 1538.4,339.9 1537,346.9 1536.8,353.6 1538,362.4 1533.8,369.6 1536.9,376.3 1534,385.1 1538.6,393.7 1535.5,400.2 1536.5,408.7 1534,415.9 1535.8,424 1534.4,430.6 1536.9,438.4 1533.3,446.4 1535.7,453.8 1534.5,462.6 1534.1,470.5 1536.9,479.7 1532.3,486.7 1534.7,494.7 1533.7,503.7 1535.3,510.9 1531,519.6 1535.4,527.4 1534,534.1 1532.8,542.6 1531.3,550.2 1537,557.8 1529.1,566 1535.2,574.4 1532.5,582.5 1527.9,588.8 1536.5,595.7 1530.3,603 1531,609.2 1531.2,614.7 1526.6,621.5 1535,629.4 1526.2,637.4 1534.1,643.6 1525.1,651.8 1534,657.8 1525.6,665.6 1528.9,672.5 1530.6,677.8 1524.1,685.4 1531.5,691.5 1524,699.6 1526.8,705.2 1528.7,711.4 1522.7,717.2 1523.9,723.7 1525.7,732.2 1523.1,738.4 1526.1,746 1523.7,753.1 1526.1,761.5 1523.3,769.8 1525.9,776.8 1523.7,784.9 1525.4,791.7 1523.8,800 1522.6,803.3 1519.6,808 1519.8,812 1521.8,820 1518.7,827.1 1520.9,836.2 1518.1,843.4 1521.2,850.7 1518.4,858.3 1521.6,867.9 1519.7,876 1521.2,883.5 1516.7,891.1 1522.4,898.5 1517.5,907.8 1522,913.9 1516.4,922.9 1519.8,930.8 1524,939 1520.7,946.3 1524.3,955.7 1520.5,961.6 1520.8,969.7 1514.9,978.8 1522.1,986.5 1519.3,994.8 1519.2,1002.9 1520.7,1010.2 1518.8,1018.2 1520.9,1025.3 1520.7,1033.4 1517.9,1041.3 1519.8,1049.6 1523,1053.6 1522.6,1058.3 1523.8,1061.6 1520.5,1069.5 1527.5,1077.5 1521.3,1083.5 1524.6,1092.1 1522.9,1100.6 1523.9,1106.7 1523.7,1115.4 1523.3,1121.5 1523.4,1131.2 1523.9,1137.9 1527.6,1143.6 1524.3,1149.4 1526.8,1156.4 1529.1,1164 1525.7,1169.8 1529.5,1175.2 1527.3,1182.4 1528.9,1189.1 1530.9,1196.8 1528.4,1202.9 1530.4,1211.3 1529.3,1217.2 1532.7,1225.4 1528.6,1232.1 1531.4,1239.9 1531.2,1246.9 1532,1252.2 1532.5,1256.2 1532.8,1263.7 1530.3,1271.7 1535.4,1280.5 1533.9,1288 1535.4,1296.8 1530.2,1303.7 1532.8,1311.1 1529.8,1320 1533.3,1328.1 1532.1,1335.3 1535.9,1343.9 1533.4,1353.1 1537.6,1359.5 1534.8,1367.5 1534.5,1376.1 1536.8,1383.2 1533.8,1390.6 1535.9,1399.9 1531.8,1408 1533.7,1415.2 1531.4,1423.5 1535.9,1431.2 1536.2,1437.2 1539.9,1446.7 1535.8,1454.4 1535.5,1462.2 1533.2,1468.3 1538.6,1476.3 1536.8,1485.1 1534.4,1492.6 1537.9,1498.7 1537.8,1508 1539,1513.6 1535.6,1521.7 1540.7,1529.3 1538.8,1536.3 1541.6,1539.6 1541.6,1605 1546,1605 1546,1539.6 1548.8,1536.3 1549.6,1529.1 1548.5,1522.6 1552.1,1513.3 1548.2,1506.1 1550.3,1498.8 1548.6,1492.1 1550.3,1485.1 1552.2,1476.1 1548.8,1469.7 1550,1461.4 1548.9,1454 1554,1447.1 1551.9,1439.5 1554.3,1430.9 1550.2,1421.6 1552.3,1415.4 1547.3,1406.6 1550.4,1399.8 1549.6,1391.8 1553.6,1383 1552.6,1376.1 1554.6,1369 1557,1359.1 1554.3,1351.4 1555.8,1344.7 1551,1336.5 1552.8,1327.5 1549.5,1319.6 1552.3,1312 1549.6,1304.8 1554.2,1297.2 1552.2,1287.6 1557.2,1281.1 1554.5,1273.1 1557.3,1265.2 1554.6,1256.2 1554.7,1250.8 1555.9,1246.9 1557.6,1240.6 1554,1233.5 1557.2,1225.4 1554.2,1219.1 1558.6,1210.9 1556,1203 1559.4,1195.4 1558.2,1189.1 1558,1183.3 1561,1176.8 1558.2,1169.1 1561.3,1162.1 1560.3,1156.4 1558.8,1151 1563.3,1144.8 1563.1,1137.9 1562,1130.5 1565.3,1121.8 1560.7,1113.9 1563.5,1108 1560.9,1099.1 1565.7,1091.4 1563.5,1085.1 1564.7,1076.2 1559.5,1069.4 1563.2,1061.6 1564.2,1058.3 1569.1,1053.7 1567,1049.6 1563.8,1041.9 1566.2,1034.8 1567.6,1026.2 1569.1,1018.8 1562.5,1010.5 1570.1,1001.2 1566.1,995.2 1565.7,986.8 1569,979 1567.4,970 1565.4,961.4 1570.1,955.6 1562.9,946.6 1571.5,938.9 1567,930.8 1568.3,922.6 1567.1,915.2 1566.6,906.3 1569.5,899.2 1563.9,890.5 1569.6,884.2 1565.6,876.1 1567,866.4 1566.1,860 1569.9,852.4 1566.1,843.5 1568.5,836.8 1565.6,828.1 1567.7,819.9 1567,812 1564.3,807.4 1564.2,803.3 1563.2,800 1563.9,792.9 1560.7,784.7 1564.4,777.9 1561.8,770.4 1565.1,761.5 1561.6,754.1 1563.4,745.6 1562.5,738.3 1563.9,731 1563.1,723.7 1562.2,717.2 1563.8,710.2 1560.3,705.2 1558.5,697.5 1562.3,692.4 1556.8,686.6 1558.3,678.7 1558.2,672.5 1554.2,665.2 1559.6,658.2 1556.6,651.6 1555.6,644.4 1555.8,636 1560.6,630.1 1555.8,620.9 1555.9,614.7 1558.1,608.8 1557.5,602 1555.8,595.3 1550.7,588 1554.6,582.5 1552.9,573.9 1556,567 1555,558.4 1550.4,551.7 1553.4,543.5 1552.3,535.5 1557.5,525.7 1550.1,517.6 1556.5,510.5 1550.1,503.1 1553.8,493.9 1553,485.5 1555.8,478.1 1552.4,471.3 1552.6,462.6 1554.7,454.3 1551.8,447.9 1554.7,439.9 1550.7,431.9 1552.6,424.2 1550.5,414.8 1552,407.7 1548.9,400.8 1551.5,393.7 1549.5,384.9 1551.9,376.1 1548.3,368.7 1551,360.3 1550.3,353.6 1548.5,346.5 1552.4,338.2 1549.5,331.4 1549.5,324 1547.3,317 1552,310.1 1548.8,302.4 1546,299.1 1546,258.8"/><polygon points="1582.7,285 1582.7,331.8 1579.9,335.1 1580.4,341.6 1580,349.5 1580.7,356.6 1575.6,364.9 1579.7,371.9 1578.3,377.8 1577.9,386.3 1576.9,393.2 1578.4,402.7 1578.6,410.3 1574,418.5 1581.6,426.1 1573.6,432.4 1579.3,440.2 1575.4,448.8 1577,456.3 1576.8,463.8 1575.9,471.3 1576.9,480.9 1576.5,487.1 1575.6,495.3 1576.2,503.1 1573.5,511.2 1575.6,519.2 1577.4,527 1570.8,535.1 1576.3,543.1 1575.4,551.7 1576.5,559 1571.1,566.5 1575.1,575.9 1573.7,582.6 1576.3,591 1573.2,600.1 1574.3,608.3 1573.6,615.2 1572.3,614.7 1569.8,622.1 1573.5,629.9 1570.5,637.8 1572.3,644.3 1570.3,650.2 1571.8,658.3 1569.4,664.6 1572.7,673 1568.2,681.6 1570,687.7 1571.7,694 1567,700.3 1570.2,706.4 1568.5,713.5 1567.9,720.4 1567.2,727.3 1563.5,733.6 1565,739 1564.7,745.4 1562,753.7 1564.1,762.1 1561.7,768.7 1565.2,777.8 1563.9,784.2 1568.9,792.3 1564.5,799.5 1563.6,806.7 1564.9,815.3 1563.7,818.5 1564,822.6 1560.9,827.2 1559.8,834.9 1560.8,843.4 1564.9,852.1 1556.4,858.4 1562.3,866.5 1561.9,875.2 1559.7,883.7 1558.7,890.7 1564.6,898.2 1558.2,906.5 1560.3,913.8 1561.5,922.7 1560.9,930.8 1560.4,939.9 1558.6,946.5 1563.8,955.2 1560.2,962 1561.2,969.9 1558.6,979.2 1562.6,985.4 1560.6,993.6 1562.8,1001.4 1559.5,1011 1562.1,1018.8 1559.6,1025.9 1560.9,1034.3 1563.8,1039.2 1563.7,1043.1 1564.9,1046.3 1564.4,1054.8 1567,1060.5 1564,1068.4 1566.8,1075.8 1563.1,1083.9 1566.4,1091.2 1563.4,1100.1 1565.1,1106.5 1562.2,1115.9 1565,1122.6 1566.8,1129.6 1564.4,1134.7 1567.9,1141.2 1570.1,1147.1 1567.5,1155.2 1572.5,1160.5 1569.8,1167.4 1570,1173.9 1574,1180.4 1570.2,1189.3 1571.5,1194.9 1567.5,1204.2 1569.8,1209.5 1568.6,1218.3 1574.5,1224.1 1573.1,1232.7 1574.6,1239 1572.3,1246.9 1573.6,1244.2 1572.6,1252.7 1578.5,1259.9 1572.4,1267.8 1573.1,1277.2 1575.2,1284.4 1577.2,1291.5 1571.4,1299.4 1578.3,1308.9 1573.3,1315.4 1576.2,1323.6 1574.4,1332.8 1576.1,1339.4 1574.6,1347.5 1576,1355.4 1575.6,1364.1 1574.6,1371.6 1576.5,1379.9 1575,1387.1 1577.2,1394.1 1575.2,1403.8 1578.7,1410.4 1575.3,1419 1578.1,1426.1 1575,1433.8 1578.5,1441.3 1576.6,1450 1580.2,1457 1576.9,1465.6 1577.9,1473.1 1581.2,1481 1578.6,1486.6 1580.5,1494.4 1576.2,1502.6 1579.6,1510.5 1578.9,1517.3 1579.9,1524.3 1582.7,1527.6 1582.7,1576.6 1587.1,1576.6 1587.1,1527.6 1589.9,1524.3 1590.7,1517.8 1588,1509.6 1590.7,1502.7 1589.1,1496.1 1593.5,1488.2 1591.1,1479.9 1591.4,1473.1 1591.7,1465.8 1589.6,1458.6 1593.5,1449.4 1591.2,1443 1594.2,1434.2 1590.8,1425.2 1593.3,1419.3 1591.1,1410.6 1594.6,1401.9 1591.2,1395.9 1593.9,1387.1 1591.6,1380.1 1596.5,1372.1 1593.7,1364.1 1590.3,1356.7 1595.7,1348.2 1593.8,1340.2 1594.6,1331.1 1592.6,1323 1597.7,1315.5 1590.9,1307.1 1595.8,1300.9 1595.4,1291.8 1594.1,1283.8 1596.9,1276.9 1594.8,1268.2 1595.4,1259.9 1595.7,1251.1 1595.7,1244.2 1597,1246.9 1592.2,1238.6 1602.1,1232.8 1592.6,1224.3 1602.3,1216.5 1594.2,1211 1600.6,1202.3 1598.4,1195.9 1597.2,1187.9 1598.7,1180.2 1599.3,1173.9 1598.6,1168.4 1598.9,1161.2 1603.8,1155.1 1598.4,1147.9 1601.4,1141.2 1605,1134.2 1601.6,1128.7 1604.2,1122.6 1604.8,1116.1 1602.1,1106.3 1604.9,1099.8 1602.2,1091 1604.6,1083.3 1602.1,1078 1604.5,1068.5 1602.7,1061.8 1605.7,1054.9 1604.3,1046.3 1605.3,1043.1 1605.3,1039.9 1608.1,1034.3 1610.3,1026.4 1607.8,1018.5 1609.9,1011.3 1607,1002.3 1608.4,995.2 1606.7,987.3 1610.4,979.2 1605.8,970.6 1608.8,963.4 1608.3,953.6 1608.8,947.5 1603.8,939.1 1608.1,930.8 1606.7,923 1604.2,913.8 1608.8,906.9 1609.6,899.6 1609.4,890.2 1604,882.8 1612.1,876.2 1603.7,868.1 1612.7,859.2 1604.3,850.1 1612.1,842.6 1603.8,835.3 1608.1,827.2 1606.4,823.6 1605.3,818.5 1604.3,815.3 1600.1,807.6 1608.4,801 1600.9,792.7 1606.5,784.1 1601.6,777.6 1605.9,770.1 1603,760.8 1605.9,755.2 1602.4,747.7 1604.2,739 1603.2,732 1602.1,726.4 1601.4,720.4 1602.3,713.9 1600.3,708 1601.8,701.9 1598.2,694.8 1599.3,687.7 1600.9,680.7 1597.4,672 1601,664.7 1597.4,658.6 1598.6,650.8 1596.6,643.9 1600.2,636 1597.1,628.1 1598.1,622.6 1597,614.7 1595.7,615.2 1594.1,608.1 1597.5,599.7 1596.1,590.4 1597.7,584.1 1592.7,575.3 1595,566.6 1591.1,559.2 1594.3,551.4 1591.3,543.9 1593.8,535.5 1591.2,528.4 1594.4,519.3 1591.5,511.2 1593.3,502.8 1593.7,495.3 1589.8,486.7 1591.7,479.5 1589.6,471.4 1593.4,463 1592.6,456.4 1596.6,448.4 1594.2,441.4 1593.5,432.1 1588.3,426 1591.3,417.8 1592.2,409.9 1595.3,402.3 1588.7,393.2 1591.4,386.3 1594.4,379.1 1590.3,371.3 1590.9,363.7 1590.4,357 1592.6,348.9 1587.8,342.5 1589.9,335.1 1587.1,331.8 1587.1,285"/><polygon points="1623.8,229.4 1623.8,348.2 1621,351.5 1625.1,358.2 1620.9,365 1620.1,372.7 1615.5,381 1618,389 1616.8,394.9 1619,402.7 1623.8,411.4 1619.9,417.6 1620.9,425.1 1615.6,434.1 1616.7,440.5 1613.7,449.2 1617.2,457.9 1616.5,464.8 1620.4,471.7 1618.8,481 1621.2,488.7 1616.2,496.7 1617.4,504.6 1616.7,511.7 1613.1,519 1617,528.2 1615.2,535 1619.1,544.1 1615.8,552.9 1618,559.8 1614,568.5 1616.7,575.3 1613.1,584.1 1616.7,591.1 1614.2,599.4 1617.6,606.8 1614.4,616.8 1615.7,623.6 1614.7,631.6 1611.8,625.3 1615.6,620.8 1613.4,614.7 1612.6,622.7 1614.9,629.4 1610.7,636.3 1612.3,643.9 1610.4,650.2 1614.6,658.2 1611.3,664.4 1611.4,672.5 1611.1,679 1609.4,684.6 1614,691.7 1608.9,698 1608.9,705.7 1609,711.7 1608.7,716.9 1608.5,724.1 1606.1,730.2 1605,736.8 1609.1,746 1601.9,752.7 1609.4,759.6 1604.5,768.5 1605.6,776.1 1607.3,784.8 1604.2,792 1607.2,797.8 1606,806.5 1604.8,809.8 1608.2,814.3 1602,818.5 1602.8,826 1601,833.1 1602.7,840 1601.8,848.9 1600.3,855.6 1605.5,863.4 1599.4,870.9 1601.7,877.6 1601.7,884.8 1604.4,893.7 1600.7,900.6 1602.3,907.3 1599.8,914.7 1602.3,923.6 1602,930.8 1599.9,937.2 1602.9,946.6 1600.6,952.2 1602.9,960.7 1601.6,968.6 1603.7,976.3 1600.3,984.2 1602.6,991.6 1601.3,997.7 1603.8,1004.5 1599.6,1012.1 1604.9,1019.7 1599.9,1027.1 1604.4,1035.5 1602,1043.1 1603.5,1047.5 1604.8,1051.8 1606,1055.1 1609.8,1062.2 1603.4,1071.4 1606.7,1077.3 1607.1,1086.2 1607.3,1092.7 1602.3,1100.1 1604.1,1107.9 1602.2,1115.5 1605.6,1122.6 1606.1,1131.4 1604.6,1137.3 1611.1,1142.6 1609,1149.9 1611.3,1156.3 1613.5,1163.6 1607.3,1168.8 1610.7,1174.9 1611.1,1182.6 1610.8,1190.2 1615.4,1195.8 1608.3,1204.5 1614.1,1212.2 1611,1217.3 1615.7,1224.7 1609.7,1233.4 1615.7,1239 1613.4,1246.9 1614.7,1240.9 1611.8,1249.1 1614.7,1257.9 1613.2,1263.9 1616,1271.8 1613.2,1280.3 1616.3,1288 1613.9,1297.9 1616.8,1304.9 1613.7,1312.1 1617,1321.3 1615,1328.9 1617.3,1336.3 1615.3,1346 1619.2,1353.6 1616.7,1360.8 1615.7,1369.4 1617.2,1376.9 1616.5,1384.7 1619.4,1392.8 1614.9,1398.6 1619.2,1407.8 1617.4,1415.7 1617.9,1422.5 1618.2,1430.3 1617.7,1439.6 1619.4,1445.3 1618.5,1454.2 1619.8,1462.1 1619,1469.8 1622.7,1476.5 1618.3,1485.2 1618.2,1491 1621.6,1499.1 1622.7,1505.6 1615.7,1514.6 1621,1521 1623.8,1524.3 1623.8,1633.3 1628.2,1633.3 1628.2,1524.3 1631,1521 1632.8,1513.7 1628.4,1505.7 1633.3,1500.3 1632.8,1490.7 1632.8,1484.7 1629.4,1478.3 1632.5,1469.8 1634.5,1461.4 1629.4,1453.7 1636.9,1446.7 1630.4,1438.1 1634.7,1431.7 1633.8,1422.6 1632.6,1415.2 1635.4,1407.7 1632.3,1400.6 1636.3,1391.5 1632.2,1385.1 1636.3,1376.8 1634.5,1368.5 1634.8,1360.8 1636.2,1353 1633.7,1345.1 1634.3,1335.9 1639.4,1329.8 1633.4,1321.1 1635.3,1312.3 1633.4,1305.5 1638.1,1297.5 1636.1,1288.2 1638.7,1281.1 1634.6,1272.9 1637.4,1264.2 1634.3,1256.9 1636.9,1247.7 1636.8,1240.9 1638.1,1246.9 1637.9,1240.8 1639.9,1232.8 1636.9,1225.6 1641.2,1217.6 1638.3,1210.5 1640.3,1203.8 1638.1,1197.3 1641.7,1189.2 1640.4,1182.6 1640.2,1175 1641.8,1170.7 1640.8,1162 1643.9,1155.9 1642.5,1149.9 1641.7,1143.7 1647.1,1136.3 1645.3,1131.4 1644.3,1122.6 1645.6,1117.1 1643.1,1109.6 1646,1100.2 1645.1,1092.2 1649.3,1084.6 1646.1,1078.9 1644.5,1070.8 1641.9,1062.6 1645.4,1055.1 1646.4,1051.8 1648.6,1047.9 1649.2,1043.1 1649.6,1034.9 1651.9,1029 1645.1,1019.8 1653.4,1013.4 1645.9,1005.4 1649.7,997.7 1650.5,989.8 1647.6,983.6 1649.8,976.2 1650.4,967 1646.5,960.4 1653.2,953.3 1646.7,946 1649.9,938.8 1649.2,930.8 1646.7,923.6 1650.3,916.7 1648.8,909.4 1650.1,901.7 1646.6,892.9 1651.5,885.1 1648,877.3 1650.6,870.2 1647.3,862.5 1650.9,855.9 1648,847.7 1651.3,840.6 1647.6,832.4 1649.4,824.8 1649.2,818.5 1646.6,814.9 1646.4,809.8 1645.4,806.5 1648,800.1 1644.2,790.7 1647,783.4 1643,775.1 1645.5,768.8 1643.1,760.9 1645.4,752 1642.2,746.1 1645,737.2 1645.3,730.2 1641.3,725.2 1642.8,718.5 1642.5,711.7 1639,705.5 1640.3,699.6 1636.7,691.6 1639.3,686.1 1640.4,679 1638,671.5 1641.9,664.7 1640.8,657.7 1643.9,651.2 1639.9,642.9 1639.8,636.9 1634.5,627.8 1637.1,621.4 1638.1,614.7 1638.5,619.2 1641.2,624.9 1636.8,631.6 1633,623.7 1637.4,614.5 1637.6,607.7 1636.5,599.9 1633.2,592.7 1639.4,582.6 1633.5,575.4 1637,568.8 1634.6,559.4 1635.8,551.3 1635.5,544 1635.4,535 1634.8,528.2 1635.8,520.3 1634.8,511.7 1634,503.9 1635.2,496.4 1633.6,487.5 1636.2,481.6 1632.1,472.2 1635.1,464.6 1633.1,457 1635.3,450.6 1632.5,441.5 1633.5,434.6 1630.5,425.5 1633.7,417.4 1630.5,411.6 1632.5,402.7 1634.7,394.6 1632.2,388.3 1634,381.4 1627.6,373.1 1632.8,366.2 1632.2,358.7 1631,351.5 1628.2,348.2 1628.2,229.4"/><polygon points="1664.9,289.3 1664.9,339.5 1662.1,342.7 1663.2,350.9 1660,357.4 1661.6,364.3 1660.4,371.9 1660.9,378.8 1659.4,385.9 1660.1,394 1662.3,402.6 1657.8,409.1 1661.1,417.9 1657.3,425.8 1660.4,433.8 1658.4,441.4 1659.8,448.5 1658.1,457.1 1659.5,464.4 1656.6,471.7 1660.9,480.1 1656.7,486.3 1658.2,494.1 1657.8,503 1656,509.9 1659.9,517.8 1656.7,525.9 1659,535.4 1655.3,541.9 1657.7,552 1653.7,558.8 1656.9,567 1652.6,575.2 1655.7,583.1 1652,590.9 1655.3,598.8 1652.3,606.5 1655.4,613.8 1655.8,622.9 1651.3,618 1654.5,614.7 1654.4,622 1651.8,630.3 1655.5,635.8 1652.8,643.7 1655.4,652.4 1653.7,659.9 1656,665.2 1653.8,673.1 1657.1,680.6 1654.2,687.8 1656.4,695.9 1652.2,703 1652.9,710.3 1655.4,715.5 1652.1,723.5 1654.5,729.3 1650.1,735.7 1649.3,741.1 1651.1,747.6 1647.2,754.2 1647.1,761 1649.6,767.7 1646.5,774.3 1649.9,782.7 1646.2,789.6 1648.7,796.6 1647.1,803.3 1645.9,806.5 1643.3,810.6 1643.1,815.3 1643.9,822 1641,831.5 1644.4,837.7 1640.5,845.1 1644.1,854.9 1641.6,861.9 1644.3,869.3 1642.9,876.4 1645.9,883.8 1642.5,891.2 1644.7,901 1640.4,906.9 1642.7,915.2 1641,923.8 1643.1,930.8 1646.1,937.4 1641.9,945.6 1642.2,954.4 1639.6,960.8 1646.1,969.1 1644.7,976.3 1643,983.6 1638.9,991.6 1645.8,999.7 1644.8,1007.9 1641.6,1016.5 1640.3,1024.4 1647.4,1030.8 1640.3,1039.1 1643.1,1046.3 1648.9,1049.7 1645.9,1055.1 1647.1,1058.3 1644.5,1065.8 1651.1,1071.9 1642.6,1079.6 1650.4,1087.3 1644.2,1093.6 1649,1100.9 1647.2,1107.4 1645.4,1114.2 1651.9,1119.6 1650.1,1125.9 1650.1,1132.3 1651.5,1138.6 1649.8,1145.4 1653.6,1151.7 1652.2,1158.6 1651.4,1166 1654.9,1174.1 1651.3,1181.2 1653.2,1187.8 1652,1194.3 1655.6,1203.6 1653,1210.1 1655.5,1217 1652.8,1224.2 1656.4,1231.6 1653.3,1239.2 1654.5,1246.9 1657.9,1242.7 1655.8,1238.7 1655.4,1246.9 1656.4,1255.6 1654.7,1263.4 1658.2,1270.5 1655,1279.7 1657.2,1287.7 1657.6,1293.6 1657.7,1303.8 1653.4,1311.8 1660.4,1317.6 1657.8,1326.4 1659.1,1333.9 1653.6,1342.8 1656.7,1350.3 1657.8,1358.6 1659,1367 1658.4,1373.1 1655.5,1383.2 1663.5,1390.8 1654.4,1397.4 1663.8,1404.9 1656.5,1413.7 1658.2,1420.3 1656.9,1427.8 1659.9,1436.9 1655.4,1445 1661.6,1453.2 1658.5,1458.8 1660.1,1467.6 1660.5,1473.9 1657.8,1481.3 1661.2,1490 1660.8,1496.6 1663.5,1504 1660.3,1511.6 1662.1,1518.9 1664.9,1522.1 1664.9,1574.4 1669.3,1574.4 1669.3,1522.1 1672.1,1518.9 1672.4,1512.7 1671.9,1503.7 1674.9,1498 1671.4,1489.6 1673.5,1483.4 1671.8,1474.9 1673.6,1467.6 1677,1459.8 1671.8,1452.6 1673.7,1443.3 1671.2,1435.4 1675.4,1428.6 1674.8,1422 1679.3,1412.1 1674.3,1406.5 1675.2,1397.4 1671.2,1389.2 1673.4,1381.2 1672.1,1374.1 1677.8,1367.5 1675.9,1358.6 1677.7,1350.7 1680.1,1341.5 1676.6,1335.8 1676.8,1325.6 1673.4,1319.3 1675.6,1311.5 1673.3,1303.7 1678.1,1294.7 1677,1287.8 1680.3,1278.9 1678.2,1271.4 1680.5,1261.8 1676.9,1255.2 1678.3,1247.6 1677.9,1238.7 1676.3,1243.7 1679.2,1246.9 1679.9,1239.4 1678.2,1231.8 1682.3,1225.7 1678.9,1216.7 1682,1209 1679.2,1203.2 1681.6,1195.6 1678.7,1188.3 1681.4,1179.5 1679.6,1173.2 1683,1165.8 1681.5,1158.6 1680.5,1152.5 1683.4,1144.4 1680.3,1138.7 1684,1133.4 1683.6,1125.9 1684.3,1120.3 1687.5,1114.1 1686.4,1107.4 1683.5,1100.4 1687.4,1092.4 1687.5,1085.8 1688.8,1078.4 1682.7,1072.6 1686,1066 1686.5,1058.3 1687.5,1055.1 1689.1,1051.1 1690.3,1046.3 1690.4,1039.4 1691.6,1031.1 1691.4,1022.1 1687.4,1015.1 1694.6,1008 1686.5,1001.1 1691.5,992.3 1689.9,984.7 1688.8,976.8 1692.2,968.1 1688.5,960.7 1692,954.8 1689.1,946.5 1690.7,938.7 1690.3,930.8 1692.1,923.7 1690.2,914.8 1689.6,907.8 1690.2,900.7 1692.7,892.7 1688.2,884.5 1690.4,876.2 1689.6,869.5 1692.7,862.5 1689.6,853.1 1691.9,846.8 1689.4,839.3 1691.7,829.7 1689.3,823.2 1690.3,815.3 1690,810.1 1687.5,806.5 1686.5,803.3 1685.5,796.7 1688.2,788.8 1685.1,783.4 1687,776.2 1684.5,768.5 1688.4,761.8 1686.4,754.2 1683.9,748.6 1685.4,742.3 1683.6,735.7 1682.5,730 1685.7,722.1 1680.5,716.9 1682.5,710.1 1681.5,703 1679.3,696.5 1681.6,688.6 1681.5,681 1681.6,674.4 1676.1,667.3 1680.8,659.6 1679.3,652.1 1682.6,643.5 1678.6,636.8 1678.2,630.4 1676.5,620.9 1679.2,614.7 1679.3,618.3 1677.9,622.9 1678.9,614.5 1680,607.9 1675.2,598.1 1677.9,591.9 1677.4,583.9 1680.8,575.2 1673.4,567.6 1680.6,558.1 1674,550.3 1677.2,542 1677.1,535.6 1679.6,527.7 1675.3,519.2 1677.2,511.7 1675.9,503 1673.9,495.4 1677,486.4 1674.6,479.3 1677.3,471.5 1673.4,465.1 1676.3,456.2 1673.2,448.8 1676.3,440.1 1673.5,433 1675.5,425.6 1672.6,417.2 1674.2,410 1671.5,401.2 1673.6,394 1675.4,385.6 1672.4,380.4 1673.4,371.9 1671.8,363.8 1675.1,356.7 1669.1,350.2 1672.1,342.7 1669.3,339.5 1669.3,289.3"/><polygon points="1706,246.8 1706,327.5 1703.2,330.8 1700.8,338.2 1703.4,346 1701.6,353.7 1703,359 1700.8,366.9 1702.2,375.5 1701.2,382 1705.4,390.3 1697.4,397.6 1701.8,405.5 1701.2,412.4 1699.7,420.1 1699.6,428.9 1702.2,437.5 1696.9,443.2 1701.3,451.3 1698.7,460.5 1699.2,467.2 1698.2,476.2 1700.6,483.6 1698.9,491 1697.4,499.6 1699,506.9 1697.2,514.4 1699.6,523.6 1697,530 1699,539.3 1695.6,547 1699.4,555.9 1696.9,562.2 1698.9,571.2 1694.7,578.7 1697.4,586.6 1694.9,595.2 1697.9,602.1 1696.9,610.9 1695.6,614.7 1693.4,622.8 1694.6,629.9 1691,638.2 1694,645.6 1692.3,653.7 1696.6,662.6 1695.8,670.7 1697.5,677.8 1691.5,687.2 1691.8,695.3 1689.8,703.2 1695.9,709.6 1693.3,718.2 1693.4,725.3 1693.4,730.8 1688.5,737.6 1690.6,744.3 1691.2,750.9 1689.6,758 1693,762.8 1688.3,769.5 1688.3,776.1 1688.8,783.8 1685.5,789.7 1686.9,797 1685.4,803.8 1688.7,811.8 1688.2,818.5 1687,821.8 1685.1,825.2 1684.2,830.5 1686.8,837.5 1683.5,846 1686.3,852.8 1682.7,860.4 1685.3,868.5 1682.1,877 1684.7,885.6 1681.8,893.2 1685.2,899.4 1682.3,907.7 1685.3,915.5 1681.6,923.2 1684.2,930.8 1684.3,939.4 1681.9,947.3 1685.2,953.8 1682.3,960.8 1685.4,970.2 1683.3,976.8 1687.2,984 1684.9,991.6 1687.5,1000.6 1683.4,1008.2 1685.8,1014.5 1681.3,1024 1684.2,1031.1 1685,1036.1 1687,1039.8 1688.2,1043.1 1689.9,1049.5 1691.6,1056.5 1686.9,1063.6 1686.9,1072.2 1684.5,1079 1690.8,1084.7 1688.3,1092.1 1687.7,1098.9 1689.1,1103.5 1691.2,1110.6 1692.8,1117.2 1695.1,1123.5 1688.8,1129.7 1694.2,1136 1693.3,1143.3 1689.7,1152.4 1695.2,1158.4 1693.2,1166.9 1693.2,1174.3 1695,1183.9 1694.3,1190.2 1694.7,1198.6 1694.9,1206.4 1694.2,1214.2 1695.7,1222.1 1693.6,1232 1698.1,1239.2 1695.6,1246.9 1696.9,1244.2 1695.1,1253.2 1697.9,1261.1 1696.6,1268.3 1699.3,1276.7 1697.1,1283.1 1699.7,1291 1696.9,1300.7 1700,1308.7 1697.6,1317.3 1700.3,1324.8 1697.1,1331.1 1698.8,1340.2 1696.1,1347.9 1701.3,1357.2 1698.9,1364.1 1697.7,1370.9 1700.8,1380.1 1698.5,1387.3 1699.2,1394.7 1701,1401.8 1699.7,1410.2 1696.8,1418.6 1702.1,1426.2 1702.1,1433.3 1704.2,1442.5 1700.4,1449.4 1701.3,1457.3 1698.3,1464.5 1701.2,1473.1 1699.7,1480 1699.6,1487.5 1706.6,1494.3 1702.6,1502 1700.9,1509.9 1701.8,1516.9 1703.2,1524.3 1706,1527.6 1706,1617 1710.4,1617 1710.4,1527.6 1713.2,1524.3 1713.9,1517.2 1712,1510.6 1715.1,1502.8 1711.9,1495.9 1715.7,1486.7 1713.2,1480.5 1714.7,1473.1 1716.1,1466.3 1713.1,1456.5 1716.1,1450.6 1715.3,1441.3 1717.8,1433.4 1714.5,1425.7 1716.5,1419.1 1713.2,1410.2 1715.4,1402.9 1713.3,1395.4 1717.5,1387.4 1715.8,1379.6 1719.7,1370.8 1717,1364.1 1718.3,1355.6 1722.2,1348.3 1719.3,1341.3 1722.1,1332.3 1718.9,1325.3 1721.1,1316 1717.2,1309 1718.9,1299.2 1716.6,1292.7 1718,1285.2 1715.4,1275.6 1718.2,1268 1715.2,1260.5 1717.7,1252.6 1719,1244.2 1720.3,1246.9 1717.6,1238.9 1720.4,1230.2 1719.2,1223.8 1722.1,1214 1720.6,1206.8 1724,1199.6 1721.2,1191.2 1724.3,1183.1 1721.7,1174.1 1723.7,1167.7 1721.3,1158.9 1724,1151.1 1722.6,1143.3 1721.3,1136.9 1723.8,1129.5 1722.3,1124.1 1725.7,1117 1724.7,1110.6 1725.4,1103.5 1728.5,1098.9 1727.5,1092.1 1725.9,1085.7 1728.3,1079.2 1725.7,1072.3 1728.5,1064.2 1727.2,1057 1730.1,1050.4 1727.6,1043.1 1728.6,1039.8 1727.4,1034.7 1731.4,1031.1 1733.3,1023 1732.3,1016.5 1733.5,1007.9 1727,1000.3 1731.8,992.3 1732.7,983.9 1733.8,976 1727.4,970.2 1734.2,962.8 1731.9,954.7 1729.6,946.9 1731.1,937.3 1731.4,930.8 1729.5,922.9 1732.4,916.4 1731.6,907.6 1730.6,900.8 1732.6,891.2 1729.6,884.7 1733.1,875.9 1729.8,869.2 1732.7,862.4 1730.8,852.6 1730.4,845.7 1732.1,838.1 1731.4,830.5 1732.2,827.2 1728.6,821.8 1727.6,818.5 1724.5,812.6 1728.7,803.8 1727.2,797.8 1728.4,789.5 1725.6,783.2 1728.1,776.8 1727.5,769.5 1725.6,762.7 1727,757.3 1724.7,750.9 1722.3,745.1 1724.4,737.4 1721.3,730.3 1723.6,725.1 1722.6,718.2 1721.9,711.1 1722.8,702 1721.6,695.3 1723.5,685.3 1720.2,678.5 1721.7,670.2 1722.1,662.7 1721.1,655 1719.7,645.6 1724.6,638.6 1717.5,631.3 1720.6,623.7 1720.3,614.7 1719,610.9 1714.3,603.7 1721.8,594.6 1717.3,587.7 1720.3,579.1 1715.4,570.9 1723.3,561.9 1715.5,555.5 1716.1,547.5 1713.5,539.7 1718.2,530.1 1719.2,523.2 1715.9,516 1718.7,506.7 1719,498.6 1717,491 1715.1,483.9 1719.7,474.5 1714.7,467.4 1717.4,459.8 1713.9,452.9 1719,443.2 1715.5,437.3 1717,429.1 1713,420.4 1716.1,412 1712.9,405.6 1717.1,398 1713.5,390.7 1714.7,382 1716.1,373.9 1712.5,366.5 1714.5,360.1 1711.3,353.4 1714.8,346.4 1711,337.2 1713.2,330.8 1710.4,327.5 1710.4,246.8"/><polygon points="1747.1,208.7 1747.1,348.2 1744.3,351.5 1743.4,359 1745.4,365.7 1741.9,372.3 1744.5,381.5 1741.6,387.1 1742.8,395.8 1742.3,402.7 1746,411.4 1737.2,417.5 1746,425.9 1739.1,433 1741.5,442.7 1742.1,448.5 1741.7,456.1 1737.3,465.8 1743.4,471.7 1741.3,481.3 1741.2,488.2 1737.7,495.7 1741.7,505 1740,511.7 1739.4,518.6 1741,526.7 1737.5,536.8 1741.2,542.7 1738.5,551.3 1740.7,560.2 1737.4,567.2 1740.1,576 1737.9,582.6 1738.9,591.9 1737.9,599.8 1739.1,606.6 1737.2,615.6 1739.7,623.1 1738,631.6 1735.9,626.7 1739.2,620.2 1736.7,614.7 1736.7,622.1 1739.1,631 1736,637.4 1740,645.8 1736.1,654.6 1737.6,662.9 1732,670.4 1734.3,678.9 1733.4,684.9 1738.5,692.9 1733.2,700.6 1734.4,709.5 1736.2,715.9 1735.7,721.8 1733.4,730.3 1728.1,736.2 1732.3,742.2 1736.2,749.5 1728.3,755.5 1729.4,760.8 1732.2,768.3 1730.8,775.1 1729.2,782.3 1726.3,787.8 1732.5,796.9 1730,804 1729.3,809.8 1728.1,813.1 1726.2,817.7 1725.3,821.8 1725.6,829 1726.4,837 1721.8,845.8 1725.7,853.8 1725.4,861.4 1728,867.5 1724.2,877.5 1726.4,883.4 1722.8,891.5 1726.5,900.5 1724.7,907 1727.9,914.5 1724.7,923.7 1725.3,930.8 1727.1,939.3 1724.1,945.4 1726.5,954.1 1723.1,961.9 1726.3,969.2 1722.8,978.4 1725.8,986.4 1723.1,992.4 1724.7,1000.3 1722.3,1008.1 1725.5,1016.5 1721.5,1024.8 1724.3,1032.2 1725.3,1039.8 1723.4,1044.8 1728.1,1048.5 1729.3,1051.8 1731.5,1059.9 1729.7,1066.5 1733.6,1072.4 1729.8,1079.8 1731,1085.6 1726.3,1093 1729.4,1100.8 1730.1,1106.4 1731,1112.1 1732.3,1119.4 1736.6,1127 1730.3,1133.5 1732.2,1138.2 1731.9,1144.8 1734.4,1152.1 1737.6,1159.4 1730.5,1167.8 1737.6,1176.1 1734.9,1183.4 1734.6,1192.5 1736,1200 1737.1,1207.3 1733.7,1215.2 1739.5,1223.4 1734,1230.7 1739.4,1238.5 1736.7,1246.9 1736.8,1239.7 1738,1231.7 1738,1225.6 1736.7,1234.2 1739.2,1242.6 1737.2,1248.8 1740.6,1257.3 1736.7,1266.5 1740.2,1273.1 1737.4,1280.7 1741.5,1289.8 1739.1,1298.1 1742.1,1305 1738.6,1312.8 1742.1,1322.1 1738.7,1330 1740.6,1338 1740,1345.5 1739.6,1352.7 1742.7,1360.9 1737.7,1369.7 1743.7,1376.3 1737.5,1384.4 1745.3,1392.2 1737.7,1400 1741.8,1407.1 1743.3,1415.7 1744.1,1424 1739.3,1430.9 1740.6,1438.7 1738,1447.2 1742.3,1454.5 1741,1462.9 1739.3,1468.3 1742.9,1475.6 1741.5,1483.7 1744.9,1491.2 1742.5,1499.2 1744.3,1505.8 1747.1,1509 1747.1,1655.1 1751.5,1655.1 1751.5,1509 1754.3,1505.8 1758.1,1498.3 1754.1,1492 1755.1,1483.9 1750.8,1476.7 1754.4,1470.1 1753.5,1461.3 1755.8,1454.5 1760.6,1447.1 1757.1,1437.8 1758.7,1430 1754.5,1423.2 1756.3,1416.6 1752.9,1408.2 1757.6,1399.7 1756.8,1392.4 1760.2,1384.3 1757,1377.3 1760,1369.7 1755.7,1361.9 1758.8,1352.9 1758.1,1345.5 1757.3,1337.3 1760.7,1330 1757.4,1321.7 1759.8,1313.1 1757.2,1304.7 1760.1,1296.9 1757.3,1290.7 1760.8,1282.5 1758.4,1273.1 1760.8,1265.3 1757.4,1256.4 1760.8,1250.6 1759.2,1242.7 1762.9,1233.2 1760.1,1225.6 1757.9,1232.1 1762.1,1240.4 1761.4,1246.9 1760.5,1238.1 1761.2,1232.2 1761.3,1222.3 1765.9,1214.7 1759,1206.6 1763.4,1198.8 1764.8,1192.7 1762.1,1184 1761.2,1176.9 1767.4,1167.7 1758.8,1159 1763.7,1152.1 1764.4,1146.1 1761.6,1137.8 1769.2,1132.6 1760.6,1125.8 1765.8,1119.4 1766.3,1113 1765.7,1106.8 1768.6,1100.8 1769.2,1094.2 1766.4,1086 1771,1079.3 1764.9,1072.1 1771.9,1065.4 1766.5,1058.3 1768.7,1051.8 1769.7,1048.5 1773.8,1045 1772.5,1039.8 1769.2,1031.9 1773.1,1024.1 1771.4,1015.3 1773.9,1008.6 1771.9,1000.1 1774.3,993.2 1770.5,985 1773.2,977.9 1771,970.1 1773.4,962.3 1771.4,953.9 1774.5,945.3 1770,938.1 1772.5,930.8 1774.9,923.7 1770.6,915.2 1775.5,908.6 1770.5,898.8 1773.6,891.4 1772.1,884.4 1772,876.9 1772.9,869.5 1773.1,860.5 1770,853.9 1776.2,845.3 1773.4,837.1 1773.6,830.1 1772.5,821.8 1771,817.1 1769.7,813.1 1768.7,809.8 1767.4,801.7 1769.7,796.3 1767.3,789.8 1770.4,782.7 1768.2,775.5 1764.9,766.7 1768.6,760.8 1769.3,755.7 1764.8,748.3 1765.8,742.2 1764.4,734.9 1765.4,729.4 1766.1,723.1 1761.5,716 1763.7,709.5 1765.4,701.1 1759.8,694.9 1764.6,686.6 1763.1,678.6 1765.5,669.1 1761.5,661.7 1763.7,653.6 1759.5,645.2 1762.5,639.6 1759.3,630 1762.4,622.5 1761.4,614.7 1760.2,621.1 1761.6,625.4 1760.1,631.6 1758.8,623.9 1761.2,615.5 1758.6,608.5 1760.8,600.6 1757.4,590.7 1760.2,583.7 1757.6,575.1 1761.6,568.1 1757.1,559.7 1759.6,551.7 1758.8,543.2 1758,535.7 1758.2,527.9 1757.7,518.6 1758.1,511.7 1755.2,504.9 1761.6,496.3 1754.2,489.3 1760.8,480.1 1756.7,472.9 1755.5,464 1757.8,456.3 1759,450.4 1751.8,440.9 1757.4,434.2 1757.5,426.2 1759.8,417.3 1753.2,410.7 1755.8,402.7 1754.7,394.7 1754,388.6 1758.2,380.8 1756.9,373.3 1759.3,367 1756,358.9 1754.3,351.5 1751.5,348.2 1751.5,208.7"/><polygon points="1787.9,390.2 1790,395 1784.1,397.8 1781.6,403 1782.2,410.6 1778.8,416.6 1781.6,422.9 1783.8,429.7 1782,437.9 1783.2,446.1 1778.5,455 1780,461.1 1778,468.6 1779.6,477.4 1782.4,485 1777.8,492.8 1779.7,500.8 1777.1,508.7 1780.5,516.4 1777.4,524 1780.2,533 1776.2,539.7 1778.6,548.1 1775.8,557.5 1777.6,564.6 1779,572.7 1775.9,579 1777.4,587.7 1776.4,594.5 1779,603.9 1776,610.7 1776.8,618.4 1775.6,626.4 1779.4,632.7 1774.9,641.3 1776.2,648.6 1776.3,655.5 1778.9,662.8 1772.8,671 1778.3,679.2 1776.9,686 1774.1,694.9 1776,702.8 1777.5,709.5 1772.4,716.3 1775.5,724.8 1772.9,731.6 1775.2,738 1775.3,743.6 1771.3,750 1773.4,757.5 1771,763.8 1772.6,769.7 1770.5,776 1774.7,782.9 1766.7,791.1 1773.1,796.5 1770,804.2 1769.3,812.1 1771,818.9 1770.4,825.1 1769.2,828.3 1767.9,831.8 1766.4,837.1 1767.1,845 1768.8,852.4 1765.2,860.4 1766.9,867.9 1763.9,875.1 1767.1,883.7 1765.1,891.7 1767.9,899.7 1764.6,906.7 1768.6,914.3 1765.5,921.8 1766.4,930.8 1768.7,939.7 1765.5,945.3 1767.4,954.3 1764.3,963 1768,969.1 1764.7,977.3 1767.8,985.9 1766.3,994.5 1768.3,1000.7 1763.7,1008 1768.2,1017.9 1766.4,1024.5 1767.6,1029.6 1769.2,1033.3 1770.4,1036.5 1772.5,1043.1 1771.3,1049.5 1771.6,1058.5 1767.6,1064.3 1769.6,1072.1 1767.1,1077.8 1770.5,1085.6 1775.2,1092.3 1773.3,1096.8 1773.4,1104.1 1772.7,1109.8 1776,1117.9 1775.5,1123.3 1772.1,1130.5 1775.5,1136.8 1773.9,1145.9 1776.7,1153.4 1776.1,1161.8 1773.4,1169 1780.2,1177.5 1772.6,1183.9 1778.7,1191.9 1774.5,1201.1 1776,1208.3 1776.7,1216.6 1776.8,1225.5 1775.9,1232.5 1777.2,1239.6 1775.5,1248.2 1778,1257.5 1775.9,1265.3 1778.2,1271.9 1776.4,1281.4 1778.4,1287.7 1777,1296.2 1777.9,1303.9 1777.6,1312.3 1776.4,1319.7 1778.7,1328.3 1777.9,1336.4 1779.7,1343.1 1776.1,1351.5 1780.7,1359.8 1777.3,1368.3 1779.3,1374.9 1777.1,1383.4 1781.4,1392.2 1779.6,1399.5 1778.5,1407.7 1780.5,1415.3 1777.1,1423.2 1780.8,1429.8 1780.4,1438.9 1783.7,1446.7 1781.6,1454 1783.9,1461.4 1787.5,1465.8 1785.1,1472.9 1784.1,1479.1 1790.4,1483.9 1787.9,1486.7 1792.9,1486.7 1796.5,1482.7 1796.7,1479.1 1795.4,1472.9 1798.8,1466.6 1796.9,1460.7 1798.7,1454 1801.4,1446.3 1798.5,1437.9 1800.7,1431.2 1798.3,1422.5 1801.2,1413.9 1799.6,1406.5 1800.7,1399.5 1802,1392.6 1799.3,1383.8 1802.9,1375 1801,1366.8 1802.5,1358.8 1799.5,1351.6 1805.5,1345.2 1800.5,1337.2 1801.4,1327.4 1802.2,1319.7 1802.7,1312.3 1802.1,1304.4 1802.8,1296.2 1805.5,1288 1799.9,1280.4 1807.6,1271.8 1799.2,1265.4 1807.5,1255.8 1800.6,1247.7 1807.1,1240.6 1800.9,1231.9 1807.1,1224.8 1799.4,1217.2 1808.3,1208.9 1801.1,1199.6 1805.2,1193.6 1805.9,1185.1 1804.6,1175.6 1800.8,1168.5 1807,1160.9 1804.7,1152.7 1806.4,1144.1 1804.8,1136.8 1803.3,1129.5 1809.1,1124.7 1804.7,1117.8 1806.2,1109.6 1806.9,1104.1 1808,1098.4 1809.1,1091.9 1809.7,1085.6 1808.5,1077.7 1811.9,1071 1808.4,1063.8 1810.8,1058.5 1807.4,1049.9 1811.6,1042.8 1809.8,1036.5 1810.8,1033.3 1810.2,1028.1 1813.6,1024.5 1815,1016.7 1811.4,1008.8 1815.6,1000 1811.2,993.6 1815.8,986.3 1811.1,976.8 1815,968.7 1813.6,960.9 1814.9,954.9 1811,945.4 1813.3,939.7 1813.6,930.8 1811.4,922.9 1816.9,916.2 1814.9,907.4 1814.8,899.2 1808.8,891.9 1816.9,884.2 1813.6,877.3 1811.6,869.1 1815.5,860.5 1813.9,853.2 1812,844.3 1813.6,837.1 1810.8,832 1810.8,828.3 1809.8,825.1 1808.7,818.4 1808.5,810.4 1810.6,805.1 1808.9,797.5 1808,790.8 1812.9,782 1809.7,776 1807.7,769.7 1810.9,764.2 1806.9,757.5 1804.6,750.8 1809.6,744.9 1803.7,737.2 1805.2,731.2 1804.8,724.8 1803.7,717 1804.9,710.5 1802.9,701.1 1806.1,693.9 1803.4,686.1 1805.4,679.5 1802.6,672.2 1806.1,662.7 1802.8,656.2 1805.4,649.5 1801.4,639.9 1804.7,632.1 1801.5,624.8 1804.1,618.3 1802.9,609.5 1805.6,602.5 1802.8,594 1805.9,588.4 1802.1,579.9 1804.6,573.2 1802.7,564.6 1800.9,556.6 1803.7,547.9 1800.5,541.5 1803.3,531.7 1801.7,524.5 1805.2,516.2 1802.3,509.8 1805.5,501.5 1802.7,494 1803.8,485.8 1800.7,477.4 1796.5,470.2 1799,462.8 1798.2,454.9 1803.2,445.9 1800.2,438.5 1798.7,430 1798.7,422.9 1796.8,417.6 1801.7,411.2 1797.1,403.1 1796.7,397.8 1794.2,394.5 1792.9,390.2"/><polygon points="1829,409.8 1828.8,413.6 1825.2,417.4 1821.7,423 1825.4,429.2 1822.2,436.9 1822.7,442.5 1825,449.5 1820.4,457.4 1823.4,466.7 1821.1,474 1822.3,480.6 1819.5,489.9 1820.7,497 1820.9,505.2 1818.8,513.4 1822,520 1820,527.6 1821.1,537.2 1817.3,544.5 1820.2,552.1 1818.9,560.2 1822.3,569.3 1817.9,576 1818.7,584.2 1818.1,591.3 1814.2,600.3 1818.4,608.5 1817,614.3 1821.7,621.8 1819.2,631.2 1822.3,638.3 1818.4,647.1 1820,654.2 1815.7,662.3 1817,669.3 1812.9,676.3 1815,685.8 1812.9,693 1817.2,701.5 1814.7,708.8 1816.6,716.1 1819.2,723.4 1816.5,729.6 1819.4,734.6 1816.1,742.6 1814.5,748.8 1815.2,755.4 1811.4,760.1 1811.6,767.3 1812.2,773.2 1809,781.1 1811.9,787.3 1809.8,794.6 1812.9,803.4 1810,808.1 1811.5,816.3 1810.3,819.6 1810.6,824.2 1807.5,828.3 1806.9,836 1808.4,843.4 1805,852 1808.7,859.3 1805.4,868.7 1808.8,876 1806.6,883.8 1809.8,890.6 1805.3,899.3 1808.4,906.8 1805.8,915.2 1810.2,922.2 1807.5,930.8 1806.1,939.2 1807.6,946.1 1805.5,954.8 1810.4,961.2 1807.9,969.9 1807.3,978.9 1805,985 1811.8,992.9 1805.8,1002.4 1805.7,1008.8 1808.3,1018.4 1809.9,1025.6 1807.5,1033.3 1806.9,1036.9 1810.3,1042 1811.5,1045.2 1809.6,1051.7 1811.7,1060.1 1813.5,1067.1 1808,1073.4 1815.8,1079.7 1807.9,1087.8 1811.6,1094.3 1813.9,1099.7 1811.8,1106.7 1814.5,1112.8 1814.3,1119.7 1815,1124.8 1815.9,1133.4 1815.6,1137.9 1816.6,1145.5 1816.3,1153.6 1815.3,1161.3 1819.2,1169.7 1816.2,1177.4 1818.2,1184.4 1815.3,1192.3 1818.5,1201.8 1815.7,1209.6 1818.2,1217.4 1816.2,1225.6 1819.5,1232.5 1816.8,1240.7 1820.6,1248.8 1816.9,1257.1 1819.2,1265.8 1818.2,1272.8 1818.7,1280.7 1820.8,1288.7 1817.3,1295.6 1821.2,1305.1 1816.5,1311.7 1822.7,1320.1 1817.1,1327.4 1822.3,1335.1 1819.4,1345 1820.1,1353.1 1821.8,1360.4 1820.7,1367.9 1825.5,1375.6 1817.1,1383.6 1825.1,1391.3 1822.4,1399 1821.2,1406.8 1818.1,1415.4 1822.7,1422.4 1824.1,1427.6 1826.1,1435.7 1823.4,1442.1 1825.2,1447.5 1825.1,1452.5 1829,1455.1 1834,1455.1 1839.7,1450.3 1837.8,1447.5 1836.6,1442.2 1838.4,1434.2 1836.7,1429.4 1839.8,1422.4 1842.4,1413.9 1840.3,1407.1 1842.4,1399.6 1838.9,1390.4 1841.9,1383.3 1840,1375 1841.8,1367.9 1844.2,1359.8 1840,1351.6 1843.6,1345.2 1840.6,1336.3 1845.1,1327.2 1841.7,1320.1 1843.6,1312.2 1841,1305.2 1845.8,1297.4 1843.3,1288.5 1843.8,1280.7 1843.8,1273.2 1843.7,1265.3 1846.3,1256 1841.5,1249.3 1845.2,1241.9 1845.8,1233.9 1844.3,1224.8 1842.4,1216.8 1848.8,1209.8 1841.3,1200.8 1847,1194.1 1845.2,1184.4 1844.4,1176.3 1846.9,1169.2 1843.7,1161.7 1847.6,1152.5 1845.9,1145.5 1850.2,1139.9 1842.2,1132.1 1850.3,1125.9 1844.5,1119.4 1848,1112.8 1848.8,1107.7 1851.1,1101.5 1850.8,1094.3 1854.3,1088.4 1849.1,1080 1851.2,1073.6 1851.5,1066.8 1853,1058.9 1847.2,1052.8 1850.9,1045.2 1851.9,1042 1855.1,1038.5 1854.7,1033.3 1852.7,1025.1 1855.1,1017.7 1851.9,1010.6 1855.5,1002.1 1852.2,994.3 1855.5,985.4 1852.7,978 1856.2,969.8 1853.1,963.1 1856.2,954.7 1852.4,945.7 1855.5,937.6 1854.7,930.8 1852.8,923.7 1856.8,915.5 1854.1,906.5 1854.8,900 1853.6,890.7 1855.4,882.8 1854.2,874.6 1853.8,867.5 1854,859.7 1858.7,851 1854.4,845.2 1856.6,835.2 1854.7,828.3 1853.1,824.2 1851.9,819.6 1850.9,816.3 1854.5,809.6 1847.6,803 1849.7,795.1 1852.3,788.6 1853.2,780.7 1847.1,774.9 1850.8,767.3 1849.2,761.9 1846.9,754.3 1848,748.8 1845.7,743.2 1848.3,736.4 1845.9,728.7 1846.4,722.1 1845.9,716.1 1847.7,707.6 1843.2,699.8 1848,692.5 1843.7,685.3 1846.9,678.4 1843.4,670.2 1846.6,662.4 1844.1,653.2 1845.3,645.8 1844.6,639 1845.2,631.4 1843.1,622.9 1846.1,616.1 1842.2,608 1845.7,599.7 1842.5,591.6 1843.8,584.2 1846.1,577.1 1841.9,567.7 1843.8,559.6 1841.5,552.7 1845.5,544.4 1841.7,537.1 1843.1,528.1 1839.6,519.9 1843.2,512 1841.8,506.1 1841.8,497 1844.3,489.8 1840.3,482 1842.5,474.7 1838.1,464.8 1840.3,458.4 1835.7,450.8 1839.8,442.5 1838.1,435.6 1834.5,429.4 1837.3,424.4 1837.8,417.4 1832,412.6 1834,409.8"/><polygon points="1870.1,442.5 1868.9,447.4 1866.3,450.1 1862.8,456.5 1868.1,462.5 1862.4,469.2 1863.8,475.2 1865.1,483.9 1861.1,491.1 1864.9,497.5 1861.2,505.8 1864,515.1 1859.6,522.6 1861.8,529.7 1861.9,537.2 1861.1,545.9 1863.1,554.5 1859.3,562.3 1862.9,568.1 1859.5,578.3 1861.3,585.5 1858.9,592.5 1862,600.8 1858.7,609.7 1859.8,616.9 1860.2,624.4 1858.6,631.3 1861.6,640.1 1860.1,646.7 1862.1,654.7 1858.4,663.8 1859.9,669.5 1856.5,677.5 1858.3,685.1 1854.8,692.5 1857.8,701.7 1854.4,709.3 1858.1,717 1855.4,723.9 1858.1,731.4 1855.5,740.6 1858.6,746.6 1856.6,755.2 1859.7,763.7 1857.6,769.4 1857.7,778.2 1860.7,785.9 1857.5,791.9 1860.3,797.4 1857.2,804.5 1855.6,810.9 1858.1,817.2 1854.3,823.8 1852.7,829.4 1855.7,836.6 1853.5,842.5 1855.6,849.6 1852.2,857.1 1852.6,864.3 1851.4,867.6 1851.6,873.1 1848.6,876.3 1847.1,883.4 1848.8,891.4 1845.8,899 1849.3,907.4 1846.7,915.8 1849.8,923.8 1848.6,930.8 1847.1,939.7 1850.3,947.2 1848,953.6 1849.9,961.9 1847.4,970.4 1849.2,976.8 1848.6,985.3 1848.2,990.2 1851.4,994 1852.6,997.3 1854.9,1004.6 1852.7,1011.9 1854.9,1019 1850.7,1025.9 1852.7,1032.2 1853.8,1037.8 1853.8,1044 1855.6,1050.7 1859.7,1057.8 1854.4,1063.2 1856,1070.2 1854.8,1076.1 1857.7,1083.4 1860.9,1090.7 1854.2,1099.3 1858.1,1107.3 1859.8,1115.3 1858.9,1122.7 1854.3,1130.4 1863.5,1138.4 1855.9,1146.1 1859.5,1155.1 1859.7,1163.9 1857.4,1171.4 1860.3,1178.8 1857.8,1186.7 1860.6,1195.5 1858.6,1203.1 1860.7,1210.1 1858,1218.6 1859.6,1226.1 1861.5,1233.9 1856.6,1242.4 1859.8,1250.2 1861.8,1257.9 1857.2,1265.8 1860.8,1274 1859.3,1282.7 1862.6,1290.8 1860.6,1296.7 1862.9,1305.8 1860,1314.3 1863,1320.8 1861.1,1329.3 1861.8,1337.4 1863.4,1344.8 1860.8,1353 1864,1361.3 1862.7,1369.4 1865.2,1377 1861.4,1384.2 1863.8,1391.9 1866,1398.2 1861.9,1403.3 1867.2,1411.4 1866.3,1416.9 1867.6,1420.9 1870.1,1424.6 1875.1,1424.6 1878.9,1420.8 1878.9,1416.9 1877.7,1411 1880.7,1405.5 1879.5,1397.8 1880.9,1391.9 1883.3,1385.2 1878.3,1375.6 1883.3,1367.6 1883.1,1361 1884.9,1352.8 1880.3,1345.7 1882.9,1337.4 1884,1329.2 1884.4,1320.9 1886.7,1313.8 1882.3,1305.5 1882,1298.4 1879.3,1290.9 1885.1,1282.2 1885.5,1273.5 1888.6,1267 1885.4,1257.7 1884.9,1250.2 1883.7,1242.6 1881.2,1234.4 1885,1225.8 1884.7,1217.7 1889.3,1210.3 1886.6,1201.6 1888.2,1194.1 1882.9,1186.7 1885.6,1179.7 1882.8,1169.8 1887,1162.6 1886,1155.8 1889.3,1147.1 1885.2,1139.3 1887.3,1131.7 1884.8,1123.9 1887,1114.7 1884.8,1107.8 1888.6,1098.6 1885.6,1091.1 1887,1083.4 1888.8,1078 1885.3,1071.4 1888.8,1064.4 1887.4,1057.8 1889.1,1050.7 1892.3,1044.1 1889.8,1038.6 1891.9,1032.2 1891.9,1024.2 1891,1017.9 1894.6,1011.3 1891.4,1005.3 1892,997.3 1893,994 1894.1,989.1 1895.8,985.3 1896.4,976.8 1897.7,969 1892.3,961.5 1897.9,953.5 1896.3,946.2 1895.1,938.1 1895.8,930.8 1897.1,922.8 1894.1,915.1 1896.4,907.7 1897.7,900.3 1892.7,892.1 1899.6,882.9 1895.8,876.3 1893.8,872.6 1893,867.6 1892,864.3 1892.4,857.1 1891.3,850 1891.4,843.9 1891.3,836.5 1891.9,829.4 1892.7,823.7 1887.5,817.4 1889.1,810.9 1890.9,805.3 1884.8,797.5 1891.4,791.7 1884.9,784 1887,778.2 1889,770.2 1886.9,763.1 1889.2,754.2 1886,748.2 1887.7,738.8 1885,731.2 1888.1,725.2 1886,717.1 1887.7,708.4 1884.4,701.6 1887.4,692.9 1884.3,685.3 1888.1,677.5 1884.3,671.1 1885.6,664 1884.1,656.4 1886.9,646.6 1883,639.5 1887.9,632.4 1882.3,624.9 1884.9,616.9 1887.3,608.6 1881.8,600.4 1887,592.1 1884.8,584.2 1884.8,578.3 1879.6,569.8 1882.8,562.5 1879.5,552.9 1882.5,544.5 1884,536.5 1882.9,529.7 1884.6,522.4 1878.5,514.7 1884.9,505.5 1883.8,498 1886.3,490.3 1881.9,482 1880.9,475.2 1878.8,468.3 1880.4,462.2 1880,455.4 1878.9,450.1 1878.1,445.5 1875.1,442.5"/><polygon points="1911.2,473 1909.5,476.4 1907.4,480.6 1903.2,487.2 1907.5,493.4 1904.5,499.2 1904.9,505.7 1907.4,512.9 1902,521.5 1905.7,528.5 1901.5,536.5 1904.9,544.3 1901.1,551.9 1902.9,560.2 1903.1,569.1 1901.5,575.4 1903.1,585.2 1901.9,591.5 1903.3,600.7 1900,606.9 1903.1,614.9 1899.7,624.4 1902.3,632 1900.2,640 1900.9,647.4 1902.2,655.8 1898.1,662.7 1901.3,669.5 1899.7,678.8 1903.2,684.8 1900.4,694.5 1902.9,701.7 1899.5,709.8 1901.4,715.9 1897.3,724.2 1900.1,731.4 1896.3,739.5 1897.9,747.6 1895,753.9 1898.4,763 1895.1,769.2 1897,778.5 1894.5,785.2 1898.8,793.5 1897,800.9 1893.2,807.3 1896.3,813.3 1892.5,818.9 1896.7,826.2 1893.9,832.4 1890.3,837.9 1893.8,844.7 1892.4,851.8 1890.3,858.1 1893.2,866.5 1893.7,873.5 1892.5,876.7 1888.8,882.1 1889.7,885.5 1890.8,892.8 1888.3,899.5 1891,907.2 1889,915.4 1891.7,923.5 1889.7,930.8 1888.9,938.2 1891.8,946.1 1888.8,953.5 1891.7,961.4 1888.4,967.5 1889.7,976.1 1892.5,981 1892.5,984.9 1893.7,988.1 1892.2,996.4 1894.2,1002.7 1891.7,1009 1893.8,1016.9 1896,1022 1894.8,1030.3 1896.7,1035.4 1899.8,1041.5 1896.2,1048 1899,1054.9 1895.3,1060.9 1898.8,1068.1 1900.6,1076.9 1898.7,1084.1 1902.4,1090.5 1897,1098.7 1898.6,1107.9 1896.5,1115.8 1903.3,1121.6 1900.1,1130.9 1898.8,1137.6 1896.6,1146.9 1903.4,1155 1899.6,1162.2 1898.7,1169.7 1899.9,1176.9 1904.4,1184.6 1895.5,1192.2 1903.7,1201.4 1900,1209.1 1899.7,1215.8 1900.9,1224 1896.4,1231.1 1905.6,1240.4 1898.2,1248.1 1904.6,1254.8 1897.9,1262.8 1905,1271.7 1898.6,1279.4 1904.3,1286.6 1902.7,1294.2 1902.2,1302.3 1902.9,1311.2 1903.4,1320 1904.7,1325.6 1902.1,1334.5 1905,1342.5 1902.4,1349.5 1906.3,1357.7 1904.9,1365.7 1905.2,1373.2 1907.9,1379.3 1904.8,1385.5 1907.4,1390.8 1910.2,1393.7 1911.2,1398.4 1916.2,1398.4 1920.5,1393.6 1920,1390.8 1917.6,1383.9 1923,1379 1920.2,1371.8 1922,1365.7 1923.9,1358.6 1920.5,1349.6 1923.8,1342.2 1922.6,1335.7 1923.6,1325.7 1922.4,1320.1 1924,1311.2 1924.8,1302.4 1922.9,1295.9 1926.6,1286.8 1923.3,1278.9 1925.3,1270.8 1922.9,1262.7 1927.1,1256.4 1926.2,1248.5 1928.5,1240.9 1923.7,1231.3 1926,1224 1924.8,1216 1923.2,1209.5 1928.2,1200.9 1926.4,1191.9 1931.1,1184.8 1928.1,1178.3 1929.9,1168.3 1926.3,1160.7 1927.4,1153.8 1923.3,1145.6 1925.8,1139.2 1923.3,1130.8 1925.7,1121.9 1924.5,1114.6 1928.8,1107.1 1926.9,1100.2 1931.3,1090.4 1929.3,1082.7 1931.5,1076.7 1928.1,1068.1 1927.9,1061.2 1931,1054.8 1928,1049.2 1930.1,1043 1930.2,1035.4 1928.4,1028.2 1932.6,1022.9 1933,1016.9 1931.3,1010.4 1935.4,1001.9 1932.9,995.4 1933.1,988.1 1934.1,984.9 1937.3,981.2 1936.9,976.1 1935,968.6 1938.2,960.8 1934.4,952.9 1938.5,947 1935.7,939.1 1936.9,930.8 1938.6,924.3 1935.5,916.3 1937.7,907.7 1933.9,899.9 1938.1,893.3 1936.9,885.5 1935,881 1934.1,876.7 1933.1,873.5 1933.3,866.2 1930.2,860.2 1934.4,851.4 1933,844.7 1932.5,837.7 1931.2,832.3 1930.2,826.2 1928,818.7 1933.1,812.7 1928.2,805.6 1927.6,800.8 1928.1,793.5 1929.7,785.6 1927.4,777.4 1925.2,771.3 1932.5,763.4 1923.1,755.4 1929.7,746.5 1926.5,740.2 1926.2,732.1 1928.1,723.1 1926,716.4 1928.7,707.9 1926.3,701.7 1926.8,694.6 1927.1,684.9 1925,679.1 1929.4,671 1923.3,661.7 1928.5,653.9 1926,647.4 1923.5,639.6 1925.9,631.9 1923.2,623.6 1927.6,616.3 1924.4,607.7 1926.7,600.5 1924.6,590.8 1926.9,583 1923.5,576.9 1925.6,567.9 1924,560.2 1922.1,552.4 1926,545 1922.2,537.2 1923.8,528.2 1922.3,520.6 1922.4,513 1922,505.7 1921.5,499.9 1922.1,492.5 1918,486.1 1920,480.6 1918.4,477.7 1916.2,473"/><polygon points="1952.3,499.2 1953,503.4 1948.5,506.8 1946.3,513.5 1947.5,518.4 1944.4,525.4 1946,531.9 1949.6,539.8 1943.6,546.9 1943.9,555.7 1942.3,564.1 1947.9,570.4 1945,579.3 1944,586.4 1943.1,594.2 1939.2,602.1 1944.4,609.9 1945,618.3 1947.8,626.3 1942.2,634.1 1942.1,641.5 1937.8,648.8 1942,657.8 1941.3,665.6 1942,673.6 1945.4,682.1 1940.9,689.2 1941.2,696.4 1937.5,705.4 1941.6,713.1 1940.1,721.3 1944.1,729.1 1940.6,736.9 1942.1,746 1937.7,753.8 1940.9,761.6 1938.3,769.5 1942.2,776 1939.9,784.7 1937.9,791.2 1940.4,798.1 1936.5,804.5 1939.1,810.4 1937.8,817.4 1935.4,823 1937.6,830.5 1934.9,836 1932.8,842.6 1935.2,849.9 1932.7,855.8 1937,861 1934.8,868.2 1933.6,871.5 1931,876 1930.8,880.2 1931.3,886.8 1930.4,895 1934,901.1 1928.5,909.9 1930.3,915.9 1930.9,924.7 1930.8,930.8 1930.1,939.1 1928.5,945.8 1934.5,952.8 1927.4,960.3 1930.3,967.1 1933,973.3 1930.8,981.4 1931.5,986 1933.6,990.1 1934.8,993.4 1930.8,1000.5 1937.2,1005.7 1934.7,1013.1 1932.9,1019 1934.9,1025.6 1931.7,1032.7 1940.1,1038.8 1937.8,1044.2 1937.6,1050.4 1939.7,1058.1 1938.9,1063.9 1939.4,1070.4 1939.9,1076.9 1937.2,1085.1 1939.7,1093.5 1939.2,1099.4 1943.7,1108.8 1940.2,1116.7 1941.6,1123.3 1938.6,1130.6 1942.1,1138.3 1939,1146.6 1942,1153.9 1939.8,1163.2 1943.6,1170.1 1940.7,1177.7 1943.7,1186.7 1942,1193.5 1940.6,1201 1944,1210 1940.8,1216.1 1943.9,1225.7 1942.5,1232.2 1943.7,1242.2 1941.3,1247.9 1945.7,1256.1 1941.9,1264 1944.5,1271.8 1944,1280.7 1943.7,1288.4 1946.1,1295.4 1941.8,1304.3 1945.2,1311.8 1943.8,1318.5 1949.6,1326.7 1946,1335.2 1944.2,1341.4 1948.3,1347.9 1949.2,1355.1 1948.5,1360.3 1948.5,1364.8 1952.3,1367.9 1957.3,1367.9 1963,1363 1961.1,1360.3 1960.7,1354.6 1961.8,1347.8 1958.8,1341.6 1963.1,1335.2 1967.5,1328.5 1965,1319.5 1965,1311.5 1960.4,1303.6 1962.7,1296.1 1963.7,1287.8 1965.1,1280.7 1969.5,1273.4 1963.5,1265.2 1965,1255.9 1961.9,1249.7 1967.6,1241.3 1967,1232 1970.1,1226.2 1966.2,1216.7 1967.4,1209 1963.9,1201 1967.1,1193.5 1969.3,1186.5 1967.7,1177.3 1969.4,1170.7 1965.7,1161.4 1968.2,1153.9 1966,1146.2 1969.5,1140.1 1967.8,1132.3 1969.6,1122.4 1966.7,1114.6 1970,1107.3 1967.6,1100.1 1971.6,1093.4 1968.1,1085.4 1969.2,1076.9 1970.6,1071 1969.1,1064.6 1972.7,1057.2 1970.1,1050.4 1971.3,1044.2 1972.7,1039 1972.9,1032.8 1974.1,1025.6 1974.8,1018.4 1970.8,1013.8 1976.2,1007.1 1975.7,999.1 1974.2,993.4 1975.2,990.1 1975.6,986.9 1978,981.4 1978.4,973.4 1976.4,965.9 1978.5,960.7 1980.1,952 1974.2,945.5 1982.8,937.5 1978,930.8 1978.5,922.4 1977.9,915.8 1978.3,908.9 1978,900.8 1977.9,895.3 1977.8,888.1 1978,880.2 1974.6,876.7 1975.2,871.5 1974.2,868.2 1972.7,861.6 1974,854.4 1974.9,848.3 1971.6,842.5 1974.1,836 1973.7,830.7 1970.5,823.1 1971.3,817.4 1973.1,809.8 1967.9,804.2 1970.4,797.7 1968.7,790.9 1969.2,784.7 1970.5,778 1967.2,769.7 1969.9,760.9 1966.5,753.7 1969.6,745.8 1967.6,736.9 1969.6,728.6 1966.4,720.9 1968.8,713.6 1967.4,706.4 1969.9,698.3 1965.1,689 1967.8,681.3 1967.1,673.6 1966.5,665.9 1970.2,657.7 1967.4,649.8 1970,642.6 1965.3,633.1 1965.6,626.1 1964,617 1968,610.1 1963.4,603.2 1965.6,595 1965.1,586.4 1966.4,578.9 1968.6,570.3 1966,562.6 1968.3,555.6 1960.4,546.9 1962.8,540.2 1963.1,531.9 1958.7,524.7 1965.2,520.4 1959.1,512.4 1961.1,506.8 1962.6,501.9 1957.3,499.2"/><polygon points="1993.4,518.8 1992.9,523.8 1989.6,526.4 1987.3,533.5 1989.8,539.8 1986.1,544.9 1987.1,551.5 1988.7,560.4 1984.3,568.2 1987.4,574.5 1985.9,582.5 1987.6,590.8 1982.5,597.3 1985.1,606 1988.2,612.9 1982.8,621.9 1983.6,630.3 1984.8,636.9 1985.1,644.5 1981.4,653.1 1987.5,660.3 1979.8,669.1 1986.7,677.8 1981.6,685.2 1983.1,693.2 1985.4,700.1 1980.2,708.4 1985.9,717.6 1980.2,724.1 1983.9,730.8 1983.2,739.2 1980.6,748.2 1982.5,755 1983.5,762.6 1977.9,770.6 1984.9,778.6 1981.6,786.4 1981.3,794.3 1979.2,801.4 1983.4,808.4 1981,817.2 1977.6,824.4 1981.1,829.8 1979.1,837.4 1980.1,843.8 1978.9,849.9 1977.6,855.4 1977.5,863.3 1976,868.5 1975.4,874.9 1976.4,882 1975.9,888.5 1974.7,891.8 1972,897.2 1971.9,900.5 1973.7,908 1970.6,915.9 1974.3,924.1 1971.9,930.8 1969.8,937.3 1973.8,946.6 1969.4,953.9 1971.9,961.1 1973.9,966.1 1974.7,969.8 1975.9,973.1 1976.2,980.8 1979.3,986.2 1976,993.1 1977.1,998.5 1980.4,1004.3 1978.9,1011.7 1977,1017.2 1979.1,1024.6 1977.4,1030.2 1983.1,1037.3 1981,1044.4 1978.6,1052.7 1979.9,1060.9 1982.8,1067 1983.9,1075.5 1976.9,1082 1984.6,1090.6 1983.3,1097.9 1980,1106.7 1980.9,1114 1985.8,1120.4 1979.2,1129 1983.3,1137 1983.9,1144 1982.9,1152.9 1979.2,1160.1 1985.5,1167.6 1983.1,1175 1979.8,1183.1 1984.1,1190.8 1984.1,1197.7 1986.2,1207.3 1981.6,1213.7 1984.8,1221.6 1982.6,1230.7 1986.6,1237.6 1984.3,1247.1 1985.8,1255 1985.1,1262.2 1983.2,1270.6 1986.6,1278.1 1985.1,1285.7 1987.7,1292.2 1985.2,1301.4 1988.9,1307.7 1987.1,1316.7 1986.9,1322 1990.1,1330.2 1987.6,1335.8 1989.6,1341.7 1993.3,1346 1993.4,1349.4 1998.4,1349.4 2003.4,1346.1 2002.2,1341.7 2001.8,1334.4 2003.2,1328.9 2000.4,1322.1 2004.2,1316.7 2008.4,1308.3 2004.8,1300.8 2004.2,1293.8 2000.6,1284.5 2007.2,1277.5 2007.5,1270.1 2006.2,1262.2 2008.1,1253.5 2002.7,1246.6 2005,1237.9 2004.9,1229.4 2011.2,1223.7 2009,1215 2009.7,1206.8 2004.8,1199.9 2007.1,1190.3 2004.7,1183.1 2008.2,1175 2011.9,1166.7 2008.3,1159.1 2009.6,1151.8 2005.8,1144.9 2008.4,1136.6 2006.8,1127.8 2010.6,1120.5 2008.2,1114.1 2011.3,1104.9 2007.8,1098.9 2010.5,1091.6 2007.9,1082.9 2011.3,1075.4 2009.2,1068 2012.4,1060.1 2009,1050.9 2010.3,1044.4 2011.7,1039 2010.1,1031.8 2014.4,1024.8 2010.8,1018.5 2012.4,1011.7 2013.1,1005.2 2012.8,1000.2 2015.2,993.1 2017.1,986.1 2012.8,979.7 2015.3,973.1 2016.3,969.8 2020.4,965.2 2019.1,961.1 2017.4,953.8 2018.5,944.9 2019.7,938.8 2019.1,930.8 2018.2,924.2 2019.5,916.3 2020.9,908.4 2019.1,900.5 2017.5,896.8 2016.3,891.8 2015.3,888.5 2014.7,880.7 2016.5,874.3 2015.2,868.5 2016.1,861.4 2013.6,855.4 2012.4,849.9 2017,842.4 2006.8,837.9 2015.4,830.3 2006.9,824.4 2010.3,817.2 2010.1,810.3 2008.1,802.7 2013.3,794 2007.9,786.5 2009.6,779.6 2007.1,769.9 2011.6,762.2 2009.2,754 2011.8,746.8 2008.3,739.1 2010.8,732.6 2008.3,723.1 2011.2,717.5 2007.5,707.9 2010.5,701.8 2008.2,693.2 2006.5,686 2009,677.1 2007.2,668.9 2009,662.6 2005.1,653.6 2008.8,644.6 2005.8,638 2007.3,629.3 2006.5,622.3 2008.5,613.6 2006.2,606 2003.1,598.2 2006.3,589.9 2004.2,581.9 2006.8,576 2002.3,567.6 2003.7,558.6 2004.2,551.5 2003.3,545.4 2004.8,539.2 1999.9,533.6 2002.2,526.4 2003.8,521.6 1998.4,518.8"/><polygon points="2034.5,541.7 2031.2,546.5 2030.7,549.3 2031.7,555.3 2028.4,562 2027.8,569.1 2028.2,574.4 2026.6,583.3 2029.6,589.5 2025.5,598.8 2027.7,605.3 2026.4,613.9 2026.3,621.8 2026.2,628.9 2026.6,636.1 2025.7,644.6 2025.8,653.8 2025.9,660.8 2025.3,669.4 2024.5,676.2 2027,683.8 2023.3,692.4 2026.8,701 2022.6,707.7 2024.2,716.1 2024.9,725 2022.1,731.8 2026.1,739.2 2021.5,748.2 2025.1,756.6 2022.8,762.6 2023.5,771.5 2021.6,778.1 2024.2,787.8 2021.7,795.9 2024.7,802.2 2020.4,811.3 2022.5,818.1 2022.1,826.4 2019.1,833.1 2021.2,839 2017.8,845.6 2019.7,853.7 2020,859.1 2015.1,864.3 2016.7,871.4 2017.1,877.6 2014.1,882.4 2016.7,888.7 2017,894.6 2015.8,897.9 2013.2,902.4 2013,906.6 2016.5,912.7 2014,917.7 2017,923.6 2013,930.8 2015,935.9 2016.2,944.1 2012.9,949.7 2013,955 2014.8,958.5 2015.8,963.7 2017,967 2012.5,973.6 2015.7,978.3 2017.1,984 2013.6,990 2018.7,995.7 2020,1002.5 2017.6,1008 2022.1,1015.5 2019.3,1021.3 2023.3,1028.5 2022.1,1035.2 2021.5,1042.9 2024.9,1051.1 2021.8,1057.4 2024.6,1065.4 2022.8,1073.7 2024.5,1081 2022.7,1088.6 2025.1,1094.9 2022.2,1103 2025,1111.9 2022.4,1118.2 2025.5,1125.9 2022.3,1134 2024.5,1141 2024.2,1148.8 2022.1,1156 2025.6,1164.5 2022.9,1173.4 2026.5,1180.6 2023.8,1187.7 2028.1,1196.4 2025.4,1204.8 2028.1,1212 2024,1219.3 2025.7,1228.6 2026.2,1236 2025.9,1243.4 2031.1,1252.8 2027.1,1260.2 2026.3,1266.9 2023.3,1276 2030.5,1281.6 2028.2,1290.5 2028,1296.9 2027.3,1303.5 2026.9,1309.6 2030.7,1315.6 2037.5,1318.7 2034.5,1323.2 2039.5,1323.2 2046.2,1318.4 2043.3,1315.6 2043.1,1308.8 2043.3,1304.1 2040.4,1297.2 2045.3,1290.5 2048.7,1281.9 2046.8,1274.1 2049.3,1268.1 2044.1,1258.6 2046.3,1250.8 2045.2,1243 2047.3,1236 2050.2,1227.9 2046.7,1219.3 2048.6,1213.3 2045.5,1203.5 2048.9,1197.2 2047.8,1188.6 2050.9,1180.4 2047,1171.9 2050.1,1164.1 2047.4,1156.3 2049.3,1148.8 2051.6,1140.3 2048.8,1133.5 2050.7,1125.4 2047.3,1118 2051.6,1110.2 2050.1,1103.9 2051.6,1096.1 2048.4,1087.6 2051.6,1080.5 2050,1073.6 2053.4,1065.4 2048.4,1058.3 2051.7,1049.8 2052.3,1042.1 2051.4,1035.2 2050.9,1028.3 2051,1022.3 2055.9,1014.7 2050.8,1008.6 2053.5,1002.5 2058.8,996.8 2053.9,990.1 2056.3,984 2059.1,979.3 2056.3,972.2 2056.4,967 2057.4,963.7 2063.2,958.4 2060.2,955 2056.1,947.9 2064.3,941.9 2056.6,937.1 2060.2,930.8 2062.3,925.9 2057.6,919.7 2064.3,912.3 2060.2,906.6 2059.6,901.4 2057.4,897.9 2056.4,894.6 2059,888.1 2053.2,883 2056.3,877.6 2057.5,871.5 2050.8,865.1 2053.5,859.1 2054,852.4 2049.9,845.8 2054.6,840.4 2051.4,833.8 2051.4,826.4 2052.7,817.5 2049.9,810 2052.8,802.3 2049.6,795.9 2052.4,787.6 2049.8,778.6 2052.1,772.2 2048.9,763.4 2050.4,755 2047.8,746.8 2051,738.9 2048.4,733 2051.7,723.7 2049.3,716.1 2048,709.1 2050.6,699 2048.1,693.2 2048.3,683.2 2045.7,677 2051.7,669.7 2045.6,660.5 2050.1,653.4 2044.7,643.8 2050.4,637.4 2047.3,628.9 2045.5,620.9 2047.5,613.3 2046.1,604.9 2049.7,598.8 2046.8,591 2044,581.9 2045.3,574.4 2046.3,569.3 2042.5,563 2043,556.6 2043.3,549.3 2039.4,545.7 2039.5,541.7"/><polygon points="2075.6,570 2075.7,574.2 2071.8,577.6 2069.3,583.3 2072.1,590.1 2069.6,597.4 2069.3,602.7 2069.7,610.4 2067.8,619.5 2069.6,625.2 2065.8,633.6 2070.4,642.6 2066.5,648.8 2067.3,657.2 2067.4,664 2066.7,672.4 2069.9,681.8 2065.2,689.1 2065.3,696.1 2063.5,704.5 2068,712.3 2067.1,720.3 2069.1,729.7 2063.7,737.4 2065.3,744.4 2063,752.9 2060.8,760.8 2066.2,766.8 2065.3,776.1 2068.1,783.2 2066,791.2 2067.1,797.4 2062.7,805 2063,812.7 2063.2,821.1 2059,828.7 2061.4,834.8 2059.5,840 2063.5,847.1 2061.1,853.8 2060.6,859.3 2062.7,865.3 2058.2,872.4 2058.2,879.5 2060.4,884.4 2058.1,891.1 2056.9,894.4 2052.5,898 2054.1,903.1 2054.1,909.3 2051.9,916.5 2055.7,923.2 2054.1,930.8 2053.3,937.1 2056,944.2 2052.7,951.1 2054.1,958.5 2056.8,961.9 2056.9,967.2 2058.1,970.5 2055.8,977.3 2060,983 2058.2,989.2 2058,996.4 2062.5,1002.4 2061.1,1007.8 2059.6,1014.7 2062.7,1020.9 2061.1,1027.8 2065.4,1033.9 2063.2,1040.5 2062.8,1047.9 2063.5,1056 2061.2,1063.2 2066.6,1071.6 2065.1,1078 2065.5,1086.8 2061.4,1095.1 2067.5,1102 2065.8,1109.1 2064.8,1117.1 2065.3,1124.8 2066.5,1133.6 2065.7,1140 2063.1,1149.1 2070.6,1155.8 2062.1,1164.6 2068.9,1171.4 2065.8,1180.1 2067.2,1188.7 2067.7,1197.2 2066.6,1203.9 2067.3,1212 2064.8,1218.9 2070.6,1227.3 2066.7,1235 2068.8,1243.5 2069,1251.6 2069.2,1259.9 2069.3,1266.5 2069.5,1273.8 2070.8,1280.2 2071.1,1286 2071.8,1291.6 2075.4,1294.4 2075.6,1299.2 2080.6,1299.2 2086.4,1296.6 2084.4,1291.6 2083.6,1284.6 2085.2,1279 2080.8,1271.6 2086.4,1266.5 2089.3,1257.7 2088.3,1251.1 2090.4,1242.9 2084.4,1235.6 2086.2,1226.5 2085.1,1219.7 2088.4,1212 2092.1,1203.8 2088.8,1196.7 2089.3,1189.2 2085.4,1179.1 2089.7,1173.3 2089.2,1164.3 2092.4,1156.9 2089.3,1148.7 2090.2,1140.6 2087.4,1133.4 2090.4,1124.8 2092.6,1116.5 2089.4,1110 2092.4,1102 2089.4,1094.4 2091.9,1085.4 2090.1,1079.5 2093.9,1071.3 2090.7,1063.3 2093.1,1054.8 2091,1047 2092.5,1040.5 2095.3,1034.5 2091,1027.2 2093.8,1020.2 2093.1,1013.7 2094.6,1007.8 2097.7,1000.9 2093.2,995.9 2097.4,989.2 2100.6,983.7 2098,977.4 2097.5,970.5 2098.5,967.2 2100.9,963.9 2101.3,958.5 2099.4,951.8 2100.4,945.7 2103.2,937.6 2101.3,930.8 2101.4,923.7 2102.5,917.1 2099.7,911.1 2101.3,903.1 2100.6,899 2098.5,894.4 2097.5,891.1 2101.3,885.8 2092.4,879.5 2097.4,872.4 2095.4,866.2 2096.5,859.3 2094.6,853.8 2098.3,848.5 2090.4,840.2 2095.7,834.9 2091.8,828.5 2092.5,821.1 2095.2,812.3 2092.2,805.3 2094.2,798.4 2089.2,790.8 2091.3,782.2 2088.8,774.6 2091,767.1 2088.8,759.7 2090.8,750.9 2090.4,744.4 2088.6,736.3 2091.1,728.7 2088.6,720.5 2091.6,713.2 2087.8,704.6 2090.1,696.8 2087,687.8 2090.7,680.8 2087.9,673.2 2090.3,666.2 2088.4,657.2 2086.8,649.5 2089.9,641.6 2087.1,634.8 2089.7,627 2084.4,618.1 2087.7,610 2086.4,602.7 2084.1,596.5 2085.2,590.8 2085.5,583.1 2084.4,577.6 2085,573 2080.6,570"/><polygon points="2116.7,596.2 2117.6,599.9 2112.9,603.8 2110.4,611.2 2111.6,616.3 2108.4,622.6 2110.4,628.9 2113.1,635.9 2109.5,645.2 2110.7,651.3 2107,658.9 2109.3,668.3 2107.7,676.2 2108.4,683.4 2109.3,690.4 2105.9,698.7 2109.2,706.5 2106.2,714.3 2110,723 2105.3,732 2107.9,739.1 2105.3,747.3 2109.1,755.2 2104.4,763.1 2106.4,770.6 2108.1,777.4 2105.4,785 2104.9,792.8 2103.5,800.8 2108.3,809.3 2104.3,815.9 2100.8,823.2 2107.6,830.2 2102,836.4 2101.1,841.6 2102.2,848.6 2100.3,855.9 2099.7,860.3 2099.3,867.1 2095.1,873 2101.1,881.7 2099.2,887.6 2098,890.9 2095.5,895.5 2095.2,899.6 2095.4,908.5 2092.9,915.8 2098.6,921.9 2095.2,930.8 2094.9,938.7 2098.5,947.5 2092.6,954.6 2095.2,962 2099.5,967.2 2098,970.7 2099.2,974 2095.6,980.8 2100.8,987.3 2099.3,994.5 2098.4,1000.7 2102,1006.8 2102.2,1013 2102.2,1019.2 2103.9,1026.1 2100.9,1033 2104.2,1039.4 2104.3,1045.7 2104.1,1051.8 2107.3,1059.4 2104.6,1068.2 2106.6,1074.2 2103.5,1081.1 2106.5,1089.4 2104.9,1096.9 2106.4,1103 2107.6,1109.8 2104.6,1120 2109.5,1127 2104.8,1134.1 2110.2,1143.2 2104.4,1149.7 2110.2,1157.8 2107.7,1166.5 2107.6,1174.8 2104.6,1182.8 2108.4,1190.2 2107.3,1197.8 2105.2,1206 2111.3,1212.6 2111,1220.8 2111.4,1230 2105.3,1237 2110.4,1244.7 2112.8,1251.4 2106.8,1257.9 2116.3,1263.7 2112.9,1269.8 2110.5,1273.1 2116.7,1277.4 2121.7,1277.4 2126.4,1273 2125.5,1269.8 2124.3,1263.6 2126.5,1257.8 2124.6,1251.4 2127.5,1244.7 2129.7,1237.2 2127.6,1228.9 2129.5,1220.7 2126,1214.5 2129.8,1205.8 2128,1199.1 2129.5,1190.2 2131.4,1181.2 2127.6,1174.1 2130.4,1167.1 2129.2,1157.7 2132,1149.5 2129.4,1143.1 2131.6,1133.9 2129.7,1126.2 2134,1119.3 2130.2,1111.2 2131.5,1103 2132.7,1095 2132.2,1088.5 2133,1082.1 2129.4,1074.7 2134.9,1067.8 2133.5,1061 2132.7,1052 2133.6,1045.7 2135.8,1039.4 2133.5,1032.5 2132.8,1027.1 2139.4,1019.4 2135.7,1013 2134.4,1006.1 2141.6,999.5 2138.5,994.5 2139.9,988.6 2138.2,980.4 2138.6,974 2139.6,970.7 2137.3,965.8 2142.4,962 2143.3,954 2143.5,945.8 2140.8,938.5 2142.4,930.8 2143.2,923.6 2141.9,914.7 2139.5,906.9 2142.4,899.6 2141.6,894.1 2139.6,890.9 2138.6,887.6 2136.8,880.3 2142,872.9 2138.5,867.1 2134.7,861 2137.8,855.9 2135.7,848.6 2133.9,843.1 2135.5,835 2131.7,828.9 2135.3,822.5 2133.6,815.9 2132.3,808.8 2135.3,800.7 2132.3,792.6 2134.4,786.8 2130.3,778 2131.5,770.6 2131.8,762.9 2130.1,754.5 2132.7,746.3 2128.1,738.5 2133.2,730.5 2127.6,723.3 2132.7,716.1 2127.3,708.2 2130.3,700.4 2129.2,691.4 2129.5,683.4 2133.4,676.1 2129.8,667.5 2132.3,660.7 2125.7,652.8 2126.3,643.5 2126.8,636.2 2127.5,628.9 2125.5,623.5 2124.2,615.3 2130.4,609 2125.5,603.8 2119.5,599 2121.7,596.2"/><polygon points="2157.8,620.1 2158.5,624.2 2154,627.8 2151.6,633.8 2152.9,640.6 2150.7,646.5 2151.5,652.8 2153.6,661.1 2149.8,668.7 2151.5,675.8 2148,683.5 2151.6,692 2148.4,698.6 2149.5,707.3 2150.4,714.5 2146.8,722.4 2150.7,730.7 2148.7,739.5 2149.7,747.2 2145.6,754 2150.3,763 2148.2,769.6 2147.9,778.4 2144.8,787 2147.5,794.5 2148.5,802 2142.5,810.4 2149.6,818.2 2145.4,825.1 2141.1,831.9 2147.6,838.1 2143.5,845.7 2142.2,851.9 2143.3,857.8 2141.8,863.3 2140.6,871.2 2140.4,876.3 2136.8,883.2 2141.7,886.8 2140.3,893.7 2139.1,897 2135.6,902.2 2136.3,905.7 2135.2,911.6 2138,918.6 2134.7,925 2136.3,930.8 2132.6,937.8 2140.4,942.4 2133.2,950.6 2136.3,955.9 2138.7,961.1 2139.1,964.6 2140.3,967.9 2140.8,974.7 2141.4,978.8 2140.4,985.3 2141,991 2143.1,998.8 2143.3,1003.8 2143.1,1010.1 2146.3,1017.2 2143.5,1023.4 2145.3,1029 2145.4,1036.5 2145,1044.1 2148.6,1051.8 2146.2,1057.6 2148.1,1066.5 2145.3,1072.7 2147.5,1080.1 2149,1087.3 2147.4,1095.1 2149.2,1103.9 2145.4,1112 2151.3,1120.1 2146,1128.4 2151.4,1136.7 2145.8,1143.4 2151,1152.4 2149.4,1160.4 2149.5,1167.3 2149.8,1176.1 2146.2,1182.7 2149.5,1191.7 2146.9,1199.2 2152.9,1206.2 2151.9,1214.8 2151.5,1221.8 2150.5,1229.3 2150.3,1234.2 2157.1,1240.7 2154,1246.9 2152.1,1251.4 2157.8,1254.5 2162.8,1254.5 2166.5,1251.4 2166.6,1246.9 2166.1,1241.4 2167.1,1235 2166,1229.2 2168.6,1221.8 2171.4,1213.5 2166.6,1205.8 2169.2,1198.2 2169.4,1191.9 2174.4,1181.9 2169.7,1174.8 2170.6,1167.3 2169.7,1158.8 2170,1151 2175.8,1144.3 2172.4,1135.9 2172.6,1127 2167.2,1119 2169.8,1112.1 2169.8,1103.2 2175.1,1096.4 2173.6,1087.8 2172.5,1080.1 2173.5,1072.8 2169.4,1065.5 2171.4,1058 2169.7,1050 2174.4,1043.2 2172.5,1036.5 2172.7,1030.3 2175.6,1023.5 2171.8,1017.8 2173.3,1010.6 2172.5,1003.8 2170.1,996.8 2173.3,990.6 2172.5,985.3 2172.1,979 2175.5,972.6 2172.5,967.9 2172.5,964.6 2171.2,961.3 2172.5,955.9 2173.2,950.4 2170.3,943.4 2173.5,936.6 2172.5,930.8 2171.2,924.6 2174.4,918.3 2170.9,912.5 2172.5,905.7 2173.1,902.1 2172.5,897 2172.5,893.7 2171,888.1 2175.3,881.8 2172.5,876.3 2171.5,870.4 2173,865.1 2172.5,857.8 2171.2,851.5 2175.1,844.7 2172.2,837.8 2172.2,832.2 2172.5,825.1 2172,818.6 2175.1,810.4 2168.8,802.6 2172.5,794.5 2176,787.2 2169.3,779 2172.5,771.3 2173.4,763.7 2169.8,755.3 2172,746.8 2173.1,738.7 2168,730.4 2174.1,722.2 2167.2,715.3 2170.6,707.3 2168.8,699.1 2170.6,692.4 2170.3,684.5 2167.1,676.2 2172.7,668.6 2165.7,660.5 2168.6,652.8 2170.3,646.7 2165,639.4 2169.9,634.4 2166.6,627.8 2165.2,624.1 2162.8,620.1"/><polygon points="2166.5,870.8 2169.5,876.3 2177.5,878.2 2183,883.6 2187.3,892.3 2190.4,903.5 2192.4,916.7 2193,930.8 2192.4,944.9 2190.4,958 2187.3,969.3 2183,978 2177.5,983.4 2169.5,985.3 2166.5,990.8"/></g>
<polygon points="1312.6,839.2 1351.8,839.2 1365.8,839.2 1392.9,830.5 1406.9,830.5 1434,837.1 1448,837.1 1475.1,837.1 1489.1,837.1 1516.2,828.3 1530.2,828.3 1557.3,834.9 1571.3,834.9 1598.4,834.9 1612.4,834.9 1639.5,826.2 1653.5,826.2 1680.6,838.1 1694.6,838.1 1721.7,838.1 1735.7,838.1 1762.8,844.7 1776.8,844.7 1803.9,844.7 1817.9,844.7 1845,883.9 1859,883.9 1886.1,893.1 1900.1,893.1 1927.2,893.1 1941.2,893.1 1968.3,908.1 1982.3,908.1 2009.4,914.2 2023.4,914.2 2050.5,914.2 2064.5,914.2 2091.6,910.7 2105.6,910.7 2132.7,913.4 2146.7,913.4 2167.5,913.4 2167.5,948.2 2146.7,948.2 2132.7,948.2 2105.6,950.9 2091.6,950.9 2064.5,947.4 2050.5,947.4 2023.4,947.4 2009.4,947.4 1982.3,953.5 1968.3,953.5 1941.2,968.5 1927.2,968.5 1900.1,968.5 1886.1,968.5 1859,977.7 1845,977.7 1817.9,1016.9 1803.9,1016.9 1776.8,1016.9 1762.8,1016.9 1735.7,1023.4 1721.7,1023.4 1694.6,1023.4 1680.6,1023.4 1653.5,1035.4 1639.5,1035.4 1612.4,1026.7 1598.4,1026.7 1571.3,1026.7 1557.3,1026.7 1530.2,1033.3 1516.2,1033.3 1489.1,1024.5 1475.1,1024.5 1448,1024.5 1434,1024.5 1406.9,1031.1 1392.9,1031.1 1365.8,1022.4 1351.8,1022.4 1312.6,1022.4" fill="#bf00bf"/>
<polygon points="1338.3,270.5 1340.5,276.5 1346.9,276.7 1341.9,280.7 1343.6,286.8 1338.3,283.3 1333,286.8 1334.7,280.7 1329.7,276.7 1336.1,276.5" fill="#bf00bf" stroke="#bf00bf" stroke-width="1.5"/><polygon points="1338.3,1570.9 1340.5,1576.8 1346.9,1577.1 1341.9,1581.1 1343.6,1587.2 1338.3,1583.7 1333,1587.2 1334.7,1581.1 1329.7,1577.1 1336.1,1576.8" fill="#bf00bf" stroke="#bf00bf" stroke-width="1.5"/><polygon points="1379.4,272.7 1381.6,278.6 1388,278.9 1383,282.9 1384.7,289 1379.4,285.5 1374.1,289 1375.8,282.9 1370.8,278.9 1377.2,278.6" fill="#bf00bf" stroke="#bf00bf" stroke-width="1.5"/><polygon points="1379.4,1575.3 1381.6,1581.2 1388,1581.5 1383,1585.4 1384.7,1591.5 1379.4,1588 1374.1,1591.5 1375.8,1585.4 1370.8,1581.5 1377.2,1581.2" fill="#bf00bf" stroke="#bf00bf" stroke-width="1.5"/><polygon points="1420.5,289.1 1422.7,295 1429.1,295.3 1424.1,299.2 1425.8,305.3 1420.5,301.8 1415.2,305.3 1416.9,299.2 1411.9,295.3 1418.3,295" fill="#bf00bf" stroke="#bf00bf" stroke-width="1.5"/><polygon points="1420.5,1561.1 1422.7,1567 1429.1,1567.3 1424.1,1571.3 1425.8,1577.4 1420.5,1573.9 1415.2,1577.4 1416.9,1571.3 1411.9,1567.3 1418.3,1567" fill="#bf00bf" stroke="#bf00bf" stroke-width="1.5"/><polygon points="1461.6,254.2 1463.8,260.1 1470.2,260.4 1465.2,264.3 1466.9,270.5 1461.6,267 1456.3,270.5 1458,264.3 1453,260.4 1459.4,260.1" fill="#bf00bf" stroke="#bf00bf" stroke-width="1.5"/><polygon points="1461.6,1591.6 1463.8,1597.5 1470.2,1597.8 1465.2,1601.8 1466.9,1607.9 1461.6,1604.4 1456.3,1607.9 1458,1601.8 1453,1597.8 1459.4,1597.5" fill="#bf00bf" stroke="#bf00bf" stroke-width="1.5"/><polygon points="1461.6,278.7 1463.6,284 1469.2,284.2 1464.8,287.8 1466.3,293.2 1461.6,290.1 1456.9,293.2 1458.4,287.8 1454,284.2 1459.6,284" fill="#bf00bf" stroke="#bf00bf" stroke-width="1.5"/><polygon points="1461.6,1570.5 1463.6,1575.8 1469.2,1576.1 1464.8,1579.6 1466.3,1585 1461.6,1581.9 1456.9,1585 1458.4,1579.6 1454,1576.1 1459.6,1575.8" fill="#bf00bf" stroke="#bf00bf" stroke-width="1.5"/><polygon points="1461.6,297 1463.6,302.3 1469.2,302.6 1464.8,306.1 1466.3,311.5 1461.6,308.4 1456.9,311.5 1458.4,306.1 1454,302.6 1459.6,302.3" fill="#bf00bf" stroke="#bf00bf" stroke-width="1.5"/><polygon points="1461.6,1553.4 1463.6,1558.6 1469.2,1558.9 1464.8,1562.4 1466.3,1567.8 1461.6,1564.7 1456.9,1567.8 1458.4,1562.4 1454,1558.9 1459.6,1558.6" fill="#bf00bf" stroke="#bf00bf" stroke-width="1.5"/><polygon points="1502.7,225.8 1504.9,231.8 1511.3,232.1 1506.3,236 1508,242.1 1502.7,238.6 1497.4,242.1 1499.1,236 1494.1,232.1 1500.5,231.8" fill="#bf00bf" stroke="#bf00bf" stroke-width="1.5"/><polygon points="1502.7,1622.1 1504.9,1628.1 1511.3,1628.3 1506.3,1632.3 1508,1638.4 1502.7,1634.9 1497.4,1638.4 1499.1,1632.3 1494.1,1628.3 1500.5,1628.1" fill="#bf00bf" stroke="#bf00bf" stroke-width="1.5"/><polygon points="1502.7,263.1 1504.7,268.4 1510.3,268.7 1505.9,272.2 1507.4,277.6 1502.7,274.5 1498,277.6 1499.5,272.2 1495.1,268.7 1500.7,268.4" fill="#bf00bf" stroke="#bf00bf" stroke-width="1.5"/><polygon points="1502.7,1586.8 1504.7,1592.1 1510.3,1592.4 1505.9,1595.9 1507.4,1601.3 1502.7,1598.2 1498,1601.3 1499.5,1595.9 1495.1,1592.4 1500.7,1592.1" fill="#bf00bf" stroke="#bf00bf" stroke-width="1.5"/><polygon points="1502.7,291.4 1504.7,296.6 1510.3,296.9 1505.9,300.4 1507.4,305.8 1502.7,302.7 1498,305.8 1499.5,300.4 1495.1,296.9 1500.7,296.6" fill="#bf00bf" stroke="#bf00bf" stroke-width="1.5"/><polygon points="1502.7,1558.6 1504.7,1563.9 1510.3,1564.1 1505.9,1567.6 1507.4,1573.1 1502.7,1570 1498,1573.1 1499.5,1567.6 1495.1,1564.1 1500.7,1563.9" fill="#bf00bf" stroke="#bf00bf" stroke-width="1.5"/><polygon points="1543.8,249.8 1546,255.8 1552.4,256 1547.4,260 1549.1,266.1 1543.8,262.6 1538.5,266.1 1540.2,260 1535.2,256 1541.6,255.8" fill="#bf00bf" stroke="#bf00bf" stroke-width="1.5"/><polygon points="1543.8,1596 1546,1601.9 1552.4,1602.2 1547.4,1606.1 1549.1,1612.2 1543.8,1608.7 1538.5,1612.2 1540.2,1606.1 1535.2,1602.2 1541.6,1601.9" fill="#bf00bf" stroke="#bf00bf" stroke-width="1.5"/><polygon points="1543.8,1567.5 1545.8,1572.8 1551.4,1573.1 1547,1576.6 1548.5,1582 1543.8,1578.9 1539.1,1582 1540.6,1576.6 1536.2,1573.1 1541.8,1572.8" fill="#bf00bf" stroke="#bf00bf" stroke-width="1.5"/><polygon points="1543.8,1544.6 1545.8,1549.9 1551.4,1550.2 1547,1553.7 1548.5,1559.1 1543.8,1556 1539.1,1559.1 1540.6,1553.7 1536.2,1550.2 1541.8,1549.9" fill="#bf00bf" stroke="#bf00bf" stroke-width="1.5"/><polygon points="1584.9,276 1587.1,281.9 1593.5,282.2 1588.5,286.1 1590.2,292.3 1584.9,288.8 1579.6,292.3 1581.3,286.1 1576.3,282.2 1582.7,281.9" fill="#bf00bf" stroke="#bf00bf" stroke-width="1.5"/><polygon points="1584.9,1567.6 1587.1,1573.6 1593.5,1573.8 1588.5,1577.8 1590.2,1583.9 1584.9,1580.4 1579.6,1583.9 1581.3,1577.8 1576.3,1573.8 1582.7,1573.6" fill="#bf00bf" stroke="#bf00bf" stroke-width="1.5"/><polygon points="1584.9,298.1 1586.9,303.3 1592.5,303.6 1588.1,307.1 1589.6,312.5 1584.9,309.4 1580.2,312.5 1581.7,307.1 1577.3,303.6 1582.9,303.3" fill="#bf00bf" stroke="#bf00bf" stroke-width="1.5"/><polygon points="1584.9,1546.6 1586.9,1551.8 1592.5,1552.1 1588.1,1555.6 1589.6,1561 1584.9,1557.9 1580.2,1561 1581.7,1555.6 1577.3,1552.1 1582.9,1551.8" fill="#bf00bf" stroke="#bf00bf" stroke-width="1.5"/><polygon points="1584.9,314.5 1586.9,319.8 1592.5,320 1588.1,323.5 1589.6,328.9 1584.9,325.8 1580.2,328.9 1581.7,323.5 1577.3,320 1582.9,319.8" fill="#bf00bf" stroke="#bf00bf" stroke-width="1.5"/><polygon points="1584.9,1529.4 1586.9,1534.7 1592.5,1534.9 1588.1,1538.4 1589.6,1543.9 1584.9,1540.7 1580.2,1543.9 1581.7,1538.4 1577.3,1534.9 1582.9,1534.7" fill="#bf00bf" stroke="#bf00bf" stroke-width="1.5"/><polygon points="1626,220.4 1628.2,226.3 1634.6,226.6 1629.6,230.6 1631.3,236.7 1626,233.2 1620.7,236.7 1622.4,230.6 1617.4,226.6 1623.8,226.3" fill="#bf00bf" stroke="#bf00bf" stroke-width="1.5"/><polygon points="1626,1624.3 1628.2,1630.2 1634.6,1630.5 1629.6,1634.5 1631.3,1640.6 1626,1637.1 1620.7,1640.6 1622.4,1634.5 1617.4,1630.5 1623.8,1630.2" fill="#bf00bf" stroke="#bf00bf" stroke-width="1.5"/><polygon points="1626,274.8 1628,280.1 1633.6,280.4 1629.2,283.9 1630.7,289.3 1626,286.2 1621.3,289.3 1622.8,283.9 1618.4,280.4 1624,280.1" fill="#bf00bf" stroke="#bf00bf" stroke-width="1.5"/><polygon points="1626,1576.3 1628,1581.5 1633.6,1581.8 1629.2,1585.3 1630.7,1590.7 1626,1587.6 1621.3,1590.7 1622.8,1585.3 1618.4,1581.8 1624,1581.5" fill="#bf00bf" stroke="#bf00bf" stroke-width="1.5"/><polygon points="1626,316.4 1628,321.7 1633.6,322 1629.2,325.5 1630.7,330.9 1626,327.8 1621.3,330.9 1622.8,325.5 1618.4,322 1624,321.7" fill="#bf00bf" stroke="#bf00bf" stroke-width="1.5"/><polygon points="1626,1538.1 1628,1543.4 1633.6,1543.6 1629.2,1547.1 1630.7,1552.6 1626,1549.5 1621.3,1552.6 1622.8,1547.1 1618.4,1543.6 1624,1543.4" fill="#bf00bf" stroke="#bf00bf" stroke-width="1.5"/><polygon points="1667.1,280.3 1669.3,286.3 1675.7,286.6 1670.7,290.5 1672.4,296.6 1667.1,293.1 1661.8,296.6 1663.5,290.5 1658.5,286.6 1664.9,286.3" fill="#bf00bf" stroke="#bf00bf" stroke-width="1.5"/><polygon points="1667.1,1565.4 1669.3,1571.4 1675.7,1571.7 1670.7,1575.6 1672.4,1581.7 1667.1,1578.2 1661.8,1581.7 1663.5,1575.6 1658.5,1571.7 1664.9,1571.4" fill="#bf00bf" stroke="#bf00bf" stroke-width="1.5"/><polygon points="1667.1,303.9 1669.1,309.2 1674.7,309.4 1670.3,312.9 1671.8,318.4 1667.1,315.3 1662.4,318.4 1663.9,312.9 1659.5,309.4 1665.1,309.2" fill="#bf00bf" stroke="#bf00bf" stroke-width="1.5"/><polygon points="1667.1,1542.9 1669.1,1548.2 1674.7,1548.4 1670.3,1551.9 1671.8,1557.4 1667.1,1554.3 1662.4,1557.4 1663.9,1551.9 1659.5,1548.4 1665.1,1548.2" fill="#bf00bf" stroke="#bf00bf" stroke-width="1.5"/><polygon points="1667.1,321.4 1669.1,326.7 1674.7,327 1670.3,330.5 1671.8,335.9 1667.1,332.8 1662.4,335.9 1663.9,330.5 1659.5,327 1665.1,326.7" fill="#bf00bf" stroke="#bf00bf" stroke-width="1.5"/><polygon points="1667.1,1524.6 1669.1,1529.9 1674.7,1530.1 1670.3,1533.6 1671.8,1539.1 1667.1,1535.9 1662.4,1539.1 1663.9,1533.6 1659.5,1530.1 1665.1,1529.9" fill="#bf00bf" stroke="#bf00bf" stroke-width="1.5"/><polygon points="1708.2,237.8 1710.4,243.8 1716.8,244 1711.8,248 1713.5,254.1 1708.2,250.6 1702.9,254.1 1704.6,248 1699.6,244 1706,243.8" fill="#bf00bf" stroke="#bf00bf" stroke-width="1.5"/><polygon points="1708.2,1608 1710.4,1613.9 1716.8,1614.2 1711.8,1618.1 1713.5,1624.2 1708.2,1620.7 1702.9,1624.2 1704.6,1618.1 1699.6,1614.2 1706,1613.9" fill="#bf00bf" stroke="#bf00bf" stroke-width="1.5"/><polygon points="1708.2,275.1 1710.2,280.4 1715.8,280.6 1711.4,284.2 1712.9,289.6 1708.2,286.5 1703.5,289.6 1705,284.2 1700.6,280.6 1706.2,280.4" fill="#bf00bf" stroke="#bf00bf" stroke-width="1.5"/><polygon points="1708.2,1568.7 1710.2,1574 1715.8,1574.3 1711.4,1577.8 1712.9,1583.2 1708.2,1580.1 1703.5,1583.2 1705,1577.8 1700.6,1574.3 1706.2,1574" fill="#bf00bf" stroke="#bf00bf" stroke-width="1.5"/><polygon points="1708.2,303.4 1710.2,308.6 1715.8,308.9 1711.4,312.4 1712.9,317.8 1708.2,314.7 1703.5,317.8 1705,312.4 1700.6,308.9 1706.2,308.6" fill="#bf00bf" stroke="#bf00bf" stroke-width="1.5"/><polygon points="1708.2,1537.5 1710.2,1542.7 1715.8,1543 1711.4,1546.5 1712.9,1551.9 1708.2,1548.8 1703.5,1551.9 1705,1546.5 1700.6,1543 1706.2,1542.7" fill="#bf00bf" stroke="#bf00bf" stroke-width="1.5"/><polygon points="1749.3,199.7 1751.5,205.6 1757.9,205.9 1752.9,209.8 1754.6,216 1749.3,212.5 1744,216 1745.7,209.8 1740.7,205.9 1747.1,205.6" fill="#bf00bf" stroke="#bf00bf" stroke-width="1.5"/><polygon points="1749.3,1646.1 1751.5,1652 1757.9,1652.3 1752.9,1656.3 1754.6,1662.4 1749.3,1658.9 1744,1662.4 1745.7,1656.3 1740.7,1652.3 1747.1,1652" fill="#bf00bf" stroke="#bf00bf" stroke-width="1.5"/><polygon points="1749.3,263.5 1751.3,268.7 1756.9,269 1752.5,272.5 1754,277.9 1749.3,274.8 1744.6,277.9 1746.1,272.5 1741.7,269 1747.3,268.7" fill="#bf00bf" stroke="#bf00bf" stroke-width="1.5"/><polygon points="1749.3,1581.4 1751.3,1586.7 1756.9,1586.9 1752.5,1590.4 1754,1595.9 1749.3,1592.7 1744.6,1595.9 1746.1,1590.4 1741.7,1586.9 1747.3,1586.7" fill="#bf00bf" stroke="#bf00bf" stroke-width="1.5"/><polygon points="1749.3,312.3 1751.3,317.6 1756.9,317.8 1752.5,321.3 1754,326.8 1749.3,323.7 1744.6,326.8 1746.1,321.3 1741.7,317.8 1747.3,317.6" fill="#bf00bf" stroke="#bf00bf" stroke-width="1.5"/><polygon points="1749.3,1530.3 1751.3,1535.5 1756.9,1535.8 1752.5,1539.3 1754,1544.7 1749.3,1541.6 1744.6,1544.7 1746.1,1539.3 1741.7,1535.8 1747.3,1535.5" fill="#bf00bf" stroke="#bf00bf" stroke-width="1.5"/><path d="M1749.3 245.5L1759.3 265.5H1739.3Z" fill="#00bfbf" stroke="#00bfbf" stroke-width="2" stroke-linejoin="miter"/><path d="M1543.8 285.9L1553.8 305.9H1533.8Z" fill="#00bfbf" stroke="#00bfbf" stroke-width="2" stroke-linejoin="miter"/>
</g>
<rect x="1276.0" y="122.0" width="952.5" height="1634.0" fill="none" stroke="#5c5c5c" stroke-width="5.0" opacity="0.8"/>
<g stroke="#5c5c5c" stroke-width="4.2" opacity="0.85"><line x1="1318.6" y1="1756.0" x2="1318.6" y2="1767.5"/><line x1="1505.6" y1="1756.0" x2="1505.6" y2="1767.5"/><line x1="1692.6" y1="1756.0" x2="1692.6" y2="1767.5"/><line x1="1879.6" y1="1756.0" x2="1879.6" y2="1767.5"/><line x1="2066.6" y1="1756.0" x2="2066.6" y2="1767.5"/><line x1="1264.5" y1="1584.8" x2="1276.0" y2="1584.8"/><line x1="1264.5" y1="1366.8" x2="1276.0" y2="1366.8"/><line x1="1264.5" y1="1148.8" x2="1276.0" y2="1148.8"/><line x1="1264.5" y1="930.8" x2="1276.0" y2="930.8"/><line x1="1264.5" y1="712.8" x2="1276.0" y2="712.8"/><line x1="1264.5" y1="494.8" x2="1276.0" y2="494.8"/><line x1="1264.5" y1="276.8" x2="1276.0" y2="276.8"/></g>
<g font-family='"DejaVu Sans","Liberation Sans",sans-serif' font-size="29.9" fill="#262626" stroke="#262626" stroke-width="0.55"><text x="1318.6" y="1800.5" text-anchor="middle">0</text><text x="1505.6" y="1800.5" text-anchor="middle">1000</text><text x="1692.6" y="1800.5" text-anchor="middle">2000</text><text x="1879.6" y="1800.5" text-anchor="middle">3000</text><text x="2066.6" y="1800.5" text-anchor="middle">4000</text><text x="1254.0" y="1595.6" text-anchor="end">−6</text><text x="1254.0" y="1377.6" text-anchor="end">−4</text><text x="1254.0" y="1159.6" text-anchor="end">−2</text><text x="1254.0" y="941.6" text-anchor="end">0</text><text x="1254.0" y="723.6" text-anchor="end">2</text><text x="1254.0" y="505.6" text-anchor="end">4</text><text x="1254.0" y="287.6" text-anchor="end">6</text><text x="1277.0" y="112.5">1e8</text><text x="1752.2" y="1842.0" text-anchor="middle">Database sampling</text></g>
<text x="1585.2" y="104" font-family='"DejaVu Sans","Liberation Sans",sans-serif' font-size="35.4" fill="#262626" stroke="#262626" stroke-width="0.55">Prediction</text>
<g transform="translate(1783,82.5)" font-family='"Liberation Serif","DejaVu Serif",serif' font-style="italic" fill="#45404a"><text x="0" y="0" font-size="52" textLength="33" lengthAdjust="spacingAndGlyphs">σ</text><text x="31" y="11" font-size="38" textLength="78" lengthAdjust="spacingAndGlyphs">xy,e</text><text x="110" y="22.5" font-size="29" textLength="40" lengthAdjust="spacingAndGlyphs">yy</text></g>
<g transform="translate(1185.7,1020.5) rotate(-90) scale(1.03)" font-family='"Liberation Serif","DejaVu Serif",serif' font-style="italic" fill="#45404a"><text x="0" y="0" font-size="52" textLength="33" lengthAdjust="spacingAndGlyphs">σ</text><text x="31" y="11" font-size="38" textLength="78" lengthAdjust="spacingAndGlyphs">xy,e</text><text x="110" y="22.5" font-size="29" textLength="40" lengthAdjust="spacingAndGlyphs">yy</text></g>
<rect x="1856" y="138" width="356" height="143" rx="6" ry="6" fill="#fff" fill-opacity="0.8" stroke="#cccccc" stroke-opacity="0.8" stroke-width="3"/>
<line x1="1865" y1="162.5" x2="1929" y2="162.5" stroke="#ff0000" stroke-width="5.2" opacity="0.9"/>
<path d="M1897 153.5V171.5M1888 162.5H1906" stroke="#ff0000" stroke-width="3" fill="none"/>
<text x="1953" y="173" font-family='"DejaVu Sans","Liberation Sans",sans-serif' font-size="29.9" fill="#262626" stroke="#262626" stroke-width="0.55">NN_prediction</text>
<line x1="1865" y1="207.8" x2="1929" y2="207.8" stroke="#00bfbf" stroke-width="5.2" opacity="0.9"/>
<path d="M1897 198.3L1906.5 216.8H1887.5Z" fill="#00bfbf" stroke="#00bfbf" stroke-width="2"/>
<text x="1953" y="218.3" font-family='"DejaVu Sans","Liberation Sans",sans-serif' font-size="29.9" fill="#262626" stroke="#262626" stroke-width="0.55">NN_prediction_S</text>
<line x1="1865" y1="253.2" x2="1929" y2="253.2" stroke="#bf00bf" stroke-width="5.2" opacity="0.9"/>
<polygon points="1897,243.7 1899.3,250 1906,250.3 1900.8,254.4 1902.6,260.9 1897,257.2 1891.4,260.9 1893.2,254.4 1888,250.3 1894.7,250" fill="#bf00bf" stroke="#bf00bf" stroke-width="1.5"/>
<text x="1953" y="263.7" font-family='"DejaVu Sans","Liberation Sans",sans-serif' font-size="29.9" fill="#262626" stroke="#262626" stroke-width="0.55">Data value</text>
<clipPath id="cp2"><rect x="2418.5" y="122.0" width="952.5" height="1634.0"/></clipPath>
<g clip-path="url(#cp2)">
<path d="M2492.6 1583.2Q2494.1 1593.2 2499.6 1593.7H2508.6L2512.6 1587.2" fill="none" stroke="#00bfbf" stroke-width="6" stroke-linecap="round"/><path d="M2533.9 1585.3Q2535.4 1595.3 2540.9 1595.8H2549.9L2553.9 1589.3" fill="none" stroke="#00bfbf" stroke-width="6" stroke-linecap="round"/><path d="M2575.1 1586.3Q2576.6 1596.3 2582.1 1596.8H2591.1L2595.1 1590.3" fill="none" stroke="#00bfbf" stroke-width="6" stroke-linecap="round"/><path d="M2616.4 1587.3Q2617.9 1597.3 2623.4 1597.8H2632.4L2636.4 1591.3" fill="none" stroke="#00bfbf" stroke-width="6" stroke-linecap="round"/><path d="M2657.6 1590.3Q2659.1 1600.3 2664.6 1600.8H2673.6L2677.6 1594.3" fill="none" stroke="#00bfbf" stroke-width="6" stroke-linecap="round"/><path d="M2698.9 1593.3Q2700.4 1603.3 2705.9 1603.8H2714.9L2718.9 1597.3" fill="none" stroke="#00bfbf" stroke-width="6" stroke-linecap="round"/><path d="M2740.2 1597.3Q2741.7 1607.3 2747.2 1607.8H2756.2L2760.2 1601.3" fill="none" stroke="#00bfbf" stroke-width="6" stroke-linecap="round"/><path d="M2781.4 1603.3Q2782.9 1613.3 2788.4 1613.8H2797.4L2801.4 1607.3" fill="none" stroke="#00bfbf" stroke-width="6" stroke-linecap="round"/><path d="M2822.7 1609.4Q2824.2 1619.4 2829.7 1619.9H2838.7L2842.7 1613.4" fill="none" stroke="#00bfbf" stroke-width="6" stroke-linecap="round"/><path d="M2863.9 1619.4Q2865.4 1629.4 2870.9 1629.9H2879.9L2883.9 1623.4" fill="none" stroke="#00bfbf" stroke-width="6" stroke-linecap="round"/><path d="M2905.2 1641.5Q2906.7 1651.5 2912.2 1652.0H2921.2L2925.2 1645.5" fill="none" stroke="#00bfbf" stroke-width="6" stroke-linecap="round"/><path d="M2946.5 1651.6Q2948.0 1661.6 2953.5 1662.1H2962.5L2966.5 1655.6" fill="none" stroke="#00bfbf" stroke-width="6" stroke-linecap="round"/><path d="M2987.7 1653.6Q2989.2 1663.6 2994.7 1664.1H3003.7L3007.7 1657.6" fill="none" stroke="#00bfbf" stroke-width="6" stroke-linecap="round"/><path d="M3022.7 1657.6Q3024.2 1667.6 3029.7 1668.1H3038.7L3042.7 1661.6" fill="none" stroke="#00bfbf" stroke-width="6" stroke-linecap="round"/><path d="M3063.9 1663.6Q3065.4 1673.6 3070.9 1674.1H3079.9L3083.9 1667.6" fill="none" stroke="#00bfbf" stroke-width="6" stroke-linecap="round"/><path d="M3105.2 1667.7Q3106.7 1677.7 3112.2 1678.2H3121.2L3125.2 1671.7" fill="none" stroke="#00bfbf" stroke-width="6" stroke-linecap="round"/><path d="M3146.5 1671.7Q3148.0 1681.7 3153.5 1682.2H3162.5L3166.5 1675.7" fill="none" stroke="#00bfbf" stroke-width="6" stroke-linecap="round"/><path d="M3187.7 1674.7Q3189.2 1684.7 3194.7 1685.2H3203.7L3207.7 1678.7" fill="none" stroke="#00bfbf" stroke-width="6" stroke-linecap="round"/><path d="M3229.0 1676.7Q3230.5 1686.7 3236.0 1687.2H3245.0L3249.0 1680.7" fill="none" stroke="#00bfbf" stroke-width="6" stroke-linecap="round"/><path d="M3270.2 1677.7Q3271.7 1687.7 3277.2 1688.2H3286.2L3290.2 1681.7" fill="none" stroke="#00bfbf" stroke-width="6" stroke-linecap="round"/><path d="M3311.5 1679.7Q3313.0 1689.7 3318.5 1690.2H3327.5L3331.5 1683.7" fill="none" stroke="#00bfbf" stroke-width="6" stroke-linecap="round"/><line x1="2471.8" y1="455.1" x2="2471.8" y2="394.8" stroke="#00bfbf" stroke-width="5.2"/><path d="M2471.8 384.8L2481.8 404.8H2461.8Z" fill="#00bfbf" stroke="#00bfbf" stroke-width="2" stroke-linejoin="miter"/><line x1="2513.6" y1="450.1" x2="2513.6" y2="373.7" stroke="#ff0000" stroke-width="5.2"/><path d="M2513.6 364.2V383.2M2504.1 373.7H2523.1" stroke="#ff0000" stroke-width="3" fill="none"/><line x1="2555.3" y1="448.1" x2="2555.3" y2="358.6" stroke="#ff0000" stroke-width="5.2"/><path d="M2555.3 349.1V368.1M2545.8 358.6H2564.8" stroke="#ff0000" stroke-width="3" fill="none"/><line x1="2597.1" y1="445.1" x2="2597.1" y2="368.7" stroke="#ff0000" stroke-width="5.2"/><path d="M2597.1 359.2V378.2M2587.6 368.7H2606.6" stroke="#ff0000" stroke-width="3" fill="none"/><line x1="2638.8" y1="438" x2="2638.8" y2="338.5" stroke="#ff0000" stroke-width="5.2"/><path d="M2638.8 329V348M2629.3 338.5H2648.3" stroke="#ff0000" stroke-width="3" fill="none"/><line x1="2681.6" y1="438" x2="2681.6" y2="296.3" stroke="#ff0000" stroke-width="5.2"/><path d="M2681.6 286.8V305.8M2672.1 296.3H2691.1" stroke="#ff0000" stroke-width="3" fill="none"/><line x1="2723.9" y1="421.9" x2="2723.9" y2="280.2" stroke="#ff0000" stroke-width="5.2"/><path d="M2723.9 270.7V289.7M2714.4 280.2H2733.4" stroke="#ff0000" stroke-width="3" fill="none"/><line x1="2765.6" y1="414.9" x2="2765.6" y2="288.3" stroke="#ff0000" stroke-width="5.2"/><path d="M2765.6 278.8V297.8M2756.1 288.3H2775.1" stroke="#ff0000" stroke-width="3" fill="none"/><line x1="2807.9" y1="409.9" x2="2807.9" y2="201.8" stroke="#ff0000" stroke-width="5.2"/><path d="M2807.9 192.3V211.3M2798.4 201.8H2817.4" stroke="#ff0000" stroke-width="3" fill="none"/><line x1="2850.1" y1="397.8" x2="2850.1" y2="254.1" stroke="#00bfbf" stroke-width="5.2"/><path d="M2850.1 244.1L2860.1 264.1H2840.1Z" fill="#00bfbf" stroke="#00bfbf" stroke-width="2" stroke-linejoin="miter"/><line x1="2929.8" y1="803.8" x2="2929.8" y2="734.5" stroke="#ff0000" stroke-width="5.2"/><path d="M2929.8 725V744M2920.3 734.5H2939.3" stroke="#ff0000" stroke-width="3" fill="none"/><line x1="2962.1" y1="965.6" x2="2962.1" y2="908.4" stroke="#ff0000" stroke-width="5.2"/><path d="M2962.1 898.9V917.9M2952.6 908.4H2971.6" stroke="#ff0000" stroke-width="3" fill="none"/><path d="M2594.1 370.7V388.7M2585.1 379.7H2603.1" stroke="#ff0000" stroke-width="3" fill="none"/><path d="M2597.1 373.7L2606.1 391.7H2588.1Z" fill="#00bfbf" stroke="#00bfbf" stroke-width="2" stroke-linejoin="miter"/><path d="M2929.8 732.5L2938.8 750.5H2920.8Z" fill="#00bfbf" stroke="#00bfbf" stroke-width="2" stroke-linejoin="miter"/><path d="M2513.6 394.8L2522.6 412.8H2504.6Z" fill="#00bfbf" stroke="#00bfbf" stroke-width="2" stroke-linejoin="miter"/><path d="M2555.3 392.8L2564.3 410.8H2546.3Z" fill="#00bfbf" stroke="#00bfbf" stroke-width="2" stroke-linejoin="miter"/><path d="M2638.8 382.8L2647.8 400.8H2629.8Z" fill="#00bfbf" stroke="#00bfbf" stroke-width="2" stroke-linejoin="miter"/><path d="M2723.9 366.7L2732.9 384.7H2714.9Z" fill="#00bfbf" stroke="#00bfbf" stroke-width="2" stroke-linejoin="miter"/><path d="M2765.6 359.7L2774.6 377.7H2756.6Z" fill="#00bfbf" stroke="#00bfbf" stroke-width="2" stroke-linejoin="miter"/><path d="M2850.1 342.6L2859.1 360.6H2841.1Z" fill="#00bfbf" stroke="#00bfbf" stroke-width="2" stroke-linejoin="miter"/><path d="M2891.8 336.6L2900.8 354.6H2882.8Z" fill="#00bfbf" stroke="#00bfbf" stroke-width="2" stroke-linejoin="miter"/>
<g fill="#bf00bf" stroke="url(#spk)" stroke-width="6.8" stroke-linejoin="round" paint-order="stroke"><polygon points="2469.6,413.9 2471.7,420.7 2466.2,425.3 2464.8,432 2464.3,435 2462.6,443.6 2461.6,450.4 2464.7,458.6 2460.8,465.2 2460,471.1 2459.6,475.2 2459.5,481.3 2456.9,489.6 2459.7,494.5 2458.1,503 2460.5,509.4 2458.6,515.4 2456.9,524.1 2459.5,531.2 2457.4,540.5 2459.8,547.5 2457.6,554.8 2459.3,563.9 2456.7,570.4 2459.9,580.1 2457.7,587.7 2459.6,595.8 2457,602.7 2458.7,610.5 2458.1,620.2 2460.4,627.6 2456.5,635.4 2458.4,642.8 2458.6,651.9 2460,659.9 2455.5,667.5 2460.2,675.8 2458.9,682.2 2457.7,690.7 2458.6,698.1 2460.9,707.4 2455.9,715.4 2462.5,722.5 2455.8,730.1 2461,740 2456.8,747.3 2460,756.2 2456.5,763.1 2460.8,771.3 2455.8,778.7 2461.9,787.5 2455.3,795.9 2460,803.9 2459.1,810 2458.2,819.3 2456.2,826.6 2461.3,836.2 2458.6,843.2 2459.6,850 2456.5,858.8 2458.1,866.8 2456.2,876 2458.9,884 2456.7,890.1 2459.4,900.2 2456.9,908 2458.9,916.2 2457.3,922.1 2458.9,930.2 2457.2,939.5 2460,947.6 2457.9,956.2 2460.1,962.6 2458,970.2 2460.6,979.7 2458.6,986.5 2460.6,993.9 2458.4,1002.2 2459.8,1012.1 2456.1,1017.8 2459.7,1027.4 2458.3,1035.9 2458.9,1042.4 2458.3,1051.5 2460.4,1060 2456.2,1065.9 2458.3,1074.1 2456.5,1083.7 2458.7,1090.8 2455.4,1098.2 2457.8,1105.8 2459.4,1115.8 2461,1122 2455.3,1132 2462,1138.2 2455,1145.7 2462,1154.6 2455.4,1162.3 2462.4,1171.7 2455.3,1177.7 2461.4,1185.9 2457.3,1196 2458.4,1203.2 2458.9,1211.9 2458.2,1218 2458.7,1225.9 2459.3,1233.9 2457.1,1243.5 2460.3,1251 2456.1,1259.7 2460.8,1267.2 2456.8,1274.5 2460.8,1283.6 2457,1290.4 2460.2,1297.6 2457.7,1306.1 2459.4,1315.1 2457.9,1322.6 2458.9,1331.1 2457.9,1338.8 2459.7,1345.8 2457.1,1353.9 2460.3,1362.7 2458.6,1370.7 2457.3,1378.5 2460.3,1387.1 2459,1395.1 2462.5,1402.8 2459.9,1409.4 2461.3,1417.5 2461.6,1425.9 2461.3,1434.1 2466.5,1442.6 2465.7,1450.3 2469.6,1456.4 2467.6,1465.1 2471.4,1470.4 2477.6,1475.9 2480.6,1481.2 2480.1,1486.9 2482.6,1492.7 2481.6,1499.5 2484.6,1506.3 2485.8,1512.9 2485,1519.6 2489,1525.7 2488.8,1532.8 2488.6,1539.8 2493,1546 2489.9,1554.2 2491.7,1561.4 2488,1569.4 2492.1,1576 2494.5,1582.6 2495.6,1590 2509.1,1590 2513.2,1584 2512.1,1578 2509.6,1571.4 2510,1563.1 2508.6,1557.3 2509.6,1550.5 2511.1,1543.2 2508.3,1536.9 2508,1530 2504.8,1521.8 2506.4,1514.8 2505.1,1508.1 2505.1,1500.3 2506.2,1492.1 2502.2,1485.7 2501.7,1475.7 2498.6,1469.2 2500,1460.2 2498.2,1452.3 2497.1,1445 2497.8,1436.8 2494.3,1430.4 2495.5,1423.4 2493.1,1416.8 2493.1,1409.8 2494.3,1402 2491.5,1394.1 2493.2,1386.4 2490.9,1377.9 2492.5,1369.6 2490.8,1363 2492.3,1355.6 2489.2,1348.4 2490.1,1339.5 2491.1,1332.5 2489,1324.7 2490.3,1317.1 2487.3,1310.4 2489.5,1303.5 2488.2,1294.8 2489.5,1288.5 2486.1,1280.4 2488.1,1273.7 2487,1265.6 2487.1,1259.1 2486.5,1252.2 2486.8,1243.5 2487.1,1236.5 2483.3,1228 2487.9,1221 2483.3,1211.9 2486.3,1204 2483.6,1195.7 2484.1,1188.8 2486,1180 2481.3,1172.1 2485.1,1164.4 2481.4,1157.2 2483.2,1149.3 2481.8,1142.3 2481,1132.8 2481.2,1126.2 2481.1,1118.4 2481.1,1110.8 2479.9,1102 2483,1094.7 2479.6,1088.3 2481.2,1079 2478.6,1071.2 2480.9,1063.9 2478.7,1055.5 2480.6,1049.8 2478.8,1040.8 2480.3,1032.7 2478.6,1025.6 2479.6,1017.9 2480.4,1009.1 2478.4,1000.9 2481.2,993.9 2478.7,986.6 2480.3,978.8 2477.9,971.3 2480.6,962 2478.7,954.4 2481.2,945.5 2478.8,938.1 2480.6,931.3 2478.7,922.3 2480.7,914.6 2478.9,906.5 2481.6,899.3 2478.6,890.7 2479.5,883.8 2479.5,874.8 2479.2,866.9 2478.9,860.5 2481.4,852.1 2478.8,844.2 2480.1,835.5 2478,827.1 2481.4,818.9 2480,811.7 2479.6,804.3 2478.6,794.9 2481.2,787.4 2477.8,780.4 2481.2,772.6 2478.5,764.2 2479.3,755.3 2479.6,748.1 2479.9,739.4 2477.7,732.1 2481.7,725.7 2478.5,716.2 2479.2,707.9 2478.8,701 2481.1,692.3 2477.6,685 2480.6,677.9 2479,668.9 2480.3,661 2478.7,652.7 2480.6,645.6 2478,637.1 2480.4,630.2 2478.1,620.4 2480.9,614.3 2478.1,605.2 2480.6,598.8 2478,589.9 2481,581.5 2478.5,574.5 2480.3,565.5 2478.4,558.7 2479.5,550.5 2478.7,541.5 2481,535.3 2478.3,525.5 2479.8,517.6 2479,511.4 2481,502.7 2478.5,494.2 2478.9,486.3 2477.6,478.1 2480.9,471.2 2479.9,463.4 2479.3,455.1 2481,446.7 2478.5,440.4 2479.8,433.6 2479.3,425 2478.8,432 2475.5,424.9 2475.7,419.2 2474,413.9"/><polygon points="2511.4,408.9 2509.9,415.8 2506.2,420.9 2506.6,427 2508.8,431.5 2506.1,435 2503.6,442.4 2503.7,450.5 2502.8,457 2502.6,465.2 2501.9,471.9 2501.4,480.4 2504.6,487.7 2498.5,496.7 2503.5,503.1 2501.1,511.1 2500.9,520.3 2502.7,527.5 2500.9,535.5 2503.8,541.6 2497.9,549.7 2502.1,556.2 2499.5,563 2500.5,570.1 2499.9,575.7 2499.4,584.5 2499.3,591.7 2500.7,598.4 2500,608.2 2497.5,616.1 2502.1,624.4 2499.7,631.4 2499.7,640.3 2498.1,648.2 2502.2,655.8 2499.1,663.5 2500.2,670.6 2498.8,680.1 2502.1,687 2497.9,695.6 2501,703.7 2498.9,711.6 2500.3,719.9 2499.2,725.9 2500.8,734.1 2499,742.2 2500.2,750.1 2499.2,758.8 2501,766.2 2498.2,773.7 2501.7,783.1 2499.4,790.4 2501.6,797.5 2499.1,806.8 2500.3,815 2498.8,821.9 2501,830.3 2500.1,837.8 2503.1,845.7 2500.7,853.4 2501,861.9 2497.2,871 2498.8,877.9 2499.9,886.2 2503.6,893.6 2498.5,902.8 2498.9,909.9 2498.5,918.8 2503.8,924.3 2498.7,932.8 2498.9,940.5 2498.1,949 2503.6,957.7 2499.6,964.3 2499,974.4 2496.7,980.6 2501.9,988 2500.7,996 2501.6,1005.2 2497.4,1013.9 2499.5,1020.4 2498.4,1028.3 2502.4,1035.7 2500.1,1045 2501.4,1052.6 2498.3,1059.7 2500.4,1067.6 2498,1075.6 2500.8,1084.3 2498.7,1092.8 2501.4,1100.7 2499.1,1109.1 2501.8,1116.9 2499.4,1124.6 2501.7,1131 2499,1140.7 2502.1,1147.6 2499.3,1157 2502.2,1162.9 2499.8,1171 2502.2,1179.9 2499.6,1187.2 2502.2,1195.7 2499.9,1203.6 2501.2,1212.1 2497.7,1218.6 2499.1,1227.7 2497,1236.2 2500,1243 2498.4,1250.4 2503,1259.9 2500.6,1267.5 2501.2,1275.3 2496.5,1283.8 2498.6,1290.8 2499.9,1298.8 2503.5,1308.3 2498.1,1315.4 2498.8,1323.4 2499.3,1330.6 2503.3,1340.1 2496.8,1346.1 2500.6,1355.7 2501.1,1363 2499,1370.5 2499.9,1378.7 2500.1,1385.5 2500.6,1394.8 2501.5,1402.9 2501.3,1410.1 2501.9,1417.9 2502.6,1426.4 2502.9,1434 2502.6,1441.4 2506.4,1449.8 2505.9,1457.5 2508.1,1465.3 2508.9,1473.2 2512.1,1477.6 2518.3,1483.7 2521.9,1489.2 2521.7,1495 2524.5,1502.8 2523.6,1507.7 2525.9,1514.4 2528.4,1522.1 2526.5,1527.6 2529.5,1534.2 2529.9,1541.8 2529.4,1548.7 2533.2,1556 2531.5,1562.8 2534.7,1570.9 2533.4,1578 2533.4,1584.9 2536.9,1592.1 2550.4,1592.1 2553.8,1586.1 2553.4,1580 2551.6,1572.2 2553.7,1566.9 2550.2,1560.4 2550.9,1552.6 2550.2,1545.8 2549.1,1537.7 2548.8,1531.4 2547.8,1523.5 2547.9,1514.6 2546.4,1508.3 2544.3,1499.8 2545.3,1494.2 2542.5,1486.5 2542.9,1479.3 2540.5,1472 2541.2,1464.8 2537.9,1457 2538.4,1449.8 2538.6,1441.7 2536.4,1434.6 2536.4,1427.6 2533.5,1419.9 2534.4,1412.3 2535.5,1405 2533.6,1398.1 2535.1,1391.1 2531.9,1382.6 2533.4,1376.7 2530.9,1367.9 2532.5,1361.7 2530.4,1353.6 2531.9,1345.6 2531.4,1339.5 2529.7,1332 2532.3,1324.3 2530.3,1318.4 2532.3,1310.7 2530.1,1303.8 2531.6,1296.5 2529.6,1289.1 2531.3,1281.5 2529.1,1273 2531.3,1265.5 2528.4,1259.1 2529,1250.4 2530.5,1244.6 2528.2,1234.9 2529.2,1227.2 2527,1219 2528.1,1212.5 2525.7,1203.6 2527.2,1197.1 2525.4,1188.8 2524.1,1181.8 2525.8,1172.4 2522.9,1164.4 2524.6,1157.2 2522,1148.9 2523.5,1141.5 2521.3,1134.7 2522.9,1126.8 2522.4,1118.4 2521.6,1111.5 2523,1102.2 2521.2,1094.4 2523,1087.1 2521,1080.1 2522.5,1071.3 2520.2,1065.4 2522.3,1057.6 2520.1,1048.5 2521.7,1040.4 2520.1,1033.9 2522.1,1026.6 2520.9,1017.9 2519.4,1010.8 2521.2,1000.9 2519.5,993.1 2521.8,986.1 2521.3,977.5 2521.8,970.7 2518.9,963.2 2521,955.2 2521.2,945.7 2522.8,938.1 2518.4,931 2521.1,923.8 2521.1,914.5 2521.5,906.3 2519,900 2523.4,890.6 2518.9,884.3 2521.2,874.8 2521.5,868.2 2520.2,860.5 2521.1,852 2520.7,844 2521.3,834.9 2521.4,827.7 2521.3,819.9 2520.7,812.2 2520.7,804.8 2520.9,797.1 2519.7,786.9 2522.7,779.4 2519.4,771.2 2521.8,765.1 2520.5,755.7 2522.7,748.6 2519.7,740.4 2521.3,732.1 2519.7,724.4 2521.2,716.6 2519.4,707.8 2522,700.7 2520,693.1 2522.5,684.1 2519.9,676.5 2521.5,668.4 2520,661.5 2522.8,652.2 2519.4,645.4 2522,636.3 2519.7,629.3 2522.2,620.8 2519.2,612.5 2523.1,604.6 2519.3,598.8 2520.9,590.4 2521.3,581.8 2522.2,572.9 2518.4,565.4 2522.8,557.2 2521.3,549.1 2521.1,542.9 2520.8,534.9 2522.3,527.3 2519.5,519.4 2521.5,510.1 2521.8,502.5 2521.6,494.3 2519.3,486.4 2521.6,480.1 2521,470 2523,463.2 2521.1,455.1 2519.8,447.4 2523,438.9 2521.3,431.6 2521.1,425 2520.6,427 2519.3,420.9 2516.2,413.9 2515.8,408.9"/><polygon points="2553.1,406.9 2553.4,412.8 2548.4,418.8 2548.3,424.9 2549.6,431 2547.8,435 2545.1,442.2 2547.5,450.7 2544.1,456.6 2544.3,465.2 2545.1,473.9 2544.2,482.2 2545.2,490.1 2541.4,496.9 2544.7,505.9 2543.8,512.2 2545,521 2541,529.6 2542.9,537 2541.4,545.3 2545.6,552.6 2543.9,560.2 2544.7,567.7 2540.6,577.2 2541.8,583.2 2538.9,591 2541.9,601.1 2541.4,607 2542.1,615.9 2546,623.6 2542.9,629.4 2544,636.2 2540.4,643.7 2541.2,650.3 2541.1,656.1 2537.4,664.3 2540.5,670.8 2539.3,681.1 2542.5,688.5 2541.9,696.5 2544.3,702.9 2541.2,711.9 2542.9,720.2 2539.8,728.6 2540.8,736.1 2538.5,744.3 2541.9,751.2 2539.5,759.3 2542.7,768.1 2541,774.8 2542.5,784.4 2539.8,792.5 2541.7,799.1 2539.7,806.6 2541.8,814.2 2540.4,824.5 2542.5,831.3 2540.1,839.9 2542.4,846.7 2539.7,854.7 2542.1,864 2540.1,871.9 2542.8,878.6 2540.6,888.1 2541.5,893.9 2539.5,904 2543.1,910.2 2541.1,918.4 2541.2,927 2538.3,933.9 2543.4,943.3 2541.3,951.1 2540.4,959.1 2540.3,966.4 2544.7,973.7 2537.9,982 2542.5,990.2 2541.5,997.6 2540.3,1006.1 2542.9,1015.3 2540.2,1022.8 2541.2,1029.9 2541.5,1037.8 2540.3,1047.4 2541.6,1055.4 2541.5,1063 2540,1071 2541.8,1077.8 2541,1084.9 2539.2,1094.4 2544.3,1101.9 2539.6,1108.9 2540.5,1119 2539.8,1126.4 2542.9,1134.4 2541.2,1142.6 2542.4,1149.9 2539.8,1156.8 2541.8,1165.4 2540.5,1174.1 2542.5,1181.6 2540.1,1189.8 2543,1196.8 2539.5,1204.8 2541.9,1213.6 2540.4,1221.4 2542,1230.2 2539.3,1238 2542.6,1244.6 2538.7,1253.6 2542.8,1262.2 2538.5,1269.7 2543.4,1276.8 2539.1,1284.8 2543.9,1293.4 2539.1,1300.9 2543.1,1308.2 2538.7,1316.6 2543.9,1324.8 2538.2,1332.9 2544.3,1339.8 2540.3,1349.9 2540.3,1355.8 2537.9,1365.5 2539.2,1372.6 2541.1,1380.7 2541.8,1388.5 2542.9,1396.6 2541.5,1403.8 2542,1411.2 2542.9,1420.4 2546.1,1428.8 2544.1,1436 2542.5,1444.2 2547.5,1451.1 2547.4,1460.3 2549.9,1466.5 2550.1,1475.2 2554.6,1480.9 2559.5,1485.4 2563.1,1491.3 2563.9,1496.3 2567.3,1504.1 2564.3,1509.9 2567.1,1516.4 2569.1,1523.7 2568.7,1530.7 2571.9,1536.3 2571.1,1542.8 2571.2,1550.7 2574,1556.8 2572.7,1564.7 2575.4,1572.8 2574.6,1579 2575.1,1586.4 2578.1,1593.1 2591.6,1593.1 2594.9,1586.1 2594.6,1581 2592.2,1575 2593.7,1566.7 2592.5,1559.3 2592.1,1553.6 2592,1546.7 2588.7,1539.5 2591,1531.5 2589.7,1524.8 2589.5,1517 2587.6,1510.3 2584.1,1502.7 2586,1495.6 2584.7,1488.9 2585.7,1479.8 2582.2,1473 2581.5,1466.1 2577.8,1459.4 2579.6,1451.1 2579.7,1444.2 2578.7,1436.8 2579.5,1427.7 2576,1420.8 2575.6,1412.9 2574.5,1404.6 2572.5,1398.2 2575.1,1391.1 2573.6,1382.7 2575.9,1376.8 2574.1,1369.7 2575.3,1361.1 2571.6,1355.2 2572.9,1345.8 2572.6,1339.5 2571.1,1332.5 2573,1324.8 2571.2,1316.7 2572.9,1309.9 2570.8,1302.6 2571.4,1296.4 2569.5,1289.2 2570.8,1281.6 2569.3,1273.1 2570.7,1266.8 2569.6,1259.1 2568.6,1251.4 2569.7,1242.5 2567.2,1234.6 2569.1,1228.5 2567.4,1220.6 2569,1211.5 2566,1205.2 2567.6,1197.4 2566.6,1188.8 2565.8,1181.5 2566.8,1172.5 2564.1,1166.1 2566,1157.5 2564.9,1150 2565.9,1141.7 2562.4,1133.2 2565.5,1126.4 2563.6,1118.4 2560.8,1110.6 2565.1,1102.9 2562.8,1095.1 2562.2,1088.6 2563.6,1079 2563.1,1071.1 2561.6,1064.7 2564.7,1055.5 2560.5,1048.3 2564.6,1042.1 2560.2,1034.2 2564.6,1026.1 2562.1,1017.9 2561.3,1010.4 2564.2,1003 2560.1,994.1 2563.9,986 2562.3,978.4 2562.5,971.3 2560.3,962.2 2563.9,955.3 2562.2,945.8 2564.1,937.8 2561.5,930.3 2563.3,924 2561.7,915.1 2563.8,907 2561.8,899.6 2564,890.5 2561.1,884.3 2562.8,875.3 2560.8,866.3 2563.9,860.2 2561.6,851.1 2563.1,844.1 2561.4,835.2 2563.3,827.5 2561.4,820.9 2563.3,811.6 2560.8,804.4 2563.8,796.7 2560.8,787 2563.3,779.1 2562.7,771.2 2562.9,764.4 2560.2,757.4 2563,748.7 2561,739.3 2562.7,732.7 2560.5,724.7 2562.5,716.5 2562.8,709.8 2561.6,701.2 2562.4,692.4 2564.5,685.4 2560.8,675.9 2563.3,668.3 2562.1,661.6 2565.2,653.5 2561.2,644.8 2563.2,638.4 2561.8,630.5 2564,621.7 2560.7,612.8 2563.5,605.5 2562.4,597.6 2563.8,588.8 2561.2,581.2 2563,574.8 2560.9,565.3 2563.1,558 2561.3,549.8 2563.6,542.9 2562,535 2564.4,526.1 2562,517.5 2563.8,509.5 2561.8,502.5 2563.7,494.1 2561.3,486.5 2564.3,478 2562.2,470.6 2563.8,463.5 2562.8,455.1 2562.3,447.3 2563.4,440.9 2561.8,431.5 2562.8,425 2562.3,424.9 2561.8,418.2 2557.8,414 2557.5,406.9"/><polygon points="2594.9,403.8 2593.5,409 2590,417 2590.1,421.9 2591.9,429.5 2589.6,435 2586,443 2588.3,450.4 2587.7,456.5 2586.1,465.2 2584.8,471.8 2585.7,481.3 2588.2,487.2 2582.2,494.9 2587.1,503.3 2584.7,510.1 2583.6,517.2 2586.4,526.4 2583.3,533.4 2585,540.5 2584.4,548.8 2584.3,556.5 2583.9,563 2583.6,571.4 2583.1,577.5 2583.4,585.8 2579.7,591.4 2586.4,599.6 2579.8,606 2584.9,612.7 2581.4,618.3 2582.4,626 2585.4,633.6 2581.7,642.5 2582.3,650.6 2581.1,657.5 2584.3,665.9 2581.4,673.1 2582.5,682.6 2581.5,688.9 2583.8,696.4 2580.8,704.8 2583,714.4 2582.1,720.9 2583.1,729.5 2581.4,737.9 2583,744.2 2582,752.6 2582.9,760.2 2581.5,768.8 2583.6,777.3 2580.7,785 2583.1,793.2 2581.7,800.5 2584.4,808.1 2582.3,817.2 2584.5,824.3 2582.4,831.9 2585.2,841 2581.8,847.5 2583,855.4 2578.9,864.5 2582.4,871.7 2582.4,879.9 2585.7,887.1 2580,895.4 2581.2,903.6 2582.2,912.5 2585.6,919.6 2580.3,927.4 2581.2,934.8 2582,944 2585.9,952.3 2580.1,960 2581,968.6 2581.5,976.4 2585.9,984.1 2581.7,992.5 2581.5,998.2 2580.8,1006.5 2584.2,1014.5 2582.9,1022.4 2583.5,1030.3 2580.6,1038.9 2582.4,1047.2 2581.4,1055.8 2583.8,1063 2582,1071.6 2584.1,1079.6 2581.2,1086.8 2583.5,1095.7 2580.6,1102 2582.5,1111.7 2580.4,1118.4 2583.5,1127.6 2581.2,1135 2583.3,1141.3 2581.5,1151 2583.5,1158.1 2581.6,1165.3 2583.1,1174.6 2580.9,1181.5 2583,1190.7 2580.5,1197.6 2582.4,1206.5 2579.6,1213.1 2582.3,1221.5 2579.6,1230.3 2583,1237.1 2581.8,1246.2 2585.2,1253.9 2583.7,1262.5 2584.3,1270 2579.3,1278.5 2581,1285.2 2580.7,1293.1 2585.9,1301.9 2582.5,1310.2 2582.2,1318.1 2579.6,1326.2 2585.1,1333.8 2583,1341 2581.2,1349.5 2581.3,1357.9 2585,1364.1 2579.4,1372.8 2584,1380.2 2582.4,1388.7 2580.3,1397.7 2586.2,1404.2 2580.6,1413.5 2586.3,1420 2582.5,1429.4 2587.1,1434.9 2585.4,1444 2585.8,1452.9 2588.9,1460.4 2586.9,1466.7 2592,1476.2 2591.4,1483.2 2593.9,1488.1 2602,1493.4 2604.4,1499.3 2603.8,1504.4 2607.2,1511.4 2607.3,1517.2 2608.4,1524.4 2609.9,1531.8 2608.8,1537.6 2612.4,1543.8 2613.5,1551.7 2611.7,1558.7 2614.8,1565.3 2613.1,1572.9 2615.9,1580 2619.6,1586.6 2619.4,1594.1 2632.9,1594.1 2635.6,1588.9 2635.9,1582 2633.5,1574 2635.6,1567.4 2634,1561.7 2633.4,1554.6 2633.2,1547.2 2629.4,1540.9 2631.7,1533.5 2629.7,1525.7 2628.9,1518.4 2628.2,1510.7 2624.9,1502.7 2626.9,1493.9 2625.3,1487 2626,1480 2622.2,1470.9 2621.9,1464.2 2620.9,1455.9 2618.8,1449.8 2620.5,1441.4 2619.2,1436.2 2620.5,1429.8 2617.2,1422.8 2616.9,1415.3 2616.2,1407.2 2613.7,1400.5 2616.3,1393.5 2614.6,1384.2 2616.9,1377.6 2615,1368.8 2616.1,1363 2613,1355 2614.7,1346.6 2613.9,1339.5 2612.3,1331.3 2614.9,1325.1 2612.4,1317 2614.4,1311.4 2611.3,1303.4 2613,1296.7 2610.7,1287.6 2612.2,1281.2 2610.9,1274 2612.5,1267.6 2610.9,1259.1 2609.8,1250.3 2610.8,1242.7 2608.8,1234.5 2610.4,1227.1 2608.7,1220.6 2610.2,1212.4 2607.5,1204.2 2608.8,1197.3 2607.9,1188.8 2607.6,1181.2 2608.4,1174 2605.2,1166.3 2608.1,1158.1 2606,1150.6 2606,1141.4 2603.8,1133.8 2607.1,1125.9 2604.9,1118.4 2602.3,1111.8 2607.1,1102.9 2603.6,1095.9 2604.2,1088.6 2604.6,1080.7 2603.6,1070.9 2604.4,1063.8 2604.4,1056.6 2602.8,1048.2 2604.8,1041 2602.8,1034.5 2603.9,1025.7 2603.4,1017.9 2601.2,1010.8 2605.4,1001.7 2602.7,994.1 2603.3,987 2603,978.8 2605.5,970.8 2602,961.9 2603.3,953.4 2602,947.3 2604.3,938.7 2603,931.6 2605,921.9 2603,915.4 2604.9,906.3 2602.3,899.7 2604.5,890.3 2602.8,883.8 2604.8,876 2602.6,867.7 2604.5,858.8 2602.5,851.9 2604.7,844.4 2602,835.3 2604.7,828.1 2603.1,820.2 2604.4,810.6 2603.8,804.2 2603.9,796.9 2603.7,787.3 2604.9,780.9 2601.7,773.2 2605,764.1 2604.3,756.3 2606.4,748.5 2604.7,739.4 2606.5,731.7 2603.5,723.6 2603.2,716.3 2604.8,709.8 2603.1,701.6 2603.9,692.3 2606.3,685.9 2604.6,675.9 2606.5,669.4 2604.6,660.4 2604.3,653.3 2602.4,644.4 2606,638.2 2602.5,628.8 2604.3,621.8 2604.2,613.2 2605.1,606.8 2602,598 2604.7,590.4 2603.3,583.1 2606.1,573.7 2604.4,566.8 2606,557.2 2603.8,550.4 2605.3,541.8 2603,533.5 2605.2,527.3 2603.4,518.8 2605.2,510.2 2603.5,502.4 2605.5,494.6 2603.8,486.7 2605.5,478.2 2603,471.6 2606.2,462.2 2604.6,455.1 2602.9,447.3 2605.9,439.6 2602.7,431.8 2604.6,425 2604.1,421.9 2603.2,416.3 2600.1,410.9 2599.3,403.8"/><polygon points="2636.6,396.8 2634.6,403.8 2634.4,408.8 2631.8,414.9 2630.9,421.8 2632.9,429.4 2631.3,435 2633,442.2 2627.8,450.6 2630.8,458.4 2627.8,465.2 2627.5,473.3 2627.3,480.7 2628.5,489.6 2626.8,497.4 2627,503.8 2627.6,512.6 2625.3,520 2628.4,528.3 2624.4,535.2 2628.5,541.9 2624.1,551.3 2628,557.5 2624.1,566.3 2627.3,573 2624,580.8 2627.1,588.4 2624,597.9 2626.3,605.5 2624.6,612.1 2625.6,621.1 2623.3,627.3 2624.6,636 2626.6,642 2623.9,649.5 2625.4,655.2 2621.9,663.6 2624.4,670.3 2623.6,676.2 2621.3,683.6 2623.7,691.4 2621.9,700.8 2623.9,708.3 2621.5,715.8 2623.3,724.8 2620.9,731.2 2623,739 2620.2,747 2623.1,755.8 2621.5,763.8 2624.2,772 2623.2,781.2 2627.1,788.3 2625.3,795.3 2627.7,803.3 2624.2,811.6 2625.4,819.5 2621.9,828.3 2623.1,835.3 2620.2,843.6 2622.6,851.7 2620.6,859.5 2623.2,868.9 2620.8,876.1 2624.3,883.6 2621.9,892.3 2624.2,899.4 2622.9,906.7 2624.9,914.9 2623.2,924 2625.1,931.9 2623.2,940.4 2624.7,946.9 2623.1,954.7 2624.7,962.6 2622.8,971.8 2624.8,978.7 2622.7,987.2 2624.7,996.6 2622,1004.4 2624.6,1010.4 2622,1019.9 2624.3,1028.3 2622.7,1036.1 2624.9,1044.3 2623,1052.7 2625.5,1058.6 2623,1067.4 2624.7,1075.5 2621.2,1082.8 2623.2,1092.3 2622.7,1098.2 2626.9,1108.2 2624.2,1114.8 2624,1123 2620.2,1130.4 2625.1,1138.2 2625.4,1147.5 2625.1,1154.5 2620.3,1162.3 2625.4,1170 2625.2,1178.1 2623.1,1186.5 2621.5,1195.7 2627,1202 2620.7,1212.1 2625.4,1218.8 2623.6,1227.9 2622.7,1236.2 2624.7,1242.4 2622.4,1250.1 2624.1,1259.4 2623.2,1267.6 2623.9,1275 2623.1,1284 2623.3,1291.1 2625,1298.4 2621,1308.1 2625.8,1313.9 2623.3,1322 2623.8,1330.9 2622.1,1339 2624.3,1346.5 2623,1355.4 2625.3,1361.8 2623.3,1371.1 2625,1378.2 2622.9,1387.7 2623.6,1394.8 2625.3,1403.1 2622.4,1411.6 2625.3,1418.2 2625.4,1425.8 2626.9,1433.2 2625,1443.3 2626.6,1450.1 2628.8,1458.3 2627.5,1464.6 2632.8,1472.4 2628.6,1481.5 2632.6,1489.2 2637.7,1495.2 2639.2,1500.1 2645.6,1505.3 2646.8,1510.9 2647.9,1517.1 2649,1524.7 2649.6,1530.5 2651.1,1534.8 2650.5,1540.2 2653.6,1546.8 2650.6,1554.9 2658.2,1560.8 2653.1,1569.1 2658.7,1576.3 2657.1,1583 2660.6,1590.4 2660.6,1597.1 2674.1,1597.1 2677.4,1591.9 2677.1,1585 2675.4,1577 2677.3,1571.2 2673.9,1563.8 2674.6,1557.6 2674.9,1550.3 2671.8,1545.2 2673.3,1537.3 2670,1531.7 2670.1,1524.4 2670.2,1516 2667.9,1510.4 2667.7,1503.4 2665.9,1496.5 2667,1489.1 2663.8,1480.7 2664.2,1473 2661.7,1466.3 2662.1,1459.5 2663.3,1452.2 2660.5,1445.7 2661.3,1437.2 2658.1,1430.4 2658.8,1423.4 2658.1,1417.1 2656.5,1408.7 2659.1,1401.6 2657.4,1394 2658.9,1385.4 2656.2,1378.8 2657.7,1369.8 2654.6,1362.7 2655.7,1356.2 2653.2,1346.8 2655.1,1339.5 2654.2,1332.7 2653,1323.7 2655.2,1318.7 2653.4,1310.9 2655.8,1303.5 2654.2,1296.7 2656,1288.6 2653.2,1281.9 2654.2,1274.5 2651.9,1266 2652.1,1259.1 2652.4,1250.7 2649.3,1242.4 2651,1235.1 2648.9,1228.7 2650.8,1219.3 2649.2,1212.5 2650.7,1204.6 2649.1,1196.3 2649.1,1188.8 2649.8,1180.9 2647.2,1174.3 2649.3,1165.2 2646.7,1158.4 2648.5,1150 2646.2,1140.9 2647.7,1133.8 2645.6,1125.1 2646.1,1118.4 2647.1,1111.3 2644.4,1103.8 2646.3,1096 2645.1,1087.9 2647.5,1080.9 2645.4,1072.6 2646.1,1064.8 2643.2,1056.5 2645.8,1049.7 2645.2,1041.4 2646.9,1033.8 2642.5,1026.2 2644.6,1017.9 2646.4,1010.8 2644.4,1003 2644.2,994.9 2644.5,985.4 2646.5,979.1 2642.5,970.3 2646,963.5 2644.3,955.2 2644.6,946.9 2645.2,938.1 2644.6,930.9 2645.2,923.7 2645.4,913.9 2644.5,907.1 2645.1,900 2644.8,892.3 2644.7,883.8 2645.5,874.8 2645.8,866.1 2643.7,858.8 2646.9,852.5 2644,843.8 2645.1,836.4 2644.3,827 2646.8,819.3 2645,811.7 2646.8,803.4 2644.6,796.7 2646,787.6 2644.8,779.1 2646.5,772.7 2644.6,764.3 2646.3,756.7 2643.8,747.3 2646.4,739.6 2645.1,731.9 2646.2,725.5 2644.3,717.5 2646.9,709.9 2643.8,700.4 2647.1,693 2644.6,685.4 2646.6,676 2645.4,669.1 2645.5,660.7 2646,654.2 2646.6,644.6 2644.4,637.9 2647.5,630.3 2644.1,621.5 2647.7,613.4 2644.5,605.3 2645.9,598.2 2645.9,590.4 2648.1,581.1 2646.1,574.6 2648.5,566.1 2645.8,557.4 2645.7,550 2647,542.4 2646.1,535.3 2644.1,526.4 2646.7,517.6 2644,511.4 2646.2,503.5 2646,493.7 2646.5,486.3 2646,478.8 2646.7,469.9 2644.4,463.6 2646.3,455.1 2647.7,447.2 2645.6,439 2648.1,432.7 2646.3,425 2644.7,418.8 2645.8,414.9 2644.9,409.4 2642.2,402.5 2641,396.8"/><polygon points="2679.4,396.8 2680.9,403 2676.3,407.9 2675.1,414.9 2674.2,421.6 2672.8,428.8 2676.5,435.3 2674.8,441.8 2677.3,449.3 2674.6,455.1 2671.4,462.7 2672.8,469.2 2671,477.4 2671.1,485.3 2673.2,492.4 2669.7,501 2670.8,509.6 2668.7,515.4 2671.3,523.5 2668.8,532.7 2670.7,539 2668.4,546.1 2669.8,555.5 2668.1,562.1 2670.5,571 2667.6,577 2668.8,585.7 2666.7,593.8 2670.5,601.4 2667.6,608.8 2667.3,616.1 2666.1,624.2 2669.4,631.3 2666.2,639.1 2666.8,648.7 2667.2,654.9 2668.2,663.7 2663.2,670.9 2669.3,679.3 2665.9,686.2 2663.1,694 2668.5,699.9 2663.6,706.2 2665,714.1 2666.2,719.8 2664.9,726.5 2668.6,733.2 2661.2,742.7 2668.2,750.9 2661.7,757.7 2666.7,766.3 2664.9,773.1 2664.1,782.3 2664.8,789.2 2667.1,796.7 2662.4,805 2664.7,813 2664.4,821.4 2667.9,830.4 2665.1,837.4 2666.6,845 2664,853.1 2665.5,862.4 2663.5,870.4 2665.4,876.3 2663.9,886.2 2666.4,894.1 2663.7,901.3 2666.3,908.2 2664.3,917.8 2666.6,924.2 2664.3,931.5 2666.1,941.8 2664.1,949 2666.5,957.7 2664.4,964.9 2666.9,971.5 2664.2,979.6 2665.3,988.4 2663.9,995.9 2666.9,1003.8 2662.2,1011.1 2667,1021.1 2663.3,1026.7 2664.5,1035.3 2663.9,1043.8 2666.9,1050.8 2664.7,1059.7 2666.5,1068.7 2662.4,1075.3 2663.9,1083.3 2665.1,1092.1 2667.8,1099 2661.2,1106.4 2668.6,1116.2 2661.7,1124.3 2668.4,1130.3 2661.8,1139.4 2668.6,1146.3 2661.8,1154.4 2667.6,1163.3 2663.4,1171.1 2665.6,1177.6 2665,1187.5 2664.1,1195.7 2665.7,1203 2664.7,1210.9 2665,1219.2 2665.7,1225.8 2664.3,1235.3 2665.3,1241.1 2663.8,1250.5 2665.9,1258 2664.4,1266.6 2665.5,1275 2664.7,1282.1 2665.7,1289 2663.8,1298.7 2666.9,1305.9 2663.6,1314.4 2666.1,1321.2 2664.7,1330.1 2665.3,1336.4 2663.2,1346.2 2666.4,1352.8 2664.5,1361.8 2665.9,1369.3 2662.3,1377.8 2665.5,1385.4 2664.6,1393.1 2664.9,1400.8 2667.2,1409.1 2664.3,1417.8 2666.2,1425 2663.3,1431.2 2666.4,1439.7 2664.2,1448 2667.9,1456.1 2668,1464.4 2667.4,1472.7 2670,1480.6 2668.7,1487.6 2673.9,1495.3 2677.2,1500.1 2679.9,1506.4 2686.9,1511.4 2689,1518.1 2689.8,1523.8 2693.8,1529.7 2690.9,1536.5 2692.1,1542.7 2694.9,1549.8 2694.7,1556.9 2694.5,1565.2 2699.7,1570.9 2698,1578.9 2698.4,1586 2700.4,1592.2 2701.9,1600.1 2715.4,1600.1 2718.1,1593 2718.4,1588 2716.7,1581.5 2718.7,1573.1 2716.3,1568.5 2715.9,1560.6 2714.9,1552.3 2712.9,1544.9 2714.7,1536.9 2711.4,1530.4 2708.7,1523.7 2711.5,1516.1 2708.5,1508.1 2707.8,1499.4 2706,1493.1 2708.2,1485.8 2702.6,1477.6 2706,1470.6 2703.4,1463.1 2701,1455.1 2704.7,1447.9 2699,1440 2703.3,1433.6 2697.9,1425.2 2699.4,1418.9 2698.6,1411.1 2699.2,1403.9 2698.6,1395.1 2697,1387.1 2699.6,1378.5 2695.2,1371.4 2698.4,1363.6 2696.8,1355.2 2697.5,1348.6 2696.4,1339.5 2695.6,1332.6 2697.9,1324.8 2694.1,1318.6 2695.4,1310.6 2694.1,1303.3 2696.2,1294.7 2693.2,1287.5 2695.3,1279.9 2693.6,1273.1 2694.2,1265.5 2693.4,1259.1 2692.1,1251.7 2693.4,1242.8 2691.9,1236.8 2692.7,1228.8 2691.1,1220.5 2692.5,1212.9 2690.8,1204.4 2691.7,1197.2 2690.4,1188.8 2689.8,1180.5 2691.6,1172.6 2688.5,1164.4 2690.3,1157.6 2688,1150.4 2689.9,1141 2688.1,1134.2 2690,1126.1 2687.4,1118.4 2685.2,1110.3 2686.6,1103.7 2686.3,1095.8 2689.2,1088.7 2685.9,1079.3 2686.3,1073 2686.5,1064.5 2689.1,1057.7 2684.1,1048.8 2686.7,1041 2686.7,1033.6 2686.5,1025.4 2685.9,1017.9 2686,1009 2687.9,1002.9 2684.1,994.9 2686.7,984.8 2685.8,977.8 2687.7,969 2684.6,962.2 2686.6,953 2686.1,945.3 2688.4,936.9 2685.6,929.7 2686.5,922.8 2685.1,915.3 2687.2,905.9 2686,897 2687.6,889.5 2685.8,881.7 2687.3,874 2685.6,865.2 2687.5,858.2 2685.6,850 2687.4,843.2 2686,835.5 2688.3,826.6 2686.2,817.4 2688.4,810.6 2686.3,801.4 2688.9,795.1 2686.3,786.6 2688.6,779.5 2686.6,769.9 2688,763.4 2686,755.3 2687.4,745.7 2685.1,738.8 2686.8,731.4 2685.6,723.4 2688,714.3 2687.1,707.3 2689.9,697.8 2687.4,690.2 2687.6,682.3 2685.3,673.8 2688.5,667.4 2687.7,658.8 2689.6,650.2 2685.8,643.4 2688.1,633.9 2688.4,626.8 2689.3,618.7 2685.8,610 2689.7,603.4 2686.9,595.9 2688.4,585.9 2688.4,578.9 2688.2,570 2688.1,561.9 2689,554.8 2687.9,547.2 2689.2,540.2 2687.5,531.8 2688.9,522.7 2688,514.4 2689.1,507.4 2687.5,499.2 2689.6,491.4 2688.2,483.1 2688.6,475.2 2689.2,466.8 2687.6,460.9 2690.1,452.7 2688.6,445.1 2687.6,438.6 2689.4,430.1 2687.7,423.1 2688.1,414.9 2688,409.7 2684.4,402.6 2683.8,396.8"/><polygon points="2721.7,380.7 2719.9,386.6 2718.6,393.9 2718.4,398.8 2717.7,406.4 2717.3,415.1 2721.5,420.6 2714.3,430.4 2721.4,437.8 2715.9,445.5 2720.2,453.1 2717.1,459.8 2718.6,467.6 2717,475.9 2719.3,481.4 2715.9,489.7 2720.9,498.3 2717.9,505.3 2717.5,511.7 2716,520.3 2714,527.7 2714.4,535.5 2713.5,544.2 2713.3,550.6 2714,559.4 2711.3,567.4 2715.3,573.8 2710.5,583.2 2713.4,591 2709.9,597.4 2713,607 2709.7,615.1 2712.3,622 2708.8,630.1 2711.8,636.7 2709.3,644.7 2710.4,653.4 2708.5,660.5 2710.8,669.2 2707.9,677.9 2709,684.5 2706.3,693.6 2707.7,699.9 2705.3,707.5 2707.2,716.4 2706.2,722.9 2704.4,728.8 2706.1,735.8 2703.6,743.2 2706.9,749.5 2706.2,756.6 2706,765.7 2709.4,771.3 2707.6,780.7 2708.8,789 2704.6,797.1 2705.4,803.3 2702.8,812.8 2706.3,820.5 2706,826.9 2709.4,834.7 2707.4,842.8 2707.9,852.6 2704.2,860.7 2705,868.7 2703.1,874.5 2705.9,883.1 2705.2,891.1 2708.3,899.4 2707,906.3 2708.8,914.3 2706.3,922.6 2708.3,931.6 2705.6,938.4 2707.5,945.7 2704.6,955.5 2706.3,963.7 2704.6,970.5 2706.4,979.1 2704.2,986.9 2706.6,994.2 2704.6,1003.6 2707,1009.6 2704.5,1019.4 2707.1,1026.1 2704.8,1035.3 2706.8,1042.4 2704.6,1049.8 2707.5,1056.9 2705.3,1065.5 2707.7,1073 2706.3,1081 2708.2,1090.6 2705.6,1096.7 2706.3,1104.5 2703.3,1112.6 2706.1,1122.2 2704.6,1128.3 2708.5,1137 2707.2,1144 2707.4,1152.2 2702.9,1160.2 2706.3,1169 2707.1,1177.2 2709.5,1185.9 2703.7,1193.4 2705.5,1201.3 2706.9,1208.6 2708.2,1216.1 2702.8,1225 2708.4,1233 2706.9,1240.3 2704.6,1248.4 2706.7,1255.8 2706.3,1264.3 2704.4,1271.6 2707.9,1279.7 2703.6,1287.1 2708.5,1295.6 2704.4,1302.7 2708.2,1311.8 2705.2,1319.7 2706.7,1328.1 2705.6,1335.9 2706.9,1344.6 2705,1350.2 2708.3,1360.4 2705.2,1367.5 2706.9,1375.6 2704.9,1381.9 2706.9,1391.7 2704.9,1398.5 2706.2,1406.8 2707.6,1415.7 2705.5,1422.2 2708.3,1429.6 2706.1,1437.5 2709,1445.6 2708.3,1455.1 2709.2,1462.1 2710.8,1469.1 2711.9,1477.4 2712.3,1485.4 2713.7,1494.6 2715.2,1501.3 2721.9,1507.6 2721.5,1511.5 2728.2,1517.4 2727.9,1523.6 2731,1530.3 2730.4,1535.9 2732.2,1542.5 2731.3,1547.7 2736.2,1553.9 2736.2,1561.6 2734.5,1567.2 2740.3,1576.4 2740.6,1583.5 2739.7,1590 2740.3,1597 2743.2,1604.1 2756.7,1604.1 2757.9,1598.5 2759.7,1592.1 2759.2,1584.2 2758.7,1577.6 2755.5,1570.6 2757.2,1564.6 2757,1557.3 2752.5,1549.9 2755.9,1543.3 2752.7,1536.5 2751.2,1529.3 2751.8,1521.7 2749,1513.4 2750.4,1506 2747.3,1498.8 2747.7,1489.7 2746.5,1483.4 2745.3,1475 2744.7,1466.7 2742,1460.1 2744,1452.5 2742.4,1444.6 2741.9,1435.1 2740.8,1428.4 2740.7,1420.7 2740.5,1414.1 2739.9,1404.8 2739.9,1399.6 2738.5,1391.3 2740.5,1384.1 2738.3,1377.6 2740,1369.6 2737.6,1362.3 2739.7,1355.2 2736.6,1346.4 2737.7,1339.5 2738.8,1333.2 2735.9,1324.7 2737.2,1316.5 2736.1,1311.3 2737.6,1304.1 2735.2,1296.8 2736.2,1289.3 2733.6,1281 2735.9,1273.5 2734,1265.4 2734.7,1259.1 2735,1251.6 2732.6,1244 2734.6,1235.4 2731.2,1227.7 2732.8,1219.8 2730.4,1211.6 2733.2,1205 2731.5,1195.8 2731.7,1188.8 2733.3,1179.9 2730.4,1173.1 2730.5,1165.7 2727.4,1157.7 2730.2,1149.5 2729.9,1142.1 2731.7,1133.7 2728.8,1126.4 2728.7,1118.4 2727.9,1110.9 2725.8,1103.9 2728.4,1094.6 2727.9,1086.8 2730,1079.1 2728.1,1071 2729.6,1064.6 2727,1057.2 2727.8,1047.9 2725.7,1040.2 2727.9,1032.5 2725.8,1025.7 2727.2,1017.9 2728.4,1009.4 2726.2,1000.9 2728.2,994.1 2726.8,985.5 2729,979.2 2726.4,970.8 2729,963.2 2726.6,954.7 2728.4,946 2726.7,938.4 2728.7,929.8 2726.6,923.3 2729,915.2 2726.4,907.1 2728.4,898.9 2726,890.5 2727.9,883.2 2726.3,874.4 2728.8,868 2727.2,857.9 2730.2,852.1 2728.3,842 2729.5,835 2726.9,827.5 2728,819.3 2726.8,811.4 2730.7,804.5 2728.4,795.6 2728.8,788.6 2726.3,780.5 2729.8,771.6 2729.4,763.7 2729.1,755.8 2726.4,748.2 2731.2,739.6 2727.3,731.2 2728.4,724 2729.4,716.9 2729.3,709.2 2728,699.4 2730.6,693.1 2727.2,684.1 2730.6,676.3 2727.4,667.9 2731.1,660.4 2727.3,651.5 2730.7,644.9 2728.7,635.6 2729.4,628.5 2728.6,620.3 2730.2,614 2727.8,604.9 2730,595.9 2728.9,589.6 2731.2,582.2 2728.8,572.9 2730.4,564.7 2728.5,556.9 2730.9,549.6 2729.3,542.4 2731.1,532.2 2729.9,525.5 2728.3,518.9 2729.8,511.4 2728.7,503 2729.9,495.3 2730.4,486.9 2728.8,481.1 2731,473.7 2728.8,466 2730,458.6 2729.3,450.7 2729.3,442.6 2729.3,435.2 2731.2,428 2727.9,422.1 2728.8,412.8 2728.2,405.2 2729.4,398.8 2727.8,391.8 2727.2,387.5 2726.1,380.7"/><polygon points="2763.4,373.7 2766.1,380.3 2761.6,385 2760.6,391.8 2759.6,400.5 2758.2,408 2762.5,415.6 2761.2,422.1 2762.3,431.8 2758.4,439.2 2759.8,446.7 2758,454.8 2762,461.6 2760.5,469 2761.9,478 2760.1,485.2 2757.4,493.8 2759,499.7 2757.2,508 2756.6,515.4 2758.1,522.7 2754.7,530.1 2755.6,539.2 2754.1,547.6 2756.4,554.8 2753.8,562.7 2754.8,570.4 2752,576.5 2753.8,584.3 2752.5,593 2754.4,599.7 2750.5,607.6 2752.3,615.6 2750.9,623.7 2753.2,632.3 2748.2,639 2750.6,647.5 2750.1,655.2 2750.9,662.5 2746.3,670.3 2751,679 2748.4,686.2 2744.9,693.9 2749.8,699.1 2748.6,706.2 2747,713.9 2746.9,718.8 2747.4,726.5 2746.3,734.3 2748.4,743.1 2746.2,750 2748.4,758.6 2746.3,766.7 2747.9,773.1 2747.3,782.2 2745.4,789.4 2750.3,798.1 2744.1,805.7 2748.4,813.5 2748.2,822.1 2748.3,828.5 2744.7,838 2747.3,844.1 2746.6,853.6 2749.2,861.4 2747.8,869.9 2749.1,876.8 2747,884.6 2749.8,892.8 2747.1,899.4 2749.5,909.3 2746.5,916.8 2748.4,924.1 2745.7,932 2748.2,939.7 2746.5,947.1 2748.9,955.5 2747.3,962.7 2749.3,971.2 2746.7,979.3 2748.1,988 2746.3,994.4 2748.7,1003.1 2747.3,1010.6 2749.9,1019.9 2745.5,1027.5 2747,1035.8 2747.8,1043.3 2746.6,1050.9 2747.4,1059.8 2749.9,1066.8 2745.4,1074.5 2746.5,1083.5 2744,1089.9 2746.2,1099.5 2746.7,1106.6 2750.9,1113.2 2746,1123 2746.8,1129.6 2748.5,1137.1 2745.8,1145.6 2748.9,1153.4 2747.1,1161.6 2746.6,1169.2 2749.9,1177.9 2744.3,1185.8 2750.6,1194.2 2745.8,1200.8 2746.6,1210.3 2748.4,1217 2747.8,1225.5 2746.1,1234.1 2749.5,1240.8 2745.2,1247.7 2748.7,1255.9 2746.4,1265.2 2748.2,1272.3 2746.4,1281.2 2747.8,1287.9 2746.5,1295 2748.2,1303.3 2746.7,1311 2748.8,1318.9 2746.2,1328.9 2748.9,1334.6 2745.8,1343.3 2748.9,1352.8 2746.4,1359.6 2747.8,1366.3 2747.3,1374.5 2749.1,1383 2745.5,1392.1 2748.5,1399.7 2747.6,1405.9 2747.4,1414.9 2748.3,1422 2745.5,1430.8 2748.6,1438.6 2748.7,1446.4 2752.7,1454.9 2751.2,1463.1 2750.4,1470.2 2753.2,1478.8 2751.8,1485.6 2754.5,1493.9 2753,1502.3 2756.4,1509.3 2760.3,1515.8 2763.5,1519.1 2769.4,1525.4 2772,1532.3 2771.6,1538.4 2775.9,1543.6 2773.4,1550.5 2777,1555.8 2777.4,1559.9 2779,1568.2 2776.3,1574.9 2778.8,1580.9 2778,1589.2 2780.9,1596.1 2784.8,1602 2784.4,1610.1 2797.9,1610.1 2802,1603.3 2800.9,1598.1 2799,1590.7 2799.2,1584 2796.9,1578.5 2798.4,1570.7 2800.1,1563.8 2796.1,1558.5 2796.2,1551.7 2793.9,1544.5 2790.9,1536.5 2792.8,1529.7 2791.6,1522.5 2792.7,1516.2 2789.8,1508.6 2789.7,1501 2786.6,1494 2787.6,1487.3 2785.8,1478 2785.9,1471.6 2786.9,1465.3 2783.8,1456.9 2784.5,1450.8 2782,1444.7 2783.5,1438.1 2781.7,1431.2 2781.9,1423.1 2783.3,1415.6 2780.3,1407.2 2782,1399.8 2779.7,1393.6 2781.8,1384.8 2779.7,1376.9 2781.1,1368.8 2778.3,1363.5 2779.9,1355.7 2778.3,1347 2778.9,1339.5 2779.8,1331 2776.5,1323.9 2779.1,1316.4 2777.4,1309.9 2778.3,1303.9 2775.7,1295.1 2777.6,1287.4 2776.5,1281.1 2776.7,1272.6 2773.9,1267 2775.9,1259.1 2776.2,1250.3 2773.5,1244.4 2777.3,1236.2 2772.4,1227.8 2775.6,1219 2772.8,1212 2773.4,1204.5 2773.2,1197.3 2772.9,1188.8 2774.3,1180.2 2770.6,1173.9 2773.2,1165.2 2771.4,1158.3 2771.2,1149.3 2770.9,1141.1 2771,1134.3 2767.8,1125.2 2769.9,1118.4 2771.9,1109.7 2768.5,1102.2 2769.2,1094.8 2768.2,1087.5 2770.1,1078.6 2768.6,1071.5 2770.8,1064.7 2768.8,1055.6 2770.1,1049.1 2768.2,1041.3 2769.7,1033 2767.7,1025.7 2768.4,1017.9 2769.6,1010.7 2768.1,1003 2770.1,995.1 2768,986 2769.4,977.8 2767.1,970.3 2769.4,962.3 2767.9,954.5 2770.1,946.7 2768.1,939.2 2770.5,930.2 2768.1,923.5 2771,915.3 2768.7,908.4 2768.9,899.4 2768.3,891.1 2769.6,884 2769.2,875.9 2768.9,868.9 2767.7,859.4 2771.5,852.4 2769.8,844.3 2770.9,836.4 2767.4,827.5 2769.4,821.5 2770,812.3 2770.4,804.5 2768.6,796.8 2770.6,788.7 2769.4,782 2769.4,774.1 2769.7,766 2770.8,757 2767.5,750 2771.7,743 2769.1,734.7 2770.3,725.2 2769.3,719.1 2771.9,709.6 2768.2,702.8 2770.3,694.2 2769.9,685.7 2771.2,679.5 2769,671.4 2771.6,661.9 2768.7,654.3 2771.3,648.3 2769,640 2771.1,632.1 2769.6,624.5 2771.4,616.9 2769.4,608.3 2771.3,599.5 2769.6,591 2772.2,583.2 2769.1,577.4 2772.3,568.1 2769.9,559.7 2771,551.6 2770.5,545.5 2772.7,537.5 2769.7,528 2771.7,520.6 2770.4,514.2 2771.1,505.3 2772,498.1 2769.3,490.1 2771,482 2771.1,475.2 2770.4,468.6 2773.6,459.5 2771.7,453.6 2773.5,444.2 2770.8,437.9 2772.8,428.7 2771,422.6 2772.4,415 2770.6,405.8 2772.5,399.1 2770.6,391.8 2770,384.9 2770.8,378.9 2767.8,373.7"/><polygon points="2805.7,368.7 2805.2,374.1 2801.8,380.6 2803.3,386.8 2805.3,395.6 2802,402.1 2802.9,411.1 2802.2,419.6 2805.6,427.3 2800.4,433.4 2804.4,442.6 2804,449.7 2802.1,458.3 2803.1,466.3 2804.6,473.7 2799.9,481.2 2806.6,490.6 2799.1,499.4 2807.1,506.3 2799.7,514.5 2806.6,521.1 2799.3,529.7 2805.2,538.9 2801.7,545.7 2802.3,553.8 2804.1,562.1 2802.7,568.9 2800.6,578.2 2802.8,585.8 2803.5,593.3 2798.1,601.8 2802.5,608.9 2799.3,615.9 2796.8,624 2799.2,631.6 2797.3,639 2798.3,648.2 2794.9,655.6 2797.2,661.8 2794.6,670.5 2795.8,677.7 2793.7,685.6 2794.6,695 2793,700.9 2793.3,710.5 2791.4,717.2 2792.1,726.5 2790.5,732.1 2792.3,741.9 2789.6,748.6 2789.7,756.6 2790,763.6 2787.4,770.6 2789.1,777.5 2787,784.5 2788.8,789 2788.7,796.8 2786,804.7 2788.9,813.4 2788.5,819.3 2792,828.4 2788.5,836.4 2787.5,845.1 2785.6,852.8 2791.7,860.4 2789.4,868.1 2788.7,876 2785.5,884.5 2790.6,891.7 2789.6,900.5 2789.1,907.6 2785.6,915.7 2790.1,923.5 2790.3,930 2789.7,939.7 2785.2,947 2788.6,955.9 2789.1,963.1 2791.3,970.2 2787.8,977.4 2788.8,986.4 2786.4,994.4 2789.9,1001.5 2788.6,1010.8 2790.7,1017 2788.4,1027 2789.8,1034.1 2787.3,1042.8 2789.5,1050.5 2786.8,1058 2789,1066.4 2787.7,1074 2789.9,1080.7 2787.5,1088.5 2790.2,1097.5 2788,1104.9 2790.3,1113.9 2788.2,1119.5 2790.7,1129.7 2788.3,1137.4 2790.5,1144.1 2788.5,1153.2 2790,1159.1 2787.6,1167.9 2789,1177 2785.8,1184.3 2788,1192.5 2785.7,1199.4 2789.4,1207.8 2788.7,1215.7 2792.2,1223.8 2789.3,1230.3 2789.1,1239.2 2785.1,1246.1 2789,1256 2789.1,1263.4 2792.1,1271.8 2786,1279 2787.1,1287.6 2789.4,1294 2791.3,1301.5 2785.8,1310.7 2789.3,1319 2789.7,1324.9 2787.6,1335.2 2788.2,1342.5 2790.4,1349.8 2786.2,1357.4 2791.1,1365.6 2786.2,1372.9 2791.4,1381.4 2786.5,1389.2 2791,1397.5 2787.2,1405.8 2790.3,1413.2 2788.7,1420.9 2787.6,1428.2 2791.1,1436.6 2789.3,1443.6 2790.9,1452.7 2789.6,1459.6 2791.7,1467.3 2791.7,1476.2 2792.2,1485.1 2796,1492.5 2794.6,1498.9 2797.7,1507.6 2797.7,1515.4 2800.1,1519.7 2807,1526.2 2810.7,1531.5 2809.4,1538.4 2812.4,1544 2813,1549.8 2814.7,1556.6 2818.7,1561.1 2818.7,1565.9 2817.4,1574.1 2821.5,1581.2 2818.8,1588.2 2824.6,1594.1 2822.2,1602.1 2822.8,1608 2825.7,1616.2 2839.2,1616.2 2841.7,1610.3 2842.2,1604.1 2839.2,1596.3 2843.3,1589.6 2838,1583.9 2839.7,1576.7 2839.3,1570.9 2836.1,1564.6 2837.9,1556.7 2835.2,1550.5 2834.1,1543.3 2834.5,1535.7 2832.1,1527.1 2833.3,1521.2 2829.9,1513.3 2831.4,1506.2 2829,1498.2 2829.8,1490.9 2827.2,1481.8 2827.2,1475.2 2828.1,1467.4 2825.2,1460.1 2826.2,1453 2824.3,1446.6 2825.2,1439.4 2822.2,1432.1 2823.2,1424.9 2824.6,1417.2 2821.7,1408.7 2822.9,1401.5 2820.4,1393.8 2822.7,1387 2820.9,1377.2 2822.2,1370.7 2820.9,1362.3 2822.3,1354 2820.3,1347.7 2820.2,1339.5 2821.6,1332.3 2819.5,1324.6 2821.2,1318.3 2819.1,1309.9 2821.1,1302.9 2818.7,1296.5 2820.8,1288.5 2818.7,1280.5 2820.6,1274.2 2817.8,1266.6 2817.2,1259.1 2819.5,1251.3 2816.6,1244 2818,1236.5 2815.9,1227.7 2817.3,1218.9 2814.6,1213.1 2816,1205.1 2813.4,1195.7 2814.2,1188.8 2815,1180.2 2812.7,1172.5 2814.2,1164.5 2811.8,1158.3 2813.5,1149.3 2811,1142.4 2812.8,1135.2 2811.2,1126.5 2811.2,1118.4 2812.8,1110.5 2810.1,1103.5 2812.4,1095.4 2809.9,1088.5 2811.7,1080.2 2810.1,1072.1 2811.8,1064.7 2808.8,1055.4 2810.9,1049.9 2808.3,1041.2 2810.4,1033.4 2808.3,1025.6 2809.7,1017.9 2810.7,1010.1 2809.5,1001.9 2811,994.9 2808.4,987.3 2809.9,977.5 2808.8,970.9 2810.9,962.3 2810.5,953.4 2812,947 2808.3,938 2810.3,930.2 2809.9,923.6 2812.5,915.4 2809.3,907.5 2810.1,898 2810.5,891.2 2812.8,882.7 2808.3,876.4 2812.2,867.3 2810.7,860 2810.2,851.8 2811.5,844.3 2812.1,836.3 2809.6,827.4 2813.1,819 2808.9,810.9 2813.3,803.4 2809.4,795.5 2813,787.1 2810.5,781.4 2812.1,773.3 2811.1,764.1 2812.4,757.2 2811.2,749.6 2813.3,740.9 2811,733.1 2812.4,725.4 2810.6,716 2813.6,708.9 2812,701.7 2813.5,691.9 2811.5,685.5 2813.7,676.9 2811.9,669.7 2813.7,662.1 2811.5,654.1 2813.2,644.5 2811.8,637.1 2813.9,630.7 2811.2,621.3 2814.1,612.6 2813,605.8 2812.5,598 2812.9,591.5 2812.8,584.2 2813,575.7 2813.3,567.2 2812.6,558.8 2814.7,551.5 2811.2,543.8 2812.8,536 2812.3,528.1 2815,520.2 2811,512.5 2812.7,505.9 2813.3,496.2 2813,488.7 2812,481.1 2812.7,473.5 2813.2,466.5 2813.3,456.5 2811.1,448.8 2812.6,442.9 2812.2,433.1 2813.5,425.3 2811.6,419.4 2812.8,410.5 2811.8,403.1 2814.1,393.7 2812.5,386.8 2809.7,381.2 2812.1,375.7 2810.1,368.7"/><polygon points="2847.9,356.6 2848.4,363.6 2847.6,369.8 2846.1,374.7 2849.9,381.4 2843.1,389.8 2849.4,398.8 2843.1,406.6 2848.6,413.5 2843.7,421.5 2847.8,429.7 2844,437.7 2847.1,444.7 2845,452.6 2847.5,460.4 2844.7,467.3 2847.1,476.4 2844.9,484.6 2847.2,492.4 2844.3,499.5 2847.4,507.9 2844.9,514.7 2846.1,522.9 2845.1,530.1 2847,539.8 2843.6,546.8 2846.7,555.7 2845.4,561.7 2847.8,570.1 2845.3,576.9 2845.6,585.8 2844.7,592.6 2841.9,599.8 2842.6,608.9 2842.1,615.9 2839.2,624.4 2841.5,631.4 2839,639.1 2840,647.8 2837.6,654.6 2839.5,662.2 2835.8,669.5 2838,678.7 2835,686.2 2835.5,694.7 2833,702.8 2834.5,709.5 2831.1,717.9 2832.9,725.6 2829.5,732.5 2830.8,741 2827.7,747.6 2830.9,756.6 2829.3,763.2 2826.9,770.3 2829.8,776.3 2827.4,783.6 2829.2,790.1 2829.9,796.8 2826.8,804.7 2829.4,812.2 2827.6,821.2 2830,829.2 2827.7,836 2830.2,843.3 2828.2,852 2831.3,859.5 2828.6,867.4 2831,875.3 2829.5,884.9 2831.2,891.5 2829.1,900.9 2831.6,907.5 2829.3,914.8 2830.7,923.4 2828.3,931.5 2830.2,939.2 2828.2,948 2830.6,956.2 2829.6,963.8 2831.9,971.2 2830.2,979.3 2831.1,986.7 2827.5,995.2 2829.5,1003.2 2829.3,1011.8 2833.3,1019.7 2829.8,1027 2829.1,1035.7 2827.8,1041.4 2832.6,1051.1 2830,1058.1 2828.9,1065.6 2827.5,1075.1 2833.9,1082.3 2828.6,1090.6 2829.4,1097 2830.9,1106.1 2830.4,1113.4 2828.3,1121.3 2832.9,1128.6 2826.6,1136.6 2833.7,1144.7 2827.1,1153.4 2832.6,1161.3 2827.3,1168.7 2832.2,1177.6 2827,1185.4 2832.2,1193.5 2828,1200.7 2830.7,1209.6 2829.8,1216.2 2831.4,1224 2828.2,1231.6 2830.9,1240.7 2829.4,1249.7 2831.5,1256.2 2829.4,1264.3 2831,1273.6 2828.4,1279.7 2831,1287.1 2829.2,1296.2 2831.2,1303.2 2829.2,1311 2831,1320.7 2828.4,1327.9 2832.2,1335.6 2828.2,1344.9 2831.5,1352 2828.5,1360.2 2831.1,1366.4 2828.2,1374.6 2832.2,1384.5 2828.4,1390.5 2830.1,1399.9 2830.6,1406.2 2832.6,1415.6 2827.7,1422.4 2829.9,1431 2832,1438.8 2832.1,1445.8 2831.7,1454.5 2828.3,1463.4 2835.6,1470.1 2829.6,1477.4 2832.9,1486.2 2832.8,1495 2836.6,1502.4 2840.1,1510.5 2838,1517.1 2838.9,1525.4 2844.7,1529.7 2846.2,1535.7 2851.9,1541.5 2855.6,1548.1 2853.4,1553.6 2856.1,1559.2 2855.9,1566.6 2858.1,1571.9 2859.9,1576 2860.8,1582.2 2861.1,1590 2862.5,1598.6 2862,1604.6 2863.4,1612.2 2866.1,1619.5 2866.9,1626.2 2880.4,1626.2 2884.1,1620.7 2883.4,1614.2 2881.3,1607.1 2881.6,1600.1 2880.3,1593.3 2880.9,1586.7 2882.6,1579.8 2878.2,1574.2 2877.4,1566.6 2876.4,1560.6 2873.6,1551.9 2876.5,1545 2874.6,1536.6 2875.1,1529.6 2870.9,1520.6 2871.4,1513.5 2869.3,1505.1 2871.7,1497.6 2869.4,1489.7 2868.4,1481.2 2868.7,1474.2 2865.5,1465.3 2866.5,1457.3 2865.2,1450.4 2867,1443.7 2864.5,1435.2 2864.4,1427.9 2864.7,1420.2 2862.5,1414.2 2864.4,1405.5 2862.7,1397.5 2864.5,1391.1 2861.8,1383.6 2863.4,1376.4 2861.1,1369.7 2863.3,1360.9 2860.9,1353.4 2863.4,1346.3 2861.4,1339.5 2859.7,1332 2861.2,1324.9 2859.6,1318.2 2861.7,1311 2859.5,1304.1 2860.3,1296.3 2858.4,1287.3 2861.1,1280.3 2858.3,1273.1 2858.4,1267.4 2858.4,1259.1 2858.1,1250.4 2858,1244 2855.2,1235.1 2859.8,1226.7 2855.2,1220.2 2856.7,1211.6 2856.2,1204.5 2855.1,1196.3 2855.4,1188.8 2853.1,1182 2856.3,1173.2 2853.7,1165.5 2855.2,1156.9 2852.6,1149.9 2854.9,1141.7 2850.9,1133.8 2855.4,1125.5 2852.4,1118.4 2851.2,1110.8 2854.1,1103.5 2850.8,1095.4 2852.3,1086.7 2851.7,1078.7 2853.6,1072 2850.9,1063.4 2852.3,1057 2849.7,1049.6 2851.8,1040.4 2849.7,1033.1 2851.6,1026.1 2850.9,1017.9 2849.9,1010.8 2852.6,1001.4 2850.8,993 2852,985.3 2850.4,979.1 2851.8,970.3 2851.1,962.7 2852.4,954.2 2850.3,947.4 2852.7,938 2851.5,930 2852.4,923.9 2850,914.2 2852.5,907.9 2851.3,898.2 2853.4,892.1 2851.5,883.9 2852.5,876.2 2850.1,866.5 2853.2,859.2 2852,851.5 2852.2,844.7 2852,836.4 2854.8,827.4 2852.2,819.9 2852.9,811 2851.9,805 2855.1,795.4 2853.8,786.9 2852.9,780.9 2852.8,773 2853.6,763.4 2852.8,756.2 2853.2,749.1 2853.5,741 2854.5,733.1 2851.3,725.9 2855.1,717.6 2853.6,708.5 2855,699.8 2851.7,692 2854.4,684.2 2853.3,676.7 2855.4,669.2 2852.9,662.1 2855,654.5 2854,645.4 2855.5,637.2 2852.7,630.5 2855.3,621.2 2854.2,613.5 2854.6,605.8 2855.7,599.5 2853.6,591.3 2855.6,582.8 2854.6,575.7 2854,567.2 2855.1,559.5 2853.9,551.7 2855.3,543.6 2854.2,537 2855.2,528.9 2853.5,521.3 2856,513.4 2852.5,506.7 2855,498.2 2854.4,489.9 2855.2,483.2 2852.1,474.8 2855.2,467.3 2854.3,460.4 2856.5,452.6 2853.2,445.2 2853.7,436.8 2851.6,429 2854.8,420.9 2853.7,413.7 2856,405.2 2854.5,399.1 2856.4,390.5 2854.7,382.7 2854.1,374.7 2856,368.5 2853.6,362.3 2852.3,356.6"/><polygon points="2889.6,350.6 2889.6,595.8 2893.1,600.2 2890.9,605.8 2891.7,613.7 2892.2,620.9 2888.9,627.4 2887.4,636 2889.2,644.6 2885.4,653 2886.4,659.8 2882.6,668.6 2882.9,676 2879.7,683.8 2880.5,692.2 2877.5,698.7 2879.1,708 2875.7,714.4 2877.4,722.3 2875.4,730.7 2877.1,739.4 2874.6,746.6 2876.3,754.9 2873.5,763.6 2875.5,772 2873.1,778 2872.2,786.8 2874,792.4 2870.8,801 2873.3,806.5 2870.1,814 2871.7,819.2 2871.2,827 2869.9,834.2 2871.6,842.9 2870,849.7 2872.6,859.7 2870.6,867.3 2872.9,875.6 2869.7,882.6 2872.1,889.6 2869.3,897.2 2872.4,905.7 2870.5,913.8 2873.9,921.8 2870,930.2 2871.1,936.7 2868.8,945.1 2873,954 2872.1,961.4 2872.1,970.3 2868.2,977.7 2873.1,986.3 2871.9,994 2870.8,1001.7 2869.1,1009.7 2875,1018.2 2869.2,1025.2 2870.7,1032.9 2873.1,1041 2870.7,1049 2871,1057.6 2873.5,1063.7 2868.8,1073.4 2874.4,1079.7 2867.8,1087.9 2874.4,1096.4 2868.4,1105 2873.1,1112.4 2869.7,1121 2871.4,1128.6 2871.4,1137 2871.6,1142.9 2869.5,1152.4 2873,1158.9 2871,1168.3 2871.8,1175.3 2869,1184.3 2872.1,1191.5 2869.4,1198.8 2871.6,1208 2869.7,1214.5 2872.3,1224 2869.3,1232.1 2871.9,1239.8 2870.9,1246.6 2872.3,1254.7 2869.5,1262 2872.3,1270.4 2870.8,1278.8 2871.6,1285.9 2871,1294.9 2872.2,1301.7 2869.7,1310.2 2873.5,1318.4 2868.3,1326.7 2873.3,1333.3 2871.1,1341 2870.7,1350.9 2870.3,1357.4 2874.1,1366.8 2868.3,1374.3 2873.1,1382.4 2869.9,1388.5 2872,1398.4 2868.8,1404.6 2875,1413.5 2869.8,1420.9 2870,1428.6 2868.4,1437.8 2871.2,1445 2875.5,1453.5 2869,1460.2 2875.7,1469.4 2871.1,1475.9 2872.8,1483.5 2871.5,1491.9 2874.2,1500.3 2877.6,1508.9 2874.4,1516.8 2879.5,1524.8 2878.4,1532.5 2880.2,1539.5 2885.1,1543.8 2887.6,1549.7 2893.2,1555.6 2895.6,1562.7 2894.9,1569.1 2897.1,1573.9 2897.2,1580.7 2896.6,1586 2900.9,1592.4 2901.2,1598.1 2900.6,1605.5 2902.9,1613.2 2901.4,1619.6 2905.4,1627.1 2904.7,1634.3 2905.3,1641.2 2908.2,1648.3 2921.7,1648.3 2924.5,1641.3 2924.7,1636.3 2923.3,1629.6 2924.5,1622.8 2921.8,1616.1 2922.2,1608.8 2922.3,1602.3 2919.6,1596 2920.3,1587.3 2917.5,1582.6 2917.7,1574.7 2917.9,1567.4 2915,1559.3 2917.2,1550.6 2914.8,1544.2 2914.9,1535 2911.5,1527.1 2913,1521 2911.4,1512 2912.9,1504.9 2910,1496.5 2909.7,1489.6 2908.7,1482.9 2906.2,1475.3 2908.7,1469.2 2906.9,1460.4 2909.1,1454.3 2907,1447.7 2908.2,1440.1 2905.7,1432.2 2904.6,1424.9 2904.9,1416.4 2902.3,1408.9 2904.2,1402 2902.2,1393.3 2904.9,1385.3 2903.7,1377.6 2906.1,1371.3 2903.6,1362.9 2905.1,1355.3 2902.9,1347.3 2902.7,1339.5 2903.1,1331.8 2900.6,1325.9 2902,1317.8 2900.2,1309.7 2901.9,1304.1 2900.2,1296.5 2902.7,1287.8 2899.9,1280.2 2901.3,1272.8 2898.7,1265.3 2899.7,1259.1 2899.9,1252.4 2898.1,1244 2899.9,1234.7 2897.5,1227.7 2899.3,1220.4 2896.5,1213.3 2898.2,1204.6 2895.9,1195.9 2896.7,1188.8 2897.9,1181.9 2895.9,1174.1 2896.3,1166.2 2894.1,1158.6 2896,1148.7 2894.1,1141.2 2895.8,1134.8 2892.1,1125.6 2893.7,1118.4 2895.6,1111.5 2893.5,1102.3 2893.5,1094.3 2892,1087.7 2895.2,1078.7 2892,1072.1 2892.6,1064 2893.7,1056.5 2892.7,1048.2 2891.3,1042.3 2894.8,1032.6 2890.1,1025.6 2892.2,1017.9 2891.4,1010.1 2892.4,1002.7 2891.8,993.3 2892.4,985.5 2892.1,979.1 2891.8,970.8 2893.6,961.5 2890.2,954.9 2894.2,945.4 2891.7,937.3 2892.6,929.3 2890.9,921.5 2893.8,914.9 2891.9,906.3 2893.9,898.6 2892.2,890.6 2893.7,881 2892,874.7 2893.9,865.2 2891.5,858.9 2892.9,850.8 2891.4,842.6 2893.2,832.8 2891.8,825.4 2893.1,817.8 2892,810.3 2893.1,801.3 2891.8,794.9 2893.3,784.8 2891.3,777.8 2893.6,771.1 2892.1,761.3 2893,753.2 2892.9,746.1 2892.4,738.1 2892.7,729.2 2892.2,721.5 2892.7,714.6 2892.7,706.5 2891.3,698.3 2894.8,689.2 2892.8,681.3 2894.7,673.9 2893.2,665.3 2893.5,657.9 2890.9,649.1 2894.6,641.9 2892.4,633.2 2892.7,626 2892.6,618.8 2891.5,611.2 2894.9,604.2 2894,595.8 2894,350.6"/><polygon points="2927.6,762.6 2930.3,768.7 2926.2,775.6 2925.3,780.7 2924,788.2 2922.1,793.1 2927.3,801.4 2924.8,806.8 2924,813.5 2922.8,823.1 2918.6,829.2 2921.3,837 2922.9,844.6 2920.1,850.2 2920.6,858.1 2914.9,866.8 2914.5,873.7 2911.9,880.6 2913.5,887.2 2915.6,894.2 2913.6,901.5 2915.3,907 2911.3,914.4 2912.1,920.2 2912.5,927.5 2910.5,935.3 2913.8,943.6 2912.1,951.5 2914.3,958.7 2911.3,968.6 2912.3,975.4 2910.5,984.3 2913.7,990.9 2911.8,999.6 2914,1006.3 2910.8,1014.9 2913.1,1022.6 2911.4,1031.2 2913.6,1039.4 2911.9,1046.8 2913.6,1056 2911.1,1062.4 2913.4,1071.3 2912.5,1079.5 2913.5,1087.4 2910.4,1094.4 2913.4,1103.3 2913.2,1111.2 2913.6,1118.9 2910,1126.8 2914.4,1136.1 2912.5,1142.9 2911.5,1151.1 2912,1159.9 2914.5,1167.3 2908.6,1176 2916.2,1182.2 2910.8,1192 2913.7,1199.7 2912.3,1207.6 2911.6,1215.7 2913,1224.4 2911.8,1230.5 2912.9,1238.8 2912.6,1247.7 2911.5,1254.5 2915.4,1263.3 2909.1,1271.7 2914.2,1278.1 2913,1288.2 2911.6,1294.8 2910.8,1303.6 2914.7,1310.6 2913,1319.1 2914.2,1328 2911.1,1335.7 2913.6,1344.1 2910.8,1351.2 2913.5,1359.6 2911.3,1368.1 2914.2,1374.3 2912.2,1383.7 2914.3,1390.4 2911.1,1398.6 2913.5,1408 2911.2,1414.7 2914.2,1422.6 2910.9,1431.3 2913,1438.5 2911.6,1446.2 2912.5,1455.1 2913.3,1462.3 2912.3,1470.2 2915.5,1477.7 2913.9,1486 2916.8,1495.4 2914.8,1503.5 2915.5,1510.3 2919.2,1517.1 2917.6,1526 2918.6,1533.7 2920.8,1541.2 2921.5,1549.5 2929.2,1555.8 2929.4,1559.6 2934.5,1565.6 2934,1572.2 2932.8,1578.3 2936.4,1584.3 2938.5,1590.8 2940.5,1595.9 2944.3,1603.5 2942.5,1608.1 2942.2,1615.8 2945.1,1622.3 2942.9,1630 2945.8,1637.3 2946,1644.3 2944.4,1651.8 2949.5,1658.4 2963,1658.4 2965,1652.6 2966,1646.3 2963.8,1639 2966.5,1631.6 2963.7,1626.1 2963.5,1618.9 2963.2,1611.2 2960.9,1605.3 2962.3,1599.1 2959.2,1591 2959,1584.7 2959.4,1578.4 2958.2,1570.3 2957.6,1561.9 2954.8,1555.2 2957.6,1548.6 2952.9,1540.1 2955.2,1531.9 2953.8,1525.3 2952.3,1517 2952.8,1511 2951.7,1503.8 2951,1495.7 2949.3,1488.5 2951.6,1479.4 2947.6,1473.3 2951.1,1464.4 2946.5,1458.3 2950.7,1450 2945.8,1442.1 2947,1435.2 2948.6,1428 2945.4,1418.1 2946.6,1410.3 2945.1,1403.9 2947.4,1395.7 2944.5,1386.2 2945.1,1379.9 2943.4,1372.3 2946.2,1364 2943.5,1354.6 2945.3,1347.9 2944,1339.5 2942.8,1333.1 2944.6,1325.6 2941.5,1316.8 2944.5,1309.8 2941.4,1302.3 2943.6,1296.4 2940.8,1287.6 2942.8,1280.2 2940.5,1274.1 2942.6,1267 2941,1259.1 2939.3,1252.4 2940.3,1243.3 2938.9,1234.8 2941,1227.4 2938.7,1220.3 2940.9,1212.1 2938.3,1204 2939.2,1197.3 2938,1188.8 2935,1180.7 2937.9,1172.2 2936.7,1164.5 2938.6,1156.8 2934.6,1150.6 2935.3,1141.9 2935.7,1133.6 2937.8,1126.6 2935,1118.4 2933.5,1110.5 2937.4,1103.9 2933.8,1095.6 2934.3,1087.6 2934.1,1079.9 2936.7,1073 2932.1,1063.9 2933.8,1056.8 2933.8,1048.7 2935.5,1041.3 2931.6,1033.8 2933.3,1025.3 2933.5,1017.9 2933.4,1009.8 2934.8,1002.1 2931.8,995.2 2933.9,986 2933.1,977.2 2935.2,970.2 2933.5,962 2934.8,954 2932.9,945.4 2934.4,938 2933.1,931.4 2935.3,921.3 2933.1,915.6 2935.6,905.3 2933.4,899.6 2935.5,890.7 2933.5,882.6 2935.7,874.7 2934.3,867.3 2936.1,859.5 2933.9,851.4 2936,843.3 2934.5,836 2934.8,827 2936.8,818.8 2933.9,812.1 2935.4,805.4 2934.8,796.8 2932.6,791.1 2933.7,786.4 2934.3,780.7 2931.5,773.8 2933.9,768.8 2932,762.6"/><polygon points="2959.9,924.4 2954.6,929.5 2954.9,934.9 2952.3,941.9 2954.6,949.2 2953.2,954.6 2952.4,962.8 2954.5,970 2952,978.1 2954.2,986.5 2952.2,992.5 2955.2,1000.8 2952,1009 2954.1,1015.2 2952.2,1024 2955.4,1032.6 2952.7,1039 2952.9,1046.9 2952.2,1053.8 2956.4,1061.8 2951.5,1069.9 2953.3,1078.2 2954.6,1084.4 2954.6,1093.3 2950.8,1101.9 2953.7,1108.4 2953.5,1115.5 2953,1123 2956.6,1132.2 2951.8,1138.8 2958.5,1146.6 2951.1,1154.7 2958.9,1162.7 2952.1,1171.3 2958.6,1178 2953.3,1185.9 2957.4,1192.8 2956.5,1200.6 2955.3,1208.4 2956.7,1216 2959.4,1225.8 2954.1,1232.1 2957.1,1239.7 2957.7,1247.9 2957.7,1255.6 2959.1,1264.4 2956.2,1271.3 2959,1279.1 2957.3,1287.2 2960.2,1295.3 2959.2,1302.7 2962,1310.4 2960.2,1320.4 2963.5,1328.4 2961.4,1334.7 2963.3,1343.1 2962.7,1351.3 2962.4,1358.1 2965.6,1366.2 2962.1,1372.7 2966,1381.6 2963.1,1388.6 2966.8,1395.4 2964.4,1402.1 2968.5,1411 2964.3,1416.9 2967.1,1425.9 2967.1,1431.6 2967.7,1439.6 2970.6,1447 2968.9,1455.1 2971.8,1461.7 2970.5,1468.2 2972.6,1475.7 2968.5,1482.6 2969.8,1490.9 2970.3,1498.5 2975.6,1505.7 2972.7,1513.2 2970.4,1521.7 2977.7,1527.9 2971.9,1535.5 2974.9,1543.1 2977,1549 2974.9,1557.5 2976.2,1565 2977.2,1572.1 2977,1580.6 2979.8,1587.8 2980.1,1595.2 2978.5,1601.3 2984.4,1608.4 2982.2,1616.2 2982.8,1623.8 2987.6,1631.4 2983.9,1639.1 2987.2,1645.7 2991.9,1652.9 2992.2,1660.4 3007.7,1660.4 3011.2,1654.4 3012.4,1649.2 3010.2,1645.7 3007,1638.7 3009.3,1630.3 3008.2,1623.6 3007.9,1615.1 3009.3,1608.5 3005.4,1601.8 3006.4,1594.1 3005.7,1586.8 3004,1579 3006.4,1571.4 3003.6,1565.1 3004.8,1556.9 3003.2,1550 3001.2,1542.3 3003.4,1536 3001.3,1527.3 3002.4,1520.3 3000.4,1513.8 3001.5,1507 3000.2,1498.5 2998.9,1492.2 3000.6,1482.7 2997.7,1476.7 2998.8,1468.3 2997,1462.1 2998.5,1454.4 2995.5,1447.8 2996.2,1439.6 2996.6,1432.3 2995,1425.7 2995.6,1417.5 2992.6,1410.1 2995.3,1402 2992.5,1395 2992.4,1387.5 2992.1,1381.1 2993.3,1373.7 2991.2,1366 2991.4,1359 2990.5,1351.7 2988.9,1344.4 2990.5,1336.1 2987,1328.8 2990.8,1321.1 2985.2,1313.9 2989.1,1306.5 2984.9,1299 2986.2,1292.4 2986.6,1284.9 2983.5,1277.3 2987.1,1270.5 2982.5,1262 2985,1255.6 2983.9,1248.1 2984.9,1240 2981.4,1232.5 2982.9,1225.8 2982.2,1218.8 2981.4,1211.4 2982.8,1204 2980.3,1197.3 2981.7,1189.9 2979,1183 2980.7,1173.8 2978.2,1167.8 2980.5,1158.9 2977.9,1153.1 2979.4,1144.3 2977.2,1136.7 2978.2,1130.5 2978.7,1122 2976.7,1116.5 2978.3,1109 2975.8,1100.8 2978,1093.1 2976,1085.4 2977.7,1078.5 2974.7,1070.6 2977.6,1065 2975.7,1056.9 2974.7,1050.1 2975.7,1042.6 2975.1,1034.6 2974.9,1026.3 2973.3,1021.2 2975.2,1013.5 2973.9,1006.2 2974.2,998 2975.2,991.3 2972.1,983.6 2973,977 2973.4,970.2 2975.4,961.3 2973.2,954.6 2971.7,947.2 2973.9,942.9 2968.3,935.2 2969.6,929.5 2964.3,924.4"/><polygon points="2996.5,972.7 2991.2,977.7 2991.1,983.3 2988.4,989.3 2990.7,996.9 2988.2,1002.8 2987.4,1009.8 2989,1017.7 2987.4,1026.9 2990.2,1034.8 2986.9,1041.9 2989.4,1049.3 2988.2,1058.4 2989.5,1065.2 2987,1073.7 2990.3,1081.6 2988,1089 2989.1,1098.6 2986.7,1104.9 2989.3,1113.6 2989,1122.5 2990.9,1130.1 2987.5,1136.9 2988.7,1145.6 2987.9,1153.3 2986.3,1161.3 2989.4,1167.9 2989.1,1175.4 2993.2,1182.9 2991.2,1191.1 2993.7,1199.9 2990.8,1206.7 2991.9,1214.8 2988.8,1223.4 2990.5,1229.7 2988,1238.4 2990.6,1245.6 2988.9,1253.4 2992.5,1260.2 2991.3,1269.7 2994.9,1276.5 2992.7,1284 2993.7,1290.8 2996.5,1299.5 2994.5,1306.4 2996.3,1313 2993.6,1321.7 2995.7,1328.8 2993.4,1336.6 2996.1,1343.9 2994.4,1352.2 2997.2,1359.4 2996.5,1367.1 2997.7,1373.9 3000.2,1382.3 2998.3,1389.2 3000.6,1396.4 2998.4,1402.9 3000.7,1410.8 2998.6,1418.1 3002.1,1427.1 3000.1,1434 3003.8,1441.2 3001.6,1450.3 3002.7,1456.9 3003.9,1464.9 3001.7,1472.2 3005.6,1479.8 3004.6,1487.6 3007.4,1495.2 3004.3,1502.3 3006.4,1509.9 3005.7,1518.5 3007.7,1526.1 3009.8,1534.8 3005.7,1542.7 3009.8,1548.8 3011.4,1558.5 3011.7,1565.8 3008.8,1574.5 3012.2,1581.4 3015.1,1587.8 3010.5,1595.8 3017.3,1602.7 3015.6,1609.8 3014.6,1615.2 3017.2,1622.9 3017.8,1628.9 3018.7,1636 3022.4,1642.8 3022.2,1650.6 3028.1,1658.4 3027.2,1664.4 3042.7,1664.4 3046.2,1658.4 3045.2,1650.6 3046.9,1643.6 3041.7,1636 3043.2,1629.8 3045.5,1623.4 3040.5,1616.4 3042.4,1608.4 3042,1601 3040.7,1595.2 3041.9,1587.6 3038.9,1581.3 3039.6,1575.3 3038.5,1568.4 3038.2,1560.7 3039.9,1553.9 3034.9,1546.7 3039,1540.6 3034.1,1533.1 3038,1525.7 3033.6,1518.7 3035.2,1512.2 3036.4,1504.6 3032.3,1497.4 3034.6,1487.9 3031.9,1479.7 3032.7,1471.7 3031.4,1464.3 3031.2,1456.9 3031.5,1450.3 3029.4,1440.5 3030.1,1433.9 3028.5,1425.7 3029.1,1418.4 3027.2,1409.6 3028.3,1402.8 3026.2,1396.6 3026.2,1387.7 3025.9,1379.7 3024.1,1372.9 3026.2,1364.1 3022.6,1355.8 3023.7,1349.2 3021.1,1341.3 3022.9,1333 3020.2,1325.5 3021.2,1318.5 3021.8,1310.5 3019,1303.8 3020.5,1296.2 3017.3,1287 3018.4,1279.3 3016.1,1273.3 3018.5,1263.7 3017.7,1258.1 3017.2,1249.4 3019.1,1242.7 3015.4,1235.4 3015.8,1226.9 3013.2,1218.8 3016,1210.9 3014.3,1204.6 3017,1197.3 3014.3,1188.8 3014.8,1180.8 3011,1174.5 3013.2,1166.4 3013.4,1157.8 3012,1150.9 3014.4,1144.3 3012,1134.9 3014,1127.4 3011.1,1120.5 3011.5,1112.7 3008.9,1105.6 3010.7,1097.2 3010.8,1088.7 3008.9,1080.3 3011.2,1073.8 3008.7,1065.4 3010.8,1057.1 3008.7,1049.9 3009.2,1041.8 3010.4,1033.3 3008.4,1025.1 3009.7,1018 3007.7,1009.8 3008.2,1002.8 3009,995.6 3006.5,990.6 3007.7,984.1 3006.2,977.7 3000.9,972.7"/><polygon points="3037.7,1018.9 3032.4,1023.9 3031.7,1030.5 3030.4,1036.9 3032.2,1041.8 3029.4,1049.1 3029.2,1057.5 3030.1,1065.8 3029.4,1072.8 3029.8,1080.3 3029.6,1089.1 3029.7,1095.4 3029,1103.1 3029.9,1110.8 3028.9,1120.2 3031,1126 3028.1,1134.3 3031.6,1143.9 3029.1,1150.1 3030.3,1158.5 3028.6,1165 3031.3,1174.1 3029.9,1181.8 3028.4,1189.6 3030.4,1196.3 3029.9,1206 3033,1212.1 3031.6,1220.1 3033.1,1228.8 3030.5,1236.2 3031.9,1242.3 3029.3,1251.9 3031.8,1257.7 3029.8,1265.2 3031.6,1273.4 3030.4,1281.3 3033.4,1289.5 3031.7,1297.8 3034.1,1303.3 3033.9,1312.1 3033.8,1318.6 3036.5,1327.1 3035.2,1334.9 3038.3,1342.7 3036.6,1350.6 3039.9,1358.2 3038.3,1365.4 3040.4,1374 3039,1380.4 3041.9,1388 3038.9,1396.8 3039.9,1405.7 3042.9,1413.5 3040.6,1420.7 3042.9,1429.1 3041.3,1434.9 3042.7,1443.5 3040.7,1452.1 3043.4,1459.3 3041.8,1467 3043.9,1475 3045,1481.1 3043.6,1489.4 3046.7,1497.3 3045,1504 3048.5,1510.2 3046.6,1519.4 3049.9,1525.5 3047.9,1532.7 3048.9,1540.1 3050.1,1547.3 3048.6,1554.1 3051.6,1563.4 3050.3,1569.1 3054.1,1577.5 3052.5,1585.8 3053.4,1592.3 3055.8,1599.8 3053,1607.3 3056.3,1615 3056.9,1623.2 3058.4,1631.4 3061.5,1637.3 3057.9,1644.8 3061.2,1651.9 3063.4,1657.4 3067.1,1665 3068.4,1670.4 3083.9,1670.4 3087.4,1664.4 3086.4,1657.4 3085.8,1651.8 3083,1643.2 3084.4,1637.9 3086.1,1630.6 3082.9,1624.8 3083.2,1617.4 3080.3,1611.7 3081.9,1605.3 3083.4,1599.1 3081.2,1592.8 3082.5,1586.2 3078.7,1579.1 3079.4,1572.7 3078.6,1564.5 3077.6,1558.1 3080.4,1550.9 3077.6,1542.5 3079,1533.9 3076.4,1527.1 3073.6,1520.1 3075,1511.7 3074,1505 3075.7,1497.1 3073.9,1490.2 3074.3,1481.5 3072.4,1475 3070.4,1466.7 3071.5,1460.9 3069.3,1452.1 3071.8,1446 3069,1439.4 3070.6,1431.8 3067.7,1424.1 3069,1417.2 3067.4,1409.8 3065.9,1403.6 3067.5,1394.4 3064.8,1387.7 3066.6,1379.9 3063.7,1372.6 3065.2,1365.4 3062.4,1359.6 3064.2,1352.8 3062.4,1344.7 3060.9,1337.3 3062.1,1330.3 3059.4,1323.5 3061.6,1315.4 3060.2,1308.1 3061,1301.8 3057.8,1294.9 3059.3,1286.3 3058.4,1279.5 3058,1271.3 3057.8,1263 3056,1256.2 3059.3,1247.4 3055.1,1241.5 3056,1233.5 3056.3,1225.1 3055.8,1216.6 3052.9,1209.5 3054.4,1201.3 3053.9,1193.3 3053.2,1187 3054.8,1178.7 3051.6,1171.7 3055.4,1164.7 3050.4,1158.2 3054.6,1149.9 3049.6,1143.9 3051.9,1136.2 3051.8,1129.5 3050.9,1120.8 3052.4,1113.4 3049,1105.6 3053,1099.4 3049.9,1091.3 3050.4,1084.1 3051.6,1076.5 3049.6,1070.3 3050.7,1063.6 3048.3,1055.2 3049.4,1049.1 3050.7,1043.2 3047.5,1037.4 3049.1,1029.5 3047.4,1023.9 3042.1,1018.9"/><polygon points="3079,1065.1 3073.7,1070.2 3073.7,1076.8 3070.6,1083.9 3072.5,1089.6 3070.7,1095.3 3069.8,1103.9 3072,1110.1 3069,1117.3 3071.2,1126.9 3069.6,1133.3 3072.8,1140.4 3069.6,1148.5 3071.5,1155.4 3069.8,1165.1 3073.3,1172.4 3070.4,1180 3070.6,1187.5 3070,1195.3 3073.8,1201.4 3069.4,1209.4 3071.2,1217.5 3074.3,1224.6 3070.3,1232.7 3070.9,1240 3073.2,1248.6 3072.3,1255.8 3070.4,1263.5 3076.4,1270.6 3069.7,1279.2 3077.6,1285.2 3069.7,1294.6 3077.7,1301.4 3070.8,1309.8 3078.1,1317.5 3070.8,1323.6 3078.4,1332.2 3075.2,1339.3 3073,1348 3079.2,1354.3 3076.1,1362.3 3076.2,1371.3 3076.3,1378.9 3080.7,1387.4 3078.1,1395 3080,1403.1 3077,1411.3 3080.2,1418.5 3081.9,1426.4 3080.9,1432.3 3083.9,1440.2 3080.6,1447 3083.1,1456.2 3081.9,1461.8 3084.6,1470.6 3083.6,1476.7 3085.6,1484.4 3085.2,1491.7 3084.1,1498.2 3088.4,1506.4 3085.3,1514 3089.1,1522.5 3087.2,1529.3 3090.1,1536.5 3088,1544.2 3090.2,1552.6 3091.5,1558.4 3089.1,1566.2 3093.4,1573.8 3092.6,1581.3 3096.2,1587.6 3094.5,1594.7 3094.7,1601.3 3098.2,1608.6 3095.7,1616.4 3096.8,1622.2 3096.2,1631.6 3099.7,1637.9 3104.3,1644.5 3099.6,1650.6 3102.8,1655.5 3104.7,1662.3 3107.9,1668 3109.7,1674.5 3125.2,1674.5 3128.7,1668.4 3127.7,1662.3 3127.6,1655.7 3124.7,1650.6 3125.7,1644 3126.1,1636.7 3123.8,1628.1 3125.1,1621.4 3123.2,1613.5 3121.6,1604.8 3123.1,1599.2 3120.3,1591.7 3120.7,1583.1 3120.9,1576.6 3118.6,1569.8 3120.1,1562.7 3118.2,1553.7 3119.3,1547.1 3117.7,1540.4 3116.1,1532.4 3117.5,1525.3 3115.8,1518.5 3116.3,1513.4 3113.5,1504.6 3114.9,1499.4 3113.7,1491.7 3111.4,1482.9 3113,1477.2 3111.9,1469.5 3111.8,1460.1 3108.4,1454.6 3112,1446.2 3107.5,1437.8 3108.7,1430.7 3109.6,1423.3 3104.9,1415.2 3109.3,1407.7 3104,1399.3 3108,1391.8 3102.7,1386 3106.2,1378.3 3103.7,1369.8 3102.5,1363.3 3104.6,1353.6 3099.4,1347.4 3103.5,1338.2 3101.3,1331.3 3100.7,1323.3 3098.4,1317.1 3099.7,1308.9 3100.7,1300.6 3097.5,1293.6 3099,1287 3096.5,1280.8 3098.9,1271.6 3097.2,1265.7 3098.6,1257.5 3095.6,1249.9 3097.3,1242.6 3095.7,1235.7 3094.4,1228.9 3095.4,1220.1 3093.6,1213 3095.3,1204.5 3093.5,1197.4 3095.4,1189.2 3092.3,1183.6 3093.2,1174.8 3093.8,1166.7 3092.3,1160.5 3093.6,1153.4 3091.9,1146.4 3093,1139.1 3090.8,1133.3 3091.7,1126.1 3091.7,1117.3 3089.6,1110.6 3091.6,1101.9 3090.7,1095.3 3089.1,1090 3090.2,1082.2 3087.2,1077.1 3088.7,1070.2 3083.4,1065.1"/><polygon points="3120.3,1114.4 3115,1119.4 3116.5,1125.6 3110.6,1131.8 3111.3,1137.9 3112,1144.5 3112.6,1153.5 3115.6,1159.6 3111.6,1167.3 3111.2,1177.2 3109,1183.7 3112.4,1192.2 3112.5,1199.1 3115.7,1208.8 3111.8,1215.1 3112.4,1223.5 3109.7,1230.5 3112.7,1240.5 3111.9,1248.2 3112.5,1255.4 3114.1,1263.4 3111.6,1269.3 3112.9,1277.9 3111.4,1284.7 3115.2,1292.8 3113.9,1301.4 3116.4,1306.9 3113.5,1314.4 3115,1323.7 3113.6,1330.8 3116.2,1338.9 3115.4,1345.9 3117.1,1352.5 3115,1360.2 3116.5,1368.2 3118.1,1376.4 3117.3,1383.1 3119.3,1390.5 3116.5,1397.7 3119.1,1405.9 3119,1412.1 3121.9,1419.7 3119.5,1426.4 3120.8,1433.7 3121.5,1441.6 3122.6,1449.7 3122.7,1456 3120.5,1464.6 3126.6,1470.9 3122.7,1479.6 3123.6,1485.5 3126.2,1494.7 3126.6,1501.4 3126.5,1509.3 3128.6,1516 3126.6,1524 3128.3,1530.6 3130.6,1538.2 3126.9,1545.3 3132.8,1552.5 3127.4,1557.7 3131.5,1565.7 3131.7,1572.3 3132.8,1580.1 3135.2,1588.3 3131.2,1596.5 3138.7,1604.5 3136,1610.8 3134.4,1617 3140.3,1624 3137.6,1630 3139.7,1638 3141,1644.6 3142.6,1652.3 3146.8,1660.7 3146,1667.2 3146.9,1673.5 3151,1678.5 3166.5,1678.5 3170,1672.5 3169,1667.2 3168.6,1661.5 3167.6,1656.4 3167,1650.3 3167.7,1642.8 3164.8,1636.2 3166,1628.4 3164.5,1622.1 3162.2,1614.6 3164.5,1609.1 3161.3,1600 3162,1593.9 3161.6,1586.9 3160,1577 3160.6,1569.2 3158.7,1563.4 3159,1554.4 3158.6,1547.8 3156.7,1539.6 3157.9,1532.2 3155,1525.4 3156.2,1516 3155,1509.3 3153.8,1501.3 3154.6,1495.4 3151.6,1488.9 3153.1,1481.8 3150.9,1473.5 3152.5,1467.6 3150.2,1458.9 3150,1452.8 3151.2,1446.1 3148.5,1439.8 3149.2,1431.7 3146.6,1425 3148.1,1416.6 3144.8,1410.3 3145.6,1402.4 3145,1396.4 3142.7,1389.9 3143.8,1381.2 3141.2,1375.7 3143,1367.7 3140,1362 3141.5,1353.8 3139,1347.3 3141,1340 3139.8,1331.5 3137.7,1324.5 3138.9,1316.6 3136.8,1310 3138.4,1302.6 3136.1,1295.2 3137.9,1288.3 3135,1280.6 3137,1272.3 3136.8,1265.6 3134.3,1258.8 3136.8,1250.1 3134.6,1243 3136.3,1237.1 3134.2,1230.4 3136.2,1222.9 3134.5,1215.9 3133.9,1209.3 3135,1200.5 3133.4,1192.2 3135,1185.6 3132.5,1178.4 3133,1170.8 3133.3,1163.1 3130.9,1157.8 3133.2,1150.5 3132,1144.5 3130.3,1137.7 3131.7,1133.1 3129.6,1124.7 3130,1119.4 3124.7,1114.4"/><polygon points="3161.5,1156.6 3156.2,1161.6 3158.4,1168.1 3154.6,1174 3152.3,1181.2 3153.2,1186.7 3152.3,1193.5 3152.6,1202.9 3154.3,1211.1 3152,1218.9 3154.8,1225 3152.5,1233.3 3154.4,1241.2 3152.8,1249.3 3153.3,1257.9 3155.2,1264.6 3151.4,1272.6 3156.4,1279.9 3153.7,1287.8 3153.8,1294.7 3154.8,1302.6 3152.7,1310.1 3156.9,1318.8 3152.6,1325 3157.3,1331.7 3153.6,1341 3157.5,1348.9 3154.1,1355.8 3158.5,1362.4 3155.1,1370.5 3158.5,1377.2 3156.3,1384.9 3157.7,1392.8 3159.7,1401.5 3158,1409.2 3160.1,1414.9 3158.9,1422.4 3162,1429.7 3160.8,1438.4 3163.5,1446.8 3161.4,1454.4 3162.7,1461 3163.7,1468.6 3162.4,1476.7 3164.6,1484.4 3163.5,1492.3 3166.1,1500.9 3165.2,1508.8 3169,1516.7 3167.7,1524 3169.4,1531.6 3172.7,1539.7 3169.5,1546.3 3170.9,1553.4 3168.1,1561.3 3170.4,1568.9 3172.7,1576.5 3170.9,1583.7 3175.3,1589.9 3175.6,1596.3 3179.7,1605.3 3177.2,1612.5 3177.2,1618.5 3179.8,1627.2 3178,1633.3 3180.3,1641.5 3182.2,1650 3180.8,1657.6 3185.9,1663.9 3187.2,1671 3188.2,1677.2 3192.2,1681.5 3207.7,1681.5 3211.2,1675.5 3210.2,1671 3209.1,1662.3 3208.2,1655.3 3206.5,1647.9 3209.3,1641 3206.6,1636.3 3205.7,1629 3204.7,1622.1 3201.8,1616.4 3204.2,1609.7 3203.2,1602.8 3203.1,1595 3203.6,1589.2 3199.5,1579.8 3200,1573.2 3200.2,1566 3198.6,1558.7 3201.2,1551.5 3199,1545.4 3199.6,1538.7 3195.6,1531.9 3196.2,1524 3195.4,1516.5 3193.5,1509.5 3195.6,1500.4 3193.5,1495 3193.8,1486.6 3191,1478.1 3191.2,1471.5 3190.8,1463.4 3188.5,1457.5 3190.8,1450 3187.8,1441.3 3188.8,1435.2 3185.4,1426.5 3186.2,1419 3186.5,1412.6 3184.3,1405 3185.6,1397 3182.5,1388.1 3183.7,1381.8 3181.9,1374.3 3182.2,1366.6 3183.1,1359 3179.7,1350 3180.9,1342.3 3179.9,1335.2 3181.6,1326 3177.4,1319 3179.3,1312.6 3178.2,1303.6 3177.2,1296.2 3177.6,1289.7 3177.1,1280.3 3178.4,1274.2 3174.2,1266.4 3177.7,1257.5 3175.7,1251.1 3173,1244 3177.7,1236.5 3173.4,1229 3174.8,1222.8 3174.3,1216.4 3174.2,1209.1 3176.7,1202.4 3170.8,1195.1 3173.2,1186.7 3172,1180.6 3172.8,1174.1 3170.9,1168.4 3171.2,1161.6 3165.9,1156.6"/><polygon points="3202.8,1204.8 3197.5,1209.9 3198,1216.7 3193.9,1222.1 3195.7,1229.6 3194.5,1235 3194,1242 3194.2,1250.5 3192.3,1257.7 3196.2,1264.9 3195.2,1271.2 3196.4,1279 3191.9,1286.4 3193.9,1295.3 3193.5,1303.2 3197.7,1310.7 3196.4,1317.9 3195,1324.5 3195.1,1332.5 3192.2,1340.2 3195.3,1349.3 3196.1,1355.5 3199.8,1364.1 3198,1372.7 3198.4,1381.2 3195.3,1389.2 3197,1395.3 3195.5,1403.5 3200.2,1413.3 3199,1420.2 3200,1426.9 3202.5,1434.7 3199.3,1443 3201,1450.5 3199.3,1460 3203,1465.7 3203,1474.3 3204,1482.5 3206.3,1489.6 3204.5,1497.3 3206.8,1503.2 3204.4,1511.9 3208,1519.3 3206.6,1526 3209.8,1532.6 3209,1539.9 3209,1546.8 3211.3,1554.1 3209.8,1561.2 3213.1,1567.7 3212,1573.8 3215.2,1580.3 3214,1587.8 3212.7,1596.6 3216.3,1604.2 3216,1610 3219.2,1619.6 3218.5,1626.1 3217.8,1633.8 3222.4,1641.3 3222.5,1648.4 3223.5,1654.8 3225,1660.5 3226.6,1667.9 3228.5,1673.9 3231.1,1678.4 3233.5,1683.5 3249,1683.5 3252.5,1677.5 3251.5,1673.9 3250.4,1665.6 3249.5,1659.6 3246.8,1654.7 3249.6,1646.8 3246.6,1641.1 3247,1635.6 3247.9,1628.6 3244.4,1623.1 3246.2,1618.6 3244.5,1611.7 3242.6,1604.9 3244.9,1597.6 3241.7,1591.1 3242.6,1584.9 3241.5,1578.2 3239.9,1571.2 3240.4,1562.1 3238.2,1554.3 3238.9,1547.6 3237.5,1539.9 3235.4,1533.8 3237.7,1526.2 3234.5,1519.2 3235.6,1511.7 3232.1,1505.2 3233.9,1499.8 3232.5,1492 3231.4,1486 3232.5,1479.4 3230.6,1472 3231.4,1465.7 3228.1,1456.9 3229,1451.8 3227.5,1444.2 3225.5,1437 3225.9,1430.8 3223.6,1424.3 3224.5,1417.7 3222.3,1408.8 3223.5,1403.7 3223.5,1396.3 3220.4,1389.4 3222.8,1382.3 3220.6,1373.7 3221.8,1367.5 3219.7,1360.5 3221.7,1353.3 3218.8,1345.9 3219.5,1338.9 3220.9,1331.8 3218.4,1322.7 3220.3,1314.8 3218.1,1305.9 3219.1,1299.1 3217,1291 3216.7,1284.4 3218.5,1275.8 3216.1,1268.6 3217.2,1259.8 3215.5,1252.7 3214.1,1246.8 3215.5,1240.9 3214.5,1235 3212.9,1229 3213.7,1223 3211.6,1215.1 3212.5,1209.9 3207.2,1204.8"/><polygon points="3244,1254.1 3238.7,1259.1 3239,1265.6 3236,1272.3 3237.3,1276.8 3235.7,1284.2 3235.2,1290.8 3237.1,1299.5 3233.9,1306.5 3236.8,1316.4 3235.4,1322.4 3237.9,1329.7 3234.2,1338.9 3236.7,1346.6 3235.3,1353.2 3236.2,1361.7 3237.8,1370.6 3234.6,1378.2 3239.7,1385.7 3237.2,1391.9 3237.6,1399.9 3238.1,1408 3241.5,1416.5 3235.9,1424.3 3242.1,1433.3 3239.2,1440.8 3240.2,1447.8 3244.9,1453.6 3238,1461.2 3244.9,1468.4 3241.5,1475.7 3243.4,1483.1 3244,1490.5 3243.9,1497 3245.2,1503.7 3244.6,1512.2 3246.8,1517.5 3247.7,1525.7 3247.1,1532.3 3248.6,1539.5 3251.5,1547.5 3250.2,1555.4 3250.2,1562.2 3254.7,1568.8 3251.1,1577.7 3253.8,1583.4 3253.7,1590.3 3255.2,1598.4 3257.4,1605.9 3254.6,1611.8 3258.3,1618 3258.7,1625.6 3259.7,1632.9 3261.4,1640.2 3261.1,1645.9 3264.7,1653 3264.7,1658.7 3264.9,1663.2 3269.5,1670.1 3269.7,1675.9 3271.8,1679.1 3274.7,1684.5 3290.2,1684.5 3293.7,1678.5 3292.7,1675.9 3292.3,1670.1 3290.7,1663 3288.8,1656.1 3291.2,1649.7 3288.2,1641.5 3285.6,1635 3286.4,1628.2 3285.7,1620 3284.9,1612.5 3286.4,1604.7 3283.3,1596.2 3282.7,1589.8 3281.7,1582.7 3278.9,1576.1 3281.7,1568.2 3279.8,1561.8 3278.7,1555.4 3279,1549.1 3275,1541.7 3276,1535 3273.1,1525.7 3275.2,1519.2 3273.7,1512.3 3273.2,1505.9 3273.9,1498.7 3270,1491.3 3270.5,1483.8 3268.1,1476.1 3268.7,1469.3 3269,1462.9 3266.7,1455.3 3268.4,1447 3265.1,1440.6 3266.3,1433.9 3264.7,1426.3 3262.9,1418.7 3264.6,1412 3262,1404.9 3263.6,1397.1 3260.7,1388.2 3261.7,1381 3260.7,1374.6 3259.7,1367.5 3260.9,1359.5 3259,1353 3260,1346.4 3257.6,1338.7 3258.2,1331.6 3259.2,1324.2 3257.5,1318.9 3258.1,1310.6 3255.5,1303.7 3256.7,1297.1 3258.3,1290.4 3255.7,1284.2 3253.4,1276.9 3255.2,1272.2 3254.2,1265.8 3253.7,1259.1 3248.4,1254.1"/><polygon points="3285.3,1292.3 3280,1297.3 3280,1304.6 3276.9,1309.8 3279,1316.8 3277,1322.4 3275.9,1330.3 3277.3,1336.6 3276.2,1345.5 3279.2,1351.8 3276.7,1361.2 3276.6,1369.1 3276.6,1376.2 3280.1,1382.5 3277.5,1390.8 3276,1399.7 3281.3,1407.3 3276,1414.9 3280.8,1421.6 3279.1,1429.1 3279,1437.2 3281.5,1445.5 3279,1452.8 3283,1460.8 3281.5,1469.7 3286.2,1477.8 3278.8,1485.3 3286.9,1491 3281.2,1500.1 3287.5,1506 3284.6,1512.8 3286.5,1520.9 3290.5,1528.6 3287.8,1536.8 3288.1,1545.3 3288.5,1553.4 3293.7,1559.3 3291.5,1568.2 3290.2,1575.5 3293.2,1584.2 3293.8,1592.2 3297.3,1599.4 3296.5,1607.7 3296.3,1615.5 3299.1,1624.4 3298.7,1630.2 3301,1639.2 3302.8,1645.8 3303,1650.3 3305.3,1655.8 3306,1662.9 3306.9,1669 3310.1,1673.4 3311,1678.6 3313.3,1682.8 3316,1686.5 3331.5,1686.5 3335,1680.5 3334,1678.6 3333.6,1672.4 3332,1666.8 3329.2,1659.2 3331,1654.2 3329.5,1647.1 3328.6,1641.1 3328.9,1635 3327,1627.4 3324.5,1620.3 3326.4,1612.5 3324.3,1607.2 3324,1599.8 3323.9,1591.6 3320.9,1584 3321.4,1575.5 3320,1568.2 3318.5,1561.2 3319.5,1551.8 3316,1544.4 3316.6,1536.4 3315,1528.8 3313.3,1521.6 3313.3,1513.5 3310.8,1504.3 3312.8,1498 3310,1489.4 3307.1,1480.4 3309.1,1474.4 3307.5,1466 3306.9,1456.8 3306,1450 3305.4,1441.2 3304.4,1435.2 3303.4,1427.2 3304.6,1419.2 3300.6,1409.9 3302,1402.7 3301.2,1395.5 3301.7,1386.1 3300.1,1379 3300.6,1371.6 3299.5,1363.2 3301.2,1354.8 3297.8,1348.6 3298.2,1340.6 3298,1331.7 3295.5,1326.1 3297,1322.4 3296.1,1316.1 3296.3,1310.3 3295.5,1303.7 3295,1297.3 3289.7,1292.3"/></g>

<polygon points="2471.8,404.9 2474,410.8 2480.4,411.1 2475.4,415.1 2477.1,421.2 2471.8,417.7 2466.5,421.2 2468.2,415.1 2463.2,411.1 2469.6,410.8" fill="#bf00bf" stroke="#bf00bf" stroke-width="1.5"/><line x1="2483.8" y1="535.5" x2="2483.8" y2="1178.7" stroke="#bf00bf" stroke-width="2.6" opacity="0.38"/><polygon points="2513.6,399.9 2515.8,405.8 2522.1,406.1 2517.2,410 2518.9,416.2 2513.6,412.6 2508.3,416.2 2510,410 2505,406.1 2511.3,405.8" fill="#bf00bf" stroke="#bf00bf" stroke-width="1.5"/><line x1="2525.1" y1="535.5" x2="2525.1" y2="1178.7" stroke="#bf00bf" stroke-width="2.6" opacity="0.38"/><polygon points="2555.3,397.9 2557.5,403.8 2563.9,404.1 2558.9,408 2560.6,414.1 2555.3,410.6 2550,414.1 2551.7,408 2546.8,404.1 2553.1,403.8" fill="#bf00bf" stroke="#bf00bf" stroke-width="1.5"/><line x1="2566.3" y1="535.5" x2="2566.3" y2="1178.7" stroke="#bf00bf" stroke-width="2.6" opacity="0.38"/><polygon points="2597.1,394.8 2599.3,400.8 2605.6,401.1 2600.7,405 2602.4,411.1 2597.1,407.6 2591.8,411.1 2593.5,405 2588.5,401.1 2594.9,400.8" fill="#bf00bf" stroke="#bf00bf" stroke-width="1.5"/><line x1="2607.6" y1="535.5" x2="2607.6" y2="1178.7" stroke="#bf00bf" stroke-width="2.6" opacity="0.38"/><polygon points="2638.8,387.8 2641.1,393.8 2647.4,394 2642.4,398 2644.1,404.1 2638.8,400.6 2633.5,404.1 2635.2,398 2630.3,394 2636.6,393.8" fill="#bf00bf" stroke="#bf00bf" stroke-width="1.5"/><line x1="2648.8" y1="535.5" x2="2648.8" y2="1178.7" stroke="#bf00bf" stroke-width="2.6" opacity="0.38"/><polygon points="2681.6,387.8 2683.8,393.8 2690.2,394 2685.2,398 2686.9,404.1 2681.6,400.6 2676.3,404.1 2678,398 2673,394 2679.4,393.8" fill="#bf00bf" stroke="#bf00bf" stroke-width="1.5"/><line x1="2690.1" y1="535.5" x2="2690.1" y2="1178.7" stroke="#bf00bf" stroke-width="2.6" opacity="0.38"/><polygon points="2723.9,371.7 2726.1,377.7 2732.4,377.9 2727.5,381.9 2729.2,388 2723.9,384.5 2718.6,388 2720.3,381.9 2715.3,377.9 2721.6,377.7" fill="#bf00bf" stroke="#bf00bf" stroke-width="1.5"/><line x1="2731.4" y1="555.6" x2="2731.4" y2="1178.7" stroke="#bf00bf" stroke-width="2.6" opacity="0.38"/><polygon points="2765.6,364.7 2767.8,370.6 2774.2,370.9 2769.2,374.9 2770.9,381 2765.6,377.5 2760.3,381 2762,374.9 2757.1,370.9 2763.4,370.6" fill="#bf00bf" stroke="#bf00bf" stroke-width="1.5"/><line x1="2772.6" y1="535.5" x2="2772.6" y2="1178.7" stroke="#bf00bf" stroke-width="2.6" opacity="0.38"/><polygon points="2807.9,359.7 2810.1,365.6 2816.4,365.9 2811.5,369.8 2813.2,376 2807.9,372.4 2802.6,376 2804.3,369.8 2799.3,365.9 2805.7,365.6" fill="#bf00bf" stroke="#bf00bf" stroke-width="1.5"/><line x1="2813.9" y1="636.0" x2="2813.9" y2="1178.7" stroke="#bf00bf" stroke-width="2.6" opacity="0.38"/><polygon points="2850.1,347.6 2852.4,353.6 2858.7,353.8 2853.7,357.8 2855.4,363.9 2850.1,360.4 2844.8,363.9 2846.5,357.8 2841.6,353.8 2847.9,353.6" fill="#bf00bf" stroke="#bf00bf" stroke-width="1.5"/><line x1="2855.1" y1="636.0" x2="2855.1" y2="1178.7" stroke="#bf00bf" stroke-width="2.6" opacity="0.38"/><polygon points="2891.8,341.6 2894,347.5 2900.4,347.8 2895.4,351.7 2897.1,357.9 2891.8,354.4 2886.5,357.9 2888.2,351.7 2883.2,347.8 2889.6,347.5" fill="#bf00bf" stroke="#bf00bf" stroke-width="1.5"/><line x1="2896.4" y1="656.1" x2="2896.4" y2="1178.7" stroke="#bf00bf" stroke-width="2.6" opacity="0.38"/><polygon points="2929.8,753.6 2932,759.6 2938.3,759.8 2933.4,763.8 2935.1,769.9 2929.8,766.4 2924.5,769.9 2926.2,763.8 2921.2,759.8 2927.5,759.6" fill="#bf00bf" stroke="#bf00bf" stroke-width="1.5"/><line x1="2937.7" y1="857.1" x2="2937.7" y2="1178.7" stroke="#bf00bf" stroke-width="2.6" opacity="0.38"/><polygon points="2962.1,915.4 2964.3,921.4 2970.7,921.7 2965.7,925.6 2967.4,931.7 2962.1,928.2 2956.8,931.7 2958.5,925.6 2953.6,921.7 2959.9,921.4" fill="#bf00bf" stroke="#bf00bf" stroke-width="1.5"/><line x1="2963.6" y1="974.7" x2="2963.6" y2="1631.0" stroke="#bf00bf" stroke-width="3.4" opacity="0.5"/><polygon points="2998.7,963.7 3000.9,969.6 3007.2,969.9 3002.3,973.8 3004,980 2998.7,976.5 2993.4,980 2995.1,973.8 2990.1,969.9 2996.5,969.6" fill="#bf00bf" stroke="#bf00bf" stroke-width="1.5"/><line x1="3000.2" y1="1022.9" x2="3000.2" y2="1633.0" stroke="#bf00bf" stroke-width="3.4" opacity="0.5"/><polygon points="3039.9,1009.9 3042.2,1015.8 3048.5,1016.1 3043.5,1020.1 3045.2,1026.2 3039.9,1022.7 3034.6,1026.2 3036.3,1020.1 3031.4,1016.1 3037.7,1015.8" fill="#bf00bf" stroke="#bf00bf" stroke-width="1.5"/><line x1="3041.4" y1="1069.2" x2="3041.4" y2="1637.0" stroke="#bf00bf" stroke-width="3.4" opacity="0.5"/><polygon points="3081.2,1056.1 3083.4,1062.1 3089.8,1062.4 3084.8,1066.3 3086.5,1072.4 3081.2,1068.9 3075.9,1072.4 3077.6,1066.3 3072.6,1062.4 3079,1062.1" fill="#bf00bf" stroke="#bf00bf" stroke-width="1.5"/><line x1="3082.7" y1="1115.4" x2="3082.7" y2="1643.0" stroke="#bf00bf" stroke-width="3.4" opacity="0.5"/><polygon points="3122.5,1105.4 3124.7,1111.3 3131,1111.6 3126.1,1115.5 3127.8,1121.7 3122.5,1118.2 3117.2,1121.7 3118.9,1115.5 3113.9,1111.6 3120.2,1111.3" fill="#bf00bf" stroke="#bf00bf" stroke-width="1.5"/><line x1="3124.0" y1="1164.6" x2="3124.0" y2="1647.0" stroke="#bf00bf" stroke-width="3.4" opacity="0.5"/><polygon points="3163.7,1147.6 3165.9,1153.5 3172.3,1153.8 3167.3,1157.8 3169,1163.9 3163.7,1160.4 3158.4,1163.9 3160.1,1157.8 3155.2,1153.8 3161.5,1153.5" fill="#bf00bf" stroke="#bf00bf" stroke-width="1.5"/><line x1="3165.2" y1="1206.8" x2="3165.2" y2="1651.0" stroke="#bf00bf" stroke-width="3.4" opacity="0.5"/><polygon points="3205,1195.8 3207.2,1201.8 3213.5,1202 3208.6,1206 3210.3,1212.1 3205,1208.6 3199.7,1212.1 3201.4,1206 3196.4,1202 3202.8,1201.8" fill="#bf00bf" stroke="#bf00bf" stroke-width="1.5"/><line x1="3206.5" y1="1255.1" x2="3206.5" y2="1654.1" stroke="#bf00bf" stroke-width="3.4" opacity="0.5"/><polygon points="3246.2,1245.1 3248.5,1251 3254.8,1251.3 3249.8,1255.2 3251.5,1261.4 3246.2,1257.9 3240.9,1261.4 3242.6,1255.2 3237.7,1251.3 3244,1251" fill="#bf00bf" stroke="#bf00bf" stroke-width="1.5"/><line x1="3247.7" y1="1304.3" x2="3247.7" y2="1656.1" stroke="#bf00bf" stroke-width="3.4" opacity="0.5"/><polygon points="3287.5,1283.3 3289.7,1289.2 3296.1,1289.5 3291.1,1293.4 3292.8,1299.5 3287.5,1296 3282.2,1299.5 3283.9,1293.4 3278.9,1289.5 3285.3,1289.2" fill="#bf00bf" stroke="#bf00bf" stroke-width="1.5"/><line x1="3289.0" y1="1342.5" x2="3289.0" y2="1657.1" stroke="#bf00bf" stroke-width="3.4" opacity="0.5"/><path d="M2473.7 1472.2V1490.2M2464.7 1481.2H2482.7" stroke="#ff0000" stroke-width="3" fill="none"/><path d="M2476 1479.2V1497.2M2467 1488.2H2485" stroke="#ff0000" stroke-width="3" fill="none"/>
</g>
<rect x="2418.5" y="122.0" width="952.5" height="1634.0" fill="none" stroke="#5c5c5c" stroke-width="5.0" opacity="0.8"/>
<g stroke="#5c5c5c" stroke-width="4.2" opacity="0.85"><line x1="2461.1" y1="1756.0" x2="2461.1" y2="1767.5"/><line x1="2648.1" y1="1756.0" x2="2648.1" y2="1767.5"/><line x1="2835.1" y1="1756.0" x2="2835.1" y2="1767.5"/><line x1="3022.1" y1="1756.0" x2="3022.1" y2="1767.5"/><line x1="3209.1" y1="1756.0" x2="3209.1" y2="1767.5"/><line x1="2407.0" y1="1641" x2="2418.5" y2="1641"/><line x1="2407.0" y1="1440" x2="2418.5" y2="1440"/><line x1="2407.0" y1="1239" x2="2418.5" y2="1239"/><line x1="2407.0" y1="1038" x2="2418.5" y2="1038"/><line x1="2407.0" y1="837" x2="2418.5" y2="837"/><line x1="2407.0" y1="636" x2="2418.5" y2="636"/><line x1="2407.0" y1="435" x2="2418.5" y2="435"/><line x1="2407.0" y1="234" x2="2418.5" y2="234"/></g>
<g font-family='"DejaVu Sans","Liberation Sans",sans-serif' font-size="29.9" fill="#262626" stroke="#262626" stroke-width="0.55"><text x="2461.1" y="1800.5" text-anchor="middle">0</text><text x="2648.1" y="1800.5" text-anchor="middle">1000</text><text x="2835.1" y="1800.5" text-anchor="middle">2000</text><text x="3022.1" y="1800.5" text-anchor="middle">3000</text><text x="3209.1" y="1800.5" text-anchor="middle">4000</text><text x="2396.5" y="1651.8" text-anchor="end">0.2</text><text x="2396.5" y="1450.8" text-anchor="end">0.4</text><text x="2396.5" y="1249.8" text-anchor="end">0.6</text><text x="2396.5" y="1048.8" text-anchor="end">0.8</text><text x="2396.5" y="847.8" text-anchor="end">1.0</text><text x="2396.5" y="646.8" text-anchor="end">1.2</text><text x="2396.5" y="445.8" text-anchor="end">1.4</text><text x="2396.5" y="244.8" text-anchor="end">1.6</text><text x="2419.5" y="112.5">1e9</text><text x="2894.8" y="1842.0" text-anchor="middle">Database sampling</text></g>
<text x="2727.8" y="104" font-family='"DejaVu Sans","Liberation Sans",sans-serif' font-size="35.4" fill="#262626" stroke="#262626" stroke-width="0.55">Prediction</text>
<g transform="translate(2926.5,82.5)" font-family='"Liberation Serif","DejaVu Serif",serif' font-style="italic" fill="#45404a"><text x="0" y="0" font-size="52" textLength="33" lengthAdjust="spacingAndGlyphs">σ</text><text x="31" y="11" font-size="38" textLength="78" lengthAdjust="spacingAndGlyphs">xy,e</text><text x="110" y="22.5" font-size="29" textLength="40" lengthAdjust="spacingAndGlyphs">xy</text></g>
<g transform="translate(2311.5,1004) rotate(-90) scale(1.03)" font-family='"Liberation Serif","DejaVu Serif",serif' font-style="italic" fill="#45404a"><text x="0" y="0" font-size="52" textLength="33" lengthAdjust="spacingAndGlyphs">σ</text><text x="31" y="11" font-size="38" textLength="78" lengthAdjust="spacingAndGlyphs">xy,e</text><text x="110" y="22.5" font-size="29" textLength="40" lengthAdjust="spacingAndGlyphs">xy</text></g>
<rect x="2998.5" y="138" width="356" height="143" rx="6" ry="6" fill="#fff" fill-opacity="0.8" stroke="#cccccc" stroke-opacity="0.8" stroke-width="3"/>
<line x1="3007.5" y1="162.5" x2="3071.5" y2="162.5" stroke="#ff0000" stroke-width="5.2" opacity="0.9"/>
<path d="M3039.5 153.5V171.5M3030.5 162.5H3048.5" stroke="#ff0000" stroke-width="3" fill="none"/>
<text x="3095.5" y="173" font-family='"DejaVu Sans","Liberation Sans",sans-serif' font-size="29.9" fill="#262626" stroke="#262626" stroke-width="0.55">NN_prediction</text>
<line x1="3007.5" y1="207.8" x2="3071.5" y2="207.8" stroke="#00bfbf" stroke-width="5.2" opacity="0.9"/>
<path d="M3039.5 198.3L3049 216.8H3030Z" fill="#00bfbf" stroke="#00bfbf" stroke-width="2"/>
<text x="3095.5" y="218.3" font-family='"DejaVu Sans","Liberation Sans",sans-serif' font-size="29.9" fill="#262626" stroke="#262626" stroke-width="0.55">NN_prediction_S</text>
<line x1="3007.5" y1="253.2" x2="3071.5" y2="253.2" stroke="#bf00bf" stroke-width="5.2" opacity="0.9"/>
<polygon points="3039.5,243.7 3041.8,250 3048.5,250.3 3043.3,254.4 3045.1,260.9 3039.5,257.2 3033.9,260.9 3035.7,254.4 3030.5,250.3 3037.2,250" fill="#bf00bf" stroke="#bf00bf" stroke-width="1.5"/>
<text x="3095.5" y="263.7" font-family='"DejaVu Sans","Liberation Sans",sans-serif' font-size="29.9" fill="#262626" stroke="#262626" stroke-width="0.55">Data value</text>
</svg></body></html>
